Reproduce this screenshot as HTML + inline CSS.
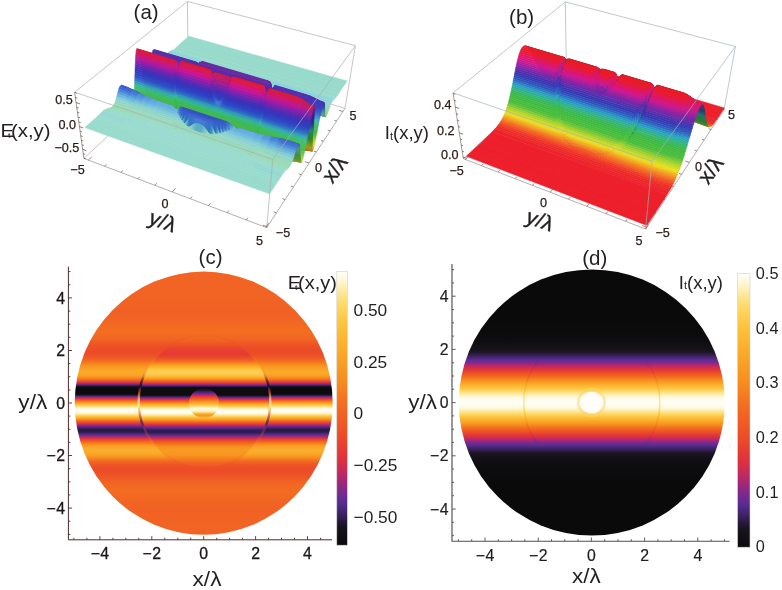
<!DOCTYPE html>
<html><head><meta charset="utf-8"><title>Figure</title>
<style>html,body{margin:0;padding:0;background:#fff}svg{display:block}text{font-family:"Liberation Sans",sans-serif}</style></head>
<body>
<svg width="782" height="590" viewBox="0 0 782 590">
<defs>
<linearGradient id="gc0" gradientUnits="userSpaceOnUse" x1="0" y1="271.60" x2="0" y2="534.80"><stop offset="0.0000" stop-color="#f16423"/><stop offset="0.0063" stop-color="#f16423"/><stop offset="0.0125" stop-color="#f16423"/><stop offset="0.0187" stop-color="#f16423"/><stop offset="0.0250" stop-color="#f16423"/><stop offset="0.0312" stop-color="#f16423"/><stop offset="0.0375" stop-color="#f16423"/><stop offset="0.0437" stop-color="#f16423"/><stop offset="0.0500" stop-color="#f16423"/><stop offset="0.0563" stop-color="#f16423"/><stop offset="0.0625" stop-color="#f16423"/><stop offset="0.0688" stop-color="#f16423"/><stop offset="0.0750" stop-color="#f16423"/><stop offset="0.0813" stop-color="#f16423"/><stop offset="0.0875" stop-color="#f16423"/><stop offset="0.0938" stop-color="#f16423"/><stop offset="0.1000" stop-color="#f16423"/><stop offset="0.1062" stop-color="#f16323"/><stop offset="0.1125" stop-color="#f16323"/><stop offset="0.1187" stop-color="#f16323"/><stop offset="0.1250" stop-color="#f16223"/><stop offset="0.1313" stop-color="#f16223"/><stop offset="0.1375" stop-color="#f16223"/><stop offset="0.1437" stop-color="#f06124"/><stop offset="0.1500" stop-color="#f06124"/><stop offset="0.1562" stop-color="#f06124"/><stop offset="0.1625" stop-color="#f16223"/><stop offset="0.1688" stop-color="#f16223"/><stop offset="0.1750" stop-color="#f16323"/><stop offset="0.1812" stop-color="#f16423"/><stop offset="0.1875" stop-color="#f16623"/><stop offset="0.1938" stop-color="#f26722"/><stop offset="0.2000" stop-color="#f26922"/><stop offset="0.2062" stop-color="#f26b22"/><stop offset="0.2125" stop-color="#f36c21"/><stop offset="0.2188" stop-color="#f36d21"/><stop offset="0.2250" stop-color="#f36d21"/><stop offset="0.2313" stop-color="#f36d21"/><stop offset="0.2375" stop-color="#f36c21"/><stop offset="0.2437" stop-color="#f26a22"/><stop offset="0.2500" stop-color="#f26722"/><stop offset="0.2562" stop-color="#f16423"/><stop offset="0.2625" stop-color="#f06024"/><stop offset="0.2687" stop-color="#ef5b25"/><stop offset="0.2750" stop-color="#ee5726"/><stop offset="0.2812" stop-color="#ed5227"/><stop offset="0.2875" stop-color="#ed4f27"/><stop offset="0.2938" stop-color="#ec4c28"/><stop offset="0.3000" stop-color="#ec4b28"/><stop offset="0.3063" stop-color="#ec4b28"/><stop offset="0.3125" stop-color="#ec4d28"/><stop offset="0.3187" stop-color="#ed5127"/><stop offset="0.3250" stop-color="#ee5726"/><stop offset="0.3312" stop-color="#f05f24"/><stop offset="0.3375" stop-color="#f26922"/><stop offset="0.3438" stop-color="#f47620"/><stop offset="0.3500" stop-color="#f6841f"/><stop offset="0.3563" stop-color="#f79120"/><stop offset="0.3625" stop-color="#f99a23"/><stop offset="0.3688" stop-color="#f9a126"/><stop offset="0.3750" stop-color="#faa627"/><stop offset="0.3812" stop-color="#faa928"/><stop offset="0.3875" stop-color="#faa828"/><stop offset="0.3937" stop-color="#f9a226"/><stop offset="0.4000" stop-color="#f89622"/><stop offset="0.4062" stop-color="#f5801f"/><stop offset="0.4125" stop-color="#f16223"/><stop offset="0.4188" stop-color="#e84130"/><stop offset="0.4250" stop-color="#b5286a"/><stop offset="0.4313" stop-color="#4b287b"/><stop offset="0.4375" stop-color="#120f15"/><stop offset="0.4437" stop-color="#0a0a0a"/><stop offset="0.4500" stop-color="#0a0a0a"/><stop offset="0.4562" stop-color="#0a0a0a"/><stop offset="0.4625" stop-color="#0a0a0a"/><stop offset="0.4688" stop-color="#1c1524"/><stop offset="0.4750" stop-color="#6b2b92"/><stop offset="0.4813" stop-color="#d42e4b"/><stop offset="0.4875" stop-color="#ee5426"/><stop offset="0.4938" stop-color="#f57f1f"/><stop offset="0.5000" stop-color="#faa627"/><stop offset="0.5062" stop-color="#fcc33e"/><stop offset="0.5125" stop-color="#fedf7f"/><stop offset="0.5188" stop-color="#fff6d2"/><stop offset="0.5250" stop-color="#fffdf2"/><stop offset="0.5312" stop-color="#fffdf3"/><stop offset="0.5375" stop-color="#fff6d3"/><stop offset="0.5437" stop-color="#fee081"/><stop offset="0.5500" stop-color="#fcc540"/><stop offset="0.5563" stop-color="#faa929"/><stop offset="0.5625" stop-color="#f6881e"/><stop offset="0.5687" stop-color="#f05f24"/><stop offset="0.5750" stop-color="#e63e33"/><stop offset="0.5813" stop-color="#bd2864"/><stop offset="0.5875" stop-color="#6f2a91"/><stop offset="0.5938" stop-color="#42256e"/><stop offset="0.6000" stop-color="#2c1c44"/><stop offset="0.6062" stop-color="#281b3d"/><stop offset="0.6125" stop-color="#39225d"/><stop offset="0.6188" stop-color="#572c90"/><stop offset="0.6250" stop-color="#922881"/><stop offset="0.6312" stop-color="#d02d4f"/><stop offset="0.6375" stop-color="#e8432f"/><stop offset="0.6438" stop-color="#ef5c25"/><stop offset="0.6500" stop-color="#f47420"/><stop offset="0.6562" stop-color="#f78d1e"/><stop offset="0.6625" stop-color="#f99d24"/><stop offset="0.6687" stop-color="#faa828"/><stop offset="0.6750" stop-color="#faad2c"/><stop offset="0.6813" stop-color="#faae2c"/><stop offset="0.6875" stop-color="#faab2a"/><stop offset="0.6937" stop-color="#faa427"/><stop offset="0.7000" stop-color="#f89a23"/><stop offset="0.7063" stop-color="#f78e1f"/><stop offset="0.7125" stop-color="#f57d1f"/><stop offset="0.7188" stop-color="#f36d21"/><stop offset="0.7250" stop-color="#f16223"/><stop offset="0.7312" stop-color="#ef5925"/><stop offset="0.7375" stop-color="#ed5227"/><stop offset="0.7438" stop-color="#ed4e27"/><stop offset="0.7500" stop-color="#ec4c28"/><stop offset="0.7562" stop-color="#ec4c28"/><stop offset="0.7625" stop-color="#ed4e27"/><stop offset="0.7688" stop-color="#ed5027"/><stop offset="0.7750" stop-color="#ee5326"/><stop offset="0.7812" stop-color="#ee5726"/><stop offset="0.7875" stop-color="#ef5b25"/><stop offset="0.7937" stop-color="#f05f24"/><stop offset="0.8000" stop-color="#f16323"/><stop offset="0.8063" stop-color="#f16623"/><stop offset="0.8125" stop-color="#f26822"/><stop offset="0.8187" stop-color="#f26a22"/><stop offset="0.8250" stop-color="#f26b22"/><stop offset="0.8313" stop-color="#f36c21"/><stop offset="0.8375" stop-color="#f26b22"/><stop offset="0.8438" stop-color="#f26b22"/><stop offset="0.8500" stop-color="#f26a22"/><stop offset="0.8562" stop-color="#f26922"/><stop offset="0.8625" stop-color="#f26722"/><stop offset="0.8688" stop-color="#f16623"/><stop offset="0.8750" stop-color="#f16523"/><stop offset="0.8812" stop-color="#f16323"/><stop offset="0.8875" stop-color="#f16323"/><stop offset="0.8938" stop-color="#f16223"/><stop offset="0.9000" stop-color="#f06124"/><stop offset="0.9062" stop-color="#f06124"/><stop offset="0.9125" stop-color="#f06124"/><stop offset="0.9187" stop-color="#f16223"/><stop offset="0.9250" stop-color="#f16223"/><stop offset="0.9313" stop-color="#f16223"/><stop offset="0.9375" stop-color="#f16323"/><stop offset="0.9437" stop-color="#f16323"/><stop offset="0.9500" stop-color="#f16323"/><stop offset="0.9563" stop-color="#f16423"/><stop offset="0.9625" stop-color="#f16423"/><stop offset="0.9688" stop-color="#f16423"/><stop offset="0.9750" stop-color="#f16423"/><stop offset="0.9812" stop-color="#f16423"/><stop offset="0.9875" stop-color="#f16423"/><stop offset="0.9938" stop-color="#f16423"/><stop offset="1.0000" stop-color="#f16423"/></linearGradient>
<linearGradient id="gc1" gradientUnits="userSpaceOnUse" x1="0" y1="337.45" x2="0" y2="468.95"><stop offset="0.0000" stop-color="#f26b22"/><stop offset="0.0100" stop-color="#f26822"/><stop offset="0.0200" stop-color="#f16423"/><stop offset="0.0300" stop-color="#f05f24"/><stop offset="0.0400" stop-color="#ef5a25"/><stop offset="0.0500" stop-color="#ee5526"/><stop offset="0.0600" stop-color="#ed5027"/><stop offset="0.0700" stop-color="#ec4b28"/><stop offset="0.0800" stop-color="#ea462c"/><stop offset="0.0900" stop-color="#e8422f"/><stop offset="0.1000" stop-color="#e73f31"/><stop offset="0.1100" stop-color="#e63e33"/><stop offset="0.1200" stop-color="#e63d33"/><stop offset="0.1300" stop-color="#e63e32"/><stop offset="0.1400" stop-color="#e8422f"/><stop offset="0.1500" stop-color="#eb492a"/><stop offset="0.1600" stop-color="#ed5127"/><stop offset="0.1700" stop-color="#ef5c25"/><stop offset="0.1800" stop-color="#f26922"/><stop offset="0.1900" stop-color="#f57b20"/><stop offset="0.2000" stop-color="#f78f1f"/><stop offset="0.2100" stop-color="#f99e25"/><stop offset="0.2200" stop-color="#faad2b"/><stop offset="0.2300" stop-color="#fbb834"/><stop offset="0.2400" stop-color="#fcc23c"/><stop offset="0.2500" stop-color="#fcca4b"/><stop offset="0.2600" stop-color="#fdce52"/><stop offset="0.2700" stop-color="#fdce52"/><stop offset="0.2800" stop-color="#fcc949"/><stop offset="0.2900" stop-color="#fcbf39"/><stop offset="0.3000" stop-color="#fbb330"/><stop offset="0.3100" stop-color="#f9a126"/><stop offset="0.3200" stop-color="#f78a1e"/><stop offset="0.3300" stop-color="#f26922"/><stop offset="0.3400" stop-color="#ec4d28"/><stop offset="0.3500" stop-color="#d82f46"/><stop offset="0.3600" stop-color="#892888"/><stop offset="0.3700" stop-color="#3e2467"/><stop offset="0.3800" stop-color="#131016"/><stop offset="0.3900" stop-color="#0a0a0a"/><stop offset="0.4000" stop-color="#0a0a0a"/><stop offset="0.4100" stop-color="#0a0a0a"/><stop offset="0.4200" stop-color="#0a0a0a"/><stop offset="0.4300" stop-color="#0a0a0a"/><stop offset="0.4400" stop-color="#120f15"/><stop offset="0.4500" stop-color="#38215c"/><stop offset="0.4600" stop-color="#7e288d"/><stop offset="0.4700" stop-color="#d22e4d"/><stop offset="0.4800" stop-color="#ec4b28"/><stop offset="0.4900" stop-color="#f26a22"/><stop offset="0.5000" stop-color="#f78f1f"/><stop offset="0.5100" stop-color="#faab2a"/><stop offset="0.5200" stop-color="#fcc13b"/><stop offset="0.5300" stop-color="#fdd869"/><stop offset="0.5400" stop-color="#feecac"/><stop offset="0.5500" stop-color="#fff9e1"/><stop offset="0.5600" stop-color="#fffdf2"/><stop offset="0.5700" stop-color="#fffdf1"/><stop offset="0.5800" stop-color="#fff8dd"/><stop offset="0.5900" stop-color="#fee9a2"/><stop offset="0.6000" stop-color="#fdd560"/><stop offset="0.6100" stop-color="#fcbf39"/><stop offset="0.6200" stop-color="#faaa2a"/><stop offset="0.6300" stop-color="#f79120"/><stop offset="0.6400" stop-color="#f36f21"/><stop offset="0.6500" stop-color="#ee5426"/><stop offset="0.6600" stop-color="#e43936"/><stop offset="0.6700" stop-color="#c22960"/><stop offset="0.6800" stop-color="#83288b"/><stop offset="0.6900" stop-color="#552b8c"/><stop offset="0.7000" stop-color="#3d2365"/><stop offset="0.7100" stop-color="#2f1d4a"/><stop offset="0.7200" stop-color="#2f1d49"/><stop offset="0.7300" stop-color="#3b2363"/><stop offset="0.7400" stop-color="#522a87"/><stop offset="0.7500" stop-color="#7a298e"/><stop offset="0.7600" stop-color="#b0286d"/><stop offset="0.7700" stop-color="#d93045"/><stop offset="0.7800" stop-color="#e84130"/><stop offset="0.7900" stop-color="#ee5326"/><stop offset="0.8000" stop-color="#f16423"/><stop offset="0.8100" stop-color="#f47320"/><stop offset="0.8200" stop-color="#f6831f"/><stop offset="0.8300" stop-color="#f78e1f"/><stop offset="0.8400" stop-color="#f89421"/><stop offset="0.8500" stop-color="#f89822"/><stop offset="0.8600" stop-color="#f89a23"/><stop offset="0.8700" stop-color="#f89a23"/><stop offset="0.8800" stop-color="#f89822"/><stop offset="0.8900" stop-color="#f89521"/><stop offset="0.9000" stop-color="#f7901f"/><stop offset="0.9100" stop-color="#f78a1e"/><stop offset="0.9200" stop-color="#f6811f"/><stop offset="0.9300" stop-color="#f47820"/><stop offset="0.9400" stop-color="#f36f21"/><stop offset="0.9500" stop-color="#f26822"/><stop offset="0.9600" stop-color="#f06124"/><stop offset="0.9700" stop-color="#ef5c25"/><stop offset="0.9800" stop-color="#ee5726"/><stop offset="0.9900" stop-color="#ee5326"/><stop offset="1.0000" stop-color="#ed5027"/></linearGradient>
<linearGradient id="gc2" gradientUnits="userSpaceOnUse" x1="0" y1="388.20" x2="0" y2="418.20"><stop offset="0.0000" stop-color="#141117"/><stop offset="0.0333" stop-color="#16121b"/><stop offset="0.0667" stop-color="#1b1522"/><stop offset="0.1000" stop-color="#311e4f"/><stop offset="0.1333" stop-color="#462675"/><stop offset="0.1667" stop-color="#5a2d95"/><stop offset="0.2000" stop-color="#892887"/><stop offset="0.2333" stop-color="#bf2863"/><stop offset="0.2667" stop-color="#df313e"/><stop offset="0.3000" stop-color="#e8422f"/><stop offset="0.3333" stop-color="#ee5326"/><stop offset="0.3667" stop-color="#f16323"/><stop offset="0.4000" stop-color="#f47620"/><stop offset="0.4333" stop-color="#f78d1e"/><stop offset="0.4667" stop-color="#f99e24"/><stop offset="0.5000" stop-color="#faae2c"/><stop offset="0.5333" stop-color="#fcbd37"/><stop offset="0.5667" stop-color="#fdcb4d"/><stop offset="0.6000" stop-color="#fdd96d"/><stop offset="0.6333" stop-color="#fee99f"/><stop offset="0.6667" stop-color="#fff9de"/><stop offset="0.7000" stop-color="#fff9e0"/><stop offset="0.7333" stop-color="#fff5d0"/><stop offset="0.7667" stop-color="#fef1be"/><stop offset="0.8000" stop-color="#fee289"/><stop offset="0.8333" stop-color="#fcc33d"/><stop offset="0.8667" stop-color="#faa929"/><stop offset="0.9000" stop-color="#f89421"/><stop offset="0.9333" stop-color="#f9a125"/><stop offset="0.9667" stop-color="#faad2c"/><stop offset="1.0000" stop-color="#fbb934"/></linearGradient>
<linearGradient id="gc3" gradientUnits="userSpaceOnUse" x1="0" y1="263.60" x2="0" y2="526.80"><stop offset="0.0000" stop-color="#f16423"/><stop offset="0.0063" stop-color="#f16423"/><stop offset="0.0125" stop-color="#f16423"/><stop offset="0.0187" stop-color="#f16423"/><stop offset="0.0250" stop-color="#f16423"/><stop offset="0.0312" stop-color="#f16423"/><stop offset="0.0375" stop-color="#f16423"/><stop offset="0.0437" stop-color="#f16423"/><stop offset="0.0500" stop-color="#f16423"/><stop offset="0.0563" stop-color="#f16423"/><stop offset="0.0625" stop-color="#f16423"/><stop offset="0.0688" stop-color="#f16423"/><stop offset="0.0750" stop-color="#f16423"/><stop offset="0.0813" stop-color="#f16423"/><stop offset="0.0875" stop-color="#f16423"/><stop offset="0.0938" stop-color="#f16423"/><stop offset="0.1000" stop-color="#f16423"/><stop offset="0.1062" stop-color="#f16323"/><stop offset="0.1125" stop-color="#f16323"/><stop offset="0.1187" stop-color="#f16323"/><stop offset="0.1250" stop-color="#f16223"/><stop offset="0.1313" stop-color="#f16223"/><stop offset="0.1375" stop-color="#f16223"/><stop offset="0.1437" stop-color="#f06124"/><stop offset="0.1500" stop-color="#f06124"/><stop offset="0.1562" stop-color="#f06124"/><stop offset="0.1625" stop-color="#f16223"/><stop offset="0.1688" stop-color="#f16223"/><stop offset="0.1750" stop-color="#f16323"/><stop offset="0.1812" stop-color="#f16423"/><stop offset="0.1875" stop-color="#f16623"/><stop offset="0.1938" stop-color="#f26722"/><stop offset="0.2000" stop-color="#f26922"/><stop offset="0.2062" stop-color="#f26b22"/><stop offset="0.2125" stop-color="#f36c21"/><stop offset="0.2188" stop-color="#f36d21"/><stop offset="0.2250" stop-color="#f36d21"/><stop offset="0.2313" stop-color="#f36d21"/><stop offset="0.2375" stop-color="#f36c21"/><stop offset="0.2437" stop-color="#f26a22"/><stop offset="0.2500" stop-color="#f26722"/><stop offset="0.2562" stop-color="#f16423"/><stop offset="0.2625" stop-color="#f06024"/><stop offset="0.2687" stop-color="#ef5b25"/><stop offset="0.2750" stop-color="#ee5726"/><stop offset="0.2812" stop-color="#ed5227"/><stop offset="0.2875" stop-color="#ed4f27"/><stop offset="0.2938" stop-color="#ec4c28"/><stop offset="0.3000" stop-color="#ec4b28"/><stop offset="0.3063" stop-color="#ec4b28"/><stop offset="0.3125" stop-color="#ec4d28"/><stop offset="0.3187" stop-color="#ed5127"/><stop offset="0.3250" stop-color="#ee5726"/><stop offset="0.3312" stop-color="#f05f24"/><stop offset="0.3375" stop-color="#f26922"/><stop offset="0.3438" stop-color="#f47620"/><stop offset="0.3500" stop-color="#f6841f"/><stop offset="0.3563" stop-color="#f79120"/><stop offset="0.3625" stop-color="#f99a23"/><stop offset="0.3688" stop-color="#f9a126"/><stop offset="0.3750" stop-color="#faa627"/><stop offset="0.3812" stop-color="#faa928"/><stop offset="0.3875" stop-color="#faa828"/><stop offset="0.3937" stop-color="#f9a226"/><stop offset="0.4000" stop-color="#f89622"/><stop offset="0.4062" stop-color="#f5801f"/><stop offset="0.4125" stop-color="#f16223"/><stop offset="0.4188" stop-color="#e84130"/><stop offset="0.4250" stop-color="#b5286a"/><stop offset="0.4313" stop-color="#4b287b"/><stop offset="0.4375" stop-color="#120f15"/><stop offset="0.4437" stop-color="#0a0a0a"/><stop offset="0.4500" stop-color="#0a0a0a"/><stop offset="0.4562" stop-color="#0a0a0a"/><stop offset="0.4625" stop-color="#0a0a0a"/><stop offset="0.4688" stop-color="#1c1524"/><stop offset="0.4750" stop-color="#6b2b92"/><stop offset="0.4813" stop-color="#d42e4b"/><stop offset="0.4875" stop-color="#ee5426"/><stop offset="0.4938" stop-color="#f57f1f"/><stop offset="0.5000" stop-color="#faa627"/><stop offset="0.5062" stop-color="#fcc33e"/><stop offset="0.5125" stop-color="#fedf7f"/><stop offset="0.5188" stop-color="#fff6d2"/><stop offset="0.5250" stop-color="#fffdf2"/><stop offset="0.5312" stop-color="#fffdf3"/><stop offset="0.5375" stop-color="#fff6d3"/><stop offset="0.5437" stop-color="#fee081"/><stop offset="0.5500" stop-color="#fcc540"/><stop offset="0.5563" stop-color="#faa929"/><stop offset="0.5625" stop-color="#f6881e"/><stop offset="0.5687" stop-color="#f05f24"/><stop offset="0.5750" stop-color="#e63e33"/><stop offset="0.5813" stop-color="#bd2864"/><stop offset="0.5875" stop-color="#6f2a91"/><stop offset="0.5938" stop-color="#42256e"/><stop offset="0.6000" stop-color="#2c1c44"/><stop offset="0.6062" stop-color="#281b3d"/><stop offset="0.6125" stop-color="#39225d"/><stop offset="0.6188" stop-color="#572c90"/><stop offset="0.6250" stop-color="#922881"/><stop offset="0.6312" stop-color="#d02d4f"/><stop offset="0.6375" stop-color="#e8432f"/><stop offset="0.6438" stop-color="#ef5c25"/><stop offset="0.6500" stop-color="#f47420"/><stop offset="0.6562" stop-color="#f78d1e"/><stop offset="0.6625" stop-color="#f99d24"/><stop offset="0.6687" stop-color="#faa828"/><stop offset="0.6750" stop-color="#faad2c"/><stop offset="0.6813" stop-color="#faae2c"/><stop offset="0.6875" stop-color="#faab2a"/><stop offset="0.6937" stop-color="#faa427"/><stop offset="0.7000" stop-color="#f89a23"/><stop offset="0.7063" stop-color="#f78e1f"/><stop offset="0.7125" stop-color="#f57d1f"/><stop offset="0.7188" stop-color="#f36d21"/><stop offset="0.7250" stop-color="#f16223"/><stop offset="0.7312" stop-color="#ef5925"/><stop offset="0.7375" stop-color="#ed5227"/><stop offset="0.7438" stop-color="#ed4e27"/><stop offset="0.7500" stop-color="#ec4c28"/><stop offset="0.7562" stop-color="#ec4c28"/><stop offset="0.7625" stop-color="#ed4e27"/><stop offset="0.7688" stop-color="#ed5027"/><stop offset="0.7750" stop-color="#ee5326"/><stop offset="0.7812" stop-color="#ee5726"/><stop offset="0.7875" stop-color="#ef5b25"/><stop offset="0.7937" stop-color="#f05f24"/><stop offset="0.8000" stop-color="#f16323"/><stop offset="0.8063" stop-color="#f16623"/><stop offset="0.8125" stop-color="#f26822"/><stop offset="0.8187" stop-color="#f26a22"/><stop offset="0.8250" stop-color="#f26b22"/><stop offset="0.8313" stop-color="#f36c21"/><stop offset="0.8375" stop-color="#f26b22"/><stop offset="0.8438" stop-color="#f26b22"/><stop offset="0.8500" stop-color="#f26a22"/><stop offset="0.8562" stop-color="#f26922"/><stop offset="0.8625" stop-color="#f26722"/><stop offset="0.8688" stop-color="#f16623"/><stop offset="0.8750" stop-color="#f16523"/><stop offset="0.8812" stop-color="#f16323"/><stop offset="0.8875" stop-color="#f16323"/><stop offset="0.8938" stop-color="#f16223"/><stop offset="0.9000" stop-color="#f06124"/><stop offset="0.9062" stop-color="#f06124"/><stop offset="0.9125" stop-color="#f06124"/><stop offset="0.9187" stop-color="#f16223"/><stop offset="0.9250" stop-color="#f16223"/><stop offset="0.9313" stop-color="#f16223"/><stop offset="0.9375" stop-color="#f16323"/><stop offset="0.9437" stop-color="#f16323"/><stop offset="0.9500" stop-color="#f16323"/><stop offset="0.9563" stop-color="#f16423"/><stop offset="0.9625" stop-color="#f16423"/><stop offset="0.9688" stop-color="#f16423"/><stop offset="0.9750" stop-color="#f16423"/><stop offset="0.9812" stop-color="#f16423"/><stop offset="0.9875" stop-color="#f16423"/><stop offset="0.9938" stop-color="#f16423"/><stop offset="1.0000" stop-color="#f16423"/></linearGradient>
<linearGradient id="mkg" gradientUnits="userSpaceOnUse" x1="0" y1="334.4" x2="0" y2="471.9"><stop offset="0" stop-color="#383838"/><stop offset="0.28" stop-color="#383838"/><stop offset="0.36" stop-color="#fff"/><stop offset="0.66" stop-color="#fff"/><stop offset="0.74" stop-color="#383838"/><stop offset="1" stop-color="#383838"/></linearGradient><mask id="mk" maskUnits="userSpaceOnUse" x="0" y="250" width="400" height="320"><rect x="0" y="250" width="400" height="320" fill="url(#mkg)"/></mask>
<filter id="b1" x="-10%" y="-10%" width="120%" height="120%"><feGaussianBlur stdDeviation="0.7"/></filter>
<clipPath id="clc"><ellipse cx="203.7" cy="403.2" rx="129.0" ry="131.6"/></clipPath>
<linearGradient id="gcb" gradientUnits="userSpaceOnUse" x1="0" y1="271.50" x2="0" y2="545.20"><stop offset="0.0000" stop-color="#fffef6"/><stop offset="0.0167" stop-color="#fffbe8"/><stop offset="0.0333" stop-color="#fff7d7"/><stop offset="0.0500" stop-color="#fef2c0"/><stop offset="0.0667" stop-color="#feeba9"/><stop offset="0.0833" stop-color="#fee593"/><stop offset="0.1000" stop-color="#fee081"/><stop offset="0.1167" stop-color="#fdda70"/><stop offset="0.1333" stop-color="#fdd55f"/><stop offset="0.1500" stop-color="#fdd056"/><stop offset="0.1667" stop-color="#fccb4c"/><stop offset="0.1833" stop-color="#fcc643"/><stop offset="0.2000" stop-color="#fcc13a"/><stop offset="0.2167" stop-color="#fcbd37"/><stop offset="0.2333" stop-color="#fbb934"/><stop offset="0.2500" stop-color="#fbb431"/><stop offset="0.2667" stop-color="#fbb02e"/><stop offset="0.2833" stop-color="#faac2b"/><stop offset="0.3000" stop-color="#faa828"/><stop offset="0.3167" stop-color="#faa326"/><stop offset="0.3333" stop-color="#f99f25"/><stop offset="0.3500" stop-color="#f89a23"/><stop offset="0.3667" stop-color="#f89521"/><stop offset="0.3833" stop-color="#f89120"/><stop offset="0.4000" stop-color="#f78c1e"/><stop offset="0.4167" stop-color="#f6861f"/><stop offset="0.4333" stop-color="#f5801f"/><stop offset="0.4500" stop-color="#f47920"/><stop offset="0.4667" stop-color="#f47320"/><stop offset="0.4833" stop-color="#f36d21"/><stop offset="0.5000" stop-color="#f26822"/><stop offset="0.5167" stop-color="#f16323"/><stop offset="0.5333" stop-color="#f05e24"/><stop offset="0.5500" stop-color="#ef5a25"/><stop offset="0.5667" stop-color="#ee5526"/><stop offset="0.5833" stop-color="#ed5027"/><stop offset="0.6000" stop-color="#ec4b28"/><stop offset="0.6167" stop-color="#ea462c"/><stop offset="0.6333" stop-color="#e74130"/><stop offset="0.6500" stop-color="#e53b35"/><stop offset="0.6667" stop-color="#e33639"/><stop offset="0.6833" stop-color="#df313e"/><stop offset="0.7000" stop-color="#d52f49"/><stop offset="0.7167" stop-color="#cc2c54"/><stop offset="0.7333" stop-color="#c22960"/><stop offset="0.7500" stop-color="#b4286b"/><stop offset="0.7667" stop-color="#a32876"/><stop offset="0.7833" stop-color="#932881"/><stop offset="0.8000" stop-color="#82288c"/><stop offset="0.8167" stop-color="#722a90"/><stop offset="0.8333" stop-color="#612c94"/><stop offset="0.8500" stop-color="#542b8b"/><stop offset="0.8667" stop-color="#492778"/><stop offset="0.8833" stop-color="#3d2366"/><stop offset="0.9000" stop-color="#301e4d"/><stop offset="0.9167" stop-color="#231833"/><stop offset="0.9333" stop-color="#18141d"/><stop offset="0.9500" stop-color="#151118"/><stop offset="0.9667" stop-color="#110f14"/><stop offset="0.9833" stop-color="#0e0c0f"/><stop offset="1.0000" stop-color="#0a0a0a"/></linearGradient>
<linearGradient id="gd0" gradientUnits="userSpaceOnUse" x1="0" y1="269.50" x2="0" y2="535.50"><stop offset="0.0000" stop-color="#0a0a0a"/><stop offset="0.0063" stop-color="#0a0a0a"/><stop offset="0.0125" stop-color="#0a0a0a"/><stop offset="0.0187" stop-color="#0a0a0a"/><stop offset="0.0250" stop-color="#0a0a0a"/><stop offset="0.0312" stop-color="#0a0a0a"/><stop offset="0.0375" stop-color="#0a0a0a"/><stop offset="0.0437" stop-color="#0a0a0a"/><stop offset="0.0500" stop-color="#0a0a0a"/><stop offset="0.0563" stop-color="#0a0a0a"/><stop offset="0.0625" stop-color="#0a0a0a"/><stop offset="0.0688" stop-color="#0a0a0a"/><stop offset="0.0750" stop-color="#0a0a0a"/><stop offset="0.0813" stop-color="#0a0a0a"/><stop offset="0.0875" stop-color="#0a0a0a"/><stop offset="0.0938" stop-color="#0a0a0a"/><stop offset="0.1000" stop-color="#0a0a0a"/><stop offset="0.1062" stop-color="#0a0a0a"/><stop offset="0.1125" stop-color="#0a0a0a"/><stop offset="0.1187" stop-color="#0a0a0a"/><stop offset="0.1250" stop-color="#0a0a0a"/><stop offset="0.1313" stop-color="#0a0a0a"/><stop offset="0.1375" stop-color="#0a0a0a"/><stop offset="0.1437" stop-color="#0a0a0a"/><stop offset="0.1500" stop-color="#0a0a0a"/><stop offset="0.1562" stop-color="#0a0a0a"/><stop offset="0.1625" stop-color="#0a0a0a"/><stop offset="0.1688" stop-color="#0a0a0a"/><stop offset="0.1750" stop-color="#0a0a0a"/><stop offset="0.1812" stop-color="#0a0a0a"/><stop offset="0.1875" stop-color="#0a0a0a"/><stop offset="0.1938" stop-color="#0a0a0a"/><stop offset="0.2000" stop-color="#0a0a0a"/><stop offset="0.2062" stop-color="#0a0a0b"/><stop offset="0.2125" stop-color="#0b0a0b"/><stop offset="0.2188" stop-color="#0b0b0b"/><stop offset="0.2250" stop-color="#0b0b0b"/><stop offset="0.2313" stop-color="#0b0b0c"/><stop offset="0.2375" stop-color="#0c0b0c"/><stop offset="0.2437" stop-color="#0c0b0d"/><stop offset="0.2500" stop-color="#0c0c0d"/><stop offset="0.2562" stop-color="#0d0c0e"/><stop offset="0.2625" stop-color="#0e0d0f"/><stop offset="0.2687" stop-color="#0f0d10"/><stop offset="0.2750" stop-color="#100e12"/><stop offset="0.2812" stop-color="#110f13"/><stop offset="0.2875" stop-color="#131015"/><stop offset="0.2938" stop-color="#141118"/><stop offset="0.3000" stop-color="#16121a"/><stop offset="0.3063" stop-color="#19141e"/><stop offset="0.3125" stop-color="#22182f"/><stop offset="0.3187" stop-color="#2d1d46"/><stop offset="0.3250" stop-color="#3a2260"/><stop offset="0.3312" stop-color="#472776"/><stop offset="0.3375" stop-color="#552b8d"/><stop offset="0.3438" stop-color="#692b92"/><stop offset="0.3500" stop-color="#82288c"/><stop offset="0.3563" stop-color="#9f2879"/><stop offset="0.3625" stop-color="#bd2865"/><stop offset="0.3688" stop-color="#d12d4f"/><stop offset="0.3750" stop-color="#e2343a"/><stop offset="0.3812" stop-color="#e74031"/><stop offset="0.3875" stop-color="#ec4c28"/><stop offset="0.3937" stop-color="#ef5925"/><stop offset="0.4000" stop-color="#f16523"/><stop offset="0.4062" stop-color="#f47320"/><stop offset="0.4125" stop-color="#f6841f"/><stop offset="0.4188" stop-color="#f89320"/><stop offset="0.4250" stop-color="#f99f25"/><stop offset="0.4313" stop-color="#faab2a"/><stop offset="0.4375" stop-color="#fbb632"/><stop offset="0.4437" stop-color="#fcc03a"/><stop offset="0.4500" stop-color="#fdcc4e"/><stop offset="0.4562" stop-color="#fdd764"/><stop offset="0.4625" stop-color="#fee186"/><stop offset="0.4688" stop-color="#feeba8"/><stop offset="0.4750" stop-color="#fef4c9"/><stop offset="0.4813" stop-color="#fff9e1"/><stop offset="0.4875" stop-color="#fffcec"/><stop offset="0.4938" stop-color="#fffdf4"/><stop offset="0.5000" stop-color="#fffef6"/><stop offset="0.5062" stop-color="#fffdf4"/><stop offset="0.5125" stop-color="#fffcec"/><stop offset="0.5188" stop-color="#fff9e1"/><stop offset="0.5250" stop-color="#fef4c9"/><stop offset="0.5312" stop-color="#feeba8"/><stop offset="0.5375" stop-color="#fee186"/><stop offset="0.5437" stop-color="#fdd764"/><stop offset="0.5500" stop-color="#fdcc4e"/><stop offset="0.5563" stop-color="#fcc03a"/><stop offset="0.5625" stop-color="#fbb632"/><stop offset="0.5687" stop-color="#faab2a"/><stop offset="0.5750" stop-color="#f99f25"/><stop offset="0.5813" stop-color="#f89320"/><stop offset="0.5875" stop-color="#f6841f"/><stop offset="0.5938" stop-color="#f47320"/><stop offset="0.6000" stop-color="#f16523"/><stop offset="0.6062" stop-color="#ef5925"/><stop offset="0.6125" stop-color="#ec4c28"/><stop offset="0.6188" stop-color="#e74031"/><stop offset="0.6250" stop-color="#e2343a"/><stop offset="0.6312" stop-color="#d12d4f"/><stop offset="0.6375" stop-color="#bd2865"/><stop offset="0.6438" stop-color="#9f2879"/><stop offset="0.6500" stop-color="#82288c"/><stop offset="0.6562" stop-color="#692b92"/><stop offset="0.6625" stop-color="#552b8d"/><stop offset="0.6687" stop-color="#472776"/><stop offset="0.6750" stop-color="#3a2260"/><stop offset="0.6813" stop-color="#2d1d46"/><stop offset="0.6875" stop-color="#22182f"/><stop offset="0.6937" stop-color="#19141e"/><stop offset="0.7000" stop-color="#16121a"/><stop offset="0.7063" stop-color="#141118"/><stop offset="0.7125" stop-color="#131015"/><stop offset="0.7188" stop-color="#110f13"/><stop offset="0.7250" stop-color="#100e12"/><stop offset="0.7312" stop-color="#0f0d10"/><stop offset="0.7375" stop-color="#0e0d0f"/><stop offset="0.7438" stop-color="#0d0c0e"/><stop offset="0.7500" stop-color="#0c0c0d"/><stop offset="0.7562" stop-color="#0c0b0d"/><stop offset="0.7625" stop-color="#0c0b0c"/><stop offset="0.7688" stop-color="#0b0b0c"/><stop offset="0.7750" stop-color="#0b0b0b"/><stop offset="0.7812" stop-color="#0b0b0b"/><stop offset="0.7875" stop-color="#0b0a0b"/><stop offset="0.7937" stop-color="#0a0a0b"/><stop offset="0.8000" stop-color="#0a0a0a"/><stop offset="0.8063" stop-color="#0a0a0a"/><stop offset="0.8125" stop-color="#0a0a0a"/><stop offset="0.8187" stop-color="#0a0a0a"/><stop offset="0.8250" stop-color="#0a0a0a"/><stop offset="0.8313" stop-color="#0a0a0a"/><stop offset="0.8375" stop-color="#0a0a0a"/><stop offset="0.8438" stop-color="#0a0a0a"/><stop offset="0.8500" stop-color="#0a0a0a"/><stop offset="0.8562" stop-color="#0a0a0a"/><stop offset="0.8625" stop-color="#0a0a0a"/><stop offset="0.8688" stop-color="#0a0a0a"/><stop offset="0.8750" stop-color="#0a0a0a"/><stop offset="0.8812" stop-color="#0a0a0a"/><stop offset="0.8875" stop-color="#0a0a0a"/><stop offset="0.8938" stop-color="#0a0a0a"/><stop offset="0.9000" stop-color="#0a0a0a"/><stop offset="0.9062" stop-color="#0a0a0a"/><stop offset="0.9125" stop-color="#0a0a0a"/><stop offset="0.9187" stop-color="#0a0a0a"/><stop offset="0.9250" stop-color="#0a0a0a"/><stop offset="0.9313" stop-color="#0a0a0a"/><stop offset="0.9375" stop-color="#0a0a0a"/><stop offset="0.9437" stop-color="#0a0a0a"/><stop offset="0.9500" stop-color="#0a0a0a"/><stop offset="0.9563" stop-color="#0a0a0a"/><stop offset="0.9625" stop-color="#0a0a0a"/><stop offset="0.9688" stop-color="#0a0a0a"/><stop offset="0.9750" stop-color="#0a0a0a"/><stop offset="0.9812" stop-color="#0a0a0a"/><stop offset="0.9875" stop-color="#0a0a0a"/><stop offset="0.9938" stop-color="#0a0a0a"/><stop offset="1.0000" stop-color="#0a0a0a"/></linearGradient>
<linearGradient id="gd1" gradientUnits="userSpaceOnUse" x1="0" y1="269.50" x2="0" y2="535.50"><stop offset="0.0000" stop-color="#0a0a0a"/><stop offset="0.0063" stop-color="#0a0a0a"/><stop offset="0.0125" stop-color="#0a0a0a"/><stop offset="0.0187" stop-color="#0a0a0a"/><stop offset="0.0250" stop-color="#0a0a0a"/><stop offset="0.0312" stop-color="#0a0a0a"/><stop offset="0.0375" stop-color="#0a0a0a"/><stop offset="0.0437" stop-color="#0a0a0a"/><stop offset="0.0500" stop-color="#0a0a0a"/><stop offset="0.0563" stop-color="#0a0a0a"/><stop offset="0.0625" stop-color="#0a0a0a"/><stop offset="0.0688" stop-color="#0a0a0a"/><stop offset="0.0750" stop-color="#0a0a0a"/><stop offset="0.0813" stop-color="#0a0a0a"/><stop offset="0.0875" stop-color="#0a0a0a"/><stop offset="0.0938" stop-color="#0a0a0a"/><stop offset="0.1000" stop-color="#0a0a0a"/><stop offset="0.1062" stop-color="#0a0a0a"/><stop offset="0.1125" stop-color="#0a0a0a"/><stop offset="0.1187" stop-color="#0a0a0a"/><stop offset="0.1250" stop-color="#0a0a0a"/><stop offset="0.1313" stop-color="#0a0a0a"/><stop offset="0.1375" stop-color="#0a0a0a"/><stop offset="0.1437" stop-color="#0a0a0a"/><stop offset="0.1500" stop-color="#0a0a0a"/><stop offset="0.1562" stop-color="#0a0a0a"/><stop offset="0.1625" stop-color="#0a0a0a"/><stop offset="0.1688" stop-color="#0a0a0a"/><stop offset="0.1750" stop-color="#0a0a0a"/><stop offset="0.1812" stop-color="#0a0a0a"/><stop offset="0.1875" stop-color="#0a0a0a"/><stop offset="0.1938" stop-color="#0a0a0a"/><stop offset="0.2000" stop-color="#0a0a0a"/><stop offset="0.2062" stop-color="#0a0a0b"/><stop offset="0.2125" stop-color="#0b0a0b"/><stop offset="0.2188" stop-color="#0b0a0b"/><stop offset="0.2250" stop-color="#0b0b0b"/><stop offset="0.2313" stop-color="#0b0b0b"/><stop offset="0.2375" stop-color="#0b0b0c"/><stop offset="0.2437" stop-color="#0c0b0c"/><stop offset="0.2500" stop-color="#0c0b0d"/><stop offset="0.2562" stop-color="#0d0c0e"/><stop offset="0.2625" stop-color="#0d0c0f"/><stop offset="0.2687" stop-color="#0e0d10"/><stop offset="0.2750" stop-color="#0f0d11"/><stop offset="0.2812" stop-color="#100e12"/><stop offset="0.2875" stop-color="#120f14"/><stop offset="0.2938" stop-color="#131016"/><stop offset="0.3000" stop-color="#151119"/><stop offset="0.3063" stop-color="#17131c"/><stop offset="0.3125" stop-color="#1b1523"/><stop offset="0.3187" stop-color="#261937"/><stop offset="0.3250" stop-color="#311e4e"/><stop offset="0.3312" stop-color="#3e2467"/><stop offset="0.3375" stop-color="#4b287c"/><stop offset="0.3438" stop-color="#592c93"/><stop offset="0.3500" stop-color="#6f2a91"/><stop offset="0.3563" stop-color="#882888"/><stop offset="0.3625" stop-color="#a32876"/><stop offset="0.3688" stop-color="#c02862"/><stop offset="0.3750" stop-color="#d22e4d"/><stop offset="0.3812" stop-color="#e2353a"/><stop offset="0.3875" stop-color="#e74031"/><stop offset="0.3937" stop-color="#ec4c28"/><stop offset="0.4000" stop-color="#ee5726"/><stop offset="0.4062" stop-color="#f16223"/><stop offset="0.4125" stop-color="#f36e21"/><stop offset="0.4188" stop-color="#f57e1f"/><stop offset="0.4250" stop-color="#f78d1e"/><stop offset="0.4313" stop-color="#f89822"/><stop offset="0.4375" stop-color="#f9a326"/><stop offset="0.4437" stop-color="#faac2b"/><stop offset="0.4500" stop-color="#fbb532"/><stop offset="0.4562" stop-color="#fcbd37"/><stop offset="0.4625" stop-color="#fcc542"/><stop offset="0.4688" stop-color="#fdcd50"/><stop offset="0.4750" stop-color="#fdd35c"/><stop offset="0.4813" stop-color="#fdd86a"/><stop offset="0.4875" stop-color="#fddc77"/><stop offset="0.4938" stop-color="#fedf7f"/><stop offset="0.5000" stop-color="#fee081"/><stop offset="0.5062" stop-color="#fedf7f"/><stop offset="0.5125" stop-color="#fddc77"/><stop offset="0.5188" stop-color="#fdd86a"/><stop offset="0.5250" stop-color="#fdd35c"/><stop offset="0.5312" stop-color="#fdcd50"/><stop offset="0.5375" stop-color="#fcc542"/><stop offset="0.5437" stop-color="#fcbd37"/><stop offset="0.5500" stop-color="#fbb532"/><stop offset="0.5563" stop-color="#faac2b"/><stop offset="0.5625" stop-color="#f9a326"/><stop offset="0.5687" stop-color="#f89822"/><stop offset="0.5750" stop-color="#f78d1e"/><stop offset="0.5813" stop-color="#f57e1f"/><stop offset="0.5875" stop-color="#f36e21"/><stop offset="0.5938" stop-color="#f16223"/><stop offset="0.6000" stop-color="#ee5726"/><stop offset="0.6062" stop-color="#ec4c28"/><stop offset="0.6125" stop-color="#e74031"/><stop offset="0.6188" stop-color="#e2353a"/><stop offset="0.6250" stop-color="#d22e4d"/><stop offset="0.6312" stop-color="#c02862"/><stop offset="0.6375" stop-color="#a32876"/><stop offset="0.6438" stop-color="#882888"/><stop offset="0.6500" stop-color="#6f2a91"/><stop offset="0.6562" stop-color="#592c93"/><stop offset="0.6625" stop-color="#4b287c"/><stop offset="0.6687" stop-color="#3e2467"/><stop offset="0.6750" stop-color="#311e4e"/><stop offset="0.6813" stop-color="#261937"/><stop offset="0.6875" stop-color="#1b1523"/><stop offset="0.6937" stop-color="#17131c"/><stop offset="0.7000" stop-color="#151119"/><stop offset="0.7063" stop-color="#131016"/><stop offset="0.7125" stop-color="#120f14"/><stop offset="0.7188" stop-color="#100e12"/><stop offset="0.7250" stop-color="#0f0d11"/><stop offset="0.7312" stop-color="#0e0d10"/><stop offset="0.7375" stop-color="#0d0c0f"/><stop offset="0.7438" stop-color="#0d0c0e"/><stop offset="0.7500" stop-color="#0c0b0d"/><stop offset="0.7562" stop-color="#0c0b0c"/><stop offset="0.7625" stop-color="#0b0b0c"/><stop offset="0.7688" stop-color="#0b0b0b"/><stop offset="0.7750" stop-color="#0b0b0b"/><stop offset="0.7812" stop-color="#0b0a0b"/><stop offset="0.7875" stop-color="#0b0a0b"/><stop offset="0.7937" stop-color="#0a0a0b"/><stop offset="0.8000" stop-color="#0a0a0a"/><stop offset="0.8063" stop-color="#0a0a0a"/><stop offset="0.8125" stop-color="#0a0a0a"/><stop offset="0.8187" stop-color="#0a0a0a"/><stop offset="0.8250" stop-color="#0a0a0a"/><stop offset="0.8313" stop-color="#0a0a0a"/><stop offset="0.8375" stop-color="#0a0a0a"/><stop offset="0.8438" stop-color="#0a0a0a"/><stop offset="0.8500" stop-color="#0a0a0a"/><stop offset="0.8562" stop-color="#0a0a0a"/><stop offset="0.8625" stop-color="#0a0a0a"/><stop offset="0.8688" stop-color="#0a0a0a"/><stop offset="0.8750" stop-color="#0a0a0a"/><stop offset="0.8812" stop-color="#0a0a0a"/><stop offset="0.8875" stop-color="#0a0a0a"/><stop offset="0.8938" stop-color="#0a0a0a"/><stop offset="0.9000" stop-color="#0a0a0a"/><stop offset="0.9062" stop-color="#0a0a0a"/><stop offset="0.9125" stop-color="#0a0a0a"/><stop offset="0.9187" stop-color="#0a0a0a"/><stop offset="0.9250" stop-color="#0a0a0a"/><stop offset="0.9313" stop-color="#0a0a0a"/><stop offset="0.9375" stop-color="#0a0a0a"/><stop offset="0.9437" stop-color="#0a0a0a"/><stop offset="0.9500" stop-color="#0a0a0a"/><stop offset="0.9563" stop-color="#0a0a0a"/><stop offset="0.9625" stop-color="#0a0a0a"/><stop offset="0.9688" stop-color="#0a0a0a"/><stop offset="0.9750" stop-color="#0a0a0a"/><stop offset="0.9812" stop-color="#0a0a0a"/><stop offset="0.9875" stop-color="#0a0a0a"/><stop offset="0.9938" stop-color="#0a0a0a"/><stop offset="1.0000" stop-color="#0a0a0a"/></linearGradient>
<clipPath id="cld"><rect x="500" y="360.5" width="190" height="84"/></clipPath>
<linearGradient id="gdb" gradientUnits="userSpaceOnUse" x1="0" y1="273.70" x2="0" y2="547.20"><stop offset="0.0000" stop-color="#fffef6"/><stop offset="0.0167" stop-color="#fffbe8"/><stop offset="0.0333" stop-color="#fff7d7"/><stop offset="0.0500" stop-color="#fef2c0"/><stop offset="0.0667" stop-color="#feeba9"/><stop offset="0.0833" stop-color="#fee593"/><stop offset="0.1000" stop-color="#fee081"/><stop offset="0.1167" stop-color="#fdda70"/><stop offset="0.1333" stop-color="#fdd55f"/><stop offset="0.1500" stop-color="#fdd056"/><stop offset="0.1667" stop-color="#fccb4c"/><stop offset="0.1833" stop-color="#fcc643"/><stop offset="0.2000" stop-color="#fcc13a"/><stop offset="0.2167" stop-color="#fcbd37"/><stop offset="0.2333" stop-color="#fbb934"/><stop offset="0.2500" stop-color="#fbb431"/><stop offset="0.2667" stop-color="#fbb02e"/><stop offset="0.2833" stop-color="#faac2b"/><stop offset="0.3000" stop-color="#faa828"/><stop offset="0.3167" stop-color="#faa326"/><stop offset="0.3333" stop-color="#f99f25"/><stop offset="0.3500" stop-color="#f89a23"/><stop offset="0.3667" stop-color="#f89521"/><stop offset="0.3833" stop-color="#f89120"/><stop offset="0.4000" stop-color="#f78c1e"/><stop offset="0.4167" stop-color="#f6861f"/><stop offset="0.4333" stop-color="#f5801f"/><stop offset="0.4500" stop-color="#f47920"/><stop offset="0.4667" stop-color="#f47320"/><stop offset="0.4833" stop-color="#f36d21"/><stop offset="0.5000" stop-color="#f26822"/><stop offset="0.5167" stop-color="#f16323"/><stop offset="0.5333" stop-color="#f05e24"/><stop offset="0.5500" stop-color="#ef5a25"/><stop offset="0.5667" stop-color="#ee5526"/><stop offset="0.5833" stop-color="#ed5027"/><stop offset="0.6000" stop-color="#ec4b28"/><stop offset="0.6167" stop-color="#ea462c"/><stop offset="0.6333" stop-color="#e74130"/><stop offset="0.6500" stop-color="#e53b35"/><stop offset="0.6667" stop-color="#e33639"/><stop offset="0.6833" stop-color="#df313e"/><stop offset="0.7000" stop-color="#d52f49"/><stop offset="0.7167" stop-color="#cc2c54"/><stop offset="0.7333" stop-color="#c22960"/><stop offset="0.7500" stop-color="#b4286b"/><stop offset="0.7667" stop-color="#a32876"/><stop offset="0.7833" stop-color="#932881"/><stop offset="0.8000" stop-color="#82288c"/><stop offset="0.8167" stop-color="#722a90"/><stop offset="0.8333" stop-color="#612c94"/><stop offset="0.8500" stop-color="#542b8b"/><stop offset="0.8667" stop-color="#492778"/><stop offset="0.8833" stop-color="#3d2366"/><stop offset="0.9000" stop-color="#301e4d"/><stop offset="0.9167" stop-color="#231833"/><stop offset="0.9333" stop-color="#18141d"/><stop offset="0.9500" stop-color="#151118"/><stop offset="0.9667" stop-color="#110f14"/><stop offset="0.9833" stop-color="#0e0c0f"/><stop offset="1.0000" stop-color="#0a0a0a"/></linearGradient>
</defs>
<rect width="782" height="590" fill="#fff"/>
<g id="pa">
<line x1="188.1" y1="61.5" x2="187.4" y2="1.5" stroke="#adadad" stroke-width="0.7"/>
<line x1="83.9" y1="158.4" x2="188.1" y2="61.5" stroke="#adadad" stroke-width="0.7"/>
<line x1="188.1" y1="61.5" x2="345.0" y2="108.3" stroke="#adadad" stroke-width="0.7"/>
<line x1="74.6" y1="92.2" x2="187.4" y2="1.5" stroke="#adadad" stroke-width="0.7"/>
<line x1="187.4" y1="1.5" x2="355.4" y2="45.7" stroke="#adadad" stroke-width="0.7"/>
<line x1="345.0" y1="108.3" x2="355.4" y2="45.7" stroke="#adadad" stroke-width="0.7"/>
<g transform="scale(0.1)" stroke-width="5" stroke-linejoin="round" fill="currentColor" stroke="currentColor">
<path color="#99dbcc" d="M1874,374l1587,451 11,-15 -1583,-448zM1860,387l1591,453 10,-15 -1587,-451zM1845,400l1595,456 11,-16 -1591,-453zM1831,412l1598,459 11,-15 -1595,-456zM1816,425l1602,462 11,-16 -1598,-459zM1801,439l1606,464 11,-16 -1602,-462zM1786,453l1610,467 11,-17 -1606,-464zM1771,467l1474,429 11,-17 -1470,-426zM3245,896l34,11 12,-18 -35,-10zM3279,907l36,10 11,-17 -35,-11zM3315,917l35,10 11,-17 -35,-10zM3350,927l35,10 11,-17 -35,-10z"/>
<path color="#99dbc9" d="M1756,481l1477,432 12,-17 -1474,-429zM3233,913l35,10 11,-16 -34,-11zM3268,923l35,11 12,-17 -36,-10zM3303,934l35,10 12,-17 -35,-10zM3338,944l36,10 11,-17 -35,-10zM1741,494l1480,434 12,-15 -1477,-432zM3221,928l36,10 11,-15 -35,-10zM3257,938l35,11 11,-15 -35,-11zM3292,949l35,10 11,-15 -35,-10zM3327,959l36,10 11,-15 -36,-10z"/>
<path color="#99dbcc" d="M1726,502l1485,437 10,-11 -1480,-434zM3211,939l35,11 11,-12 -36,-10zM3246,950l35,10 11,-11 -35,-11zM3281,960l36,11 10,-12 -35,-10zM3317,971l35,10 11,-12 -36,-10z"/>
<path color="#96d8d2" d="M1711,508l1490,439 10,-8 -1485,-437zM3201,947l35,11 10,-8 -35,-11zM3236,958l36,11 9,-9 -35,-10zM3272,969l35,11 10,-9 -36,-11zM3307,980l36,10 9,-9 -35,-10z"/>
<path color="#90d5d8" d="M1697,514l1459,431 10,-8 -1455,-429zM3156,945l35,10 10,-8 -35,-10zM3191,955l35,11 10,-8 -35,-11zM3226,966l36,11 10,-8 -36,-11z"/>
<path color="#90d5d5" d="M3262,977l35,11 10,-8 -35,-11zM3297,988l36,11 10,-9 -36,-10z"/>
<path color="#8dd2db" d="M1681,525l1463,433 12,-13 -1459,-431zM3144,958l36,11 11,-14 -35,-10zM3180,969l35,11 11,-14 -35,-11zM3215,980l36,11 11,-14 -36,-11zM3251,991l35,11 11,-14 -35,-11z"/>
<path color="#8dd5d8" d="M3286,1002l36,11 11,-14 -36,-11z"/>
<path color="#8dd2d8" d="M1668,545l639,190 13,-21 -639,-189zM2307,735l12,4 13,-22 -12,-3zM2319,739l12,3 13,-21 -12,-4zM2572,814l13,4 12,-22 -12,-4zM2585,818l12,3 13,-21 -13,-4zM2597,821l535,160 12,-23 -534,-158zM3132,981l36,10 12,-22 -36,-11z"/>
<path color="#8dd5d8" d="M2331,742l12,5 13,-23 -12,-3zM2560,811l12,3 13,-22 -12,-3zM3168,991l35,11 12,-22 -35,-11z"/>
<path color="#90d5d8" d="M2343,747l12,5 13,-24 -12,-4zM2355,752l11,5 14,-26 -12,-3zM2535,808l13,1 13,-24 -13,-3zM2548,809l12,2 13,-22 -12,-4zM3203,1002l36,11 12,-22 -36,-11zM3239,1013l36,11 11,-22 -35,-11zM3275,1024l36,11 11,-22 -36,-11z"/>
<path color="#90d5d5" d="M2366,757l12,6 13,-28 -11,-4zM2378,763l12,6 13,-30 -12,-4zM2390,769l12,6 13,-33 -12,-3zM2499,804l12,1 13,-31 -12,-3zM2511,805l12,1 13,-28 -12,-4zM2523,806l12,2 13,-26 -12,-4z"/>
<path color="#90d5d2" d="M2402,775l12,5 13,-34 -12,-4zM2414,780l12,5 13,-36 -12,-3zM2426,785l12,4 14,-36 -13,-4zM2438,789l12,4 14,-37 -12,-3zM2450,793l12,3 14,-36 -12,-4zM2462,796l12,3 14,-35 -12,-4zM2474,799l12,3 14,-35 -12,-3zM2486,802l13,2 13,-33 -12,-4z"/>
<path color="#93d8cf" d="M1658,567l592,178 10,-24 -592,-176zM2250,745l11,3 10,-24 -11,-3zM2261,748l12,4 10,-24 -12,-4zM2273,752l12,5 10,-26 -12,-3zM2599,851l13,2 10,-24 -13,-4zM2612,853l12,4 10,-25 -12,-3zM2624,857l12,3 10,-24 -12,-4zM2636,860l486,146 10,-25 -486,-145zM3122,1006l36,10 10,-25 -36,-10zM3158,1016l35,11 10,-25 -35,-11zM3193,1027l36,11 10,-25 -36,-11zM3229,1038l36,10 10,-24 -36,-11z"/>
<path color="#93d8cc" d="M2285,757l12,7 10,-29 -12,-4zM2587,851l12,0 10,-26 -12,-4z"/>
<path color="#90d8cc" d="M2297,764l12,8 10,-33 -12,-4zM2574,852l13,-1 10,-30 -12,-3z"/>
<path color="#8dd5c6" d="M2309,772l11,8 11,-38 -12,-3zM2562,853l12,-1 11,-34 -13,-4z"/>
<path color="#8ad5c3" d="M2320,780l12,7 11,-40 -12,-5zM2332,787l12,3 11,-38 -12,-5zM2537,848l12,4 11,-41 -12,-2zM2549,852l13,1 10,-39 -12,-3z"/>
<path color="#8dd5c3" d="M2344,790l12,2 10,-35 -11,-5zM2525,843l12,5 11,-39 -13,-1z"/>
<path color="#90d8c3" d="M2356,792l12,1 10,-30 -12,-6zM2513,837l12,6 10,-35 -12,-2z"/>
<path color="#93d8c6" d="M2368,793l12,1 10,-25 -12,-6zM2501,830l12,7 10,-31 -12,-1z"/>
<path color="#96dbc6" d="M2380,794l12,2 10,-21 -12,-6zM2489,825l12,5 10,-25 -12,-1z"/>
<path color="#99dbc6" d="M2392,796l12,2 10,-18 -12,-5zM2404,798l12,2 10,-15 -12,-5zM2416,800l12,4 10,-15 -12,-4zM2428,804l13,3 9,-14 -12,-4zM2441,807l12,4 9,-15 -12,-3zM2453,811l12,4 9,-16 -12,-3zM2465,815l12,5 9,-18 -12,-3zM2477,820l12,5 10,-21 -13,-2z"/>
<path color="#96d8cf" d="M3265,1048l36,11 10,-24 -36,-11z"/>
<path color="#93d8c0" d="M1650,590l568,171 8,-23 -568,-171zM2653,892l461,139 8,-25 -461,-138zM3114,1031l35,10 9,-25 -36,-10zM3149,1041l36,11 8,-25 -35,-11zM3185,1052l36,10 8,-24 -36,-11zM3221,1062l36,10 8,-24 -36,-10zM3257,1072l36,10 8,-23 -36,-11z"/>
<path color="#93d8bd" d="M2218,761l11,4 9,-24 -12,-3zM2229,765l12,5 9,-25 -12,-4zM2628,886l12,3 9,-25 -13,-4zM2640,889l13,3 8,-24 -12,-4z"/>
<path color="#90d8ba" d="M2241,770l12,8 8,-30 -11,-3zM2615,887l13,-1 8,-26 -12,-3z"/>
<path color="#8ad5b4" d="M2253,778l11,11 9,-37 -12,-4zM2602,891l13,-4 9,-30 -12,-4z"/>
<path color="#81d2ab" d="M2264,789l12,10 9,-42 -12,-5zM2589,894l13,-3 10,-38 -13,-2z"/>
<path color="#7ed2a5" d="M2276,799l12,6 9,-41 -12,-7zM2577,892l12,2 10,-43 -12,0z"/>
<path color="#84d5a8" d="M2288,805l12,0 9,-33 -12,-8zM2565,885l12,7 10,-41 -13,1z"/>
<path color="#90d8ae" d="M2300,805l12,-2 8,-23 -11,-8zM2553,876l12,9 9,-33 -12,1z"/>
<path color="#96d8b1" d="M2312,803l12,-1 8,-15 -12,-7zM2541,867l12,9 9,-23 -13,-1z"/>
<path color="#96dbb4" d="M2324,802l12,0 8,-12 -12,-3zM2529,861l12,6 8,-15 -12,-4z"/>
<path color="#99dbb7" d="M2336,802l12,3 8,-13 -12,-2zM2348,805l12,2 8,-14 -12,-1zM2505,851l12,4 8,-12 -12,-6zM2517,855l12,6 8,-13 -12,-5z"/>
<path color="#96dbba" d="M2360,807l12,4 8,-17 -12,-1zM2372,811l12,3 8,-18 -12,-2zM2481,843l12,4 8,-17 -12,-5zM2493,847l12,4 8,-14 -12,-7z"/>
<path color="#96d8ba" d="M2384,814l12,4 8,-20 -12,-2zM2396,818l12,3 8,-21 -12,-2zM2456,836l13,4 8,-20 -12,-5zM2469,840l12,3 8,-18 -12,-5z"/>
<path color="#93d8ba" d="M2408,821l12,4 8,-21 -12,-4zM2420,825l12,4 9,-22 -13,-3zM2432,829l12,3 9,-21 -12,-4zM2444,832l12,4 9,-21 -12,-4z"/>
<path color="#90d8ab" d="M1642,613l544,165 8,-24 -544,-164zM2186,778l12,4 8,-24 -12,-4zM2657,920l12,4 8,-24 -12,-4zM2669,924l436,132 9,-25 -437,-131zM3105,1056l36,10 8,-25 -35,-10zM3141,1066l36,10 8,-24 -36,-11z"/>
<path color="#8dd8ab" d="M2198,782l12,5 8,-26 -12,-3zM2644,919l13,1 8,-24 -12,-4z"/>
<path color="#8ad5a5" d="M2210,787l12,10 7,-32 -11,-4zM2632,921l12,-2 9,-27 -13,-3z"/>
<path color="#7ed299" d="M2222,797l11,14 8,-41 -12,-5zM2619,928l13,-7 8,-32 -12,-3z"/>
<path color="#75cc8a" d="M2233,811l12,11 8,-44 -12,-8zM2606,932l13,-4 9,-42 -13,1z"/>
<path color="#78cf87" d="M2245,822l11,2 8,-35 -11,-11zM2594,926l12,6 9,-45 -13,4z"/>
<path color="#87d293" d="M2256,824l13,-5 7,-20 -12,-10zM2582,914l12,12 8,-35 -13,3z"/>
<path color="#90d59c" d="M2269,819l12,-3 7,-11 -12,-6zM2570,904l12,10 7,-20 -12,-2z"/>
<path color="#93d59f" d="M2281,816l12,0 7,-11 -12,0zM2558,897l12,7 7,-12 -12,-7z"/>
<path color="#93d8a2" d="M2293,816l12,3 7,-16 -12,2zM2546,892l12,5 7,-12 -12,-9z"/>
<path color="#93d8a5" d="M2305,819l11,3 8,-20 -12,1zM2534,888l12,4 7,-16 -12,-9z"/>
<path color="#90d5a5" d="M2316,822l12,4 8,-24 -12,0zM2521,884l13,4 7,-21 -12,-6z"/>
<path color="#8dd5a5" d="M2328,826l12,3 8,-24 -12,-3zM2340,829l12,4 8,-26 -12,-2zM2352,833l12,3 8,-25 -12,-4zM2364,836l12,4 8,-26 -12,-3zM2376,840l12,4 8,-26 -12,-4zM2388,844l73,22 8,-26 -73,-22zM2461,866l12,3 8,-26 -12,-3zM2473,869l12,4 8,-26 -12,-4zM2485,873l12,4 8,-26 -12,-4zM2497,877l12,3 8,-25 -12,-4zM2509,880l12,4 8,-23 -12,-6z"/>
<path color="#90d8ae" d="M3177,1076l36,9 8,-23 -36,-10zM3213,1085l36,10 8,-23 -36,-10z"/>
<path color="#93d8b1" d="M3249,1095l36,10 8,-23 -36,-10z"/>
<path color="#8dd599" d="M1635,636l520,158 8,-23 -521,-158zM2155,794l12,4 8,-24 -12,-3zM2674,952l12,3 8,-24 -12,-4zM2686,955l411,125 8,-24 -411,-125zM3097,1080l36,11 8,-25 -36,-10zM3133,1091l35,9 9,-24 -36,-10z"/>
<path color="#8ad596" d="M2167,798l12,5 7,-25 -11,-4zM2661,950l13,2 8,-25 -13,-3z"/>
<path color="#87d290" d="M2179,803l11,11 8,-32 -12,-4zM2648,954l13,-4 8,-26 -12,-4z"/>
<path color="#78cc84" d="M2190,814l12,17 8,-44 -12,-5zM2635,963l13,-9 9,-34 -13,-1z"/>
<path color="#6cc978" d="M2202,831l11,12 9,-46 -12,-10zM2622,968l13,-5 9,-44 -12,2z"/>
<path color="#75cc7b" d="M2213,843l12,-1 8,-31 -11,-14zM2610,960l12,8 10,-47 -13,7z"/>
<path color="#81cf87" d="M2225,842l12,-7 8,-13 -12,-11zM2598,945l12,15 9,-32 -13,4z"/>
<path color="#87d28d" d="M2237,835l12,-2 7,-9 -11,-2zM2587,935l11,10 8,-13 -12,-6z"/>
<path color="#8ad290" d="M2249,833l12,1 8,-15 -13,5zM2273,837l12,4 8,-25 -12,0zM2285,841l12,3 8,-25 -12,-3zM2297,844l11,4 8,-26 -11,-3zM2308,848l12,4 8,-26 -12,-4zM2320,852l193,58 8,-26 -193,-58zM2513,910l12,4 9,-26 -13,-4zM2525,914l13,4 8,-26 -12,-4zM2538,918l12,3 8,-24 -12,-5zM2550,921l12,4 8,-21 -12,-7zM2574,929l13,6 7,-9 -12,-12z"/>
<path color="#8dd290" d="M2261,834l12,3 8,-21 -12,3zM2562,925l12,4 8,-15 -12,-10z"/>
<path color="#8dd59c" d="M3168,1100l36,9 9,-24 -36,-9z"/>
<path color="#8dd59f" d="M3204,1109l37,9 8,-23 -36,-10z"/>
<path color="#90d59f" d="M3241,1118l36,10 8,-23 -36,-10z"/>
<path color="#87d28d" d="M1626,659l497,152 9,-24 -497,-151zM2123,811l11,3 10,-23 -12,-4zM2134,814l12,6 9,-26 -11,-3zM2677,982l12,2 10,-25 -13,-4zM2689,984l13,4 9,-25 -12,-4zM2702,988l386,117 9,-25 -386,-117zM3088,1105l35,11 10,-25 -36,-11z"/>
<path color="#81cf87" d="M2146,820l11,12 10,-34 -12,-4zM2228,852l12,4 9,-23 -12,2zM2240,856l12,3 9,-25 -12,-1zM2252,859l11,4 10,-26 -12,-3zM2263,863l12,4 10,-26 -12,-4zM2275,867l265,81 10,-27 -265,-80zM2540,948l13,4 9,-27 -12,-4zM2553,952l12,3 9,-26 -12,-4zM2565,955l12,4 10,-24 -13,-6zM2577,959l13,4 8,-18 -11,-10zM2664,987l13,-5 9,-27 -12,-3z"/>
<path color="#75cc7b" d="M2157,832l12,20 10,-49 -12,-5zM2650,1000l14,-13 10,-35 -13,-2z"/>
<path color="#69c66f" d="M2169,852l11,12 10,-50 -11,-11zM2637,1005l13,-5 11,-50 -13,4z"/>
<path color="#72c975" d="M2180,864l12,-6 10,-27 -12,-17zM2625,991l12,14 11,-51 -13,9z"/>
<path color="#7bcc7e" d="M2192,858l12,-8 9,-7 -11,-12zM2614,976l11,15 10,-28 -13,5z"/>
<path color="#7ecf81" d="M2204,850l12,0 9,-8 -12,1zM2602,968l12,8 8,-8 -12,-8z"/>
<path color="#81cf84" d="M2216,850l12,2 9,-17 -12,7zM2590,963l12,5 8,-8 -12,-15z"/>
<path color="#8ad28d" d="M3123,1116l36,9 9,-25 -35,-9z"/>
<path color="#8ad290" d="M3159,1125l36,8 9,-24 -36,-9z"/>
<path color="#8dd293" d="M3195,1133l36,9 10,-24 -37,-9z"/>
<path color="#8dd593" d="M3231,1142l37,9 9,-23 -36,-10z"/>
<path color="#87d28a" d="M1611,674l475,145 13,-15 -473,-145zM2086,819l12,4 13,-16 -12,-3zM2098,823l11,7 14,-19 -12,-4zM2689,1008l13,0 12,-17 -12,-3zM2702,1008l13,4 12,-17 -13,-4zM2715,1012l361,111 12,-18 -361,-110zM3076,1123l36,10 11,-17 -35,-11zM3112,1133l36,9 11,-17 -36,-9z"/>
<path color="#81cf84" d="M2109,830l12,19 13,-35 -11,-3zM2203,865l12,3 13,-16 -12,-2zM2215,868l12,4 13,-16 -12,-4zM2227,872l338,104 12,-17 -337,-103zM2565,976l12,4 13,-17 -13,-4zM2577,980l13,3 12,-15 -12,-5zM2676,1019l13,-11 13,-20 -13,-4z"/>
<path color="#75cc78" d="M2121,849l11,20 14,-49 -12,-6zM2132,869l12,-2 13,-35 -11,-12zM2650,1023l12,9 15,-50 -13,5zM2662,1032l14,-13 13,-35 -12,-2z"/>
<path color="#78cc7b" d="M2144,867l12,-11 13,-4 -12,-20zM2639,1004l11,19 14,-36 -14,13z"/>
<path color="#78cc78" d="M2156,856l12,-2 12,10 -11,-12zM2614,991l13,4 10,10 -12,-14z"/>
<path color="#549357" d="M2168,854l12,3 12,1 -12,6zM2627,995l12,9 11,-4 -13,5z"/>
<path color="#7bcc7e" d="M2180,857l11,4 13,-11 -12,8zM2602,987l12,4 11,0 -11,-15z"/>
<path color="#81cf81" d="M2191,861l12,4 13,-15 -12,0zM2590,983l12,4 12,-11 -12,-8z"/>
<path color="#8ad28d" d="M3148,1142l36,8 11,-17 -36,-8z"/>
<path color="#8ad290" d="M3184,1150l36,9 11,-17 -36,-9z"/>
<path color="#8dd290" d="M3220,1159l37,10 11,-18 -37,-9z"/>
<path color="#609663" d="M1602,667l464,142 8,6 -463,-141zM2066,809l12,4 8,6 -12,-4zM2695,1009l13,-3 7,6 -13,-4zM2708,1006l13,4 6,6 -12,-4zM2721,1010l350,107 5,6 -349,-107zM3071,1117l36,11 5,5 -36,-10z"/>
<path color="#87d28a" d="M2078,813l11,10 9,0 -12,-4z"/>
<path color="#81cf87" d="M2089,823l12,20 8,-13 -11,-7zM2681,1022l14,-13 7,-1 -13,0z"/>
<path color="#7bcc7e" d="M2101,843l11,12 9,-6 -12,-19zM2668,1026l13,-4 8,-14 -13,11z"/>
<path color="#549357" d="M2112,855l12,-10 8,24 -11,-20zM2657,1008l11,18 8,-7 -14,13z"/>
<path color="#4b904e" d="M2124,845l12,-6 8,28 -12,2zM2645,996l12,12 5,24 -12,-9z"/>
<path color="#519054" d="M2136,839l12,3 8,14 -12,11zM2633,990l12,6 5,27 -11,-19z"/>
<path color="#5a935d" d="M2148,842l12,3 8,9 -12,2zM2620,986l13,4 6,14 -12,-9z"/>
<path color="#5d9660" d="M2160,845l12,4 8,8 -12,-3zM2172,849l436,134 6,8 -434,-134zM2608,983l12,3 7,9 -13,-4z"/>
<path color="#609666" d="M3107,1128l36,9 5,5 -36,-9z"/>
<path color="#639666" d="M3143,1137l36,9 5,4 -36,-8z"/>
<path color="#639966" d="M3179,1146l37,9 4,4 -36,-9z"/>
<path color="#639969" d="M3216,1155l36,10 5,4 -37,-10z"/>
<path color="#609669" d="M1595,655l454,139 5,11 -452,-138zM2049,794l12,3 5,12 -12,-4zM2061,797l11,8 6,8 -12,-4zM2705,998l13,0 3,12 -13,-4zM2718,998l12,4 4,11 -13,-3zM2730,1002l339,104 2,11 -337,-104zM3069,1106l36,10 2,12 -36,-11zM3105,1116l36,10 2,11 -36,-9z"/>
<path color="#87d290" d="M2072,805l12,17 5,1 -11,-10z"/>
<path color="#7ecf84" d="M2084,822l12,13 5,8 -12,-20z"/>
<path color="#519054" d="M2096,835l11,-8 5,28 -11,-12zM2666,998l12,16 3,8 -13,4z"/>
<path color="#488d51" d="M2107,827l12,-5 5,23 -12,10zM2654,985l12,13 2,28 -11,-18z"/>
<path color="#54935a" d="M2119,822l12,2 5,15 -12,6zM2642,980l12,5 3,23 -12,-12z"/>
<path color="#5a9660" d="M2131,824l12,3 5,15 -12,-3zM2629,976l13,4 3,16 -12,-6zM2678,1014l13,-6 4,1 -14,13z"/>
<path color="#5a9663" d="M2143,827l12,4 5,14 -12,-3zM2155,831l462,141 3,14 -460,-141zM2617,972l12,4 4,14 -13,-4z"/>
<path color="#639666" d="M2691,1008l14,-10 3,8 -13,3z"/>
<path color="#60966c" d="M3141,1126l36,10 2,10 -36,-9z"/>
<path color="#60996f" d="M3177,1136l36,9 3,10 -37,-9z"/>
<path color="#63996f" d="M3213,1145l37,11 2,9 -36,-10z"/>
<path color="#5a9675" d="M1590,641l455,139 4,14 -454,-139zM2728,989l340,103 1,14 -339,-104zM3068,1092l36,11 1,13 -36,-10z"/>
<path color="#5d9675" d="M2045,780l11,5 5,12 -12,-3zM2715,986l13,3 2,13 -12,-4zM3104,1103l36,11 1,12 -36,-10z"/>
<path color="#609975" d="M2056,785l12,12 4,8 -11,-8zM2702,990l13,-4 3,12 -13,0z"/>
<path color="#5d966c" d="M2068,797l12,15 4,10 -12,-17zM2688,998l14,-8 3,8 -14,10z"/>
<path color="#51935d" d="M2080,812l12,-2 4,25 -12,-13zM2676,989l12,9 3,10 -13,6z"/>
<path color="#458d57" d="M2092,810l11,-7 4,24 -11,8zM2664,975l12,14 2,25 -12,-16z"/>
<path color="#4e9366" d="M2103,803l12,1 4,18 -12,5zM2652,968l12,7 2,23 -12,-13z"/>
<path color="#54936c" d="M2115,804l12,4 4,16 -12,-2zM2639,964l13,4 2,17 -12,-5z"/>
<path color="#57966f" d="M2127,808l12,3 4,16 -12,-3zM2139,811l488,149 2,16 -486,-149zM2627,960l12,4 3,16 -13,-4z"/>
<path color="#5d9978" d="M3140,1114l36,10 1,12 -36,-10zM3176,1124l36,10 1,11 -36,-9z"/>
<path color="#60997b" d="M3212,1134l37,11 1,11 -37,-11z"/>
<path color="#579384" d="M1585,627l444,135 4,15 -443,-136zM2029,762l12,4 4,14 -12,-3zM2726,975l13,3 1,15 -12,-4zM2739,978l328,100 1,14 -328,-99zM3067,1078l36,11 1,14 -36,-11zM3103,1089l36,11 1,14 -36,-11z"/>
<path color="#579684" d="M2041,766l12,7 3,12 -11,-5zM2713,974l13,1 2,14 -13,-3zM3139,1100l36,11 1,13 -36,-10z"/>
<path color="#5a967e" d="M2053,773l11,14 4,10 -12,-12zM2699,980l14,-6 2,12 -13,4z"/>
<path color="#549372" d="M2064,787l12,5 4,20 -12,-15zM2687,978l12,2 3,10 -14,8z"/>
<path color="#42906c" d="M2076,792l12,-7 4,25 -12,2zM2675,964l12,14 1,20 -12,-9z"/>
<path color="#429075" d="M2088,785l12,-1 3,19 -11,7zM2662,956l13,8 1,25 -12,-14z"/>
<path color="#4e907e" d="M2100,784l12,3 3,17 -12,-1zM2650,951l12,5 2,19 -12,-7z"/>
<path color="#519381" d="M2112,787l12,4 3,17 -12,-4zM2124,791l513,156 2,17 -512,-156zM2637,947l13,4 2,17 -13,-4z"/>
<path color="#5a9687" d="M3175,1111l36,11 1,12 -36,-10zM3211,1122l37,11 1,12 -37,-11z"/>
<path color="#4e8a93" d="M1580,613l446,135 3,14 -444,-135zM2026,748l11,4 4,14 -12,-4zM2724,961l13,3 2,14 -13,-3zM2737,964l329,99 1,15 -328,-100zM3066,1063l36,12 1,14 -36,-11zM3102,1075l36,11 1,14 -36,-11z"/>
<path color="#579093" d="M2037,752l12,12 4,9 -12,-7zM2711,965l13,-4 2,14 -13,-1z"/>
<path color="#5d968d" d="M2049,764l12,14 3,9 -11,-14zM2697,972l14,-7 2,9 -14,6z"/>
<path color="#549387" d="M2061,778l12,-6 3,20 -12,-5zM2685,959l12,13 2,8 -12,-2z"/>
<path color="#42878a" d="M2073,772l12,-7 3,20 -12,7zM2673,944l12,15 2,19 -12,-14z"/>
<path color="#428490" d="M2085,765l12,2 3,17 -12,1zM2661,938l12,6 2,20 -13,-8z"/>
<path color="#458790" d="M2097,767l12,3 3,17 -12,-3zM2648,934l13,4 1,18 -12,-5z"/>
<path color="#488790" d="M2109,770l539,164 2,17 -538,-164z"/>
<path color="#518d93" d="M3138,1086l37,12 0,13 -36,-11zM3175,1098l36,12 0,12 -36,-11z"/>
<path color="#548d93" d="M3211,1110l36,11 1,12 -37,-11z"/>
<path color="#427899" d="M1576,598l435,131 3,15 -434,-131zM2011,729l11,4 4,15 -12,-4zM2736,949l13,3 1,16 -13,-4zM2749,952l317,96 0,15 -316,-95zM3066,1048l36,12 0,15 -36,-12z"/>
<path color="#457b99" d="M2022,733l12,7 3,12 -11,-4zM2723,948l13,1 1,15 -13,-3zM3138,1072l36,12 1,14 -37,-12z"/>
<path color="#518799" d="M2034,740l12,17 3,7 -12,-12zM2709,959l14,-11 1,13 -13,4z"/>
<path color="#548d96" d="M2046,757l12,6 3,15 -12,-14zM2696,957l13,2 2,6 -14,7z"/>
<path color="#3f7e90" d="M2058,763l12,-13 3,22 -12,6zM2684,936l12,21 1,15 -12,-13z"/>
<path color="#366f93" d="M2070,750l12,-4 3,19 -12,7zM2672,925l12,11 1,23 -12,-15z"/>
<path color="#396f96" d="M2082,746l12,3 3,18 -12,-2zM2660,920l12,5 1,19 -12,-6z"/>
<path color="#3c6f99" d="M2094,749l12,3 3,18 -12,-3zM2106,752l541,164 1,18 -539,-164zM2647,916l13,4 1,18 -13,-4z"/>
<path color="#457899" d="M3102,1060l36,12 0,14 -36,-11z"/>
<path color="#487e99" d="M3174,1084l37,13 0,13 -36,-12z"/>
<path color="#488199" d="M3211,1097l36,12 0,12 -36,-11z"/>
<path color="#36639c" d="M1572,582l435,132 4,15 -435,-131zM2007,714l12,4 3,15 -11,-4zM2734,934l13,3 2,15 -13,-3zM2747,937l318,96 1,15 -317,-96zM3065,1033l37,11 0,16 -36,-12z"/>
<path color="#3c6c9f" d="M2019,718l12,11 3,11 -12,-7zM2721,938l13,-4 2,15 -13,-1z"/>
<path color="#487b9c" d="M2031,729l12,21 3,7 -12,-17zM2707,951l14,-13 2,10 -14,11z"/>
<path color="#427899" d="M2043,750l12,-8 3,21 -12,-6zM2695,936l12,15 2,8 -13,-2z"/>
<path color="#2d5d96" d="M2055,742l12,-14 3,22 -12,13zM2683,914l12,22 1,21 -12,-21z"/>
<path color="#2d5496" d="M2067,728l12,-1 3,19 -12,4zM2671,906l12,8 1,22 -12,-11z"/>
<path color="#305799" d="M2079,727l12,4 3,18 -12,-3zM2091,731l567,171 2,18 -566,-171zM2658,902l13,4 1,19 -12,-5z"/>
<path color="#39669c" d="M3102,1044l36,13 0,15 -36,-12z"/>
<path color="#39699c" d="M3138,1057l36,13 0,14 -36,-12z"/>
<path color="#3c6c9c" d="M3174,1070l36,14 1,13 -37,-13z"/>
<path color="#3f6f9c" d="M3210,1084l37,12 0,13 -36,-12z"/>
<path color="#2d5196" d="M1567,567l425,128 4,15 -424,-128zM1992,695l12,3 3,16 -11,-4zM2746,922l13,4 1,15 -13,-4zM2759,926l306,92 0,15 -305,-92zM3065,1018l36,11 1,15 -37,-11z"/>
<path color="#2d5199" d="M2004,698l12,6 3,14 -12,-4zM2733,920l13,2 1,15 -13,-3zM3101,1029l37,13 0,15 -36,-13z"/>
<path color="#36609c" d="M2016,704l12,19 3,6 -12,-11zM2719,931l14,-11 1,14 -13,4z"/>
<path color="#3c6c9f" d="M2028,723l12,14 3,13 -12,-21zM2705,938l14,-7 2,7 -14,13z"/>
<path color="#305799" d="M2040,737l12,-19 3,24 -12,8zM2694,911l11,27 2,13 -12,-15zM3138,1042l36,15 0,13 -36,-13z"/>
<path color="#274593" d="M2052,718l12,-11 3,21 -12,14zM2682,893l12,18 1,25 -12,-22z"/>
<path color="#274293" d="M2064,707l12,2 3,18 -12,1zM2076,709l12,4 3,18 -12,-4zM2088,713l569,171 1,18 -567,-171zM2657,884l13,4 1,18 -13,-4zM2670,888l12,5 1,21 -12,-8z"/>
<path color="#335a99" d="M3174,1057l36,14 0,13 -36,-14z"/>
<path color="#335d9c" d="M3210,1071l37,12 0,13 -37,-12z"/>
<path color="#273f93" d="M1563,552l426,127 3,16 -425,-128zM1989,679l12,4 3,15 -12,-3zM2745,906l13,4 1,16 -13,-4zM2758,910l307,92 0,16 -306,-92zM3065,1002l36,12 0,15 -36,-11z"/>
<path color="#2a4593" d="M2001,683l12,9 3,12 -12,-6zM2731,908l14,-2 1,16 -13,-2z"/>
<path color="#2d5199" d="M2013,692l12,26 3,5 -12,-19zM2717,927l14,-19 2,12 -14,11z"/>
<path color="#335a99" d="M2025,718l11,-2 4,21 -12,-14zM2704,918l13,9 2,4 -14,7z"/>
<path color="#243c93" d="M2036,716l13,-23 3,25 -12,19zM2693,887l11,31 1,20 -11,-27z"/>
<path color="#243690" d="M2049,693l12,-5 3,19 -12,11zM2681,874l12,13 1,24 -12,-18z"/>
<path color="#273390" d="M2061,688l12,3 3,18 -12,-2zM2073,691l12,3 3,19 -12,-4zM2085,694l571,171 1,19 -569,-171zM2656,865l12,4 2,19 -13,-4zM2668,869l13,5 1,19 -12,-5z"/>
<path color="#274293" d="M3101,1014l36,13 1,15 -37,-13z"/>
<path color="#2a4596" d="M3137,1027l36,16 1,14 -36,-15z"/>
<path color="#2a4896" d="M3173,1043l37,14 0,14 -36,-14z"/>
<path color="#2a4b96" d="M3210,1057l37,13 0,13 -37,-12z"/>
<path color="#27338d" d="M1558,536l428,128 3,15 -426,-127zM1986,664l11,5 4,14 -12,-4zM2743,892l13,3 2,15 -13,-4zM2756,895l308,92 1,15 -307,-92zM3064,987l37,11 0,16 -36,-12zM3101,998l36,15 0,14 -36,-13z"/>
<path color="#273990" d="M1997,669l12,16 4,7 -12,-9zM2729,901l14,-9 2,14 -14,2z"/>
<path color="#2a4596" d="M2009,685l12,25 4,8 -12,-26zM2714,919l15,-18 2,7 -14,19z"/>
<path color="#274293" d="M2021,710l12,-20 3,26 -11,2zM2703,891l11,28 3,8 -13,-9z"/>
<path color="#242d8d" d="M2033,690l12,-20 4,23 -13,23zM2692,863l11,28 1,27 -11,-31z"/>
<path color="#272d8a" d="M2045,670l12,-1 4,19 -12,5zM2680,855l12,8 1,24 -12,-13z"/>
<path color="#2a2d8a" d="M2057,669l12,4 4,18 -12,-3zM2069,673l598,178 1,18 -595,-178zM2667,851l13,4 1,19 -13,-5z"/>
<path color="#273690" d="M3137,1013l36,16 0,14 -36,-16z"/>
<path color="#273c90" d="M3173,1029l36,15 1,13 -37,-14z"/>
<path color="#273f93" d="M3209,1044l37,13 1,13 -37,-13z"/>
<path color="#2d2d8a" d="M1553,521l417,125 4,15 -416,-125zM1970,646l12,3 4,15 -12,-3zM1982,649l12,7 3,13 -11,-5zM2741,879l14,1 1,15 -13,-3zM2755,880l13,4 1,15 -13,-4zM2768,884l295,88 1,15 -295,-88zM3063,972l37,11 1,15 -37,-11z"/>
<path color="#2a338d" d="M1994,656l12,27 3,2 -12,-16zM2726,899l15,-20 2,13 -14,9z"/>
<path color="#273c90" d="M2006,683l11,11 4,16 -12,-25zM2713,903l13,-4 3,2 -15,18z"/>
<path color="#242d8d" d="M2017,694l13,-32 3,28 -12,20zM2703,863l10,40 1,16 -11,-28z"/>
<path color="#2d2787" d="M2030,662l12,-12 3,20 -12,20zM2691,843l12,20 0,28 -11,-28z"/>
<path color="#302787" d="M2042,650l12,2 3,17 -12,1zM2054,652l12,3 3,18 -12,-4zM2066,655l599,178 2,18 -598,-178zM2665,833l13,4 2,18 -13,-4zM2678,837l13,6 1,20 -12,-8z"/>
<path color="#2a2d8a" d="M3100,983l36,15 1,15 -36,-15z"/>
<path color="#2a308d" d="M3136,998l36,17 1,14 -36,-16zM3172,1015l37,16 0,13 -36,-15z"/>
<path color="#27338d" d="M3209,1031l37,14 0,12 -37,-13z"/>
<path color="#332787" d="M1548,507l417,124 5,15 -417,-125zM1965,631l12,4 5,14 -12,-3zM2752,866l13,3 3,15 -13,-4zM2765,869l297,89 1,14 -295,-88zM3062,958l37,11 1,14 -37,-11z"/>
<path color="#302a87" d="M1977,635l12,13 5,8 -12,-7zM2738,872l14,-6 3,14 -14,-1z"/>
<path color="#3c3fc0" d="M1989,648l12,35 5,0 -12,-27z"/>
<path color="#2a338d" d="M2001,683l12,-18 4,29 -11,-11zM2712,874l11,25 3,0 -13,4z"/>
<path color="#2d2787" d="M2013,665l12,-30 5,27 -13,32zM2701,836l11,38 1,29 -10,-40z"/>
<path color="#392184" d="M2025,635l12,-4 5,19 -12,12zM2689,825l12,11 2,27 -12,-20z"/>
<path color="#3c2181" d="M2037,631l12,4 5,17 -12,-2zM2049,635l627,185 2,17 -624,-185zM2676,820l13,5 2,18 -13,-6z"/>
<path color="#2d2d8a" d="M2723,899l15,-27 3,7 -15,20zM3171,1003l37,17 1,11 -37,-16zM3208,1020l37,13 1,12 -37,-14z"/>
<path color="#302787" d="M3099,969l36,16 1,13 -36,-15z"/>
<path color="#302a8a" d="M3135,985l36,18 1,12 -36,-17z"/>
<path color="#3c2481" d="M1540,495l407,121 6,12 -405,-121zM1947,616l12,3 6,12 -12,-3zM2762,858l13,3 3,12 -13,-4zM2775,861l284,85 3,12 -284,-85zM3059,946l37,12 3,11 -37,-11z"/>
<path color="#392481" d="M1959,619l12,6 6,10 -12,-4zM2748,856l14,2 3,11 -13,-3z"/>
<path color="#4b33ba" d="M1971,625l12,30 6,-7 -12,-13z"/>
<path color="#423cc0" d="M1983,655l12,15 6,13 -12,-35z"/>
<path color="#302787" d="M1995,670l12,-40 6,35 -12,18zM2710,839l9,48 4,12 -11,-25z"/>
<path color="#422181" d="M2007,630l12,-15 6,20 -12,30zM2698,816l12,23 2,35 -11,-38z"/>
<path color="#4b2178" d="M2019,615l12,2 6,14 -12,4zM2685,810l13,6 3,20 -12,-11z"/>
<path color="#4b2175" d="M2031,617l13,3 5,15 -12,-4zM2044,620l628,186 4,14 -627,-185zM2672,806l13,4 4,15 -13,-5z"/>
<path color="#302d8a" d="M2719,887l14,-8 5,-7 -15,27z"/>
<path color="#362487" d="M2733,879l15,-23 4,10 -14,6zM3133,974l36,18 2,11 -36,-18z"/>
<path color="#392484" d="M3096,958l37,16 2,11 -36,-16z"/>
<path color="#332787" d="M3169,992l36,18 3,10 -37,-17z"/>
<path color="#332a87" d="M3205,1010l37,14 3,9 -37,-13z"/>
<path color="#5a30ab" d="M1528,504l407,121 12,-9 -407,-121zM1935,625l12,5 12,-11 -12,-3zM2751,870l14,2 10,-11 -13,-3zM2765,872l285,85 9,-11 -284,-85zM3050,957l37,12 9,-11 -37,-12z"/>
<path color="#5430b1" d="M1947,630l13,27 11,-32 -12,-6zM2736,890l15,-20 11,-12 -14,-2z"/>
<path color="#4836ba" d="M1960,657l12,21 11,-23 -12,-30zM2722,904l14,-14 12,-34 -15,23zM3196,1021l37,14 9,-11 -37,-14z"/>
<path color="#332787" d="M1972,678l11,-40 12,32 -12,-15z"/>
<path color="#42217e" d="M1983,638l13,-16 11,8 -12,40z"/>
<path color="#4e2172" d="M1996,622l12,2 11,-9 -12,15z"/>
<path color="#6f2d99" d="M2008,624l12,3 11,-10 -12,-2zM2020,627l655,195 10,-12 -654,-193zM2675,822l13,3 10,-9 -13,-6z"/>
<path color="#6c2d9f" d="M2688,825l13,6 9,8 -12,-23z"/>
<path color="#5a2db1" d="M2701,831l11,24 7,32 -9,-48z"/>
<path color="#4539bd" d="M2712,855l10,49 11,-25 -14,8z"/>
<path color="#5730ae" d="M3087,969l36,16 10,-11 -37,-16z"/>
<path color="#5130b4" d="M3123,985l37,18 9,-11 -36,-18z"/>
<path color="#4b33ba" d="M3160,1003l36,18 9,-11 -36,-18z"/>
<path color="#5430b4" d="M1522,527l396,118 5,-24 -395,-117zM1918,645l11,4 6,-24 -12,-4zM2758,897l13,3 7,-24 -13,-4zM2771,900l272,82 7,-25 -272,-81zM3043,982l37,12 7,-25 -37,-12z"/>
<path color="#5130b4" d="M1929,649l13,10 5,-29 -12,-5zM2744,899l14,-2 7,-25 -14,-2zM3080,994l36,15 7,-24 -36,-16z"/>
<path color="#4533ba" d="M1942,659l12,36 6,-38 -13,-27zM2728,929l16,-30 7,-29 -15,20z"/>
<path color="#423fc0" d="M1954,695l12,-12 6,-5 -12,-21zM2717,909l11,20 8,-39 -14,14z"/>
<path color="#362484" d="M1966,683l11,-32 6,-13 -11,40z"/>
<path color="#602da8" d="M1977,651l13,-4 6,-25 -13,16zM2694,857l12,11 6,-13 -11,-24z"/>
<path color="#692da5" d="M1990,647l12,4 6,-27 -12,-2zM2002,651l679,202 7,-28 -680,-201zM2681,853l13,4 7,-26 -13,-6z"/>
<path color="#4833ba" d="M2706,868l11,41 5,-5 -10,-49z"/>
<path color="#4b33ba" d="M3116,1009l37,18 7,-24 -37,-18z"/>
<path color="#4836ba" d="M3153,1027l36,17 7,-23 -36,-18z"/>
<path color="#4539bd" d="M3189,1044l37,14 7,-23 -37,-14z"/>
<path color="#4536ba" d="M1519,549l395,118 4,-22 -396,-118zM1914,667l12,4 3,-22 -11,-4zM1962,693l12,-21 3,-21 -11,32zM2702,890l11,30 4,-11 -11,-41zM2753,920l13,4 5,-24 -13,-3zM2766,924l271,81 6,-23 -272,-82zM3037,1005l37,12 6,-23 -37,-12z"/>
<path color="#4236bd" d="M1926,671l12,15 4,-27 -13,-10zM2739,928l14,-8 5,-23 -14,2z"/>
<path color="#393cc0" d="M1938,686l12,32 4,-23 -12,-36zM2723,953l16,-25 5,-29 -16,30z"/>
<path color="#3942c3" d="M1950,718l12,-25 4,-10 -12,12zM2713,920l10,33 5,-24 -11,-20z"/>
<path color="#5130b4" d="M1974,672l12,1 4,-26 -13,4zM2689,883l13,7 4,-22 -12,-11z"/>
<path color="#542db4" d="M1986,673l12,3 4,-25 -12,-4zM1998,676l678,203 5,-26 -679,-202zM2676,879l13,4 5,-26 -13,-4z"/>
<path color="#4536bd" d="M3074,1017l37,15 5,-23 -36,-15z"/>
<path color="#4239bd" d="M3111,1032l36,17 6,-22 -37,-18z"/>
<path color="#3f3cc0" d="M3147,1049l37,17 5,-22 -36,-17z"/>
<path color="#3f3fc0" d="M3184,1066l37,13 5,-21 -37,-14z"/>
<path color="#3c3cc0" d="M1517,570l394,119 3,-22 -395,-118zM1911,689l12,5 3,-23 -12,-4zM2748,943l14,3 4,-22 -13,-4zM2762,946l270,82 5,-23 -271,-81zM3032,1028l37,12 5,-23 -37,-12zM3069,1040l37,14 5,-22 -37,-15z"/>
<path color="#393cc0" d="M1923,694l12,18 3,-26 -12,-15zM2734,954l14,-11 5,-23 -14,8z"/>
<path color="#3345c6" d="M1935,712l12,24 3,-18 -12,-32zM1947,736l12,-28 3,-15 -12,25zM2709,935l10,36 4,-18 -10,-33zM2719,971l15,-17 5,-26 -16,25z"/>
<path color="#3f3cc0" d="M1959,708l12,-13 3,-23 -12,21zM2697,914l12,21 4,-15 -11,-30z"/>
<path color="#4236ba" d="M1971,695l12,2 3,-24 -12,-1zM2684,909l13,5 5,-24 -13,-7z"/>
<path color="#4233ba" d="M1983,697l12,4 3,-25 -12,-3zM1995,701l676,204 5,-26 -678,-203zM2671,905l13,4 5,-26 -13,-4z"/>
<path color="#393fc0" d="M3106,1054l36,17 5,-22 -36,-17z"/>
<path color="#3942c3" d="M3142,1071l37,15 5,-20 -37,-17z"/>
<path color="#3642c3" d="M3179,1086l37,14 5,-21 -37,-13z"/>
<path color="#3342c3" d="M1515,592l393,119 3,-22 -394,-119zM1908,711l12,5 3,-22 -12,-5zM2744,966l14,3 4,-23 -14,-3zM2758,969l270,82 4,-23 -270,-82zM3028,1051l37,11 4,-22 -37,-12zM3065,1062l36,14 5,-22 -37,-14z"/>
<path color="#3345c6" d="M1920,716l12,21 3,-25 -12,-18zM2730,980l14,-14 4,-23 -14,11zM3101,1076l37,16 4,-21 -36,-17z"/>
<path color="#3657cc" d="M1932,737l12,15 3,-16 -12,-24zM2716,988l14,-8 4,-26 -15,17z"/>
<path color="#3351c9" d="M1944,752l12,-26 3,-18 -12,28zM2705,953l11,35 3,-17 -10,-36z"/>
<path color="#363fc3" d="M1956,726l12,-8 3,-23 -12,13zM2693,938l12,15 4,-18 -12,-21z"/>
<path color="#3939c0" d="M1968,718l12,3 3,-24 -12,-2zM1980,721l700,212 4,-24 -701,-212zM2680,933l13,5 4,-24 -13,-5z"/>
<path color="#334bc6" d="M3138,1092l36,15 5,-21 -37,-15z"/>
<path color="#364ec9" d="M3174,1107l37,13 5,-20 -37,-14z"/>
<path color="#334ec9" d="M1513,612l393,120 2,-21 -393,-119zM1906,732l12,6 2,-22 -12,-5zM2741,989l13,1 4,-21 -14,-3zM2754,990l270,83 4,-22 -270,-82zM3024,1073l36,11 5,-22 -37,-11zM3060,1084l37,14 4,-22 -36,-14z"/>
<path color="#3051c9" d="M1918,738l12,22 2,-23 -12,-21zM2726,1004l15,-15 3,-23 -14,14z"/>
<path color="#3c69cf" d="M1930,760l12,8 2,-16 -12,-15zM2713,1004l13,0 4,-24 -14,8z"/>
<path color="#365acc" d="M1942,768l12,-23 2,-19 -12,26zM2702,973l11,31 3,-16 -11,-35zM3170,1127l37,12 4,-19 -37,-13z"/>
<path color="#3348c6" d="M1954,745l12,-3 2,-24 -12,8zM2689,962l13,11 3,-20 -12,-15z"/>
<path color="#3342c3" d="M1966,742l12,3 2,-24 -12,-3zM1978,745l698,213 4,-25 -700,-212zM2676,958l13,4 4,-24 -13,-5z"/>
<path color="#3351c9" d="M3097,1098l36,14 5,-20 -37,-16z"/>
<path color="#3357cc" d="M3133,1112l37,15 4,-20 -36,-15z"/>
<path color="#335acc" d="M1512,633l380,116 2,-21 -381,-116zM1892,749l12,4 2,-21 -12,-4zM1904,753l12,6 2,-21 -12,-6zM2737,1011l13,1 4,-22 -13,-1zM2750,1012l13,4 4,-22 -13,-4zM2763,1016l256,78 5,-21 -257,-79zM3019,1094l37,12 4,-22 -36,-11z"/>
<path color="#3360cc" d="M1916,759l12,23 2,-22 -12,-22zM2722,1026l15,-15 4,-22 -15,15z"/>
<path color="#3f7bd2" d="M1928,782l12,2 2,-16 -12,-8zM2710,1020l12,6 4,-22 -13,0z"/>
<path color="#3969cf" d="M1940,784l11,-18 3,-21 -12,23zM2698,994l12,26 3,-16 -11,-31z"/>
<path color="#3054c9" d="M1951,766l12,-1 3,-23 -12,3zM2686,986l12,8 4,-21 -13,-11z"/>
<path color="#304ec9" d="M1963,765l12,4 3,-24 -12,-3zM1975,769l698,213 3,-24 -698,-213zM2673,982l13,4 3,-24 -13,-4z"/>
<path color="#335dcc" d="M3056,1106l37,13 4,-21 -37,-14z"/>
<path color="#3660cc" d="M3093,1119l36,14 4,-21 -36,-14z"/>
<path color="#3966cf" d="M3129,1133l37,13 4,-19 -37,-15z"/>
<path color="#3c69cf" d="M3166,1146l37,13 4,-20 -37,-12z"/>
<path color="#3669cc" d="M1511,654l379,116 2,-21 -380,-116zM1890,770l12,4 2,-21 -12,-4zM1902,774l12,7 2,-22 -12,-6zM2734,1033l13,1 3,-22 -13,-1zM2747,1034l13,4 3,-22 -13,-4zM2760,1038l255,78 4,-22 -256,-78zM3015,1116l37,11 4,-21 -37,-12z"/>
<path color="#3678c9" d="M1914,781l12,21 2,-20 -12,-23zM2719,1046l15,-13 3,-22 -15,15z"/>
<path color="#4290cc" d="M1926,802l12,-2 2,-16 -12,-2zM2707,1037l12,9 3,-20 -12,-6z"/>
<path color="#3978cc" d="M1938,800l11,-13 2,-21 -11,18zM2695,1016l12,21 3,-17 -12,-26z"/>
<path color="#3360c9" d="M1949,787l12,1 2,-23 -12,1zM2682,1009l13,7 3,-22 -12,-8z"/>
<path color="#305dc9" d="M1961,788l12,4 2,-23 -12,-4zM1973,792l696,213 4,-23 -698,-213zM2669,1005l13,4 4,-23 -13,-4z"/>
<path color="#366ccc" d="M3052,1127l37,13 4,-21 -37,-13z"/>
<path color="#396fcf" d="M3089,1140l36,13 4,-20 -36,-14z"/>
<path color="#3c75cf" d="M3125,1153l37,13 4,-20 -37,-13z"/>
<path color="#3f78cf" d="M3162,1166l37,12 4,-19 -37,-13z"/>
<path color="#3684c6" d="M1510,674l378,117 2,-21 -379,-116zM1888,791l12,4 2,-21 -12,-4zM2743,1055l14,4 3,-21 -13,-4zM2757,1059l255,78 3,-21 -255,-78zM3012,1137l36,12 4,-22 -37,-11zM3048,1149l37,12 4,-21 -37,-13z"/>
<path color="#3687c6" d="M1900,795l12,7 2,-21 -12,-7zM2730,1054l13,1 4,-21 -13,-1z"/>
<path color="#3999c3" d="M1912,802l12,18 2,-18 -12,-21zM2716,1066l14,-12 4,-21 -15,13z"/>
<path color="#42a8c3" d="M1924,820l12,-2 2,-18 -12,2zM2704,1055l12,11 3,-20 -12,-9z"/>
<path color="#3990c6" d="M1936,818l12,-9 1,-22 -11,13zM2692,1038l12,17 3,-18 -12,-21z"/>
<path color="#307bc6" d="M1948,809l12,2 1,-23 -12,-1zM2679,1033l13,5 3,-22 -13,-7z"/>
<path color="#3078c6" d="M1960,811l11,3 2,-22 -12,-4zM1971,814l695,215 3,-24 -696,-213zM2666,1029l13,4 3,-24 -13,-4z"/>
<path color="#398ac9" d="M3085,1161l36,12 4,-20 -36,-13z"/>
<path color="#3c8dc9" d="M3121,1173l37,12 4,-19 -37,-13z"/>
<path color="#3f90c9" d="M3158,1185l37,12 4,-19 -37,-12z"/>
<path color="#36a2bd" d="M1509,694l378,118 1,-21 -378,-117zM1887,812l12,3 1,-20 -12,-4zM2740,1076l13,4 4,-21 -14,-4zM2753,1080l255,79 4,-22 -255,-78zM3008,1159l36,11 4,-21 -36,-12zM3044,1170l37,11 4,-20 -37,-12z"/>
<path color="#36a5bd" d="M1899,815l11,8 2,-21 -12,-7zM2727,1076l13,0 3,-21 -13,-1z"/>
<path color="#39b1ae" d="M1910,823l12,15 2,-18 -12,-18zM2713,1084l14,-8 3,-22 -14,12z"/>
<path color="#42b7ab" d="M1922,838l12,-2 2,-18 -12,2zM2700,1074l13,10 3,-18 -12,-11z"/>
<path color="#36abb7" d="M1934,836l12,-5 2,-22 -12,9zM2688,1061l12,13 4,-19 -12,-17z"/>
<path color="#309fbd" d="M1946,831l12,2 2,-22 -12,-2zM2675,1056l13,5 4,-23 -13,-5z"/>
<path color="#309cbd" d="M1958,833l717,223 4,-23 -719,-222z"/>
<path color="#39a5bd" d="M3081,1181l36,12 4,-20 -36,-12z"/>
<path color="#3ca8c0" d="M3117,1193l37,11 4,-19 -37,-12z"/>
<path color="#3fabc0" d="M3154,1204l37,12 4,-19 -37,-12z"/>
<path color="#36b49c" d="M1508,715l377,117 2,-20 -378,-118zM1885,832l12,4 2,-21 -12,-3zM2737,1097l13,4 3,-21 -13,-4zM2750,1101l254,79 4,-21 -255,-79zM3004,1180l36,11 4,-21 -36,-11z"/>
<path color="#33b796" d="M1897,836l12,9 1,-22 -11,-8zM2724,1099l13,-2 3,-21 -13,0z"/>
<path color="#33ba84" d="M1909,845l12,19 1,-26 -12,-15zM2709,1110l15,-11 3,-23 -14,8z"/>
<path color="#33ba7e" d="M1921,864l11,-5 2,-23 -12,2zM2697,1097l12,13 4,-26 -13,-10z"/>
<path color="#33b78d" d="M1932,859l12,-6 2,-22 -12,5zM2685,1083l12,14 3,-23 -12,-13z"/>
<path color="#33b499" d="M1944,853l12,3 2,-23 -12,-2zM1956,856l716,223 3,-23 -717,-223zM2672,1079l13,4 3,-22 -13,-5z"/>
<path color="#39b49f" d="M3040,1191l37,11 4,-21 -37,-11z"/>
<path color="#3cb79f" d="M3077,1202l37,11 3,-20 -36,-12z"/>
<path color="#3fb7a2" d="M3114,1213l37,10 3,-19 -37,-11z"/>
<path color="#42b7a2" d="M3151,1223l37,12 3,-19 -37,-12z"/>
<path color="#39ba78" d="M1507,735l377,117 1,-20 -377,-117zM1884,852l11,4 2,-20 -12,-4zM2734,1118l13,4 3,-21 -13,-4zM2747,1122l253,79 4,-21 -254,-79zM3000,1201l37,11 3,-21 -36,-11z"/>
<path color="#36ba6f" d="M1895,856l12,12 2,-23 -12,-9zM1942,875l12,3 2,-22 -12,-3zM1954,878l715,223 3,-22 -716,-223zM2669,1101l13,5 3,-23 -13,-4zM2720,1122l14,-4 3,-21 -13,2z"/>
<path color="#36ba57" d="M1907,868l12,21 2,-25 -12,-19zM2706,1136l14,-14 4,-23 -15,11z"/>
<path color="#36ba54" d="M1919,889l12,-8 1,-22 -11,5zM2694,1120l12,16 3,-26 -12,-13z"/>
<path color="#36ba66" d="M1931,881l11,-6 2,-22 -12,6zM2682,1106l12,14 3,-23 -12,-14z"/>
<path color="#39ba7b" d="M3037,1212l36,10 4,-20 -37,-11z"/>
<path color="#3cbd7e" d="M3073,1222l37,10 4,-19 -37,-11z"/>
<path color="#3fbd81" d="M3110,1232l37,10 4,-19 -37,-10z"/>
<path color="#42bd84" d="M3147,1242l37,11 4,-18 -37,-12z"/>
<path color="#39ba57" d="M1506,755l376,118 2,-21 -377,-117zM1882,873l12,4 1,-21 -11,-4zM2731,1139l13,4 3,-21 -13,-4zM2744,1143l253,79 3,-21 -253,-79z"/>
<path color="#39b751" d="M1894,877l12,14 1,-23 -12,-12zM2717,1146l14,-7 3,-21 -14,4z"/>
<path color="#39b74b" d="M1906,891l11,24 2,-26 -12,-21zM1917,915l12,-12 2,-22 -12,8zM2691,1142l11,20 4,-26 -12,-16zM2702,1162l15,-16 3,-24 -14,14z"/>
<path color="#39b74e" d="M1929,903l12,-6 1,-22 -11,6zM2679,1128l12,14 3,-22 -12,-14z"/>
<path color="#39ba51" d="M1941,897l12,3 1,-22 -12,-3zM1953,900l713,224 3,-23 -715,-223zM2666,1124l13,4 3,-22 -13,-5z"/>
<path color="#3cba57" d="M2997,1222l36,11 4,-21 -37,-11zM3033,1233l36,10 4,-21 -36,-10z"/>
<path color="#3cba5a" d="M3069,1243l37,9 4,-20 -37,-10z"/>
<path color="#3fbd60" d="M3106,1252l37,9 4,-19 -37,-10z"/>
<path color="#42bd66" d="M3143,1261l37,11 4,-19 -37,-11z"/>
<path color="#3cb74e" d="M1505,775l375,118 2,-20 -376,-118zM1880,893l12,4 2,-20 -12,-4zM2727,1160l13,3 4,-20 -13,-4zM2740,1163l253,80 4,-21 -253,-79zM2993,1243l36,11 4,-21 -36,-11z"/>
<path color="#39b748" d="M1892,897l12,18 2,-24 -12,-14zM1939,919l12,3 2,-22 -12,-3zM1951,922l712,224 3,-22 -713,-224zM2663,1146l13,5 3,-23 -13,-4zM2713,1171l14,-11 4,-21 -14,7z"/>
<path color="#3cb43f" d="M1904,915l12,25 1,-25 -11,-24zM1916,940l12,-16 1,-21 -12,12zM2688,1164l11,24 3,-26 -11,-20zM2699,1188l14,-17 4,-25 -15,16z"/>
<path color="#39b745" d="M1928,924l11,-5 2,-22 -12,6zM2676,1151l12,13 3,-22 -12,-14z"/>
<path color="#3cba4e" d="M3029,1254l37,9 3,-20 -36,-10z"/>
<path color="#3fba51" d="M3066,1263l37,8 3,-19 -37,-9z"/>
<path color="#3fba54" d="M3103,1271l36,9 4,-19 -37,-9z"/>
<path color="#42ba57" d="M3139,1280l37,10 4,-18 -37,-11z"/>
<path color="#3cb745" d="M1504,794l375,119 1,-20 -375,-118zM2737,1184l252,80 4,-21 -253,-80zM2989,1264l36,11 4,-21 -36,-11zM3025,1275l37,8 4,-20 -37,-9z"/>
<path color="#3cb742" d="M1879,913l12,5 1,-21 -12,-4zM2724,1181l13,3 3,-21 -13,-3z"/>
<path color="#3cb43f" d="M1891,918l12,22 1,-25 -12,-18zM1938,940l11,4 2,-22 -12,-3zM1949,944l711,224 3,-22 -712,-224zM2660,1168l12,5 4,-22 -13,-5zM2710,1196l14,-15 3,-21 -14,11z"/>
<path color="#45b736" d="M1903,940l11,25 2,-25 -12,-25zM1914,965l12,-20 2,-21 -12,16zM2685,1185l10,28 4,-25 -11,-24zM2695,1213l15,-17 3,-25 -14,17z"/>
<path color="#3cb43c" d="M1926,945l12,-5 1,-21 -11,5zM2672,1173l13,12 3,-21 -12,-13z"/>
<path color="#3fb748" d="M3062,1283l37,8 4,-20 -37,-8z"/>
<path color="#3fba4b" d="M3099,1291l37,8 3,-19 -36,-9z"/>
<path color="#42ba4e" d="M3136,1299l37,10 3,-19 -37,-10z"/>
<path color="#3fb43c" d="M1503,814l374,119 2,-20 -375,-119zM2734,1205l252,79 3,-20 -252,-80zM2986,1284l36,11 3,-20 -36,-11z"/>
<path color="#3cb439" d="M1877,933l12,6 2,-21 -12,-5zM2721,1203l13,2 3,-21 -13,-3z"/>
<path color="#48b736" d="M1889,939l12,26 2,-25 -12,-22zM2706,1221l15,-18 3,-22 -14,15z"/>
<path color="#69c033" d="M1901,965l12,24 1,-24 -11,-25zM2692,1238l14,-17 4,-25 -15,17z"/>
<path color="#66c033" d="M1913,989l11,-24 2,-20 -12,20zM2681,1206l11,32 3,-25 -10,-28z"/>
<path color="#4bb736" d="M1924,965l12,-3 2,-22 -12,5zM2669,1195l12,11 4,-21 -13,-12z"/>
<path color="#45b736" d="M1936,962l12,3 1,-21 -11,-4zM1948,965l709,226 3,-23 -711,-224zM2657,1191l12,4 3,-22 -12,-5z"/>
<path color="#3fb73c" d="M3022,1295l36,8 4,-20 -37,-8z"/>
<path color="#3fb73f" d="M3058,1303l37,7 4,-19 -37,-8z"/>
<path color="#42b745" d="M3095,1310l37,8 4,-19 -37,-8z"/>
<path color="#42b748" d="M3132,1318l37,9 4,-18 -37,-10z"/>
<path color="#54ba39" d="M1502,834l374,119 1,-20 -374,-119zM2731,1225l251,80 4,-21 -252,-79zM2982,1305l36,11 4,-21 -36,-11z"/>
<path color="#57ba36" d="M1876,953l12,7 1,-21 -12,-6zM2718,1224l13,1 3,-20 -13,-2z"/>
<path color="#6cc033" d="M1888,960l11,30 2,-25 -12,-26zM2703,1247l15,-23 3,-21 -15,18z"/>
<path color="#90c933" d="M1899,990l12,22 2,-23 -12,-24zM2689,1262l14,-15 3,-26 -14,17z"/>
<path color="#87c633" d="M1911,1012l12,-26 1,-21 -11,24zM2678,1227l11,35 3,-24 -11,-32z"/>
<path color="#6cc036" d="M1923,986l11,-3 2,-21 -12,3zM2666,1217l12,10 3,-21 -12,-11z"/>
<path color="#66bd36" d="M1934,983l12,4 2,-22 -12,-3zM1946,987l707,225 4,-21 -709,-226zM2653,1212l13,5 3,-22 -12,-4z"/>
<path color="#51ba39" d="M3018,1316l37,7 3,-20 -36,-8z"/>
<path color="#4bb739" d="M3055,1323l36,7 4,-20 -37,-7z"/>
<path color="#45b73c" d="M3091,1330l38,6 3,-18 -37,-8z"/>
<path color="#42b73f" d="M3129,1336l36,10 4,-19 -37,-9z"/>
<path color="#72c336" d="M1501,854l362,115 1,-20 -362,-115zM1863,969l11,4 2,-20 -12,-4zM2728,1246l13,4 3,-21 -13,-4zM2741,1250l237,76 4,-21 -238,-76zM2978,1326l36,10 4,-20 -36,-11z"/>
<path color="#75c336" d="M1874,973l12,8 2,-21 -12,-7zM2715,1246l13,0 3,-21 -13,-1z"/>
<path color="#8dc933" d="M1886,981l12,35 1,-26 -11,-30zM2699,1274l16,-28 3,-22 -15,23z"/>
<path color="#b7cf2d" d="M1898,1016l12,18 1,-22 -12,-22zM2685,1285l14,-11 4,-27 -14,15z"/>
<path color="#abcc2d" d="M1910,1034l11,-28 2,-20 -12,26zM2675,1248l10,37 4,-23 -11,-35z"/>
<path color="#8ac933" d="M1921,1006l12,-2 1,-21 -11,3zM2663,1238l12,10 3,-21 -12,-10z"/>
<path color="#84c633" d="M1933,1004l11,4 2,-21 -12,-4zM1944,1008l706,226 3,-22 -707,-225zM2650,1234l13,4 3,-21 -13,-5z"/>
<path color="#6fc036" d="M3014,1336l37,8 4,-21 -37,-7z"/>
<path color="#69c039" d="M3051,1344l37,5 3,-19 -36,-7z"/>
<path color="#60bd3c" d="M3088,1349l37,6 4,-19 -38,-6z"/>
<path color="#5dbd3c" d="M3125,1355l37,9 3,-18 -36,-10z"/>
<path color="#90c933" d="M1500,873l361,116 2,-20 -362,-115zM1861,989l12,4 1,-20 -11,-4zM2725,1266l12,4 4,-20 -13,-4zM2737,1270l238,76 3,-20 -237,-76zM2975,1346l36,11 3,-21 -36,-10z"/>
<path color="#93c933" d="M1873,993l11,9 2,-21 -12,-8zM2711,1268l14,-2 3,-20 -13,0z"/>
<path color="#b4cf2d" d="M1884,1002l12,41 2,-27 -12,-35zM2696,1301l15,-33 4,-22 -16,28z"/>
<path color="#ded527" d="M1896,1043l12,13 2,-22 -12,-18zM2682,1306l14,-5 3,-27 -14,11z"/>
<path color="#ccd22a" d="M1908,1056l11,-30 2,-20 -11,28zM2672,1269l10,37 3,-21 -10,-37z"/>
<path color="#abcf30" d="M1919,1026l12,0 2,-22 -12,2zM2660,1260l12,9 3,-21 -12,-10z"/>
<path color="#a8cc30" d="M1931,1026l12,3 1,-21 -11,-4zM2263,1133l13,4 2,-22 -12,-4zM2276,1137l12,4 2,-22 -12,-4zM2288,1141l12,3 2,-21 -12,-4zM2300,1144l12,4 2,-21 -12,-4zM2647,1256l13,4 3,-22 -13,-4z"/>
<path color="#a5cc30" d="M1943,1029l308,100 3,-22 -310,-99zM2251,1129l12,4 3,-22 -12,-4zM2312,1148l12,4 3,-21 -13,-4zM2324,1152l323,104 3,-22 -323,-103z"/>
<path color="#8dc936" d="M3011,1357l36,7 4,-20 -37,-8z"/>
<path color="#84c636" d="M3047,1364l37,4 4,-19 -37,-5z"/>
<path color="#7bc339" d="M3084,1368l37,6 4,-19 -37,-6z"/>
<path color="#75c33c" d="M3121,1374l37,8 4,-18 -37,-9z"/>
<path color="#aecf30" d="M1499,893l360,116 2,-20 -361,-116zM1859,1009l12,4 2,-20 -12,-4zM2721,1287l13,4 3,-21 -12,-4zM2734,1291l237,76 4,-21 -238,-76zM2971,1367l36,11 4,-21 -36,-11z"/>
<path color="#b4cf30" d="M1871,1013l12,11 1,-22 -11,-9zM2708,1290l13,-3 4,-21 -14,2z"/>
<path color="#ded52a" d="M1883,1024l12,46 1,-27 -12,-41zM2692,1329l16,-39 3,-22 -15,33z"/>
<path color="#e7b424" d="M1895,1070l11,6 2,-20 -12,-13zM2679,1327l13,2 4,-28 -14,5z"/>
<path color="#e4cc27" d="M1906,1076l11,-29 2,-21 -11,30zM2669,1289l10,38 3,-21 -10,-37z"/>
<path color="#ccd22a" d="M1917,1047l12,0 2,-21 -12,0zM2657,1282l12,7 3,-20 -12,-9z"/>
<path color="#c9d22d" d="M1929,1047l12,3 2,-21 -12,-3zM1941,1050l296,96 2,-21 -296,-96zM2237,1146l12,4 2,-21 -12,-4zM2249,1150l12,4 2,-21 -12,-4zM2261,1154l12,4 3,-21 -13,-4zM2297,1166l12,4 3,-22 -12,-4zM2309,1170l13,4 2,-22 -12,-4zM2322,1174l12,3 2,-21 -12,-4zM2334,1177l310,100 3,-21 -311,-100zM2644,1277l13,5 3,-22 -13,-4z"/>
<path color="#c9d22a" d="M2273,1158l12,4 3,-21 -12,-4zM2285,1162l12,4 3,-22 -12,-3z"/>
<path color="#abcf30" d="M3007,1378l36,6 4,-20 -36,-7z"/>
<path color="#9fcc33" d="M3043,1384l37,4 4,-20 -37,-4z"/>
<path color="#96c936" d="M3080,1388l37,4 4,-18 -37,-6z"/>
<path color="#90c939" d="M3117,1392l37,9 4,-19 -37,-8z"/>
<path color="#ccd52d" d="M1498,913l360,116 1,-20 -360,-116zM2731,1311l236,77 4,-21 -237,-76zM2967,1388l36,10 4,-20 -36,-11z"/>
<path color="#cfd52d" d="M1858,1029l11,4 2,-20 -12,-4zM2718,1307l13,4 3,-20 -13,-4z"/>
<path color="#d5d52a" d="M1869,1033l12,14 2,-23 -12,-11zM2704,1314l14,-7 3,-20 -13,3z"/>
<path color="#e7b424" d="M1881,1047l12,51 2,-28 -12,-46zM2688,1357l16,-43 4,-24 -16,39z"/>
<path color="#ea8d21" d="M1893,1098l11,-3 2,-19 -11,-6zM2676,1347l12,10 4,-28 -13,-2z"/>
<path color="#e7ae24" d="M1904,1095l12,-28 1,-20 -11,29zM2666,1310l10,37 3,-20 -10,-38z"/>
<path color="#e1cc27" d="M1916,1067l11,1 2,-21 -12,0zM2270,1181l12,4 3,-23 -12,-4zM2282,1185l13,4 2,-23 -12,-4zM2653,1303l13,7 3,-21 -12,-7z"/>
<path color="#e1cf27" d="M1927,1068l12,3 2,-21 -12,-3zM1939,1071l283,92 3,-21 -284,-92zM2222,1163l12,4 3,-21 -12,-4zM2234,1167l12,5 3,-22 -12,-4zM2246,1172l12,4 3,-22 -12,-4zM2258,1176l12,5 3,-23 -12,-4zM2295,1189l12,3 2,-22 -12,-4zM2307,1192l12,3 3,-21 -13,-4zM2319,1195l12,4 3,-22 -12,-3zM2331,1199l12,4 3,-22 -12,-4zM2343,1203l298,96 3,-22 -298,-96zM2641,1299l12,4 4,-21 -13,-5z"/>
<path color="#c9d22d" d="M3003,1398l36,6 4,-20 -36,-6z"/>
<path color="#bdd230" d="M3039,1404l37,3 4,-19 -37,-4z"/>
<path color="#b1cf33" d="M3076,1407l37,4 4,-19 -37,-4z"/>
<path color="#a8cf36" d="M3113,1411l37,8 4,-18 -37,-9z"/>
<path color="#e1cf27" d="M1497,933l359,116 2,-20 -360,-116zM2727,1332l236,76 4,-20 -236,-77zM2963,1408l36,11 4,-21 -36,-10z"/>
<path color="#e1cc27" d="M1856,1049l11,4 2,-20 -11,-4zM2714,1328l13,4 4,-21 -13,-4z"/>
<path color="#e4c027" d="M1867,1053l12,18 2,-24 -12,-14zM2701,1338l13,-10 4,-21 -14,7z"/>
<path color="#ed8a21" d="M1879,1071l12,54 2,-27 -12,-51zM2684,1385l17,-47 3,-24 -16,43z"/>
<path color="#ea6621" d="M1891,1125l11,-12 2,-18 -11,3zM2672,1366l12,19 4,-28 -12,-10z"/>
<path color="#ea8d21" d="M1902,1113l11,-26 3,-20 -12,28zM2662,1331l10,35 4,-19 -10,-37z"/>
<path color="#e7ae24" d="M1913,1087l12,2 2,-21 -11,-1zM1925,1089l283,92 2,-22 -283,-91zM2208,1181l12,4 2,-22 -12,-4zM2220,1185l12,4 2,-22 -12,-4zM2232,1189l12,5 2,-22 -12,-5zM2316,1218l12,2 3,-21 -12,-4zM2328,1220l12,4 3,-21 -12,-4zM2340,1224l13,4 2,-21 -12,-4zM2353,1228l297,97 3,-22 -298,-96zM2650,1325l12,6 4,-21 -13,-7z"/>
<path color="#e7ab24" d="M2244,1194l12,6 2,-24 -12,-4zM2304,1215l12,3 3,-23 -12,-3z"/>
<path color="#e7a824" d="M2256,1200l12,5 2,-24 -12,-5zM2268,1205l12,5 2,-25 -12,-4zM2280,1210l12,3 3,-24 -13,-4zM2292,1213l12,2 3,-23 -12,-3z"/>
<path color="#e1d227" d="M2999,1419l36,5 4,-20 -36,-6z"/>
<path color="#d8d52a" d="M3035,1424l37,3 4,-20 -37,-3z"/>
<path color="#ccd22d" d="M3072,1427l37,3 4,-19 -37,-4z"/>
<path color="#c3d230" d="M3109,1430l37,8 4,-19 -37,-8z"/>
<path color="#e4ae24" d="M1495,953l358,116 3,-20 -359,-116zM1853,1069l12,5 2,-21 -11,-4zM2711,1349l12,4 4,-21 -13,-4zM2723,1353l236,76 4,-21 -236,-76zM2959,1429l36,11 4,-21 -36,-11z"/>
<path color="#e79f24" d="M1865,1074l11,21 3,-24 -12,-18zM2696,1363l15,-14 3,-21 -13,10z"/>
<path color="#ea5d21" d="M1876,1095l13,58 2,-28 -12,-54zM2679,1414l17,-51 5,-25 -17,47z"/>
<path color="#e73f24" d="M1889,1153l11,-22 2,-18 -11,12zM2669,1383l10,31 5,-29 -12,-19z"/>
<path color="#ea6f21" d="M1900,1131l11,-23 2,-21 -11,26zM2659,1352l10,31 3,-17 -10,-35z"/>
<path color="#e78d24" d="M1911,1108l12,2 2,-21 -12,-2zM1923,1110l282,92 3,-21 -283,-92zM2205,1202l12,4 3,-21 -12,-4zM2337,1245l12,4 4,-21 -13,-4zM2349,1249l297,97 4,-21 -297,-97zM2646,1346l13,6 3,-21 -12,-6z"/>
<path color="#ea8d21" d="M2217,1206l12,5 3,-22 -12,-4zM2325,1243l12,2 3,-21 -12,-4z"/>
<path color="#ea8a21" d="M2229,1211l12,7 3,-24 -12,-5zM2313,1242l12,1 3,-23 -12,-2z"/>
<path color="#ea8421" d="M2241,1218l11,8 4,-26 -12,-6zM2301,1242l12,0 3,-24 -12,-3z"/>
<path color="#ed8121" d="M2252,1226l12,6 4,-27 -12,-5zM2288,1240l13,2 3,-27 -12,-2z"/>
<path color="#ed7e1e" d="M2264,1232l12,5 4,-27 -12,-5zM2276,1237l12,3 4,-27 -12,-3z"/>
<path color="#e4b727" d="M2995,1440l36,5 4,-21 -36,-5z"/>
<path color="#e4c627" d="M3031,1445l37,1 4,-19 -37,-3z"/>
<path color="#e1d227" d="M3068,1446l37,3 4,-19 -37,-3z"/>
<path color="#dbd52a" d="M3105,1449l37,8 4,-19 -37,-8z"/>
<path color="#e79024" d="M1493,973l357,117 3,-21 -358,-116zM2719,1374l235,77 5,-22 -236,-76zM2954,1451l36,10 5,-21 -36,-11z"/>
<path color="#e78d24" d="M1850,1090l12,5 3,-21 -12,-5zM2706,1371l13,3 4,-21 -12,-4z"/>
<path color="#ea7821" d="M1862,1095l12,27 2,-27 -11,-21zM2692,1391l14,-20 5,-22 -15,14z"/>
<path color="#e73027" d="M1874,1122l12,58 3,-27 -13,-58zM2675,1442l17,-51 4,-28 -17,51z"/>
<path color="#e41b27" d="M1886,1180l11,-32 3,-17 -11,22zM2665,1401l10,41 4,-28 -10,-31z"/>
<path color="#e75124" d="M1897,1148l11,-20 3,-20 -11,23zM2654,1373l11,28 4,-18 -10,-31z"/>
<path color="#e76c24" d="M1908,1128l12,3 3,-21 -12,-2zM1920,1131l270,88 3,-21 -270,-88zM2190,1219l11,4 4,-21 -12,-4zM2201,1223l12,5 4,-22 -12,-4zM2334,1268l12,3 3,-22 -12,-4zM2346,1271l12,4 4,-22 -13,-4zM2358,1275l284,93 4,-22 -284,-93zM2642,1368l12,5 5,-21 -13,-6z"/>
<path color="#ea6924" d="M2213,1228l12,8 4,-25 -12,-5zM2321,1268l13,0 3,-23 -12,-2z"/>
<path color="#ea6021" d="M2225,1236l12,10 4,-28 -12,-7zM2309,1270l12,-2 4,-25 -12,-1z"/>
<path color="#ea5a24" d="M2237,1246l12,7 3,-27 -11,-8zM2297,1269l12,1 4,-28 -12,0z"/>
<path color="#e75424" d="M2249,1253l12,4 3,-25 -12,-6zM2261,1257l12,4 3,-24 -12,-5zM2273,1261l12,4 3,-25 -12,-3zM2285,1265l12,4 4,-27 -13,-2z"/>
<path color="#e79624" d="M2990,1461l36,5 5,-21 -36,-5z"/>
<path color="#e4a824" d="M3026,1466l38,1 4,-21 -37,-1z"/>
<path color="#e4ba27" d="M3064,1467l37,2 4,-20 -37,-3z"/>
<path color="#e1c627" d="M3101,1469l36,7 5,-19 -37,-8z"/>
<path color="#e76f24" d="M1489,994l358,117 3,-21 -357,-117zM2714,1396l235,77 5,-22 -235,-77zM2949,1473l35,11 6,-23 -36,-10z"/>
<path color="#e76c24" d="M1847,1111l11,6 4,-22 -12,-5zM2701,1394l13,2 5,-22 -13,-3z"/>
<path color="#e74e24" d="M1858,1117l12,36 4,-31 -12,-27zM2686,1422l15,-28 5,-23 -14,20z"/>
<path color="#e41b27" d="M1870,1153l12,53 4,-26 -12,-58zM1882,1206l11,-43 4,-15 -11,32zM2661,1417l8,51 6,-26 -10,-41zM2669,1468l17,-46 6,-31 -17,51z"/>
<path color="#e43327" d="M1893,1163l11,-14 4,-21 -11,20zM2650,1395l11,22 4,-16 -11,-28z"/>
<path color="#e44827" d="M1904,1149l12,3 4,-21 -12,-3zM2185,1241l12,5 4,-23 -11,-4zM2341,1293l12,4 5,-22 -12,-4zM2637,1390l13,5 4,-22 -12,-5z"/>
<path color="#e44b27" d="M1916,1152l269,89 5,-22 -270,-88zM2353,1297l284,93 5,-22 -284,-93z"/>
<path color="#e44527" d="M2197,1246l12,8 4,-26 -12,-5zM2329,1294l12,-1 5,-22 -12,-3z"/>
<path color="#e73f27" d="M2209,1254l12,12 4,-30 -12,-8zM2317,1297l12,-3 5,-26 -13,0z"/>
<path color="#e43927" d="M2221,1266l12,-3 4,-17 -12,-10zM2305,1287l12,10 4,-29 -12,2z"/>
<path color="#e43f27" d="M2233,1263l12,-8 4,-2 -12,-7zM2293,1270l12,17 4,-17 -12,-1z"/>
<path color="#a5331e" d="M2245,1255l12,-5 4,7 -12,-4zM2281,1258l12,12 4,-1 -12,-4z"/>
<path color="#a5361b" d="M2257,1250l12,2 4,9 -12,-4zM2269,1252l12,6 4,7 -12,-4z"/>
<path color="#e77824" d="M2984,1484l37,3 5,-21 -36,-5z"/>
<path color="#e48a27" d="M3021,1487l37,1 6,-21 -38,-1z"/>
<path color="#e49c27" d="M3058,1488l37,1 6,-20 -37,-2z"/>
<path color="#e4ab27" d="M3095,1489l37,8 5,-21 -36,-7z"/>
<path color="#e45727" d="M1480,1010l346,114 9,-17 -346,-113zM1826,1124l11,4 10,-17 -12,-4zM2705,1414l13,4 9,-18 -13,-4zM2718,1418l222,73 9,-18 -222,-73zM2940,1491l36,11 8,-18 -35,-11z"/>
<path color="#e45427" d="M1837,1128l12,8 9,-19 -11,-6zM2692,1415l13,-1 9,-18 -13,-2z"/>
<path color="#e42a27" d="M1849,1136l12,51 9,-34 -12,-36zM2676,1458l16,-43 9,-21 -15,28z"/>
<path color="#e41b27" d="M1861,1187l12,28 9,-9 -12,-53zM2653,1422l8,57 8,-11 -8,-51zM2661,1479l15,-21 10,-36 -17,46z"/>
<path color="#a5151e" d="M1873,1215l11,-47 9,-5 -11,43z"/>
<path color="#e42727" d="M1884,1168l11,-5 9,-14 -11,14zM2641,1410l12,12 8,-5 -11,-22z"/>
<path color="#e43327" d="M1895,1163l11,4 10,-15 -12,-3zM1906,1167l246,81 9,-15 -245,-81zM2152,1248l12,4 9,-15 -12,-4zM2164,1252l12,6 9,-17 -12,-4zM2344,1314l13,2 9,-16 -13,-3zM2357,1316l12,4 9,-16 -12,-4zM2369,1320l259,85 9,-15 -259,-86zM2628,1405l13,5 9,-15 -13,-5z"/>
<path color="#e42d27" d="M2176,1258l12,14 9,-26 -12,-5zM2332,1320l12,-6 9,-17 -12,-4z"/>
<path color="#a5271e" d="M2188,1272l13,-33 8,15 -12,-8z"/>
<path color="#a8421b" d="M2201,1239l13,-44 7,71 -12,-12zM2311,1227l10,51 8,16 -12,3z"/>
<path color="#ab5418" d="M2214,1195l12,-5 7,73 -12,3zM2299,1214l12,13 6,70 -12,-10z"/>
<path color="#a85d18" d="M2226,1190l12,1 7,64 -12,8zM2287,1207l12,7 6,73 -12,-17z"/>
<path color="#a86618" d="M2238,1191l12,3 7,56 -12,5zM2275,1202l12,5 6,63 -12,-12z"/>
<path color="#a86c1b" d="M2250,1194l13,4 6,54 -12,-2zM2263,1198l12,4 6,56 -12,-6z"/>
<path color="#e43927" d="M2321,1278l11,42 9,-27 -12,1z"/>
<path color="#e46027" d="M2976,1502l36,3 9,-18 -37,-3z"/>
<path color="#e47527" d="M3012,1505l38,0 8,-17 -37,-1z"/>
<path color="#e18a27" d="M3050,1505l37,2 8,-18 -37,-1z"/>
<path color="#e19627" d="M3087,1507l37,7 8,-17 -37,-8z"/>
<path color="#a5451b" d="M1473,998l347,114 6,12 -346,-114zM1820,1112l12,4 5,12 -11,-4zM2702,1403l13,4 3,11 -13,-4zM2715,1407l223,73 2,11 -222,-73zM2938,1480l36,11 2,11 -36,-11z"/>
<path color="#a5421b" d="M1832,1116l11,11 6,9 -12,-8zM2689,1406l13,-3 3,11 -13,1z"/>
<path color="#e42427" d="M1843,1127l13,55 5,5 -12,-51z"/>
<path color="#a5151e" d="M1856,1182l11,11 6,22 -12,-28zM1867,1193l11,-42 6,17 -11,47zM2650,1406l9,51 2,22 -8,-57zM2659,1457l13,-4 4,5 -15,21z"/>
<path color="#a52a1b" d="M1878,1151l12,-1 5,13 -11,5zM2638,1396l12,10 3,16 -12,-12z"/>
<path color="#a5301b" d="M1890,1150l11,3 5,14 -11,-4zM1901,1153l247,82 4,13 -246,-81zM2148,1235l12,4 4,13 -12,-4zM2353,1303l12,3 4,14 -12,-4zM2365,1306l260,86 3,13 -259,-85zM2625,1392l13,4 3,14 -13,-5z"/>
<path color="#a52d1b" d="M2160,1239l11,11 5,8 -12,-6zM2171,1250l13,-22 4,44 -12,-14zM2329,1276l11,29 4,9 -12,6zM2340,1305l13,-2 4,13 -13,-2z"/>
<path color="#ab5a15" d="M2184,1228l14,-73 3,84 -13,33zM2320,1195l9,81 3,44 -11,-42z"/>
<path color="#a2901b" d="M2198,1155l12,-7 4,47 -13,44zM2308,1179l12,16 1,83 -10,-51z"/>
<path color="#96991e" d="M2210,1148l12,1 4,41 -12,5zM2296,1172l12,7 3,48 -12,-13z"/>
<path color="#909921" d="M2222,1149l13,3 3,39 -12,-1zM2235,1152l12,4 3,38 -12,-3zM2247,1156l12,4 4,38 -13,-4zM2259,1160l12,4 4,38 -12,-4zM2271,1164l13,4 3,39 -12,-5zM2284,1168l12,4 3,42 -12,-7z"/>
<path color="#a51b1b" d="M2672,1453l17,-47 3,9 -16,43z"/>
<path color="#a54e1b" d="M2974,1491l36,4 2,10 -36,-3z"/>
<path color="#a55a1b" d="M3010,1495l37,1 3,9 -38,0z"/>
<path color="#a5691b" d="M3047,1496l38,2 2,9 -37,-2z"/>
<path color="#a2721b" d="M3085,1498l37,7 2,9 -37,-7z"/>
<path color="#a85d1b" d="M1469,984l348,114 3,14 -347,-114zM1817,1098l11,4 4,14 -12,-4zM2701,1389l13,4 1,14 -13,-4zM2714,1393l223,73 1,14 -223,-73z"/>
<path color="#a8571b" d="M1828,1102l12,12 3,13 -11,-11zM2688,1393l13,-4 1,14 -13,3z"/>
<path color="#e74224" d="M1840,1114l12,55 4,13 -13,-55z"/>
<path color="#a5151e" d="M1852,1169l12,2 3,22 -11,-11zM2658,1435l13,5 1,13 -13,4z"/>
<path color="#a5241b" d="M1864,1171l11,-37 3,17 -11,42zM2649,1389l9,46 1,22 -9,-51z"/>
<path color="#a8481b" d="M1875,1134l11,0 4,16 -12,1zM2637,1381l12,8 1,17 -12,-10z"/>
<path color="#a84b1b" d="M1886,1134l12,4 3,15 -11,-3zM1898,1138l247,81 3,16 -247,-82zM2145,1219l12,5 3,15 -12,-4zM2350,1288l13,3 2,15 -12,-3zM2363,1291l261,85 1,16 -260,-86zM2624,1376l13,5 1,15 -13,-4z"/>
<path color="#a5421b" d="M2157,1224l12,13 2,13 -11,-11zM2338,1293l12,-5 3,15 -13,2z"/>
<path color="#ab6015" d="M2169,1237l13,-69 2,60 -13,22zM2329,1216l9,77 2,12 -11,-29z"/>
<path color="#96991e" d="M2182,1168l14,-49 2,36 -14,73zM2318,1159l11,57 0,60 -9,-81z"/>
<path color="#699024" d="M2196,1119l12,-2 2,31 -12,7zM2306,1149l12,10 2,36 -12,-16z"/>
<path color="#639024" d="M2208,1117l12,3 2,29 -12,-1zM2294,1144l12,5 2,30 -12,-7z"/>
<path color="#609027" d="M2220,1120l12,4 3,28 -13,-3zM2232,1124l13,4 2,28 -12,-4zM2245,1128l24,8 2,28 -24,-8zM2269,1136l13,4 2,28 -13,-4zM2282,1140l12,4 2,28 -12,-4z"/>
<path color="#a8301b" d="M2671,1440l17,-47 1,13 -17,47z"/>
<path color="#a55d1b" d="M2937,1466l36,11 1,14 -36,-11z"/>
<path color="#a5631b" d="M2973,1477l37,4 0,14 -36,-4z"/>
<path color="#a56f1b" d="M3010,1481l37,2 0,13 -37,-1z"/>
<path color="#a57e1b" d="M3047,1483l37,2 1,13 -38,-2z"/>
<path color="#a2871b" d="M3084,1485l37,8 1,12 -37,-7z"/>
<path color="#a5751b" d="M1465,969l349,114 3,15 -348,-114zM1814,1083l11,4 3,15 -11,-4zM2700,1374l13,4 1,15 -13,-4zM2713,1378l224,73 0,15 -223,-73zM2937,1451l36,11 0,15 -36,-11z"/>
<path color="#a56f1b" d="M1825,1087l12,13 3,14 -12,-12zM2687,1378l13,-4 1,15 -13,4z"/>
<path color="#a84518" d="M1837,1100l12,53 3,16 -12,-55zM1861,1150l11,-33 3,17 -11,37zM2648,1372l10,41 0,22 -9,-46zM2670,1424l17,-46 1,15 -17,47z"/>
<path color="#a5271b" d="M1849,1153l12,-3 3,21 -12,-2zM2658,1413l12,11 1,16 -13,-5z"/>
<path color="#a86018" d="M1872,1117l11,0 3,17 -11,0zM2636,1364l12,8 1,17 -12,-8z"/>
<path color="#a86318" d="M1883,1117l248,82 2,16 -247,-81zM2131,1199l12,4 2,16 -12,-4zM2143,1203l12,6 2,15 -12,-5zM2349,1272l12,2 2,17 -13,-3zM2361,1274l13,4 1,17 -12,-4zM2374,1278l262,86 1,17 -262,-86z"/>
<path color="#a85d18" d="M2155,1209l12,6 2,22 -12,-13zM2337,1271l12,1 1,16 -12,5z"/>
<path color="#a2901b" d="M2167,1215l14,-100 1,53 -13,69zM2328,1163l9,108 1,22 -9,-77zM3047,1469l37,3 0,13 -37,-2z"/>
<path color="#5a8d24" d="M2181,1115l13,-24 2,28 -14,49zM2317,1130l11,33 1,53 -11,-57z"/>
<path color="#3f8727" d="M2194,1091l12,0 2,26 -12,2zM2206,1091l12,4 2,25 -12,-3zM2292,1118l13,5 1,26 -12,-5zM2305,1123l12,7 1,29 -12,-10z"/>
<path color="#3c8727" d="M2218,1095l13,4 1,25 -12,-4zM2231,1099l49,16 2,25 -50,-16zM2280,1115l12,3 2,26 -12,-4z"/>
<path color="#a57b1b" d="M2973,1462l37,5 0,14 -37,-4z"/>
<path color="#a5841b" d="M3010,1467l37,2 0,14 -37,-2z"/>
<path color="#a2991e" d="M3084,1472l37,8 0,13 -37,-8z"/>
<path color="#a58a1b" d="M1462,954l349,114 3,15 -349,-114zM1811,1068l12,4 2,15 -11,-4zM2700,1358l13,4 0,16 -13,-4zM2713,1362l225,73 -1,16 -224,-73zM2938,1435l35,11 0,16 -36,-11z"/>
<path color="#a5841b" d="M1823,1072l11,13 3,15 -12,-13zM2686,1363l14,-5 0,16 -13,4z"/>
<path color="#ab6018" d="M1834,1085l13,51 2,17 -12,-53zM1858,1129l11,-29 3,17 -11,33zM2648,1354l10,38 0,21 -10,-41zM2670,1407l16,-44 1,15 -17,46z"/>
<path color="#a84518" d="M1847,1136l11,-7 3,21 -12,3zM2658,1392l12,15 0,17 -12,-11z"/>
<path color="#a57b1b" d="M1869,1100l12,1 2,16 -11,0zM1881,1101l248,81 2,17 -248,-82zM2129,1182l12,4 2,17 -12,-4zM2141,1186l12,7 2,16 -12,-6zM2153,1193l12,-11 2,33 -12,-6zM2336,1238l12,18 1,16 -12,-1zM2348,1256l12,1 1,17 -12,-2zM2360,1257l12,4 2,17 -13,-4zM2372,1261l263,86 1,17 -262,-86zM2635,1347l13,7 0,18 -12,-8z"/>
<path color="#7b9321" d="M2165,1182l15,-107 1,40 -14,100zM2328,1122l8,116 1,33 -9,-108z"/>
<path color="#2d8127" d="M2180,1075l12,-9 2,25 -13,24zM2316,1105l12,17 0,41 -11,-33z"/>
<path color="#2a812a" d="M2192,1066l13,2 1,23 -12,0zM2304,1099l12,6 1,25 -12,-7z"/>
<path color="#2a812d" d="M2205,1068l12,4 1,23 -12,-4zM2217,1072l74,23 1,23 -74,-23zM2291,1095l13,4 1,24 -13,-5z"/>
<path color="#a2901b" d="M2973,1446l37,6 0,15 -37,-5z"/>
<path color="#a2991e" d="M3010,1452l37,3 0,14 -37,-2z"/>
<path color="#99991e" d="M3047,1455l38,4 -1,13 -37,-3z"/>
<path color="#939921" d="M3085,1459l37,8 -1,13 -37,-8z"/>
<path color="#9c991e" d="M1459,938l350,114 2,16 -349,-114zM1809,1052l11,4 3,16 -12,-4zM2700,1342l13,4 0,16 -13,-4zM2713,1346l225,73 0,16 -225,-73zM2938,1419l36,11 -1,16 -35,-11z"/>
<path color="#a2991e" d="M1820,1056l12,13 2,16 -11,-13zM2686,1348l14,-6 0,16 -14,5z"/>
<path color="#a87518" d="M1832,1069l12,49 3,18 -13,-51zM2670,1389l16,-41 0,15 -16,44z"/>
<path color="#ab6018" d="M1844,1118l12,-10 2,21 -11,7zM2658,1371l12,18 0,18 -12,-15z"/>
<path color="#a57e1b" d="M1856,1108l11,-26 2,18 -11,29zM2648,1337l10,34 0,21 -10,-38z"/>
<path color="#a2931b" d="M1867,1082l12,2 2,17 -12,-1zM1879,1084l248,81 2,17 -248,-81zM2127,1165l13,4 1,17 -12,-4zM2140,1169l11,8 2,16 -12,-7zM2346,1240l13,1 1,16 -12,-1zM2359,1241l12,3 1,17 -12,-4zM2371,1244l264,86 0,17 -263,-86zM2635,1330l13,7 0,17 -13,-7z"/>
<path color="#9f991e" d="M2151,1177l13,-32 1,37 -12,11zM2336,1201l10,39 2,16 -12,-18z"/>
<path color="#4e8a24" d="M2164,1145l15,-99 1,29 -15,107zM2327,1094l9,107 0,37 -8,-116z"/>
<path color="#2a8433" d="M2179,1046l12,-3 1,23 -12,9zM2191,1043l12,3 2,22 -13,-2zM2203,1046l13,4 1,22 -12,-4zM2216,1050l74,24 1,21 -74,-23zM2290,1074l13,4 1,21 -13,-4zM2303,1078l12,5 1,22 -12,-6zM2315,1083l12,11 1,28 -12,-17z"/>
<path color="#99991e" d="M2974,1430l37,6 -1,16 -37,-6z"/>
<path color="#909921" d="M3011,1436l37,4 -1,15 -37,-3z"/>
<path color="#879621" d="M3048,1440l37,5 0,14 -38,-4z"/>
<path color="#819624" d="M3085,1445l37,8 0,14 -37,-8z"/>
<path color="#879621" d="M1455,922l351,114 3,16 -350,-114zM1806,1036l12,4 2,16 -11,-4zM2700,1326l13,4 0,16 -13,-4zM2713,1330l225,73 0,16 -225,-73zM2938,1403l37,11 -1,16 -36,-11z"/>
<path color="#8d9621" d="M1818,1040l12,13 2,16 -12,-13zM2686,1331l14,-5 0,16 -14,6z"/>
<path color="#a5901b" d="M1830,1053l12,46 2,19 -12,-49zM2670,1370l16,-39 0,17 -16,41z"/>
<path color="#a57b1b" d="M1842,1099l12,-12 2,21 -12,10zM2658,1350l12,20 0,19 -12,-18z"/>
<path color="#a2961b" d="M1854,1087l11,-22 2,17 -11,26zM2647,1319l11,31 0,21 -10,-34z"/>
<path color="#93991e" d="M1865,1065l12,2 2,17 -12,-2zM2138,1152l12,8 1,17 -11,-8zM2346,1224l12,-1 1,18 -13,-1zM2635,1313l12,6 1,18 -13,-7z"/>
<path color="#90991e" d="M1877,1067l249,81 1,17 -248,-81zM2126,1148l12,4 2,17 -13,-4zM2358,1223l12,4 1,17 -12,-3zM2370,1227l265,86 0,17 -264,-86z"/>
<path color="#7b9321" d="M2150,1160l13,-53 1,38 -13,32zM2335,1163l11,61 0,16 -10,-39z"/>
<path color="#2a812a" d="M2163,1107l14,-84 2,23 -15,99zM2326,1071l9,92 1,38 -9,-107z"/>
<path color="#27843c" d="M2177,1023l13,-1 1,21 -12,3zM2190,1022l12,3 1,21 -12,-3zM2202,1025l100,32 1,21 -100,-32zM2302,1057l12,4 1,22 -12,-5zM2314,1061l12,10 1,23 -12,-11z"/>
<path color="#819621" d="M2975,1414l36,7 0,15 -37,-6z"/>
<path color="#7b9324" d="M3011,1421l38,4 -1,15 -37,-4z"/>
<path color="#729324" d="M3049,1425l37,5 -1,15 -37,-5z"/>
<path color="#6c9327" d="M3086,1430l37,9 -1,14 -37,-8z"/>
<path color="#6f9324" d="M1453,906l351,113 2,17 -351,-114zM1804,1019l12,4 2,17 -12,-4zM2700,1309l13,4 0,17 -13,-4zM2713,1313l226,74 -1,16 -225,-73zM2939,1387l36,11 0,16 -37,-11z"/>
<path color="#759321" d="M1816,1023l12,14 2,16 -12,-13zM2686,1315l14,-6 0,17 -14,5z"/>
<path color="#96991e" d="M1828,1037l12,43 2,19 -12,-46zM2670,1351l16,-36 0,16 -16,39z"/>
<path color="#a2991b" d="M1840,1080l12,-13 2,20 -12,12zM2658,1330l12,21 0,19 -12,-20z"/>
<path color="#8a9621" d="M1852,1067l11,-20 2,18 -11,22zM2647,1301l11,29 0,20 -11,-31z"/>
<path color="#7b9321" d="M1863,1047l12,2 2,18 -12,-2zM2137,1134l12,9 1,17 -12,-8zM2345,1207l12,-1 1,17 -12,1zM2635,1296l12,5 0,18 -12,-6z"/>
<path color="#789321" d="M1875,1049l250,81 1,18 -249,-81zM2125,1130l12,4 1,18 -12,-4zM2357,1206l13,4 0,17 -12,-4zM2370,1210l265,86 0,17 -265,-86z"/>
<path color="#578d24" d="M2149,1143l13,-73 1,37 -13,53zM2335,1126l10,81 1,17 -11,-61z"/>
<path color="#2a8433" d="M2162,1070l14,-68 1,21 -14,84zM2326,1049l9,77 0,37 -9,-92z"/>
<path color="#278454" d="M2176,1002l13,0 1,20 -13,1zM2313,1041l13,8 0,22 -12,-10z"/>
<path color="#248457" d="M2189,1002l12,4 1,19 -12,-3zM2201,1006l100,31 1,20 -100,-32zM2301,1037l12,4 1,20 -12,-4z"/>
<path color="#6c9024" d="M2975,1398l37,7 -1,16 -36,-7z"/>
<path color="#669024" d="M3012,1405l37,5 0,15 -38,-4z"/>
<path color="#609027" d="M3049,1410l38,6 -1,14 -37,-5z"/>
<path color="#5a8d27" d="M3087,1416l37,9 -1,14 -37,-9z"/>
<path color="#5a8d24" d="M1450,889l352,114 2,16 -351,-113zM1802,1003l12,4 2,16 -12,-4zM2700,1293l13,4 0,16 -13,-4zM2713,1297l227,73 -1,17 -226,-74zM2940,1370l36,11 -1,17 -36,-11z"/>
<path color="#609024" d="M1814,1007l12,13 2,17 -12,-14zM1873,1032l250,81 2,17 -250,-81zM2123,1113l12,4 2,17 -12,-4zM2357,1188l12,4 1,18 -13,-4zM2369,1192l266,86 0,18 -265,-86zM2686,1298l14,-5 0,16 -14,6z"/>
<path color="#7b9321" d="M1826,1020l12,40 2,20 -12,-43zM2670,1331l16,-33 0,17 -16,36z"/>
<path color="#8a9621" d="M1838,1060l12,-13 2,20 -12,13zM2659,1309l11,22 0,20 -12,-21z"/>
<path color="#729324" d="M1850,1047l11,-18 2,18 -11,20zM2648,1283l11,26 -1,21 -11,-29z"/>
<path color="#639024" d="M1861,1029l12,3 2,17 -12,-2zM2135,1117l12,9 2,17 -12,-9zM2344,1189l13,-1 0,18 -12,1zM2635,1278l13,5 -1,18 -12,-5z"/>
<path color="#368427" d="M2147,1126l14,-91 1,35 -13,73zM2335,1090l9,99 1,18 -10,-81z"/>
<path color="#278442" d="M2161,1035l14,-53 1,20 -14,68zM2325,1029l10,61 0,36 -9,-77z"/>
<path color="#217e72" d="M2175,982l12,1 2,19 -13,0zM2312,1022l13,7 1,20 -13,-8z"/>
<path color="#217e75" d="M2187,983l13,4 1,19 -12,-4zM2200,987l100,31 1,19 -100,-31zM2300,1018l12,4 1,19 -12,-4z"/>
<path color="#578d24" d="M2976,1381l37,8 -1,16 -37,-7z"/>
<path color="#518a27" d="M3013,1389l37,6 -1,15 -37,-5z"/>
<path color="#4b8a27" d="M3050,1395l38,6 -1,15 -38,-6z"/>
<path color="#488a27" d="M3088,1401l37,10 -1,14 -37,-9z"/>
<path color="#458727" d="M1447,872l353,114 2,17 -352,-114zM1800,986l12,4 2,17 -12,-4zM2700,1276l13,4 0,17 -13,-4zM2713,1280l228,73 -1,17 -227,-73zM2941,1353l36,11 -1,17 -36,-11z"/>
<path color="#488a27" d="M1812,990l12,13 2,17 -12,-13zM2686,1281l14,-5 0,17 -14,5z"/>
<path color="#639024" d="M1824,1003l12,37 2,20 -12,-40zM2671,1310l15,-29 0,17 -16,33z"/>
<path color="#6f9324" d="M1836,1040l12,-14 2,21 -12,13zM2659,1289l12,21 -1,21 -11,-22z"/>
<path color="#578d24" d="M1848,1026l11,-15 2,18 -11,18zM2648,1265l11,24 0,20 -11,-26z"/>
<path color="#4b8a27" d="M1859,1011l12,3 2,18 -12,-3zM1871,1014l251,81 1,18 -250,-81zM2122,1095l12,4 1,18 -12,-4zM2356,1171l12,3 1,18 -12,-4zM2368,1174l267,86 0,18 -266,-86zM2635,1260l13,5 0,18 -13,-5z"/>
<path color="#4e8a24" d="M2134,1099l12,9 1,18 -12,-9zM2343,1171l13,0 1,17 -13,1z"/>
<path color="#2a842d" d="M2146,1108l15,-106 0,33 -14,91zM2335,1058l8,113 1,18 -9,-99z"/>
<path color="#24816c" d="M2161,1002l13,-40 1,20 -14,53zM2324,1009l11,49 0,32 -10,-61z"/>
<path color="#216c87" d="M2174,962l12,2 1,19 -12,-1zM2312,1004l12,5 1,20 -13,-7z"/>
<path color="#21698a" d="M2186,964l13,4 1,19 -13,-4zM2199,968l100,32 1,18 -100,-31zM2299,1000l13,4 0,18 -12,-4z"/>
<path color="#428727" d="M2977,1364l37,9 -1,16 -37,-8z"/>
<path color="#3c8727" d="M3014,1373l37,6 -1,16 -37,-6z"/>
<path color="#368427" d="M3051,1379l37,8 0,14 -38,-6z"/>
<path color="#33842a" d="M3088,1387l38,9 -1,15 -37,-10z"/>
<path color="#2d8127" d="M1444,856l354,113 2,17 -353,-114zM1798,969l12,4 2,17 -12,-4zM2700,1259l13,4 0,17 -13,-4zM2713,1263l228,73 0,17 -228,-73zM2941,1336l37,11 -1,17 -36,-11zM2978,1347l37,9 -1,17 -37,-9z"/>
<path color="#338427" d="M1810,973l12,13 2,17 -12,-13zM1869,996l252,81 1,18 -251,-81zM2121,1077l12,5 1,17 -12,-4zM2355,1153l13,4 0,17 -12,-3zM2368,1157l267,85 0,18 -267,-86zM2686,1263l14,-4 0,17 -14,5z"/>
<path color="#4b8a27" d="M1822,986l12,33 2,21 -12,-37zM2671,1289l15,-26 0,18 -15,29z"/>
<path color="#548d24" d="M1834,1019l12,-13 2,20 -12,14zM2659,1268l12,21 0,21 -12,-21z"/>
<path color="#3f8727" d="M1846,1006l11,-12 2,17 -11,15zM2648,1247l11,21 0,21 -11,-24z"/>
<path color="#368427" d="M1857,994l12,2 2,18 -12,-3zM2133,1082l12,7 1,19 -12,-9zM2343,1153l12,0 1,18 -13,0zM2635,1242l13,5 0,18 -13,-5z"/>
<path color="#2a8436" d="M2145,1089l15,-117 1,30 -15,106zM2335,1027l8,126 0,18 -8,-113z"/>
<path color="#216c8a" d="M2160,972l13,-28 1,18 -13,40zM2323,991l12,36 0,31 -11,-49z"/>
<path color="#21518d" d="M2173,944l12,3 1,17 -12,-2zM2185,947l13,3 1,18 -13,-4zM2198,950l100,32 1,18 -100,-32zM2298,982l13,4 1,18 -13,-4zM2311,986l12,5 1,18 -12,-5z"/>
<path color="#2a812a" d="M3015,1356l37,8 -1,15 -37,-6zM3052,1364l37,8 -1,15 -37,-8z"/>
<path color="#2d842d" d="M3089,1372l38,10 -1,14 -38,-9z"/>
<path color="#2a842d" d="M1441,839l355,113 2,17 -354,-113zM1796,952l12,4 2,17 -12,-4zM2700,1242l13,4 0,17 -13,-4zM2713,1246l229,73 -1,17 -228,-73zM2942,1319l37,11 -1,17 -37,-11zM2979,1330l37,10 -1,16 -37,-9z"/>
<path color="#2a812d" d="M1808,956l12,12 2,18 -12,-13zM1855,976l12,3 2,17 -12,-2zM1867,979l253,80 1,18 -252,-81zM2120,1059l12,5 1,18 -12,-5zM2355,1135l12,4 1,18 -13,-4zM2367,1139l268,85 0,18 -267,-85zM2635,1224l13,5 0,18 -13,-5zM2687,1246l13,-4 0,17 -14,4z"/>
<path color="#338427" d="M1820,968l12,30 2,21 -12,-33zM2672,1268l15,-22 -1,17 -15,26z"/>
<path color="#398427" d="M1832,998l12,-12 2,20 -12,13zM2660,1248l12,20 -1,21 -12,-21z"/>
<path color="#2a812a" d="M1844,986l11,-10 2,18 -11,12zM2132,1064l12,5 1,20 -12,-7zM2342,1132l13,3 0,18 -12,0zM2648,1229l12,19 -1,20 -11,-21z"/>
<path color="#278448" d="M2144,1069l15,-124 1,27 -15,117zM2335,1000l7,132 1,21 -8,-126z"/>
<path color="#214b90" d="M2159,945l13,-19 1,18 -13,28zM2323,973l12,27 0,27 -12,-36z"/>
<path color="#213f90" d="M2172,926l12,3 1,18 -12,-3zM2184,929l126,39 1,18 -126,-39zM2310,968l13,5 0,18 -12,-5z"/>
<path color="#2a8430" d="M3016,1340l37,8 -1,16 -37,-8zM3053,1348l37,9 -1,15 -37,-8z"/>
<path color="#2a8433" d="M3090,1357l38,10 -1,15 -38,-10z"/>
<path color="#2a8433" d="M1439,822l355,113 2,17 -355,-113zM1794,935l12,4 2,17 -12,-4zM1806,939l12,11 2,18 -12,-12zM1854,958l11,3 2,18 -12,-3zM1865,961l254,80 1,18 -253,-80zM2119,1041l12,5 1,18 -12,-5zM2131,1046l12,1 1,22 -12,-5zM2342,1110l12,7 1,18 -13,-3zM2354,1117l13,4 0,18 -12,-4zM2367,1121l268,85 0,18 -268,-85zM2635,1206l13,5 0,18 -13,-5zM2687,1228l14,-3 -1,17 -13,4zM2701,1225l13,3 -1,18 -13,-4zM2714,1228l229,74 -1,17 -229,-73zM2943,1302l37,11 -1,17 -37,-11zM2980,1313l37,10 -1,17 -37,-10z"/>
<path color="#2a812d" d="M1818,950l12,27 2,21 -12,-30zM2672,1247l15,-19 0,18 -15,22z"/>
<path color="#2a812a" d="M1830,977l12,-11 2,20 -12,12zM2660,1228l12,19 0,21 -12,-20z"/>
<path color="#2a8430" d="M1842,966l12,-8 1,18 -11,10zM2648,1211l12,17 0,20 -12,-19z"/>
<path color="#24816c" d="M2143,1047l15,-127 1,25 -15,124zM2334,975l8,135 0,22 -7,-132z"/>
<path color="#213990" d="M2158,920l13,-11 1,17 -13,19zM2322,956l12,19 1,25 -12,-27z"/>
<path color="#213390" d="M2171,909l12,4 1,16 -12,-3zM2183,913l126,39 1,16 -126,-39zM2309,952l13,4 1,17 -13,-5z"/>
<path color="#2a8436" d="M3017,1323l37,9 -1,16 -37,-8zM3054,1332l37,9 -1,16 -37,-9zM3091,1341l38,11 -1,15 -38,-10z"/>
<path color="#278439" d="M1436,805l357,113 1,17 -355,-113zM1793,918l11,4 2,17 -12,-4zM1804,922l12,10 2,18 -12,-11zM1852,939l12,4 1,18 -11,-3zM1864,943l253,80 2,18 -254,-80zM2117,1023l13,5 1,18 -12,-5zM2130,1028l12,-3 1,22 -12,-1zM2341,1088l13,11 0,18 -12,-7zM2354,1099l12,3 1,19 -13,-4zM2366,1102l269,86 0,18 -268,-85zM2635,1188l13,5 0,18 -13,-5zM2687,1209l14,-2 0,18 -14,3zM2701,1207l13,4 0,17 -13,-3zM2714,1211l230,73 -1,18 -229,-74zM2944,1284l37,12 -1,17 -37,-11zM2981,1296l37,10 -1,17 -37,-10z"/>
<path color="#2a8433" d="M1816,932l13,24 1,21 -12,-27zM1829,956l11,-10 2,20 -12,11zM2661,1208l12,18 -1,21 -12,-19zM2673,1226l14,-17 0,19 -15,19z"/>
<path color="#2a8436" d="M1840,946l12,-7 2,19 -12,8zM2648,1193l13,15 -1,20 -12,-17z"/>
<path color="#216f87" d="M2142,1025l15,-127 1,22 -15,127zM2334,953l7,135 1,22 -8,-135z"/>
<path color="#21308d" d="M2157,898l13,-5 1,16 -13,11zM2321,940l13,13 0,22 -12,-19z"/>
<path color="#212d8d" d="M2170,893l12,3 1,17 -12,-4zM2182,896l127,40 0,16 -126,-39zM2309,936l12,4 1,16 -13,-4z"/>
<path color="#27843c" d="M3018,1306l37,10 -1,16 -37,-9zM3055,1316l37,10 -1,15 -37,-9zM3092,1326l38,11 -1,15 -38,-11z"/>
<path color="#27844b" d="M1433,788l358,113 2,17 -357,-113zM1791,901l11,4 2,17 -11,-4zM2701,1190l13,4 0,17 -13,-4zM2714,1194l231,73 -1,17 -230,-73zM2945,1267l37,11 -1,18 -37,-12zM2982,1278l37,11 -1,17 -37,-10z"/>
<path color="#278445" d="M1802,905l12,9 2,18 -12,-10zM2688,1191l13,-1 0,17 -14,2z"/>
<path color="#27843c" d="M1814,914l13,21 2,21 -13,-24zM2673,1204l15,-13 -1,18 -14,17z"/>
<path color="#278439" d="M1827,935l11,-9 2,20 -11,10zM2661,1188l12,16 0,22 -12,-18z"/>
<path color="#278442" d="M1838,926l12,-5 2,18 -12,7zM2649,1174l12,14 0,20 -13,-15z"/>
<path color="#278448" d="M1850,921l12,4 2,18 -12,-4zM1862,925l254,80 1,18 -253,-80zM2116,1005l13,4 1,19 -13,-5zM2353,1080l13,4 0,18 -12,-3zM2366,1084l270,86 -1,18 -269,-86zM2636,1170l13,4 -1,19 -13,-5z"/>
<path color="#27844e" d="M2129,1009l12,-7 1,23 -12,3zM2341,1065l12,15 1,19 -13,-11zM3019,1289l37,11 -1,16 -37,-10zM3056,1300l37,11 -1,15 -37,-10z"/>
<path color="#214e8d" d="M2141,1002l15,-124 1,20 -15,127zM2333,933l8,132 0,23 -7,-135z"/>
<path color="#242a8a" d="M2156,878l12,-1 2,16 -13,5zM2321,924l12,9 1,20 -13,-13z"/>
<path color="#24278a" d="M2168,877l13,4 1,15 -12,-3zM2181,881l127,39 1,16 -127,-40zM2308,920l13,4 0,16 -12,-4z"/>
<path color="#278451" d="M3093,1311l38,11 -1,15 -38,-11z"/>
<path color="#248466" d="M1431,770l358,114 2,17 -358,-113zM1789,884l12,3 1,18 -11,-4zM2702,1172l13,4 -1,18 -13,-4zM2715,1176l231,73 -1,18 -231,-73zM2946,1249l37,12 -1,17 -37,-11zM2983,1261l37,11 -1,17 -37,-11zM3020,1272l37,12 -1,16 -37,-11zM3057,1284l38,11 -2,16 -37,-11z"/>
<path color="#248460" d="M1801,887l12,9 1,18 -12,-9zM2688,1173l14,-1 -1,18 -13,1z"/>
<path color="#278454" d="M1813,896l12,17 2,22 -13,-21zM2674,1182l14,-9 0,18 -15,13z"/>
<path color="#278451" d="M1825,913l11,-7 2,20 -11,9zM2662,1167l12,15 -1,22 -12,-16z"/>
<path color="#24845d" d="M1836,906l12,-3 2,18 -12,5zM2649,1156l13,11 -1,21 -12,-14z"/>
<path color="#248463" d="M1848,903l12,3 2,19 -12,-4zM1860,906l255,81 1,18 -254,-80zM2115,987l13,4 1,18 -13,-4zM2353,1062l12,4 1,18 -13,-4zM2365,1066l271,85 0,19 -270,-86zM2636,1151l13,5 0,18 -13,-4z"/>
<path color="#24816f" d="M2128,991l12,-12 1,23 -12,7zM2341,1042l12,20 0,18 -12,-15z"/>
<path color="#213c90" d="M2140,979l15,-119 1,18 -15,124zM2333,915l8,127 0,23 -8,-132z"/>
<path color="#2a2487" d="M2155,860l12,2 1,15 -12,1zM2167,862l13,4 1,15 -13,-4zM2180,866l127,39 1,15 -127,-39zM2307,905l13,4 1,15 -13,-4zM2320,909l13,6 0,18 -12,-9z"/>
<path color="#248469" d="M3095,1295l37,12 -1,15 -38,-11z"/>
<path color="#217881" d="M1428,753l359,113 2,18 -358,-114zM1787,866l12,4 2,17 -12,-3zM1846,885l12,3 2,18 -12,-3zM1858,888l256,81 1,18 -255,-81zM2114,969l12,4 2,18 -13,-4zM2352,1044l13,4 0,18 -12,-4zM2365,1048l271,85 0,18 -271,-85zM2636,1133l13,4 0,19 -13,-5zM2702,1154l13,4 0,18 -13,-4zM2715,1158l232,73 -1,18 -231,-73zM2947,1231l37,12 -1,18 -37,-12zM2984,1243l37,12 -1,17 -37,-11zM3021,1255l37,12 -1,17 -37,-12zM3058,1267l38,13 -1,15 -38,-11zM3096,1280l37,12 -1,15 -37,-12z"/>
<path color="#217b7e" d="M1799,870l12,9 2,17 -12,-9zM2688,1155l14,-1 0,18 -14,1z"/>
<path color="#24816f" d="M1811,879l12,18 2,16 -12,-17zM2674,1166l14,-11 0,18 -14,9z"/>
<path color="#24816c" d="M1823,897l12,-8 1,17 -11,7zM2662,1149l12,17 0,16 -12,-15z"/>
<path color="#217b7b" d="M1835,889l11,-4 2,18 -12,3zM2649,1137l13,12 0,18 -13,-11z"/>
<path color="#216f87" d="M2126,973l13,-15 1,21 -12,12zM2340,1021l12,23 1,18 -12,-20z"/>
<path color="#21308d" d="M2139,958l15,-114 1,16 -15,119zM2332,899l8,122 1,21 -8,-127z"/>
<path color="#302484" d="M2154,844l12,3 1,15 -12,-2zM2166,847l13,4 1,15 -13,-4zM2179,851l127,39 1,15 -127,-39zM2306,890l13,4 1,15 -13,-4zM2319,894l13,5 1,16 -13,-6z"/>
<path color="#21638a" d="M1425,736l360,113 2,17 -359,-113zM1785,849l12,3 2,18 -12,-4zM2702,1137l14,4 -1,17 -13,-4zM2716,1141l232,73 -1,17 -232,-73zM2948,1214l37,11 -1,18 -37,-12zM2985,1225l37,13 -1,17 -37,-12zM3022,1238l37,13 -1,16 -37,-12z"/>
<path color="#21668a" d="M1797,852l12,11 2,16 -12,-9zM1833,872l12,-6 1,19 -11,4zM2650,1119l12,13 0,17 -13,-12zM2689,1139l13,-2 0,17 -14,1zM3059,1251l38,13 -1,16 -38,-13zM3097,1264l37,12 -1,16 -37,-12z"/>
<path color="#217587" d="M1809,863l12,20 2,14 -12,-18zM1821,883l12,-11 2,17 -12,8zM2662,1132l12,20 0,14 -12,-17zM2674,1152l15,-13 -1,16 -14,11z"/>
<path color="#21608a" d="M1845,866l12,4 1,18 -12,-3zM1857,870l256,80 1,19 -256,-81zM2113,950l12,4 1,19 -12,-4zM2352,1025l12,4 1,19 -13,-4zM2364,1029l272,85 0,19 -271,-85zM2636,1114l14,5 -1,18 -13,-4z"/>
<path color="#21548d" d="M2125,954l13,-16 1,20 -13,15zM2340,1001l12,24 0,19 -12,-23z"/>
<path color="#242a8d" d="M2138,938l15,-107 1,13 -15,114zM2331,885l9,116 0,20 -8,-122z"/>
<path color="#3c2184" d="M2153,831l12,2 1,14 -12,-3zM2165,833l13,4 1,14 -13,-4zM2178,837l127,39 1,14 -127,-39zM2305,876l13,4 1,14 -13,-4zM2318,880l13,5 1,14 -13,-5z"/>
<path color="#214890" d="M1422,718l361,113 2,18 -360,-113zM1783,831l12,4 2,17 -12,-3zM1843,848l12,3 2,19 -12,-4zM1855,851l257,81 1,18 -256,-80zM2112,932l12,4 1,18 -12,-4zM2351,1007l13,4 0,18 -12,-4zM2364,1011l273,85 -1,18 -272,-85zM2637,1096l13,4 0,19 -14,-5zM2703,1119l13,4 0,18 -14,-4zM2716,1123l233,73 -1,18 -232,-73zM2949,1196l37,12 -1,17 -37,-11z"/>
<path color="#214e90" d="M1795,835l12,11 2,17 -12,-11zM1831,855l12,-7 2,18 -12,6zM2650,1100l12,15 0,17 -12,-13zM2689,1122l14,-3 -1,18 -13,2zM3060,1235l38,13 -1,16 -38,-13z"/>
<path color="#215d8d" d="M1807,846l12,23 2,14 -12,-20zM2674,1138l15,-16 0,17 -15,13z"/>
<path color="#21608d" d="M1819,869l12,-14 2,17 -12,11zM2662,1115l12,23 0,14 -12,-20z"/>
<path color="#213f90" d="M2124,936l13,-16 1,18 -13,16zM2339,982l12,25 1,18 -12,-24z"/>
<path color="#27278a" d="M2137,920l14,-102 2,13 -15,107zM2330,872l9,110 1,19 -9,-116z"/>
<path color="#481e81" d="M2151,818l13,1 1,14 -12,-2zM2164,819l13,4 1,14 -13,-4zM2305,862l13,4 0,14 -13,-4zM2318,866l12,6 1,13 -13,-5z"/>
<path color="#4b1e81" d="M2177,823l128,39 0,14 -127,-39z"/>
<path color="#214b90" d="M2986,1208l37,13 -1,17 -37,-13zM3023,1221l37,14 -1,16 -37,-13z"/>
<path color="#21518d" d="M3098,1248l37,13 -1,15 -37,-12z"/>
<path color="#213c90" d="M1420,701l361,112 2,18 -361,-113zM1781,813l12,4 2,18 -12,-4zM2703,1101l13,4 0,18 -13,-4zM2716,1105l234,73 -1,18 -233,-73zM2950,1178l37,12 -1,18 -37,-12zM2987,1190l37,13 -1,18 -37,-13zM3024,1203l37,15 -1,17 -37,-14z"/>
<path color="#213f90" d="M1793,817l12,13 2,16 -12,-11zM1829,838l12,-8 2,18 -12,7zM2650,1082l12,16 0,17 -12,-15zM2689,1106l14,-5 0,18 -14,3zM3061,1218l38,15 -1,15 -38,-13zM3099,1233l38,13 -2,15 -37,-13z"/>
<path color="#214890" d="M1805,830l13,26 1,13 -12,-23zM1818,856l11,-18 2,17 -12,14zM2662,1098l12,26 0,14 -12,-23zM2674,1124l15,-18 0,16 -15,16z"/>
<path color="#213990" d="M1841,830l12,3 2,18 -12,-3zM1853,833l258,80 1,19 -257,-81zM2111,913l12,5 1,18 -12,-4zM2350,989l13,3 1,19 -13,-4zM2363,992l274,85 0,19 -273,-85zM2637,1077l13,5 0,18 -13,-4z"/>
<path color="#213690" d="M2123,918l13,-17 1,19 -13,16zM2339,964l11,25 1,18 -12,-25z"/>
<path color="#2d2487" d="M2136,901l14,-96 1,13 -14,102zM2329,860l10,104 0,18 -9,-110z"/>
<path color="#541b7e" d="M2150,805l13,1 1,13 -13,-1zM2317,853l12,7 1,12 -12,-6z"/>
<path color="#571b7e" d="M2163,806l13,4 1,13 -13,-4zM2176,810l128,39 1,13 -128,-39zM2304,849l13,4 1,13 -13,-4z"/>
<path color="#21308d" d="M1417,683l362,112 2,18 -361,-112zM1779,795l12,5 2,17 -12,-4zM1839,811l12,3 2,19 -12,-3zM1851,814l258,81 2,18 -258,-80zM2109,895l13,4 1,19 -12,-5zM2350,970l13,3 0,19 -13,-3zM2363,973l274,85 0,19 -274,-85zM2637,1058l13,5 0,19 -13,-5zM2703,1083l14,4 -1,18 -13,-4zM2717,1087l234,73 -1,18 -234,-73z"/>
<path color="#213390" d="M1791,800l12,13 2,17 -12,-13zM1827,821l12,-10 2,19 -12,8zM2650,1063l12,18 0,17 -12,-16zM2689,1089l14,-6 0,18 -14,5zM3025,1186l38,16 -2,16 -37,-15z"/>
<path color="#213c90" d="M1803,813l13,29 2,14 -13,-26zM1816,842l11,-21 2,17 -11,18zM2662,1081l12,29 0,14 -12,-26zM2674,1110l15,-21 0,17 -15,18z"/>
<path color="#212d8d" d="M2122,899l13,-15 1,17 -13,17zM2338,947l12,23 0,19 -11,-25z"/>
<path color="#362184" d="M2135,884l14,-90 1,11 -14,96zM2329,848l9,99 1,17 -10,-104z"/>
<path color="#63187b" d="M2149,794l13,0 1,12 -13,-1zM2162,794l12,4 2,12 -13,-4zM2174,798l129,39 1,12 -128,-39zM2303,837l13,4 1,12 -13,-4zM2316,841l13,7 0,12 -12,-7z"/>
<path color="#21338d" d="M2951,1160l37,12 -1,18 -37,-12zM2988,1172l37,14 -1,17 -37,-13z"/>
<path color="#213690" d="M3063,1202l37,15 -1,16 -38,-15zM3100,1217l38,13 -1,16 -38,-13z"/>
<path color="#242a8d" d="M1414,665l363,113 2,17 -362,-112zM1777,778l12,4 2,18 -12,-5zM2703,1065l14,4 0,18 -14,-4zM2717,1069l235,73 -1,18 -234,-73zM2952,1142l37,12 -1,18 -37,-12z"/>
<path color="#212d8d" d="M1789,782l12,15 2,16 -12,-13zM1826,804l11,-11 2,18 -12,10zM2650,1044l13,20 -1,17 -12,-18zM2689,1072l14,-7 0,18 -14,6zM3026,1169l38,16 -1,17 -38,-16zM3064,1185l37,16 -1,16 -37,-15z"/>
<path color="#213390" d="M1801,797l13,31 2,14 -13,-29zM1814,828l12,-24 1,17 -11,21zM2663,1064l11,32 0,14 -12,-29zM2674,1096l15,-24 0,17 -15,21z"/>
<path color="#242a8a" d="M1837,793l13,3 1,18 -12,-3zM1850,796l258,80 1,19 -258,-81zM2108,876l13,5 1,18 -13,-4zM2349,952l13,2 1,19 -13,-3zM2362,954l275,85 0,19 -274,-85zM2637,1039l13,5 0,19 -13,-5z"/>
<path color="#24278a" d="M2121,881l13,-14 1,17 -13,15zM2337,930l12,22 1,18 -12,-23z"/>
<path color="#451e81" d="M2134,867l14,-84 1,11 -14,90zM2328,837l9,93 1,17 -9,-99z"/>
<path color="#6c1878" d="M2148,783l13,-1 1,12 -13,0zM2315,829l13,8 1,11 -13,-7z"/>
<path color="#6f1578" d="M2161,782l12,4 1,12 -12,-4zM2173,786l129,39 1,12 -129,-39zM2302,825l13,4 1,12 -13,-4z"/>
<path color="#242d8d" d="M2989,1154l37,15 -1,17 -37,-14z"/>
<path color="#21308d" d="M3101,1201l38,14 -1,15 -38,-13z"/>
<path color="#27278a" d="M1411,647l364,113 2,18 -363,-113zM1775,760l12,4 2,18 -12,-4zM1824,787l11,-13 2,19 -11,11zM2651,1025l12,22 0,17 -13,-20zM2704,1047l13,4 0,18 -14,-4zM2717,1051l236,72 -1,19 -235,-73zM2953,1123l37,13 -1,18 -37,-12zM2990,1136l37,15 -1,18 -37,-15z"/>
<path color="#24278a" d="M1787,764l12,16 2,17 -12,-15zM2689,1056l15,-9 -1,18 -14,7zM3027,1151l38,17 -1,17 -38,-16zM3065,1168l37,17 -1,16 -37,-16z"/>
<path color="#212d8d" d="M1799,780l13,34 2,14 -13,-31zM1812,814l12,-27 2,17 -12,24zM2663,1047l11,35 0,14 -11,-32zM2674,1082l15,-26 0,16 -15,24z"/>
<path color="#2a2487" d="M1835,774l13,3 2,19 -13,-3zM1848,777l259,80 1,19 -258,-80zM2120,863l12,-12 2,16 -13,14zM2336,914l13,19 0,19 -12,-22zM2362,936l275,85 0,18 -275,-85zM2637,1021l14,4 -1,19 -13,-5z"/>
<path color="#272787" d="M2107,857l13,6 1,18 -13,-5zM2349,933l13,3 0,18 -13,-2z"/>
<path color="#511b81" d="M2132,851l14,-79 2,11 -14,84zM2327,827l9,87 1,16 -9,-93z"/>
<path color="#78156f" d="M2146,772l13,-1 2,11 -13,1zM2314,818l13,9 1,10 -13,-8z"/>
<path color="#7b156f" d="M2159,771l13,4 1,11 -12,-4zM2172,775l129,39 1,11 -129,-39zM2301,814l13,4 1,11 -13,-4z"/>
<path color="#242a8a" d="M3102,1185l38,14 -1,16 -38,-14z"/>
<path color="#2d2487" d="M1408,630l365,112 2,18 -364,-113zM1773,742l12,4 2,18 -12,-4zM1822,770l11,-15 2,19 -11,13zM2651,1007l12,23 0,17 -12,-22zM2704,1029l13,4 0,18 -13,-4zM2717,1033l237,72 -1,18 -236,-72zM2954,1105l37,12 -1,19 -37,-13zM2991,1117l37,17 -1,17 -37,-15z"/>
<path color="#2a2487" d="M1785,746l12,17 2,17 -12,-16zM2689,1039l15,-10 0,18 -15,9zM3028,1134l38,18 -1,16 -38,-17zM3066,1152l37,17 -1,16 -37,-17z"/>
<path color="#24278a" d="M1797,763l13,37 2,14 -13,-34zM1810,800l12,-30 2,17 -12,27zM2663,1030l10,38 1,14 -11,-35zM2673,1068l16,-29 0,17 -15,26z"/>
<path color="#302184" d="M1833,755l13,3 2,19 -13,-3zM1846,758l260,80 1,19 -259,-80zM2106,838l12,6 2,19 -13,-6zM2348,915l13,2 1,19 -13,-3zM2361,917l276,85 0,19 -275,-85zM2637,1002l14,5 0,18 -14,-4z"/>
<path color="#362184" d="M2118,844l13,-8 1,15 -12,12zM2336,899l12,16 1,18 -13,-19z"/>
<path color="#60187e" d="M2131,836l14,-73 1,9 -14,79zM2325,817l11,82 0,15 -9,-87z"/>
<path color="#811569" d="M2145,763l13,-2 1,10 -13,1zM2313,808l12,9 2,10 -13,-9z"/>
<path color="#841569" d="M2158,761l13,3 1,11 -13,-4zM2171,764l129,39 1,11 -129,-39zM2300,803l13,5 1,10 -13,-4z"/>
<path color="#27278a" d="M3103,1169l38,15 -1,15 -38,-14z"/>
<path color="#3c2184" d="M1405,612l366,112 2,18 -365,-112zM1771,724l12,4 2,18 -12,-4zM2704,1011l14,3 -1,19 -13,-4zM2718,1014l236,73 0,18 -237,-72zM2954,1087l38,12 -1,18 -37,-12z"/>
<path color="#362184" d="M1783,728l12,19 2,16 -12,-17zM2689,1022l15,-11 0,18 -15,10zM3029,1116l38,19 -1,17 -38,-18z"/>
<path color="#2a2487" d="M1795,747l13,40 2,13 -13,-37zM1808,787l12,-34 2,17 -12,30zM2663,1013l10,42 0,13 -10,-38zM2673,1055l16,-33 0,17 -16,29z"/>
<path color="#392184" d="M1820,753l11,-16 2,18 -11,15zM2651,988l12,25 0,17 -12,-23zM2992,1099l37,17 -1,18 -37,-17z"/>
<path color="#421e81" d="M1831,737l13,3 2,18 -13,-3zM1844,740l260,79 2,19 -260,-80zM2104,819l13,6 1,19 -12,-6zM2347,896l13,2 1,19 -13,-2zM2360,898l277,85 0,19 -276,-85zM2637,983l14,5 0,19 -14,-5z"/>
<path color="#451e81" d="M2117,825l13,-4 1,15 -13,8zM2335,884l12,12 1,19 -12,-16z"/>
<path color="#6c157e" d="M2130,821l14,-67 1,9 -14,73zM2324,809l11,75 1,15 -11,-82z"/>
<path color="#871560" d="M2144,754l12,-3 2,10 -13,2zM2311,798l13,11 1,8 -12,-9z"/>
<path color="#8a155d" d="M2156,751l13,4 2,9 -13,-3zM2169,755l129,39 2,9 -129,-39zM2298,794l13,4 2,10 -13,-5z"/>
<path color="#302484" d="M3067,1135l37,18 -1,16 -37,-17z"/>
<path color="#2d2487" d="M3104,1153l38,15 -1,16 -38,-15z"/>
<path color="#4e1b81" d="M1402,594l366,112 3,18 -366,-112zM1768,706l13,4 2,18 -12,-4zM2704,993l14,3 0,18 -14,-3zM2718,996l237,73 -1,18 -236,-73zM2955,1069l38,12 -1,18 -38,-12z"/>
<path color="#451e81" d="M1781,710l12,20 2,17 -12,-19zM2689,1005l15,-12 0,18 -15,11zM3030,1099l37,19 0,17 -38,-19z"/>
<path color="#302484" d="M1793,730l13,43 2,14 -13,-40zM1806,773l11,-36 3,16 -12,34zM2663,996l10,45 0,14 -10,-42zM2673,1041l16,-36 0,17 -16,33z"/>
<path color="#4b1e81" d="M1817,737l12,-19 2,19 -11,16zM2651,969l12,27 0,17 -12,-25zM2993,1081l37,18 -1,17 -37,-17z"/>
<path color="#541b81" d="M1829,718l13,3 2,19 -13,-3zM1842,721l261,80 1,18 -260,-79zM2103,801l13,6 1,18 -13,-6zM2346,877l14,2 0,19 -13,-2zM2360,879l277,85 0,19 -277,-85zM2637,964l14,5 0,19 -14,-5z"/>
<path color="#541b7e" d="M2116,807l12,0 2,14 -13,4zM2334,870l12,7 1,19 -12,-12z"/>
<path color="#7b127b" d="M2128,807l14,-60 2,7 -14,67zM2323,801l11,69 1,14 -11,-75z"/>
<path color="#8a1554" d="M2142,747l13,-4 1,8 -12,3zM2310,790l13,11 1,8 -13,-11z"/>
<path color="#8d1554" d="M2155,743l13,3 1,9 -13,-4zM2168,746l129,39 1,9 -129,-39zM2297,785l13,5 1,8 -13,-4z"/>
<path color="#3f2181" d="M3067,1118l38,20 -1,15 -37,-18z"/>
<path color="#392184" d="M3105,1138l38,15 -1,15 -38,-15z"/>
<path color="#60187e" d="M1399,576l367,112 2,18 -366,-112zM1766,688l12,4 3,18 -13,-4zM2704,974l14,4 0,18 -14,-3zM2718,978l238,73 -1,18 -237,-73zM2956,1051l38,12 -1,18 -38,-12z"/>
<path color="#571b7e" d="M1778,692l13,21 2,17 -12,-20zM2689,988l15,-14 0,19 -15,12zM3031,1081l37,21 -1,16 -37,-19z"/>
<path color="#3f2184" d="M1791,713l13,46 2,14 -13,-43zM2672,1027l17,-39 0,17 -16,36z"/>
<path color="#3f2181" d="M1804,759l11,-39 2,17 -11,36zM2662,979l10,48 1,14 -10,-45z"/>
<path color="#5d187e" d="M1815,720l12,-21 2,19 -12,19zM2651,950l11,29 1,17 -12,-27zM2994,1063l37,18 -1,18 -37,-18z"/>
<path color="#69157e" d="M1827,699l12,3 3,19 -13,-3zM1839,702l262,80 2,19 -261,-80zM2359,860l278,85 0,19 -277,-85zM2637,945l14,5 0,19 -14,-5z"/>
<path color="#69187e" d="M2101,782l13,6 2,19 -13,-6zM2346,858l13,2 1,19 -14,-2z"/>
<path color="#66187b" d="M2114,788l13,5 1,14 -12,0zM2332,855l14,3 0,19 -12,-7z"/>
<path color="#871275" d="M2127,793l13,-52 2,6 -14,60zM2321,795l11,60 2,15 -11,-69z"/>
<path color="#8a154b" d="M2140,741l13,-5 2,7 -13,4zM2309,782l12,13 2,6 -13,-11z"/>
<path color="#901548" d="M2153,736l13,3 2,7 -13,-3zM2166,739l130,39 1,7 -129,-39zM2296,778l13,4 1,8 -13,-5z"/>
<path color="#4e1e7e" d="M3068,1102l38,20 -1,16 -38,-20z"/>
<path color="#481e81" d="M3106,1122l38,15 -1,16 -38,-15z"/>
<path color="#751578" d="M1395,558l369,112 2,18 -367,-112zM1764,670l12,4 2,18 -12,-4zM2704,956l14,4 0,18 -14,-4zM2718,960l239,72 -1,19 -238,-73z"/>
<path color="#69157b" d="M1776,674l12,22 3,17 -13,-21zM2689,970l15,-14 0,18 -15,14z"/>
<path color="#4e1e81" d="M1788,696l14,49 2,14 -13,-46zM1802,745l11,-41 2,16 -11,39zM2662,962l10,51 0,14 -10,-48zM2672,1013l17,-43 0,18 -17,39z"/>
<path color="#6f157b" d="M1813,704l12,-23 2,18 -12,21zM2650,931l12,31 0,17 -11,-29zM2994,1045l38,19 -1,17 -37,-18z"/>
<path color="#7e1278" d="M1825,681l12,2 2,19 -12,-3zM1837,683l263,80 1,19 -262,-80zM2100,763l12,6 2,19 -13,-6zM2344,839l14,2 1,19 -13,-2zM2358,841l279,85 0,19 -278,-85zM2637,926l13,5 1,19 -14,-5z"/>
<path color="#781575" d="M2112,769l13,10 2,14 -13,-5zM2331,841l13,-2 2,19 -14,-3z"/>
<path color="#8d1269" d="M2125,779l13,-42 2,4 -13,52zM2320,791l11,50 1,14 -11,-60z"/>
<path color="#8d1545" d="M2138,737l13,-7 2,6 -13,5zM2307,777l13,14 1,4 -12,-13z"/>
<path color="#901542" d="M2151,730l13,3 2,6 -13,-3zM2294,772l13,5 2,5 -13,-4z"/>
<path color="#90153f" d="M2164,733l130,39 2,6 -130,-39z"/>
<path color="#721578" d="M2957,1032l37,13 0,18 -38,-12z"/>
<path color="#66187b" d="M3032,1064l37,21 -1,17 -37,-21z"/>
<path color="#5d187b" d="M3069,1085l37,21 0,16 -38,-20z"/>
<path color="#571b7b" d="M3106,1106l38,16 0,15 -38,-15z"/>
<path color="#87126f" d="M1392,541l369,111 3,18 -369,-112zM1761,652l12,5 3,17 -12,-4zM2704,938l14,4 0,18 -14,-4zM2718,942l239,72 0,18 -239,-72zM2957,1014l38,13 -1,18 -37,-13z"/>
<path color="#7e1575" d="M1773,657l13,22 2,17 -12,-22zM2689,953l15,-15 0,18 -15,14z"/>
<path color="#5d187e" d="M1786,679l13,53 3,13 -14,-49zM1799,732l11,-44 3,16 -11,41zM2661,946l10,53 1,14 -10,-51zM2671,999l18,-46 0,17 -17,43z"/>
<path color="#811272" d="M1810,688l12,-26 3,19 -12,23zM2650,912l11,34 1,16 -12,-31zM2995,1027l37,19 0,18 -38,-19z"/>
<path color="#90126c" d="M1822,662l12,3 3,18 -12,-2zM1834,665l264,79 2,19 -263,-80zM2098,744l13,6 1,19 -12,-6zM2343,821l13,1 2,19 -14,-2zM2356,822l281,85 0,19 -279,-85zM2637,907l13,5 0,19 -13,-5z"/>
<path color="#8a126c" d="M2111,750l12,14 2,15 -13,-10zM2330,827l13,-6 1,18 -13,2z"/>
<path color="#8d125d" d="M2123,764l13,-29 2,2 -13,42zM2318,789l12,38 1,14 -11,-50z"/>
<path color="#8d153f" d="M2136,735l13,-9 2,4 -13,7zM2305,773l13,16 2,2 -13,-14z"/>
<path color="#901539" d="M2149,726l13,3 2,4 -13,-3zM2292,768l13,5 2,4 -13,-5z"/>
<path color="#931539" d="M2162,729l130,39 2,4 -130,-39z"/>
<path color="#781572" d="M3032,1046l38,23 -1,16 -37,-21z"/>
<path color="#6c1875" d="M3070,1069l37,21 -1,16 -37,-21z"/>
<path color="#661878" d="M3107,1090l38,16 -1,16 -38,-16z"/>
<path color="#901260" d="M1388,523l370,112 3,17 -369,-111zM1758,635l12,4 3,18 -12,-5zM2703,921l14,3 1,18 -14,-4zM2717,924l240,73 0,17 -239,-72zM2957,997l38,12 0,18 -38,-13z"/>
<path color="#8d1269" d="M1770,639l13,23 3,17 -13,-22zM2688,936l15,-15 1,17 -15,15z"/>
<path color="#6f157b" d="M1783,662l13,57 3,13 -13,-53zM2670,986l18,-50 1,17 -18,46z"/>
<path color="#6c157b" d="M1796,719l11,-47 3,16 -11,44zM2661,931l9,55 1,13 -10,-53z"/>
<path color="#901266" d="M1807,672l12,-28 3,18 -12,26zM2649,894l12,37 0,15 -11,-34z"/>
<path color="#991257" d="M1819,644l12,2 3,19 -12,-3zM1831,646l265,80 2,18 -264,-79zM2355,804l281,84 1,19 -281,-85zM2636,888l13,6 1,18 -13,-5z"/>
<path color="#99125a" d="M2096,726l12,6 3,18 -13,-6zM2342,802l13,2 1,18 -13,-1z"/>
<path color="#93125d" d="M2108,732l13,16 2,16 -12,-14zM2328,811l14,-9 1,19 -13,6z"/>
<path color="#8d154e" d="M2121,748l13,-12 2,-1 -13,29zM2316,791l12,20 2,16 -12,-38z"/>
<path color="#8d153c" d="M2134,736l13,-11 2,1 -13,9z"/>
<path color="#931536" d="M2147,725l13,2 2,2 -13,-3zM2160,727l130,39 2,2 -130,-39zM2290,766l13,6 2,1 -13,-5z"/>
<path color="#c61e51" d="M2303,772l13,19 2,-2 -13,-16z"/>
<path color="#8d1263" d="M2995,1009l38,20 -1,17 -37,-19z"/>
<path color="#871269" d="M3033,1029l37,24 0,16 -38,-23z"/>
<path color="#7b156c" d="M3070,1053l37,22 0,15 -37,-21z"/>
<path color="#75156f" d="M3107,1075l38,16 0,15 -38,-16z"/>
<path color="#96124b" d="M1383,506l371,112 4,17 -370,-112zM1754,618l13,4 3,17 -12,-4zM2702,903l14,4 1,17 -14,-3zM2716,907l241,72 0,18 -240,-73zM2957,979l38,13 0,17 -38,-12z"/>
<path color="#931254" d="M1767,622l12,23 4,17 -13,-23zM2687,919l15,-16 1,18 -15,15z"/>
<path color="#811275" d="M1779,645l14,60 3,14 -13,-57zM2669,973l18,-54 1,17 -18,50z"/>
<path color="#7b1572" d="M1793,705l11,-47 3,14 -11,47zM2659,917l10,56 1,13 -9,-55z"/>
<path color="#991254" d="M1804,658l12,-32 3,18 -12,28zM2648,876l11,41 2,14 -12,-37z"/>
<path color="#9c1242" d="M1816,626l12,2 3,18 -12,-2zM1828,628l265,80 3,18 -265,-80zM2093,708l13,5 2,19 -12,-6zM2340,783l13,3 2,18 -13,-2zM2353,786l282,84 1,18 -281,-84zM2635,870l13,6 1,18 -13,-6z"/>
<path color="#991248" d="M2106,713l12,17 3,18 -13,-16zM2326,793l14,-10 2,19 -14,9z"/>
<path color="#8d1542" d="M2118,730l13,10 3,-4 -13,12zM2313,795l13,-2 2,18 -12,-20z"/>
<path color="#c61e51" d="M2131,740l13,-11 3,-4 -13,11zM2300,776l13,19 3,-4 -13,-19z"/>
<path color="#cc1e48" d="M2144,729l13,0 3,-2 -13,-2zM2157,729l13,4 3,-2 -13,-4zM2170,733l104,31 3,-2 -104,-31zM2274,764l13,4 3,-2 -13,-4zM2287,768l13,8 3,-4 -13,-6z"/>
<path color="#961251" d="M2995,992l38,21 0,16 -38,-20z"/>
<path color="#8d1557" d="M3033,1013l37,24 0,16 -37,-24z"/>
<path color="#84155d" d="M3070,1037l37,23 0,15 -37,-22z"/>
<path color="#811563" d="M3107,1060l38,17 0,14 -38,-16z"/>
<path color="#9c1236" d="M1378,490l372,112 4,16 -371,-112zM1750,602l12,4 5,16 -13,-4zM2700,887l14,4 2,16 -14,-4zM2714,891l242,72 1,16 -241,-72z"/>
<path color="#99123f" d="M1762,606l13,22 4,17 -12,-23zM2685,902l15,-15 2,16 -15,16z"/>
<path color="#c91893" d="M1775,628l13,65 5,12 -14,-60z"/>
<path color="#8a1269" d="M1788,693l12,-46 4,11 -11,47z"/>
<path color="#9c1242" d="M1800,647l11,-37 5,16 -12,32zM2646,860l11,45 2,12 -11,-41z"/>
<path color="#9f1230" d="M1811,610l13,2 4,16 -12,-2zM2089,691l13,5 4,17 -13,-5zM2337,766l13,3 3,17 -13,-3zM2633,853l13,7 2,16 -13,-6z"/>
<path color="#9f122d" d="M1824,612l265,79 4,17 -265,-80zM2350,769l283,84 2,17 -282,-84z"/>
<path color="#9f1233" d="M2102,696l13,15 3,19 -12,-17zM2323,774l14,-8 3,17 -14,10z"/>
<path color="#93153c" d="M2115,711l12,35 4,-6 -13,-10zM2309,800l14,-26 3,19 -13,2z"/>
<path color="#c31e54" d="M2127,746l13,-4 4,-13 -13,11zM2296,789l13,11 4,-5 -13,-19z"/>
<path color="#c91e4e" d="M2140,742l13,-2 4,-11 -13,0zM2283,779l13,10 4,-13 -13,-8z"/>
<path color="#cc1e4b" d="M2153,740l13,4 4,-11 -13,-4zM2166,744l104,31 4,-11 -104,-31zM2270,775l13,4 4,-11 -13,-4z"/>
<path color="#bd1b93" d="M2657,905l10,55 2,13 -10,-56z"/>
<path color="#901269" d="M2667,960l18,-58 2,17 -18,54z"/>
<path color="#991236" d="M2956,963l38,13 1,16 -38,-13z"/>
<path color="#99153c" d="M2994,976l38,22 1,15 -38,-21z"/>
<path color="#931542" d="M3032,998l37,25 1,14 -37,-24z"/>
<path color="#8a154b" d="M3069,1023l37,24 1,13 -37,-23z"/>
<path color="#841551" d="M3106,1047l39,17 0,13 -38,-17z"/>
<path color="#db1b3c" d="M1367,488l372,112 11,2 -372,-112zM1739,600l13,4 10,2 -12,-4zM2693,886l14,4 7,1 -14,-4zM2707,890l242,72 7,1 -242,-72zM2949,962l39,13 6,1 -38,-13z"/>
<path color="#d51b42" d="M1752,604l13,16 10,8 -13,-22z"/>
<path color="#d21881" d="M1765,620l13,71 10,2 -13,-65z"/>
<path color="#84155a" d="M1778,691l12,-23 10,-21 -12,46z"/>
<path color="#9c123c" d="M1790,668l12,-47 9,-11 -11,37z"/>
<path color="#e11b36" d="M1802,621l12,-1 10,-8 -13,-2zM1814,620l266,80 9,-9 -265,-79zM2080,700l13,4 9,-8 -13,-5zM2328,775l13,3 9,-9 -13,-3zM2341,778l283,85 9,-10 -283,-84zM2624,863l14,9 8,-12 -13,-7z"/>
<path color="#de1b39" d="M2093,704l13,8 9,-1 -13,-15zM2315,775l13,0 9,-9 -14,8z"/>
<path color="#d51b48" d="M2106,712l12,28 9,6 -12,-35z"/>
<path color="#c01e63" d="M2118,740l12,63 10,-61 -13,4zM2285,850l15,-55 9,5 -13,-11z"/>
<path color="#c01e72" d="M2130,803l13,-5 10,-58 -13,2zM2273,837l12,13 11,-61 -13,-10z"/>
<path color="#c01e6c" d="M2143,798l13,0 10,-54 -13,-4zM2260,829l13,8 10,-58 -13,-4z"/>
<path color="#c01e69" d="M2156,798l13,3 10,-54 -13,-3zM2169,801l78,24 10,-54 -78,-24zM2247,825l13,4 10,-54 -13,-4z"/>
<path color="#991536" d="M2300,795l15,-20 8,-1 -14,26z"/>
<path color="#d81b51" d="M2638,872l10,55 9,-22 -11,-45z"/>
<path color="#b71e7b" d="M2648,927l11,32 8,1 -10,-55z"/>
<path color="#990f5d" d="M2659,959l19,-64 7,7 -18,58z"/>
<path color="#991530" d="M2678,895l15,-9 7,1 -15,15z"/>
<path color="#d51b3f" d="M2988,975l37,22 7,1 -38,-22z"/>
<path color="#cc1e48" d="M3025,997l37,26 7,0 -37,-25z"/>
<path color="#c01e54" d="M3062,1023l38,24 6,0 -37,-24z"/>
<path color="#ba215a" d="M3100,1047l38,18 7,-1 -39,-17z"/>
<path color="#db1b3f" d="M1361,512l373,112 5,-24 -372,-112zM1734,624l12,4 6,-24 -13,-4zM2686,911l14,4 7,-25 -14,-4zM2700,915l242,73 7,-26 -242,-72zM2942,988l38,13 8,-26 -39,-13z"/>
<path color="#d51b45" d="M1746,628l13,13 6,-21 -13,-16zM2672,916l14,-5 7,-25 -15,9zM2980,1001l38,21 7,-25 -37,-22z"/>
<path color="#d5187e" d="M1759,641l14,65 5,-15 -13,-71z"/>
<path color="#a52184" d="M1773,706l12,7 5,-45 -12,23zM2639,974l14,1 6,-16 -11,-32z"/>
<path color="#db157b" d="M1785,713l11,-50 6,-42 -12,47zM2630,915l9,59 9,-47 -10,-55z"/>
<path color="#db1b4b" d="M1796,663l12,-2 6,-41 -12,1zM2616,905l14,10 8,-43 -14,-9z"/>
<path color="#db1b48" d="M1808,661l13,3 5,-40 -12,-4zM1821,664l253,77 6,-41 -254,-76zM2074,741l13,4 6,-41 -13,-4zM2087,745l12,5 7,-38 -13,-8zM2308,813l13,2 7,-40 -13,0zM2321,815l13,4 7,-41 -13,-3zM2334,819l269,82 8,-42 -270,-81zM2603,901l13,4 8,-42 -13,-4z"/>
<path color="#d21b51" d="M2099,750l13,13 6,-23 -12,-28zM2294,818l14,-5 7,-38 -15,20z"/>
<path color="#c61b81" d="M2112,763l12,50 6,-10 -12,-63z"/>
<path color="#96248d" d="M2124,813l13,35 6,-50 -13,5zM2266,888l14,-28 5,-10 -12,-13z"/>
<path color="#9f2199" d="M2137,848l13,-6 6,-44 -13,0zM2253,874l13,14 7,-51 -13,-8z"/>
<path color="#a22193" d="M2150,842l13,1 6,-42 -13,-3zM2163,843l12,4 7,-42 -13,-4zM2175,847l52,16 7,-42 -52,-16zM2227,863l13,4 7,-42 -13,-4zM2240,867l13,7 7,-45 -13,-4z"/>
<path color="#8d125d" d="M2280,860l14,-42 6,-23 -15,55z"/>
<path color="#990f5a" d="M2653,975l19,-59 6,-21 -19,64z"/>
<path color="#cc1e4e" d="M3018,1022l37,25 7,-24 -37,-26z"/>
<path color="#c31e5a" d="M3055,1047l38,24 7,-24 -38,-24z"/>
<path color="#ba2160" d="M3093,1071l38,17 7,-23 -38,-18z"/>
<path color="#d51b57" d="M1359,535l372,112 3,-23 -373,-112zM1731,647l12,4 3,-23 -12,-4zM2681,935l14,4 5,-24 -14,-4zM2695,939l242,73 5,-24 -242,-73z"/>
<path color="#d21b5a" d="M1743,651l12,11 4,-21 -13,-13zM2667,938l14,-3 5,-24 -14,5z"/>
<path color="#c9188d" d="M1755,662l14,59 4,-15 -14,-65zM2649,990l18,-52 5,-22 -19,59z"/>
<path color="#932199" d="M1769,721l13,26 3,-34 -12,-7zM2634,1009l15,-19 4,-15 -14,-1z"/>
<path color="#c018a2" d="M1782,747l11,-50 3,-34 -11,50zM2624,950l10,59 5,-35 -9,-59z"/>
<path color="#d5187b" d="M1793,697l12,-3 3,-33 -12,2zM2611,939l13,11 6,-35 -14,-10z"/>
<path color="#d51878" d="M1805,694l13,3 3,-33 -13,-3zM1818,697l265,81 4,-33 -266,-81zM2083,778l13,4 3,-32 -12,-5zM2303,845l14,4 4,-34 -13,-2zM2317,849l281,86 5,-34 -282,-86zM2598,935l13,4 5,-34 -13,-4z"/>
<path color="#cf1878" d="M2096,782l12,9 4,-28 -13,-13zM2290,846l13,-1 5,-32 -14,5z"/>
<path color="#b41e84" d="M2108,791l13,26 3,-4 -12,-50zM2276,865l14,-19 4,-28 -14,42z"/>
<path color="#8a249f" d="M2121,817l12,54 4,-23 -13,-35zM2262,911l14,-46 4,-5 -14,28z"/>
<path color="#7827a8" d="M2133,871l13,3 4,-32 -13,6zM2249,906l13,5 4,-23 -13,-14z"/>
<path color="#7e24a8" d="M2146,874l13,-1 4,-30 -13,-1zM2236,897l13,9 4,-32 -13,-7z"/>
<path color="#8124a8" d="M2159,873l12,2 4,-28 -12,-4zM2223,891l13,6 4,-30 -13,-4z"/>
<path color="#8124a5" d="M2171,875l13,4 4,-28 -13,-4zM2184,879l26,8 4,-28 -26,-8zM2210,887l13,4 4,-28 -13,-4z"/>
<path color="#d21b57" d="M2937,1012l38,13 5,-24 -38,-13z"/>
<path color="#cf1b5d" d="M2975,1025l38,21 5,-24 -38,-21z"/>
<path color="#c91b69" d="M3013,1046l37,24 5,-23 -37,-25z"/>
<path color="#bd1e72" d="M3050,1070l38,23 5,-22 -38,-24z"/>
<path color="#b41e78" d="M3088,1093l38,17 5,-22 -38,-17z"/>
<path color="#cf1872" d="M1357,557l371,113 3,-23 -372,-112zM1728,670l13,4 2,-23 -12,-4zM2677,959l14,4 4,-24 -14,-4zM2691,963l241,73 5,-24 -242,-73zM2932,1036l38,13 5,-24 -38,-13z"/>
<path color="#cc1b75" d="M1741,674l12,9 2,-21 -12,-11zM2663,960l14,-1 4,-24 -14,3z"/>
<path color="#ba1b9c" d="M1753,683l14,52 2,-14 -14,-59zM2646,1005l17,-45 4,-22 -18,52z"/>
<path color="#8124a8" d="M1767,735l13,40 2,-28 -13,-26zM2629,1038l17,-33 3,-15 -15,19z"/>
<path color="#961eae" d="M1780,775l11,-47 2,-31 -11,50zM2620,982l9,56 5,-29 -10,-59z"/>
<path color="#bd189f" d="M1791,728l12,-5 2,-29 -12,3zM2607,969l13,13 4,-32 -13,-11z"/>
<path color="#c3189c" d="M1803,723l12,4 3,-30 -13,-3zM1815,727l265,81 3,-30 -265,-81zM2080,808l12,4 4,-30 -13,-4zM2300,875l13,4 4,-30 -14,-4zM2313,879l280,86 5,-30 -281,-86zM2593,965l14,4 4,-30 -13,-4z"/>
<path color="#bd1899" d="M2092,812l13,6 3,-27 -12,-9zM2287,874l13,1 3,-30 -13,1z"/>
<path color="#a81e96" d="M2105,818l13,14 3,-15 -13,-26zM2273,880l14,-6 3,-28 -14,19z"/>
<path color="#8124a5" d="M2118,832l12,47 3,-8 -12,-54zM2259,918l14,-38 3,-15 -14,46z"/>
<path color="#5d2dae" d="M2130,879l13,24 3,-29 -13,-3zM2245,935l14,-17 3,-7 -13,-5z"/>
<path color="#602ab1" d="M2143,903l12,-4 4,-26 -13,1zM2233,923l12,12 4,-29 -13,-9z"/>
<path color="#662ab1" d="M2155,899l13,1 3,-25 -12,-2zM2220,916l13,7 3,-26 -13,-6z"/>
<path color="#662aae" d="M2168,900l13,3 3,-24 -13,-4zM2181,903l13,4 3,-24 -13,-4zM2194,907l13,4 3,-24 -13,-4zM2207,911l13,5 3,-25 -13,-4z"/>
<path color="#c91b78" d="M2970,1049l38,20 5,-23 -38,-21z"/>
<path color="#c01b81" d="M3008,1069l37,23 5,-22 -37,-24z"/>
<path color="#b41e8a" d="M3045,1092l38,22 5,-21 -38,-23z"/>
<path color="#ab1e8d" d="M3083,1114l38,17 5,-21 -38,-17z"/>
<path color="#c3188d" d="M1356,579l370,113 2,-22 -371,-113zM1726,692l13,4 2,-22 -13,-4zM2674,982l13,4 4,-23 -14,-4zM2687,986l241,73 4,-23 -241,-73zM2928,1059l38,13 4,-23 -38,-13z"/>
<path color="#c01b8d" d="M1739,696l12,8 2,-21 -12,-9zM2660,981l14,1 3,-23 -14,1z"/>
<path color="#a51ea2" d="M1751,704l13,46 3,-15 -14,-52zM2643,1021l17,-40 3,-21 -17,45z"/>
<path color="#6c27b1" d="M1764,750l14,50 2,-25 -13,-40zM2626,1063l17,-42 3,-16 -17,33z"/>
<path color="#7227b1" d="M1778,800l11,-44 2,-28 -11,47zM2616,1011l10,52 3,-25 -9,-56z"/>
<path color="#991eab" d="M1789,756l12,-5 2,-28 -12,5zM2603,997l13,14 4,-29 -13,-13z"/>
<path color="#9f1ea8" d="M1801,751l12,3 2,-27 -12,-4zM1813,754l264,81 3,-27 -265,-81zM2077,835l13,4 2,-27 -12,-4zM2090,839l13,5 2,-26 -13,-6zM2283,900l14,3 3,-28 -13,-1zM2297,903l13,4 3,-28 -13,-4zM2310,907l279,86 4,-28 -280,-86zM2589,993l14,4 4,-28 -14,-4z"/>
<path color="#9321a8" d="M2103,844l12,11 3,-23 -13,-14zM2270,903l13,-3 4,-26 -14,6z"/>
<path color="#7527a8" d="M2115,855l13,30 2,-6 -12,-47zM2256,924l14,-21 3,-23 -14,38z"/>
<path color="#5130b7" d="M2128,885l12,36 3,-18 -13,-24zM2243,953l13,-29 3,-6 -14,17z"/>
<path color="#4830ba" d="M2140,921l13,3 2,-25 -12,4zM2230,948l13,5 2,-18 -12,-12z"/>
<path color="#4b30b7" d="M2153,924l13,-1 2,-23 -13,-1zM2217,939l13,9 3,-25 -13,-7z"/>
<path color="#4e2db7" d="M2166,923l12,3 3,-23 -13,-3zM2178,926l13,3 3,-22 -13,-4zM2191,929l13,5 3,-23 -13,-4zM2204,934l13,5 3,-23 -13,-5z"/>
<path color="#bd1b90" d="M2966,1072l38,19 4,-22 -38,-20z"/>
<path color="#b11b96" d="M3004,1091l37,23 4,-22 -37,-23z"/>
<path color="#a21e99" d="M3041,1114l38,21 4,-21 -38,-22z"/>
<path color="#99219c" d="M3079,1135l38,16 4,-20 -38,-17z"/>
<path color="#ae1b9f" d="M1355,600l382,118 2,-22 -383,-117zM2670,1004l254,78 4,-23 -254,-77zM2924,1082l38,13 4,-23 -38,-13z"/>
<path color="#ab1b9f" d="M1737,718l12,7 2,-21 -12,-8zM2656,1003l14,1 4,-22 -14,-1z"/>
<path color="#9021ab" d="M1749,725l13,40 2,-15 -13,-46zM2640,1037l16,-34 4,-22 -17,40z"/>
<path color="#572db4" d="M1762,765l14,56 2,-21 -14,-50zM2622,1086l18,-49 3,-16 -17,42z"/>
<path color="#542db4" d="M1776,821l11,-38 2,-27 -11,44zM2612,1039l10,47 4,-23 -10,-52z"/>
<path color="#7824b1" d="M1787,783l12,-7 2,-25 -12,5zM2599,1024l13,15 4,-28 -13,-14z"/>
<path color="#7e24b1" d="M1799,776l13,4 1,-26 -12,-3zM1812,780l275,85 3,-26 -277,-85zM2087,865l13,5 3,-26 -13,-5zM2281,926l13,3 3,-26 -14,-3zM2294,929l292,90 3,-26 -292,-90zM2586,1019l13,5 4,-27 -14,-4z"/>
<path color="#7824ae" d="M2100,870l13,8 2,-23 -12,-11zM2267,925l14,1 2,-26 -13,3z"/>
<path color="#662aae" d="M2113,878l12,17 3,-10 -13,-30zM2254,934l13,-9 3,-22 -14,21z"/>
<path color="#4b33ba" d="M2125,895l13,35 2,-9 -12,-36zM2240,962l14,-28 2,-10 -13,29z"/>
<path color="#3f39bd" d="M2138,930l12,17 3,-23 -13,-3zM2227,971l13,-9 3,-9 -13,-5z"/>
<path color="#3c33bd" d="M2150,947l13,-1 3,-23 -13,1zM2214,962l13,9 3,-23 -13,-9z"/>
<path color="#3f33ba" d="M2163,946l13,2 2,-22 -12,-3zM2176,948l13,3 2,-22 -13,-3zM2189,951l13,5 2,-22 -13,-5zM2202,956l12,6 3,-23 -13,-5z"/>
<path color="#a81ea2" d="M2962,1095l38,18 4,-22 -38,-19z"/>
<path color="#9c1ea5" d="M3000,1113l37,22 4,-21 -37,-23z"/>
<path color="#8d21a8" d="M3037,1135l38,21 4,-21 -38,-21z"/>
<path color="#8724a8" d="M3075,1156l38,15 4,-20 -38,-16z"/>
<path color="#961eab" d="M1354,622l381,118 2,-22 -382,-118zM2667,1027l253,78 4,-23 -254,-78z"/>
<path color="#931eab" d="M1735,740l13,6 1,-21 -12,-7zM2653,1025l14,2 3,-23 -14,-1zM2920,1105l38,12 4,-22 -38,-13z"/>
<path color="#7b24ae" d="M1748,746l13,35 1,-16 -13,-40zM2637,1053l16,-28 3,-22 -16,34z"/>
<path color="#4530b7" d="M1761,781l13,60 2,-20 -14,-56zM2619,1106l18,-53 3,-16 -18,49z"/>
<path color="#3f30ba" d="M1774,841l12,-32 1,-26 -11,38zM2608,1065l11,41 3,-20 -10,-47z"/>
<path color="#5a2ab4" d="M1786,809l12,-8 1,-25 -12,7zM2596,1049l12,16 4,-26 -13,-15z"/>
<path color="#602ab4" d="M1798,801l12,3 2,-24 -13,-4zM1810,804l275,86 2,-25 -275,-85zM2085,890l13,4 2,-24 -13,-5zM2278,950l13,4 3,-25 -13,-3zM2291,954l291,90 4,-25 -292,-90zM2582,1044l14,5 3,-25 -13,-5z"/>
<path color="#5d2ab4" d="M2098,894l13,6 2,-22 -13,-8zM2265,948l13,2 3,-24 -14,-1z"/>
<path color="#572db4" d="M2111,900l12,11 2,-16 -12,-17zM2252,951l13,-3 2,-23 -13,9z"/>
<path color="#4236ba" d="M2123,911l13,27 2,-8 -13,-35zM2238,970l14,-19 2,-17 -14,28z"/>
<path color="#3c3fc0" d="M2136,938l12,23 2,-14 -12,-17zM2225,985l13,-15 2,-8 -13,9z"/>
<path color="#363cc0" d="M2148,961l13,7 2,-22 -13,1zM2212,984l13,1 2,-14 -13,-9z"/>
<path color="#3639c0" d="M2161,968l13,1 2,-21 -13,-2zM2174,969l12,3 3,-21 -13,-3zM2186,972l13,5 3,-21 -13,-5zM2199,977l13,7 2,-22 -12,-6z"/>
<path color="#9021ab" d="M2958,1117l38,18 4,-22 -38,-18z"/>
<path color="#8424ab" d="M2996,1135l37,21 4,-21 -37,-22z"/>
<path color="#7824ae" d="M3033,1156l38,20 4,-20 -38,-21z"/>
<path color="#7227ae" d="M3071,1176l38,15 4,-20 -38,-15z"/>
<path color="#7b24ae" d="M1353,643l381,118 1,-21 -381,-118zM2663,1049l253,78 4,-22 -253,-78zM2916,1127l38,13 4,-23 -38,-12z"/>
<path color="#7824ae" d="M1734,761l12,6 2,-21 -13,-6zM2649,1047l14,2 4,-22 -14,-2z"/>
<path color="#632ab1" d="M1746,767l13,31 2,-17 -13,-35zM2634,1070l15,-23 4,-22 -16,28zM3029,1177l38,19 4,-20 -38,-20z"/>
<path color="#3c33bd" d="M1759,798l14,62 1,-19 -13,-60zM2616,1126l18,-56 3,-17 -18,53z"/>
<path color="#3636bd" d="M1773,860l11,-25 2,-26 -12,32zM2605,1092l11,34 3,-20 -11,-41z"/>
<path color="#3f30ba" d="M1784,835l12,-8 2,-26 -12,8zM2592,1075l13,17 3,-27 -12,-16z"/>
<path color="#4530b7" d="M1796,827l12,3 2,-26 -12,-3zM1808,830l275,86 2,-26 -275,-86zM2083,916l12,4 3,-26 -13,-4zM2275,976l13,4 3,-26 -13,-4zM2288,980l291,91 3,-27 -291,-90zM2579,1071l13,4 4,-26 -14,-5z"/>
<path color="#4530ba" d="M2095,920l13,5 3,-25 -13,-6zM2262,973l13,3 3,-26 -13,-2z"/>
<path color="#4230ba" d="M2108,925l13,8 2,-22 -12,-11zM2249,973l13,0 3,-25 -13,3z"/>
<path color="#3c36bd" d="M2121,933l12,16 3,-11 -13,-27zM2236,981l13,-8 3,-22 -14,19z"/>
<path color="#3942c3" d="M2133,949l13,23 2,-11 -12,-23zM2222,996l14,-15 2,-11 -13,15z"/>
<path color="#3648c6" d="M2146,972l12,14 3,-18 -13,-7zM2209,1002l13,-6 3,-11 -13,-1z"/>
<path color="#3342c3" d="M2158,986l13,5 3,-22 -13,-1zM2197,999l12,3 3,-18 -13,-7z"/>
<path color="#303fc3" d="M2171,991l13,4 2,-23 -12,-3zM2184,995l13,4 2,-22 -13,-5z"/>
<path color="#7527ae" d="M2954,1140l38,17 4,-22 -38,-18z"/>
<path color="#6c27b1" d="M2992,1157l37,20 4,-21 -37,-21z"/>
<path color="#5d2db4" d="M3067,1196l38,15 4,-20 -38,-15z"/>
<path color="#632ab1" d="M1352,665l380,118 2,-22 -381,-118zM2660,1071l252,79 4,-23 -253,-78z"/>
<path color="#602ab4" d="M1732,783l12,5 2,-21 -12,-6zM2646,1068l14,3 3,-22 -14,-2zM2912,1150l38,12 4,-22 -38,-13z"/>
<path color="#512db7" d="M1744,788l13,26 2,-16 -13,-31zM2631,1087l15,-19 3,-21 -15,23z"/>
<path color="#3336c0" d="M1757,814l14,64 2,-18 -14,-62zM2613,1144l18,-57 3,-17 -18,56z"/>
<path color="#303fc3" d="M1771,878l12,-17 1,-26 -11,25zM2601,1119l12,25 3,-18 -11,-34z"/>
<path color="#3636c0" d="M1783,861l11,-9 2,-25 -12,8zM2589,1101l12,18 4,-27 -13,-17z"/>
<path color="#3933bd" d="M1794,852l13,3 1,-25 -12,-3zM1807,855l274,86 2,-25 -275,-86zM2081,941l12,4 2,-25 -12,-4zM2272,1001l13,4 3,-25 -13,-4zM2285,1005l290,91 4,-25 -291,-91zM2575,1096l14,5 3,-26 -13,-4z"/>
<path color="#3936bd" d="M2093,945l13,4 2,-24 -13,-5zM2260,998l12,3 3,-25 -13,-3z"/>
<path color="#3636bd" d="M2106,949l13,7 2,-23 -13,-8zM2247,996l13,2 2,-25 -13,0z"/>
<path color="#3639c0" d="M2119,956l12,9 2,-16 -12,-16zM2234,997l13,-1 2,-23 -13,8z"/>
<path color="#3345c6" d="M2131,965l13,17 2,-10 -13,-23zM2220,1007l14,-10 2,-16 -14,15z"/>
<path color="#395acc" d="M2144,982l12,16 2,-12 -12,-14zM2207,1014l13,-7 2,-11 -13,6z"/>
<path color="#365acc" d="M2156,998l13,9 2,-16 -13,-5zM2194,1015l13,-1 2,-12 -12,-3z"/>
<path color="#3354cc" d="M2169,1007l13,6 2,-18 -13,-4zM2182,1013l12,2 3,-16 -13,-4z"/>
<path color="#5d2ab4" d="M2950,1162l38,17 4,-22 -38,-17z"/>
<path color="#572db4" d="M2988,1179l37,19 4,-21 -37,-20z"/>
<path color="#4e2db7" d="M3025,1198l38,18 4,-20 -38,-19z"/>
<path color="#4830b7" d="M3063,1216l38,15 4,-20 -38,-15z"/>
<path color="#4b30b7" d="M1351,686l380,118 1,-21 -380,-118zM1731,804l12,5 1,-21 -12,-5zM2643,1090l14,3 3,-22 -14,-3zM2657,1093l251,79 4,-22 -252,-79zM2908,1172l38,13 4,-23 -38,-12z"/>
<path color="#3f33ba" d="M1743,809l13,22 1,-17 -13,-26zM2628,1105l15,-15 3,-22 -15,19zM3021,1219l38,17 4,-20 -38,-18z"/>
<path color="#303cc3" d="M1756,831l13,63 2,-16 -14,-64zM1793,876l12,3 2,-24 -13,-3zM1805,879l286,90 2,-24 -286,-90zM2091,969l13,5 2,-25 -13,-4zM2104,974l12,5 3,-23 -13,-7zM2244,1019l13,3 3,-24 -13,-2zM2257,1022l13,4 2,-25 -12,-3zM2270,1026l302,95 3,-25 -303,-95zM2572,1121l13,5 4,-25 -14,-5zM2610,1160l18,-55 3,-18 -18,57z"/>
<path color="#304bc6" d="M1769,894l12,-8 2,-25 -12,17zM2598,1144l12,16 3,-16 -12,-25z"/>
<path color="#303fc3" d="M1781,886l12,-10 1,-24 -11,9zM2116,979l13,7 2,-21 -12,-9zM2231,1018l13,1 3,-23 -13,1zM2585,1126l13,18 3,-25 -12,-18z"/>
<path color="#334bc6" d="M2129,986l13,10 2,-14 -13,-17zM2218,1020l13,-2 3,-21 -14,10z"/>
<path color="#3960cf" d="M2142,996l12,14 2,-12 -12,-16zM2205,1026l13,-6 2,-13 -13,7z"/>
<path color="#3f6fd2" d="M2154,1010l13,10 2,-13 -13,-9zM2192,1028l13,-2 2,-12 -13,1z"/>
<path color="#3f72d2" d="M2167,1020l12,5 3,-12 -13,-6zM2179,1025l13,3 2,-13 -12,-2z"/>
<path color="#4830b7" d="M2946,1185l38,16 4,-22 -38,-17z"/>
<path color="#4230ba" d="M2984,1201l37,18 4,-21 -37,-19z"/>
<path color="#3c36bd" d="M3059,1236l38,15 4,-20 -38,-15z"/>
<path color="#3c33bd" d="M1350,707l379,119 2,-22 -380,-118zM1729,826l12,4 2,-21 -12,-5zM2640,1112l13,3 4,-22 -14,-3zM2653,1115l252,79 3,-22 -251,-79zM2905,1194l37,13 4,-22 -38,-13zM2942,1207l38,15 4,-21 -38,-16z"/>
<path color="#3936bd" d="M1741,830l13,19 2,-18 -13,-22zM2625,1123l15,-11 3,-22 -15,15zM2980,1222l38,18 3,-21 -37,-18z"/>
<path color="#2d42c6" d="M1754,849l14,59 1,-14 -13,-63zM2608,1175l17,-52 3,-18 -18,55z"/>
<path color="#335dc9" d="M1768,908l12,2 1,-24 -12,8zM2594,1169l14,6 2,-15 -12,-16z"/>
<path color="#2d4bc6" d="M1780,910l11,-11 2,-23 -12,10zM2582,1150l12,19 4,-25 -13,-18z"/>
<path color="#2d45c6" d="M1791,899l13,4 1,-24 -12,-3zM1804,903l285,90 2,-24 -286,-90zM2089,993l13,4 2,-23 -13,-5zM2254,1046l13,4 3,-24 -13,-4zM2267,1050l302,95 3,-24 -302,-95zM2569,1145l13,5 3,-24 -13,-5z"/>
<path color="#2d48c6" d="M2102,997l12,5 2,-23 -12,-5zM2114,1002l13,5 2,-21 -13,-7zM2229,1040l13,2 2,-23 -13,-1zM2242,1042l12,4 3,-24 -13,-3z"/>
<path color="#3051c9" d="M2127,1007l12,7 3,-18 -13,-10zM2216,1039l13,1 2,-22 -13,2z"/>
<path color="#3963cf" d="M2139,1014l13,9 2,-13 -12,-14zM2203,1040l13,-1 2,-19 -13,6z"/>
<path color="#4275d2" d="M2152,1023l13,9 2,-12 -13,-10zM2190,1040l13,0 2,-14 -13,2z"/>
<path color="#487ed5" d="M2165,1032l12,6 2,-13 -12,-5zM2177,1038l13,2 2,-12 -13,-3z"/>
<path color="#3639c0" d="M3018,1240l37,16 4,-20 -38,-17zM3055,1256l39,14 3,-19 -38,-15z"/>
<path color="#3339c0" d="M1350,728l378,119 1,-21 -379,-119zM1728,847l12,4 1,-21 -12,-4zM2637,1134l13,3 3,-22 -13,-3zM2650,1137l251,79 4,-22 -252,-79zM2901,1216l38,13 3,-22 -37,-13zM2939,1229l37,15 4,-22 -38,-15z"/>
<path color="#333cc3" d="M1740,851l12,16 2,-18 -13,-19zM2622,1141l15,-7 3,-22 -15,11z"/>
<path color="#2d4ec6" d="M1752,867l14,55 2,-14 -14,-59zM2605,1190l17,-49 3,-18 -17,52z"/>
<path color="#366fcc" d="M1766,922l12,11 2,-23 -12,-2zM2591,1193l14,-3 3,-15 -14,-6z"/>
<path color="#2d5dc9" d="M1778,933l12,-11 1,-23 -11,11zM2579,1173l12,20 3,-24 -12,-19z"/>
<path color="#2d57c9" d="M1790,922l12,3 2,-22 -13,-4zM1802,925l285,91 2,-23 -285,-90zM2087,1016l12,4 3,-23 -13,-4zM2099,1020l13,4 2,-22 -12,-5zM2239,1065l13,4 2,-23 -12,-4zM2252,1069l13,4 2,-23 -13,-4zM2265,1073l301,95 3,-23 -302,-95zM2566,1168l13,5 3,-23 -13,-5z"/>
<path color="#2d5ac9" d="M2112,1024l13,5 2,-22 -13,-5zM2226,1061l13,4 3,-23 -13,-2z"/>
<path color="#305dc9" d="M2125,1029l12,6 2,-21 -12,-7zM2214,1059l12,2 3,-21 -13,-1z"/>
<path color="#3366cc" d="M2137,1035l13,6 2,-18 -13,-9zM2201,1057l13,2 2,-20 -13,1z"/>
<path color="#3c75cf" d="M2150,1041l13,6 2,-15 -13,-9zM2188,1055l13,2 2,-17 -13,0z"/>
<path color="#457ed2" d="M2163,1047l12,5 2,-14 -12,-6zM2175,1052l13,3 2,-15 -13,-2z"/>
<path color="#333cc0" d="M2976,1244l38,16 4,-20 -38,-18z"/>
<path color="#333fc3" d="M3014,1260l38,16 3,-20 -37,-16z"/>
<path color="#303fc3" d="M3052,1276l38,14 4,-20 -39,-14z"/>
<path color="#3042c3" d="M1349,749l377,119 2,-21 -378,-119zM1726,868l13,4 1,-21 -12,-4zM2633,1155l14,4 3,-22 -13,-3zM2647,1159l250,79 4,-22 -251,-79zM2897,1238l38,13 4,-22 -38,-13zM2935,1251l37,14 4,-21 -37,-15z"/>
<path color="#3045c6" d="M1739,872l12,13 1,-18 -12,-16zM2619,1160l14,-5 4,-21 -15,7zM2972,1265l38,16 4,-21 -38,-16z"/>
<path color="#305ac9" d="M1751,885l13,50 2,-13 -14,-55zM2603,1203l16,-43 3,-19 -17,49z"/>
<path color="#3c8dc9" d="M1764,935l13,21 1,-23 -12,-11zM2588,1216l15,-13 2,-13 -14,3z"/>
<path color="#2d7ec3" d="M1777,956l12,-11 1,-23 -12,11zM2576,1196l12,20 3,-23 -12,-20z"/>
<path color="#2d72c6" d="M1789,945l12,3 1,-23 -12,-3zM2563,1191l13,5 3,-23 -13,-5z"/>
<path color="#2d6fc6" d="M1801,948l296,94 2,-22 -297,-95zM2097,1042l13,4 2,-22 -13,-4zM2237,1087l13,4 2,-22 -13,-4zM2250,1091l313,100 3,-23 -314,-99z"/>
<path color="#3072c6" d="M2110,1046l13,5 2,-22 -13,-5zM2224,1083l13,4 2,-22 -13,-4z"/>
<path color="#3075c6" d="M2123,1051l12,5 2,-21 -12,-6zM2211,1080l13,3 2,-22 -12,-2z"/>
<path color="#3378c6" d="M2135,1056l13,5 2,-20 -13,-6zM2199,1077l12,3 3,-21 -13,-2z"/>
<path color="#367ec9" d="M2148,1061l12,5 3,-19 -13,-6zM2186,1074l13,3 2,-20 -13,-2z"/>
<path color="#3984c9" d="M2160,1066l13,4 2,-18 -12,-5zM2173,1070l13,4 2,-19 -13,-3z"/>
<path color="#3048c6" d="M3010,1281l38,15 4,-20 -38,-16z"/>
<path color="#304bc6" d="M3048,1296l38,13 4,-19 -38,-14z"/>
<path color="#2d4bc6" d="M1348,770l377,119 1,-21 -377,-119zM1725,889l12,4 2,-21 -13,-4zM2630,1177l14,4 3,-22 -14,-4zM2644,1181l249,79 4,-22 -250,-79zM2893,1260l38,12 4,-21 -38,-13z"/>
<path color="#3051c9" d="M1737,893l12,11 2,-19 -12,-13zM2616,1180l14,-3 3,-22 -14,5zM2969,1286l37,15 4,-20 -38,-16z"/>
<path color="#3369c9" d="M1749,904l14,44 1,-13 -13,-50zM2600,1216l16,-36 3,-20 -16,43z"/>
<path color="#3ca5c0" d="M1763,948l12,29 2,-21 -13,-21zM2585,1238l15,-22 3,-13 -15,13z"/>
<path color="#2da2ba" d="M1775,977l12,-11 2,-21 -12,11zM2573,1218l12,20 3,-22 -12,-20z"/>
<path color="#3096bd" d="M1787,966l12,3 2,-21 -12,-3zM2560,1213l13,5 3,-22 -13,-5z"/>
<path color="#3096c0" d="M1799,969l296,95 2,-22 -296,-94zM2095,1064l13,4 2,-22 -13,-4zM2108,1068l12,4 3,-21 -13,-5zM2120,1072l13,5 2,-21 -12,-5zM2209,1101l13,4 2,-22 -13,-3zM2222,1105l13,4 2,-22 -13,-4zM2235,1109l12,4 3,-22 -13,-4zM2247,1113l313,100 3,-22 -313,-100z"/>
<path color="#3399c0" d="M2133,1077l13,4 2,-20 -13,-5zM2196,1098l13,3 2,-21 -12,-3z"/>
<path color="#339cc0" d="M2146,1081l12,5 2,-20 -12,-5zM2184,1094l12,4 3,-21 -13,-3z"/>
<path color="#369cc0" d="M2158,1086l13,4 2,-20 -13,-4zM2171,1090l13,4 2,-20 -13,-4z"/>
<path color="#2d4ec6" d="M2931,1272l38,14 3,-21 -37,-14z"/>
<path color="#3054c9" d="M3006,1301l38,15 4,-20 -38,-15z"/>
<path color="#335ac9" d="M3044,1316l38,13 4,-20 -38,-13z"/>
<path color="#305ac9" d="M1348,790l376,120 1,-21 -377,-119zM1724,910l12,4 1,-21 -12,-4zM2627,1198l14,4 3,-21 -14,-4zM2641,1202l249,80 3,-22 -249,-79zM2890,1282l37,12 4,-22 -38,-12z"/>
<path color="#3060c9" d="M1736,914l12,9 1,-19 -12,-11zM2613,1199l14,-1 3,-21 -14,3zM2965,1307l38,14 3,-20 -37,-15z"/>
<path color="#3984c9" d="M1748,923l13,37 2,-12 -14,-44zM2598,1229l15,-30 3,-19 -16,36z"/>
<path color="#3fb4a8" d="M1761,960l13,38 1,-21 -12,-29zM2582,1259l16,-30 2,-13 -15,22z"/>
<path color="#33b796" d="M1774,998l12,-10 1,-22 -12,11zM2570,1240l12,19 3,-21 -12,-20z"/>
<path color="#33b1a5" d="M1786,988l12,2 1,-21 -12,-3zM2118,1094l13,4 2,-21 -13,-5zM2131,1098l13,4 2,-21 -13,-4zM2194,1118l13,4 2,-21 -13,-3zM2207,1122l13,4 2,-21 -13,-4zM2557,1235l13,5 3,-22 -13,-5z"/>
<path color="#33aea5" d="M1798,990l308,99 2,-21 -309,-99zM2106,1089l12,5 2,-22 -12,-4zM2220,1126l12,4 3,-21 -13,-4zM2232,1130l325,105 3,-22 -325,-104z"/>
<path color="#36b1a5" d="M2144,1102l12,4 2,-20 -12,-5zM2156,1106l13,4 2,-20 -13,-4zM2169,1110l12,4 3,-20 -13,-4zM2181,1114l13,4 2,-20 -12,-4z"/>
<path color="#305dc9" d="M2927,1294l38,13 4,-21 -38,-14z"/>
<path color="#3366cc" d="M3003,1321l37,14 4,-19 -38,-15z"/>
<path color="#3369cc" d="M3040,1335l39,13 3,-19 -38,-13z"/>
<path color="#3075c6" d="M1347,811l375,120 2,-21 -376,-120zM1722,931l12,4 2,-21 -12,-4zM2624,1220l14,4 3,-22 -14,-4zM2638,1224l248,80 4,-22 -249,-80zM2886,1304l38,12 3,-22 -37,-12z"/>
<path color="#337bc6" d="M1734,935l13,8 1,-20 -12,-9zM2611,1219l13,1 3,-22 -14,1zM2961,1328l38,14 4,-21 -38,-14z"/>
<path color="#3c9fc3" d="M1747,943l12,30 2,-13 -13,-37zM2595,1242l16,-23 2,-20 -15,30z"/>
<path color="#3fbd8d" d="M1759,973l14,44 1,-19 -13,-38zM2579,1278l16,-36 3,-13 -16,30z"/>
<path color="#39ba72" d="M1773,1017l11,-9 2,-20 -12,10zM2567,1261l12,17 3,-19 -12,-19z"/>
<path color="#39ba81" d="M1784,1008l12,3 2,-21 -12,-2zM1796,1011l320,103 2,-20 -320,-104zM2116,1114l13,4 2,-20 -13,-4zM2129,1118l12,5 3,-21 -13,-4zM2141,1123l13,4 2,-21 -12,-4zM2154,1127l13,4 2,-21 -13,-4zM2167,1131l12,4 2,-21 -12,-4zM2179,1135l13,4 2,-21 -13,-4zM2192,1139l13,4 2,-21 -13,-4zM2205,1143l12,4 3,-21 -13,-4zM2217,1147l337,109 3,-21 -337,-109zM2554,1256l13,5 3,-21 -13,-5z"/>
<path color="#3078c6" d="M2924,1316l37,12 4,-21 -38,-13z"/>
<path color="#3681c6" d="M2999,1342l38,13 3,-20 -37,-14z"/>
<path color="#3984c9" d="M3037,1355l38,12 4,-19 -39,-13z"/>
<path color="#3399c0" d="M1346,832l375,120 1,-21 -375,-120zM1721,952l12,4 1,-21 -12,-4zM2621,1241l13,4 4,-21 -14,-4zM2634,1245l249,80 3,-21 -248,-80zM2883,1325l37,12 4,-21 -38,-12zM2920,1337l38,12 3,-21 -37,-12z"/>
<path color="#339cc0" d="M1733,956l12,6 2,-19 -13,-8zM2608,1239l13,2 3,-21 -13,-1z"/>
<path color="#42b4b4" d="M1745,962l13,24 1,-13 -12,-30zM2593,1255l15,-16 3,-20 -16,23z"/>
<path color="#3fbd72" d="M1758,986l13,49 2,-18 -14,-44zM2576,1297l17,-42 2,-13 -16,36z"/>
<path color="#3fbd5a" d="M1771,1035l12,-7 1,-20 -11,9zM2564,1282l12,15 3,-19 -12,-17z"/>
<path color="#3cba60" d="M1783,1028l12,3 1,-20 -12,-3zM1795,1031l332,108 2,-21 -333,-107zM2127,1139l12,4 2,-20 -12,-5zM2139,1143l13,4 2,-20 -13,-4zM2152,1147l25,8 2,-20 -25,-8zM2177,1155l13,4 2,-20 -13,-4zM2190,1159l12,4 3,-20 -13,-4zM2202,1163l349,113 3,-20 -349,-113zM2551,1276l13,6 3,-21 -13,-5z"/>
<path color="#369cc0" d="M2958,1349l37,13 4,-20 -38,-14z"/>
<path color="#399fc0" d="M2995,1362l38,12 4,-19 -38,-13z"/>
<path color="#3ca2c0" d="M3033,1374l38,13 4,-20 -38,-12z"/>
<path color="#36b1a5" d="M1346,852l374,121 1,-21 -375,-120zM1720,973l12,4 1,-21 -12,-4zM1732,977l12,6 1,-21 -12,-6zM2605,1260l13,3 3,-22 -13,-2zM2618,1263l13,4 3,-22 -13,-4zM2631,1267l248,80 4,-22 -249,-80z"/>
<path color="#39ba90" d="M1744,983l12,21 2,-18 -13,-24zM2590,1274l15,-14 3,-21 -15,16z"/>
<path color="#36ba54" d="M1756,1004l14,51 1,-20 -13,-49zM2573,1318l17,-44 3,-19 -17,42z"/>
<path color="#3cba4e" d="M1770,1055l11,-6 2,-21 -12,7zM2561,1303l12,15 3,-21 -12,-15z"/>
<path color="#3fba54" d="M1781,1049l12,2 2,-20 -12,-3zM1793,1051l755,246 3,-21 -756,-245zM2548,1297l13,6 3,-21 -13,-6z"/>
<path color="#36b1a8" d="M2879,1347l37,12 4,-22 -37,-12zM2916,1359l38,11 4,-21 -38,-12z"/>
<path color="#39b1a8" d="M2954,1370l38,12 3,-20 -37,-13z"/>
<path color="#3cb4ab" d="M2992,1382l37,12 4,-20 -38,-12z"/>
<path color="#3fb4ab" d="M3029,1394l38,12 4,-19 -38,-13z"/>
<path color="#39ba84" d="M1345,873l385,125 2,-21 -386,-125zM2615,1284l260,84 4,-21 -261,-84zM2875,1368l38,12 3,-21 -37,-12z"/>
<path color="#3cba81" d="M1730,998l12,5 2,-20 -12,-6zM2601,1282l14,2 3,-21 -13,-3z"/>
<path color="#3cba6f" d="M1742,1003l13,21 1,-20 -12,-21zM2587,1295l14,-13 4,-22 -15,14z"/>
<path color="#39b74b" d="M1755,1024l13,53 2,-22 -14,-51zM2570,1340l17,-45 3,-21 -17,44z"/>
<path color="#3cb745" d="M1768,1077l12,-8 1,-20 -11,6zM2558,1324l12,16 3,-22 -12,-15z"/>
<path color="#3fba4b" d="M1780,1069l12,1 1,-19 -12,-2zM2545,1316l13,8 3,-21 -13,-6z"/>
<path color="#42ba4e" d="M1792,1070l12,4 1,-19 -12,-4zM1804,1074l728,238 3,-20 -730,-237zM2532,1312l13,4 3,-19 -13,-5z"/>
<path color="#3cbd84" d="M2913,1380l37,11 4,-21 -38,-11z"/>
<path color="#3fbd87" d="M2950,1391l38,11 4,-20 -38,-12z"/>
<path color="#42bd8a" d="M2988,1402l38,11 3,-19 -37,-12z"/>
<path color="#45c08d" d="M3026,1413l38,12 3,-19 -38,-12z"/>
<path color="#3fbd60" d="M1344,893l385,125 1,-20 -385,-125zM1729,1018l12,6 1,-21 -12,-5zM2598,1303l14,2 3,-21 -14,-2zM2612,1305l260,85 3,-22 -260,-84zM2872,1390l37,12 4,-22 -38,-12z"/>
<path color="#3fba57" d="M1741,1024l12,21 2,-21 -13,-21zM2584,1315l14,-12 3,-21 -14,13z"/>
<path color="#39b742" d="M1753,1045l14,52 1,-20 -13,-53zM2567,1361l17,-46 3,-20 -17,45z"/>
<path color="#3fb73c" d="M1767,1097l11,-7 2,-21 -12,8zM2555,1345l12,16 3,-21 -12,-16z"/>
<path color="#42b745" d="M1778,1090l12,-1 2,-19 -12,-1zM2542,1336l13,9 3,-21 -13,-8z"/>
<path color="#45ba48" d="M1790,1089l12,4 2,-19 -12,-4zM1802,1093l727,239 3,-20 -728,-238zM2529,1332l13,4 3,-20 -13,-4z"/>
<path color="#3fbd63" d="M2909,1402l37,10 4,-21 -37,-11z"/>
<path color="#42bd69" d="M2946,1412l38,10 4,-20 -38,-11z"/>
<path color="#45bd6c" d="M2984,1422l38,11 4,-20 -38,-11z"/>
<path color="#48c072" d="M3022,1433l38,11 4,-19 -38,-12z"/>
<path color="#42ba54" d="M1343,914l384,125 2,-21 -385,-125zM1727,1039l12,5 2,-20 -12,-6zM2595,1324l13,3 4,-22 -14,-2zM2608,1327l260,84 4,-21 -260,-85zM2868,1411l37,12 4,-21 -37,-12z"/>
<path color="#42ba4e" d="M1739,1044l13,21 1,-20 -12,-21zM2581,1337l14,-13 3,-21 -14,12z"/>
<path color="#3cb439" d="M1752,1065l13,53 2,-21 -14,-52zM2564,1382l17,-45 3,-22 -17,46z"/>
<path color="#57bd39" d="M1765,1118l12,-8 1,-20 -11,7zM2552,1366l12,16 3,-21 -12,-16z"/>
<path color="#4eba3f" d="M1777,1110l11,-2 2,-19 -12,1zM2539,1355l13,11 3,-21 -13,-9z"/>
<path color="#4bba42" d="M1788,1108l12,4 2,-19 -12,-4zM1800,1112l726,239 3,-19 -727,-239zM2526,1351l13,4 3,-19 -13,-4z"/>
<path color="#42ba57" d="M2905,1423l37,10 4,-21 -37,-10z"/>
<path color="#45bd5a" d="M2942,1433l38,9 4,-20 -38,-10z"/>
<path color="#48bd5d" d="M2980,1442l38,10 4,-19 -38,-11z"/>
<path color="#4bc060" d="M3018,1452l38,11 4,-19 -38,-11z"/>
<path color="#45ba4e" d="M1342,934l384,126 1,-21 -384,-125zM1726,1060l12,5 1,-21 -12,-5zM2592,1345l13,3 3,-21 -13,-3zM2605,1348l259,85 4,-22 -260,-84zM2864,1433l37,12 4,-22 -37,-12z"/>
<path color="#45ba48" d="M1738,1065l12,20 2,-20 -13,-21zM2578,1357l14,-12 3,-21 -14,13z"/>
<path color="#54ba36" d="M1750,1085l13,52 2,-19 -13,-53zM2561,1402l17,-45 3,-20 -17,45z"/>
<path color="#75c339" d="M1763,1137l12,-5 2,-22 -12,8zM2549,1388l12,14 3,-20 -12,-16z"/>
<path color="#69c03c" d="M1775,1132l12,-5 1,-19 -11,2zM2536,1374l13,14 3,-22 -13,-11z"/>
<path color="#66c03f" d="M1787,1127l12,3 1,-18 -12,-4zM2523,1369l13,5 3,-19 -13,-4z"/>
<path color="#66c042" d="M1799,1130l724,239 3,-18 -726,-239z"/>
<path color="#45ba51" d="M2901,1445l38,9 3,-21 -37,-10z"/>
<path color="#48bd54" d="M2939,1454l37,9 4,-21 -38,-9z"/>
<path color="#4bbd57" d="M2976,1463l38,8 4,-19 -38,-10z"/>
<path color="#4ebd5a" d="M3014,1471l38,11 4,-19 -38,-11z"/>
<path color="#48ba48" d="M1341,955l383,126 2,-21 -384,-126zM1724,1081l12,4 2,-20 -12,-5zM2589,1366l13,3 3,-21 -13,-3zM2602,1369l258,85 4,-21 -259,-85zM2860,1454l37,12 4,-21 -37,-12zM2897,1466l38,9 4,-21 -38,-9z"/>
<path color="#45b742" d="M1736,1085l12,20 2,-20 -12,-20zM2574,1377l15,-11 3,-21 -14,12z"/>
<path color="#6fc036" d="M1748,1105l13,51 2,-19 -13,-52zM2558,1421l16,-44 4,-20 -17,45z"/>
<path color="#93c936" d="M1761,1156l12,-2 2,-22 -12,5zM2545,1410l13,11 3,-19 -12,-14z"/>
<path color="#84c639" d="M1773,1154l12,-9 2,-18 -12,5zM2533,1393l12,17 4,-22 -13,-14z"/>
<path color="#81c63f" d="M1785,1145l12,3 2,-18 -12,-3zM1797,1148l723,240 3,-19 -724,-239zM2520,1388l13,5 3,-19 -13,-5z"/>
<path color="#4bba4e" d="M2935,1475l37,8 4,-20 -37,-9z"/>
<path color="#4ebd51" d="M2972,1483l38,8 4,-20 -38,-8z"/>
<path color="#4ebd54" d="M3010,1491l38,11 4,-20 -38,-11z"/>
<path color="#57bd42" d="M1340,975l382,127 2,-21 -383,-126zM2598,1391l258,85 4,-22 -258,-85z"/>
<path color="#57bd45" d="M1722,1102l12,4 2,-21 -12,-4zM2585,1387l13,4 4,-22 -13,-3zM2856,1476l37,12 4,-22 -37,-12z"/>
<path color="#63c042" d="M1734,1106l12,18 2,-19 -12,-20zM2571,1397l14,-10 4,-21 -15,11z"/>
<path color="#8ac936" d="M1746,1124l13,50 2,-18 -13,-51zM2555,1439l16,-42 3,-20 -16,44z"/>
<path color="#b1cf33" d="M1759,1174l12,3 2,-23 -12,2zM2542,1434l13,5 3,-18 -13,-11z"/>
<path color="#a2cc36" d="M1771,1177l12,-14 2,-18 -12,9zM2530,1412l12,22 3,-24 -12,-17z"/>
<path color="#99cc3c" d="M1783,1163l11,3 3,-18 -12,-3zM1794,1166l723,240 3,-18 -723,-240zM2517,1406l13,6 3,-19 -13,-5z"/>
<path color="#54bd45" d="M2893,1488l38,8 4,-21 -38,-9z"/>
<path color="#51ba48" d="M2931,1496l37,7 4,-20 -37,-8z"/>
<path color="#4eba4b" d="M2968,1503l38,8 4,-20 -38,-8z"/>
<path color="#51bd4e" d="M3006,1511l38,10 4,-19 -38,-11z"/>
<path color="#75c342" d="M1338,996l382,127 2,-21 -382,-127zM1720,1123l12,4 2,-21 -12,-4zM2581,1409l14,4 3,-22 -13,-4zM2595,1413l257,85 4,-22 -258,-85zM2852,1498l37,11 4,-21 -37,-12z"/>
<path color="#7ec642" d="M1732,1127l12,15 2,-18 -12,-18zM2567,1415l14,-6 4,-22 -14,10z"/>
<path color="#a5cc33" d="M1744,1142l13,49 2,-17 -13,-50zM2551,1457l16,-42 4,-18 -16,42z"/>
<path color="#cfd52d" d="M1757,1191l12,11 2,-25 -12,-3zM2538,1459l13,-2 4,-18 -13,-5z"/>
<path color="#c0d230" d="M1769,1202l11,-20 3,-19 -12,14zM2526,1431l12,28 4,-25 -12,-22z"/>
<path color="#b1cf36" d="M1780,1182l12,2 2,-18 -11,-3zM2514,1425l12,6 4,-19 -13,-6z"/>
<path color="#b1cf39" d="M1792,1184l722,241 3,-19 -723,-240z"/>
<path color="#72c342" d="M2889,1509l37,8 5,-21 -38,-8z"/>
<path color="#6cc345" d="M2926,1517l38,7 4,-21 -37,-7z"/>
<path color="#66c04b" d="M2964,1524l38,7 4,-20 -38,-8z"/>
<path color="#63c04b" d="M3002,1531l38,10 4,-20 -38,-10z"/>
<path color="#90c93f" d="M1336,1017l381,127 3,-21 -382,-127zM2591,1434l256,86 5,-22 -257,-85zM2847,1520l37,11 5,-22 -37,-11z"/>
<path color="#93c93f" d="M1717,1144l12,4 3,-21 -12,-4zM2577,1430l14,4 4,-21 -14,-4z"/>
<path color="#99cc3f" d="M1729,1148l12,12 3,-18 -12,-15zM2564,1434l13,-4 4,-21 -14,6z"/>
<path color="#bdd230" d="M1741,1160l13,46 3,-15 -13,-49zM2548,1472l16,-38 3,-19 -16,42z"/>
<path color="#e1cf27" d="M1754,1206l13,22 2,-26 -12,-11zM2534,1486l14,-14 3,-15 -13,2z"/>
<path color="#ded82a" d="M1767,1228l11,-26 2,-20 -11,20zM2523,1451l11,35 4,-27 -12,-28z"/>
<path color="#c9d233" d="M1778,1202l11,0 3,-18 -12,-2zM2510,1443l13,8 3,-20 -12,-6z"/>
<path color="#c6d233" d="M1789,1202l12,4 3,-18 -12,-4zM1801,1206l696,232 4,-18 -697,-232zM2497,1438l13,5 4,-18 -13,-5z"/>
<path color="#8dc942" d="M2884,1531l38,8 4,-22 -37,-8z"/>
<path color="#87c945" d="M2922,1539l38,5 4,-20 -38,-7z"/>
<path color="#81c648" d="M2960,1544l38,7 4,-20 -38,-7z"/>
<path color="#7bc64b" d="M2998,1551l37,9 5,-19 -38,-10z"/>
<path color="#aecf3c" d="M1334,1038l380,127 3,-21 -381,-127zM1714,1165l12,4 3,-21 -12,-4zM2573,1452l13,5 5,-23 -14,-4zM2586,1457l257,85 4,-22 -256,-86zM2843,1542l36,12 5,-23 -37,-11z"/>
<path color="#b4cf39" d="M1726,1169l12,10 3,-19 -12,-12zM2560,1453l13,-1 4,-22 -13,4z"/>
<path color="#d2d52d" d="M1738,1179l13,40 3,-13 -13,-46zM2544,1486l16,-33 4,-19 -16,38z"/>
<path color="#e4b127" d="M1751,1219l13,35 3,-26 -13,-22zM2529,1513l15,-27 4,-14 -14,14z"/>
<path color="#e4b724" d="M1764,1254l10,-31 4,-21 -11,26zM2518,1473l11,40 5,-27 -11,-35z"/>
<path color="#ded52a" d="M1774,1223l12,-4 3,-17 -11,0zM2506,1461l12,12 5,-22 -13,-8z"/>
<path color="#d8d52d" d="M1786,1219l12,4 3,-17 -12,-4zM1798,1223l695,234 4,-19 -696,-232zM2493,1457l13,4 4,-18 -13,-5z"/>
<path color="#a8cf3c" d="M2879,1554l38,7 5,-22 -38,-8z"/>
<path color="#a2cc3f" d="M2917,1561l38,5 5,-22 -38,-5z"/>
<path color="#99cc45" d="M2955,1566l38,5 5,-20 -38,-7z"/>
<path color="#93cc48" d="M2993,1571l38,10 4,-21 -37,-9z"/>
<path color="#c6d236" d="M1330,1060l380,128 4,-23 -380,-127zM1710,1188l12,4 4,-23 -12,-4zM2568,1476l13,4 5,-23 -13,-5zM2581,1480l256,86 6,-24 -257,-85zM2837,1566l36,11 6,-23 -36,-12z"/>
<path color="#c9d533" d="M1722,1192l12,6 4,-19 -12,-10zM2554,1474l14,2 5,-24 -13,1z"/>
<path color="#ded52a" d="M1734,1198l12,32 5,-11 -13,-40zM2539,1497l15,-23 6,-21 -16,33z"/>
<path color="#e79924" d="M1746,1230l13,47 5,-23 -13,-35zM2524,1537l15,-40 5,-11 -15,27z"/>
<path color="#e79324" d="M1759,1277l11,-27 4,-27 -10,31zM2513,1501l11,36 5,-24 -11,-40z"/>
<path color="#e1c027" d="M1770,1250l12,-12 4,-19 -12,4zM2501,1481l12,20 5,-28 -12,-12z"/>
<path color="#e1cc27" d="M1782,1238l12,3 4,-18 -12,-4zM1794,1241l694,234 5,-18 -695,-234zM2488,1475l13,6 5,-20 -13,-4z"/>
<path color="#c3d236" d="M2873,1577l38,7 6,-23 -38,-7z"/>
<path color="#bad23c" d="M2911,1584l38,4 6,-22 -38,-5z"/>
<path color="#b1cf3f" d="M2949,1588l38,5 6,-22 -38,-5z"/>
<path color="#abcf42" d="M2987,1593l38,9 6,-21 -38,-10z"/>
<path color="#d8d52d" d="M1321,1083l391,132 10,-23 -392,-132zM1712,1215l12,4 10,-21 -12,-6zM2545,1496l13,4 10,-24 -14,-2zM2558,1500l269,91 10,-25 -269,-90zM2827,1591l37,11 9,-25 -36,-11z"/>
<path color="#e1d227" d="M1724,1219l12,13 10,-2 -12,-32zM2531,1500l14,-4 9,-22 -15,23z"/>
<path color="#e79324" d="M1736,1232l13,47 10,-2 -13,-47z"/>
<path color="#e47527" d="M1749,1279l12,19 9,-48 -11,27zM2501,1551l14,-11 9,-3 -11,-36z"/>
<path color="#e49624" d="M1761,1298l11,-34 10,-26 -12,12zM2491,1507l10,44 12,-50 -12,-20z"/>
<path color="#e1b427" d="M1772,1264l12,-4 10,-19 -12,-3zM2479,1495l12,12 10,-26 -13,-6z"/>
<path color="#e1ba27" d="M1784,1260l12,4 10,-19 -12,-4zM1796,1264l670,227 9,-20 -669,-226zM2466,1491l13,4 9,-20 -13,-4z"/>
<path color="#a56c1b" d="M2515,1540l16,-40 8,-3 -15,40z"/>
<path color="#d5d530" d="M2864,1602l37,7 10,-25 -38,-7z"/>
<path color="#ccd533" d="M2901,1609l38,3 10,-24 -38,-4z"/>
<path color="#c3d239" d="M2939,1612l38,5 10,-24 -38,-5z"/>
<path color="#bdd23c" d="M2977,1617l38,9 10,-24 -38,-9z"/>
<path color="#9c9921" d="M1309,1078l393,132 10,5 -391,-132zM1702,1210l12,4 10,5 -12,-4zM2537,1492l14,4 7,4 -13,-4zM2551,1496l270,91 6,4 -269,-91zM2821,1587l37,12 6,3 -37,-11z"/>
<path color="#9f991e" d="M1714,1214l12,5 10,13 -12,-13zM2524,1489l13,3 8,4 -14,4z"/>
<path color="#e4bd27" d="M1726,1219l12,23 11,37 -13,-47z"/>
<path color="#e78424" d="M1738,1242l14,50 9,6 -12,-19z"/>
<path color="#a55d1b" d="M1752,1292l11,-8 9,-20 -11,34z"/>
<path color="#a27b1b" d="M1763,1284l11,-24 10,0 -12,4z"/>
<path color="#e1bd27" d="M1774,1260l12,1 10,3 -12,-4zM1786,1261l12,4 10,3 -12,-4zM1798,1265l647,219 8,2 -645,-218zM2445,1484l13,4 8,3 -13,-5zM2458,1488l13,8 8,-1 -13,-4z"/>
<path color="#e4a827" d="M2471,1496l11,32 9,-21 -12,-12z"/>
<path color="#e47e27" d="M2482,1528l12,17 7,6 -10,-44z"/>
<path color="#a8601b" d="M2494,1545l16,-42 5,37 -14,11z"/>
<path color="#a5871b" d="M2510,1503l14,-14 7,11 -16,40z"/>
<path color="#999924" d="M2858,1599l37,7 6,3 -37,-7z"/>
<path color="#939927" d="M2895,1606l38,4 6,2 -38,-3z"/>
<path color="#8d992a" d="M2933,1610l38,5 6,2 -38,-5z"/>
<path color="#87962d" d="M2971,1615l38,9 6,2 -38,-9z"/>
<path color="#8d9927" d="M1303,1066l56,19 7,12 -57,-19zM1359,1085l57,19 7,12 -57,-19zM1416,1104l58,19 6,13 -57,-20zM1474,1123l58,19 6,13 -58,-19zM1532,1142l58,19 6,14 -58,-20zM1590,1161l59,20 6,13 -59,-19zM1649,1181l59,20 6,13 -59,-20zM1708,1201l12,4 6,14 -12,-5zM2521,1474l13,5 3,13 -13,-3zM2534,1479l66,22 3,13 -66,-22zM2600,1501l72,24 3,13 -72,-24zM2672,1525l73,25 3,13 -73,-25zM2745,1550l73,25 3,12 -73,-24zM2818,1575l37,12 3,12 -37,-12z"/>
<path color="#939921" d="M1720,1205l12,11 6,26 -12,-23zM2507,1477l14,-3 3,15 -14,14z"/>
<path color="#a5871b" d="M1732,1216l13,42 7,34 -14,-50zM2492,1511l15,-34 3,26 -16,42z"/>
<path color="#a56c1b" d="M1745,1258l13,29 5,-3 -11,8zM2478,1532l14,-21 2,34 -12,-17z"/>
<path color="#a57b1b" d="M1758,1287l11,-30 5,3 -11,24z"/>
<path color="#a2961e" d="M1769,1257l12,-4 5,8 -12,-1zM2454,1480l13,14 4,2 -13,-8z"/>
<path color="#a2991e" d="M1781,1253l12,3 5,9 -12,-4zM1793,1256l648,220 4,8 -647,-219zM2441,1476l13,4 4,8 -13,-4z"/>
<path color="#e4ab27" d="M2467,1494l11,38 4,-4 -11,-32z"/>
<path color="#8a9627" d="M2855,1587l38,7 2,12 -37,-7z"/>
<path color="#84962a" d="M2893,1594l38,5 2,11 -38,-4z"/>
<path color="#7e962d" d="M2931,1599l38,6 2,10 -38,-5z"/>
<path color="#7b9630" d="M2969,1605l38,10 2,9 -38,-9z"/>
<path color="#7b962d" d="M1297,1052l56,19 6,14 -56,-19zM1353,1071l58,18 5,15 -57,-19zM1411,1089l57,18 6,16 -58,-19zM1468,1107l58,19 6,16 -58,-19zM2743,1534l74,26 1,15 -73,-25zM2817,1560l37,13 1,14 -37,-12z"/>
<path color="#78932d" d="M1526,1126l59,18 5,17 -58,-19zM2670,1508l73,26 2,16 -73,-25z"/>
<path color="#78932a" d="M1585,1144l58,19 6,18 -59,-20zM1643,1163l12,4 5,18 -11,-4zM1655,1167l48,16 5,18 -48,-16zM1703,1183l12,4 5,18 -12,-4zM1715,1187l12,7 5,22 -12,-11zM2505,1455l14,2 2,17 -14,3zM2519,1457l13,4 2,18 -13,-5zM2532,1461l53,18 2,17 -53,-17zM2585,1479l13,4 2,18 -13,-5zM2598,1483l72,25 2,17 -72,-24z"/>
<path color="#8a9621" d="M1727,1194l13,28 5,36 -13,-42zM2491,1475l14,-20 2,22 -15,34z"/>
<path color="#a58a1b" d="M1740,1222l13,48 5,17 -13,-29zM2475,1515l16,-40 1,36 -14,21z"/>
<path color="#a2871b" d="M1753,1270l12,-14 4,1 -11,30zM2463,1492l12,23 3,17 -11,-38z"/>
<path color="#9c9921" d="M1765,1256l11,-12 5,9 -12,4zM2451,1472l12,20 4,2 -13,-14z"/>
<path color="#969921" d="M1776,1244l12,3 5,9 -12,-3zM1788,1247l650,219 3,10 -648,-220zM2438,1466l13,6 3,8 -13,-4z"/>
<path color="#78962d" d="M2854,1573l37,8 2,13 -38,-7z"/>
<path color="#759330" d="M2891,1581l38,6 2,12 -38,-5z"/>
<path color="#6f9333" d="M2929,1587l39,7 1,11 -38,-6z"/>
<path color="#6c9336" d="M2968,1594l38,10 1,11 -38,-10z"/>
<path color="#699330" d="M1291,1038l57,18 5,15 -56,-19zM1348,1056l58,18 5,15 -58,-18z"/>
<path color="#669030" d="M1406,1074l57,17 5,16 -57,-18zM2742,1517l74,27 1,16 -74,-26zM2816,1544l37,13 1,16 -37,-13z"/>
<path color="#639030" d="M1463,1091l58,17 5,18 -58,-19zM1521,1108l59,18 5,18 -59,-18zM2669,1491l73,26 1,17 -73,-26z"/>
<path color="#609030" d="M1580,1126l59,19 4,18 -58,-19zM1639,1145l12,3 4,19 -12,-4zM1651,1148l12,4 4,19 -12,-4zM1663,1152l36,12 4,19 -36,-12zM1699,1164l12,4 4,19 -12,-4zM2517,1438l13,4 2,19 -13,-4zM2530,1442l40,14 1,18 -39,-13zM2570,1456l13,4 2,19 -14,-5zM2583,1460l13,5 2,18 -13,-4zM2596,1465l73,26 1,17 -72,-25z"/>
<path color="#60902d" d="M1711,1168l12,5 4,21 -12,-7zM2504,1435l13,3 2,19 -14,-2z"/>
<path color="#669027" d="M1723,1173l12,19 5,30 -13,-28zM2490,1445l14,-10 1,20 -14,20z"/>
<path color="#8a9621" d="M1735,1192l13,48 5,30 -13,-48zM2474,1485l16,-40 1,30 -16,40z"/>
<path color="#9f991e" d="M1748,1240l13,14 4,2 -12,14zM2460,1491l14,-6 1,30 -12,-23z"/>
<path color="#969924" d="M1761,1254l11,-19 4,9 -11,12z"/>
<path color="#8a9627" d="M1772,1235l12,1 4,11 -12,-3zM1784,1236l12,4 4,11 -12,-4zM1796,1240l627,211 2,11 -625,-211zM2423,1451l13,5 2,10 -13,-4zM2436,1456l12,7 3,9 -13,-6z"/>
<path color="#cfd530" d="M2448,1463l12,28 3,1 -12,-20z"/>
<path color="#669033" d="M2853,1557l37,10 1,14 -37,-8z"/>
<path color="#639033" d="M2890,1567l38,7 1,13 -38,-6z"/>
<path color="#5d9036" d="M2928,1574l39,8 1,12 -39,-7z"/>
<path color="#5a9039" d="M2967,1582l38,10 1,12 -38,-10z"/>
<path color="#578d36" d="M1286,1023l57,18 5,15 -57,-18z"/>
<path color="#548d36" d="M1343,1041l58,17 5,16 -58,-18zM1401,1058l57,17 5,16 -57,-17zM2815,1528l37,14 1,15 -37,-13z"/>
<path color="#4e8d33" d="M1458,1075l59,16 4,17 -58,-17z"/>
<path color="#4b8a33" d="M1517,1091l58,17 5,18 -59,-18zM2668,1473l73,27 1,17 -73,-26z"/>
<path color="#488a33" d="M1575,1108l59,18 5,19 -59,-19zM1634,1126l12,4 5,18 -12,-3zM1646,1130l12,4 5,18 -12,-4zM1658,1134l48,16 5,18 -48,-16zM1706,1150l13,4 4,19 -12,-5zM2502,1415l13,5 2,18 -13,-3zM2515,1420l53,17 2,19 -53,-18zM2568,1437l14,5 1,18 -13,-4zM2582,1442l13,4 1,19 -13,-5zM2595,1446l73,27 1,18 -73,-26z"/>
<path color="#488a2d" d="M1719,1154l12,11 4,27 -12,-19zM2488,1418l14,-3 2,20 -14,10z"/>
<path color="#609024" d="M1731,1165l13,38 4,37 -13,-48zM2473,1447l15,-29 2,27 -16,40z"/>
<path color="#879621" d="M1744,1203l13,42 4,9 -13,-14zM2458,1482l15,-35 1,38 -14,6z"/>
<path color="#8a9627" d="M1757,1245l11,-18 4,8 -11,19zM2446,1455l12,27 2,9 -12,-28z"/>
<path color="#7e962d" d="M1768,1227l12,-2 4,11 -12,-1zM2433,1445l13,10 2,8 -12,-7z"/>
<path color="#7b962d" d="M1780,1225l12,4 4,11 -12,-4zM1792,1229l628,211 3,11 -627,-211zM2420,1440l13,5 3,11 -13,-5z"/>
<path color="#518d33" d="M2741,1500l74,28 1,16 -74,-27z"/>
<path color="#518d36" d="M2852,1542l37,10 1,15 -37,-10z"/>
<path color="#518d39" d="M2889,1552l38,9 1,13 -38,-7z"/>
<path color="#4e8d3c" d="M2927,1561l39,8 1,13 -39,-8z"/>
<path color="#4b8d3c" d="M2966,1569l38,11 1,12 -38,-10z"/>
<path color="#458a39" d="M1281,1008l57,18 5,15 -57,-18z"/>
<path color="#428a39" d="M1338,1026l58,17 5,15 -58,-17z"/>
<path color="#3f8a39" d="M1396,1043l58,16 4,16 -57,-17zM2814,1512l37,14 1,16 -37,-14zM2851,1526l38,11 0,15 -37,-10z"/>
<path color="#3c8739" d="M1454,1059l58,15 5,17 -59,-16zM2740,1484l74,28 1,16 -74,-28z"/>
<path color="#398739" d="M1512,1074l59,17 4,17 -58,-17zM1571,1091l59,18 4,17 -59,-18zM1630,1109l12,3 4,18 -12,-4zM1642,1112l12,4 4,18 -12,-4zM1654,1116l48,16 4,18 -48,-16zM1702,1132l13,4 4,18 -13,-4zM2500,1398l14,4 1,18 -13,-5zM2514,1402l53,18 1,17 -53,-17zM2567,1420l13,4 2,18 -14,-5zM2580,1424l14,5 1,17 -13,-4zM2594,1429l73,26 1,18 -73,-27zM2667,1455l73,29 1,16 -73,-27z"/>
<path color="#368736" d="M1715,1136l12,8 4,21 -12,-11zM2487,1396l13,2 2,17 -14,3z"/>
<path color="#398427" d="M1727,1144l12,24 5,35 -13,-38zM2472,1413l15,-17 1,22 -15,29z"/>
<path color="#639024" d="M1739,1168l14,56 4,21 -13,-42zM2456,1461l16,-48 1,34 -15,35z"/>
<path color="#7b962a" d="M1753,1224l12,-4 3,7 -11,18zM2444,1449l12,12 2,21 -12,-27z"/>
<path color="#729330" d="M1765,1220l12,-6 3,11 -12,2zM2431,1434l13,15 2,6 -13,-10z"/>
<path color="#6f9330" d="M1777,1214l12,3 3,12 -12,-4zM2418,1429l13,5 2,11 -13,-5z"/>
<path color="#6c9330" d="M1789,1217l629,212 2,11 -628,-211z"/>
<path color="#3f8a3c" d="M2889,1537l38,10 0,14 -38,-9z"/>
<path color="#3f8a3f" d="M2927,1547l38,9 1,13 -39,-8z"/>
<path color="#428a42" d="M2965,1556l38,11 1,13 -38,-11z"/>
<path color="#3f8a3f" d="M1276,993l58,18 4,15 -57,-18zM1334,1011l57,16 5,16 -58,-17zM1391,1027l58,16 5,16 -58,-16zM2813,1497l37,14 1,15 -37,-14z"/>
<path color="#3f8a42" d="M1449,1043l59,15 4,16 -58,-15zM1508,1058l59,17 4,16 -59,-17zM1567,1075l59,17 4,17 -59,-18zM1626,1092l12,4 4,16 -12,-3zM1638,1096l12,4 4,16 -12,-4zM1650,1100l49,16 3,16 -48,-16zM1699,1116l12,4 4,16 -13,-4zM2499,1381l13,5 2,16 -14,-4zM2512,1386l54,17 1,17 -53,-18zM2566,1403l13,5 1,16 -13,-4zM2579,1408l13,4 2,17 -14,-5zM2592,1412l74,27 1,16 -73,-26zM2666,1439l73,29 1,16 -73,-29zM2739,1468l74,29 1,15 -74,-28zM2850,1511l38,12 1,14 -38,-11z"/>
<path color="#3c8a42" d="M1711,1120l12,5 4,19 -12,-8zM2485,1378l14,3 1,17 -13,-2z"/>
<path color="#308433" d="M1723,1125l12,17 4,26 -12,-24zM2471,1387l14,-9 2,18 -15,17z"/>
<path color="#3f8727" d="M1735,1142l14,51 4,31 -14,-56zM2455,1430l16,-43 1,26 -16,48z"/>
<path color="#63902a" d="M1749,1193l12,21 4,6 -12,4zM2441,1442l14,-12 1,31 -12,-12z"/>
<path color="#669336" d="M1761,1214l12,-10 4,10 -12,6zM2429,1423l12,19 3,7 -13,-15z"/>
<path color="#609036" d="M1773,1204l12,2 4,11 -12,-3zM1785,1206l13,4 3,12 -12,-5zM1798,1210l605,203 2,11 -604,-202zM2403,1413l13,4 2,12 -13,-5zM2416,1417l13,6 2,11 -13,-5z"/>
<path color="#428a42" d="M2888,1523l38,10 1,14 -38,-10z"/>
<path color="#428d45" d="M2926,1533l38,10 1,13 -38,-9z"/>
<path color="#458d48" d="M2964,1543l39,12 0,12 -38,-11z"/>
<path color="#428a45" d="M1272,977l57,18 5,16 -58,-18z"/>
<path color="#428a48" d="M1329,995l58,17 4,15 -57,-16z"/>
<path color="#428d48" d="M1387,1012l58,16 4,15 -58,-16zM2812,1482l38,14 0,15 -37,-14zM2850,1496l38,12 0,15 -38,-12z"/>
<path color="#428d4b" d="M1445,1028l58,15 5,15 -59,-15zM2664,1424l74,29 1,15 -73,-29zM2738,1453l74,29 1,15 -74,-29z"/>
<path color="#458d4b" d="M1503,1043l60,17 4,15 -59,-17zM2888,1508l38,11 0,14 -38,-10zM2926,1519l38,11 0,13 -38,-10z"/>
<path color="#458d4e" d="M1563,1060l59,17 4,15 -59,-17zM1622,1077l12,4 4,15 -12,-4zM1634,1081l12,4 4,15 -12,-4zM1646,1085l61,20 4,15 -61,-20zM2497,1366l67,22 2,15 -67,-22zM2564,1388l14,5 1,15 -13,-5zM2578,1393l13,5 1,14 -13,-4zM2591,1398l73,26 2,15 -74,-27z"/>
<path color="#428d4e" d="M1707,1105l12,4 4,16 -12,-5zM2484,1362l13,4 2,15 -14,-3z"/>
<path color="#398a42" d="M1719,1109l13,12 3,21 -12,-17zM2470,1365l14,-3 1,16 -14,9z"/>
<path color="#2a812d" d="M1732,1121l13,36 4,36 -14,-51zM2455,1394l15,-29 1,22 -16,43z"/>
<path color="#45872a" d="M1745,1157l13,47 3,10 -12,-21zM2439,1433l16,-39 0,36 -14,12z"/>
<path color="#5a9036" d="M1758,1204l12,-11 3,11 -12,10zM2427,1413l12,20 2,9 -12,-19z"/>
<path color="#548d39" d="M1770,1193l12,1 3,12 -12,-2zM2414,1405l13,8 2,10 -13,-6z"/>
<path color="#518d39" d="M1782,1194l12,4 4,12 -13,-4zM1794,1198l607,203 2,12 -605,-203zM2401,1401l13,4 2,12 -13,-4z"/>
<path color="#488d4e" d="M2964,1530l38,12 1,13 -39,-12z"/>
<path color="#458d4e" d="M1267,962l57,18 5,15 -57,-18zM1324,980l58,17 5,15 -58,-17z"/>
<path color="#458d51" d="M1382,997l58,16 5,15 -58,-16zM2812,1467l37,14 1,15 -38,-14z"/>
<path color="#489054" d="M1440,1013l59,16 4,14 -58,-15zM2737,1439l75,28 0,15 -74,-29z"/>
<path color="#4b9057" d="M1499,1029l59,17 5,14 -60,-17zM2663,1411l74,28 1,14 -74,-29z"/>
<path color="#4b905a" d="M1558,1046l60,18 4,13 -59,-17zM1618,1064l12,4 4,13 -12,-4zM1630,1068l12,4 4,13 -12,-4zM1642,1072l61,20 4,13 -61,-20zM1703,1092l12,4 4,13 -12,-4zM2482,1349l13,4 2,13 -13,-4zM2495,1353l67,22 2,13 -67,-22zM2562,1375l14,5 2,13 -14,-5zM2576,1380l13,4 2,14 -13,-5zM2589,1384l74,27 1,13 -73,-26z"/>
<path color="#458d54" d="M1715,1096l13,7 4,18 -13,-12zM2468,1348l14,1 2,13 -14,3z"/>
<path color="#2d8439" d="M1728,1103l12,22 5,32 -13,-36zM2454,1361l14,-13 2,17 -15,29z"/>
<path color="#2a812a" d="M1740,1125l14,58 4,21 -13,-47zM2438,1411l16,-50 1,33 -16,39z"/>
<path color="#458a36" d="M1754,1183l12,1 4,9 -12,11zM2425,1404l13,7 1,22 -12,-20z"/>
<path color="#458a3f" d="M1766,1184l12,-2 4,12 -12,-1zM2412,1393l13,11 2,9 -13,-8z"/>
<path color="#428a3f" d="M1778,1182l13,3 3,13 -12,-4zM1791,1185l608,203 2,13 -607,-203zM2399,1388l13,5 2,12 -13,-4z"/>
<path color="#488d51" d="M2849,1481l38,13 1,14 -38,-12z"/>
<path color="#489051" d="M2887,1494l38,11 1,14 -38,-11z"/>
<path color="#4b9054" d="M2925,1505l38,12 1,13 -38,-11zM2963,1517l39,12 0,13 -38,-12z"/>
<path color="#48905a" d="M1262,946l57,19 5,15 -57,-18z"/>
<path color="#48905d" d="M1319,965l59,17 4,15 -58,-17z"/>
<path color="#4b9060" d="M1378,982l58,17 4,14 -58,-16zM2811,1453l37,14 1,14 -37,-14zM2848,1467l38,13 1,14 -38,-13zM2886,1480l38,12 1,13 -38,-11z"/>
<path color="#4e9366" d="M1436,999l59,17 4,13 -59,-16z"/>
<path color="#519369" d="M1495,1016l59,18 4,12 -59,-17z"/>
<path color="#51936c" d="M1554,1034l60,18 4,12 -60,-18zM2588,1373l73,26 2,12 -74,-27z"/>
<path color="#51936f" d="M1614,1052l12,4 4,12 -12,-4zM1699,1080l13,4 3,12 -12,-4zM2480,1337l13,4 2,12 -13,-4zM2574,1368l14,5 1,11 -13,-4z"/>
<path color="#54936f" d="M1626,1056l13,4 3,12 -12,-4zM1639,1060l60,20 4,12 -61,-20zM2493,1341l68,23 1,11 -67,-22zM2561,1364l13,4 2,12 -14,-5z"/>
<path color="#4e936c" d="M1712,1084l12,5 4,14 -13,-7zM2466,1334l14,3 2,12 -14,-1z"/>
<path color="#3f8d57" d="M1724,1089l13,15 3,21 -12,-22zM2453,1340l13,-6 2,14 -14,13z"/>
<path color="#2a8436" d="M1737,1104l13,48 4,31 -14,-58zM2437,1381l16,-41 1,21 -16,50z"/>
<path color="#368736" d="M1750,1152l13,22 3,10 -12,-1zM2423,1394l14,-13 1,30 -13,-7z"/>
<path color="#458d45" d="M1763,1174l12,-5 3,13 -12,2zM1775,1169l12,3 4,13 -13,-3zM2397,1375l13,6 2,12 -13,-5zM2410,1381l13,13 2,10 -13,-11z"/>
<path color="#428d45" d="M1787,1172l610,203 2,13 -608,-203z"/>
<path color="#4e9369" d="M2661,1399l75,27 1,13 -74,-28z"/>
<path color="#4b9363" d="M2736,1426l75,27 1,14 -75,-28z"/>
<path color="#4b9063" d="M2924,1492l39,12 0,13 -38,-12z"/>
<path color="#4e9363" d="M2963,1504l38,12 1,13 -39,-12z"/>
<path color="#48906f" d="M1257,931l57,19 5,15 -57,-19z"/>
<path color="#4b9372" d="M1314,950l59,18 5,14 -59,-17z"/>
<path color="#4e9375" d="M1373,968l59,18 4,13 -58,-17zM1720,1079l13,9 4,16 -13,-15zM2451,1325l13,-1 2,10 -13,6zM2809,1440l38,13 1,14 -37,-14zM2924,1478l38,12 1,14 -39,-12zM2962,1490l39,13 0,13 -38,-12z"/>
<path color="#519378" d="M1432,986l59,19 4,11 -59,-17zM2734,1414l75,26 2,13 -75,-27z"/>
<path color="#54967b" d="M1491,1005l59,18 4,11 -59,-18zM2660,1388l74,26 2,12 -75,-27z"/>
<path color="#57967e" d="M1550,1023l60,19 4,10 -60,-18zM1708,1074l12,5 4,10 -12,-5zM2464,1324l14,3 2,10 -14,-3zM2586,1363l74,25 1,11 -73,-26z"/>
<path color="#5a967e" d="M1610,1042l12,4 4,10 -12,-4zM1622,1046l13,4 4,10 -13,-4zM1635,1050l73,24 4,10 -73,-24zM2478,1327l81,27 2,10 -81,-27zM2559,1354l13,5 2,9 -13,-4zM2572,1359l14,4 2,10 -14,-5z"/>
<path color="#2a8745" d="M1733,1088l13,32 4,32 -13,-48zM2436,1348l15,-23 2,15 -16,41z"/>
<path color="#308739" d="M1746,1120l13,43 4,11 -13,-22zM2420,1383l16,-35 1,33 -14,13z"/>
<path color="#488d4b" d="M1759,1163l12,-5 4,11 -12,5zM1783,1159l13,4 3,13 -12,-4zM1796,1163l585,195 3,13 -585,-195zM2381,1358l14,4 2,13 -13,-4zM2408,1369l12,14 3,11 -13,-13z"/>
<path color="#488d4e" d="M1771,1158l12,1 4,13 -12,-3zM2395,1362l13,7 2,12 -13,-6z"/>
<path color="#4e9372" d="M2847,1453l38,13 1,14 -38,-13zM2885,1466l39,12 0,14 -38,-12z"/>
<path color="#4b9084" d="M1251,916l58,19 5,15 -57,-19z"/>
<path color="#4e9084" d="M1309,935l59,19 5,14 -59,-18z"/>
<path color="#519087" d="M1368,954l59,20 5,12 -59,-18zM2808,1428l38,12 1,13 -38,-13zM2846,1440l38,12 1,14 -38,-13zM2884,1452l39,13 1,13 -39,-12zM2923,1465l38,13 1,12 -38,-12zM2961,1478l39,12 1,13 -39,-13z"/>
<path color="#57938a" d="M1427,974l59,20 5,11 -59,-19z"/>
<path color="#5a968a" d="M1486,994l60,20 4,9 -59,-18zM1716,1071l13,6 4,11 -13,-9zM2448,1314l14,1 2,9 -13,1zM2658,1379l75,24 1,11 -74,-26z"/>
<path color="#5d968d" d="M1546,1014l60,20 4,8 -60,-19zM2583,1355l75,24 2,9 -74,-25z"/>
<path color="#60968d" d="M1606,1034l12,4 4,8 -12,-4zM1618,1038l86,28 4,8 -86,-28zM1704,1066l12,5 4,8 -12,-5zM2462,1315l13,5 3,7 -14,-3zM2475,1320l95,31 2,8 -94,-32zM2570,1351l13,4 3,8 -14,-4z"/>
<path color="#3c8d6f" d="M1729,1077l12,17 5,26 -13,-32zM2434,1322l14,-8 3,11 -15,23z"/>
<path color="#2a873f" d="M1741,1094l14,47 4,22 -13,-43zM2419,1361l15,-39 2,26 -16,35z"/>
<path color="#458d4b" d="M1755,1141l12,6 4,11 -12,5zM2405,1359l14,2 1,22 -12,-14z"/>
<path color="#4e9054" d="M1767,1147l12,-1 4,13 -12,-1zM2392,1349l13,10 3,10 -13,-7z"/>
<path color="#4b9054" d="M1779,1146l13,3 4,14 -13,-4zM1792,1149l587,195 2,14 -585,-195zM2379,1344l13,5 3,13 -14,-4z"/>
<path color="#549387" d="M2733,1403l75,25 1,12 -75,-26z"/>
<path color="#4b8793" d="M1246,900l58,20 5,15 -58,-19z"/>
<path color="#4e8a93" d="M1304,920l59,21 5,13 -59,-19zM2845,1427l38,12 1,13 -38,-12zM2883,1439l38,13 2,13 -39,-13zM2921,1452l39,13 1,13 -38,-13z"/>
<path color="#518d93" d="M1363,941l59,22 5,11 -59,-20zM2807,1416l38,11 1,13 -38,-12z"/>
<path color="#579096" d="M1422,963l60,22 4,9 -59,-20z"/>
<path color="#5a9396" d="M1482,985l60,22 4,7 -60,-20zM2655,1372l76,22 2,9 -75,-24z"/>
<path color="#609696" d="M1542,1007l60,21 4,6 -60,-20zM1602,1028l12,4 4,6 -12,-4zM1614,1032l12,4 5,6 -13,-4zM1626,1036l74,24 4,6 -73,-24zM1700,1060l12,4 4,7 -12,-5zM1712,1064l13,5 4,8 -13,-6zM2445,1306l14,3 3,6 -14,-1zM2459,1309l13,5 3,6 -13,-5zM2472,1314l82,26 2,6 -81,-26zM2554,1340l13,5 3,6 -14,-5zM2567,1345l14,4 2,6 -13,-4z"/>
<path color="#5a938d" d="M1725,1069l12,13 4,12 -12,-17zM2432,1310l13,-4 3,8 -14,8z"/>
<path color="#368a63" d="M1737,1082l13,34 5,25 -14,-47zM2417,1337l15,-27 2,12 -15,39z"/>
<path color="#489057" d="M1750,1116l13,22 4,9 -12,-6zM2402,1350l15,-13 2,24 -14,-2z"/>
<path color="#579360" d="M1763,1138l12,-5 4,13 -12,1zM2390,1336l12,14 3,9 -13,-10z"/>
<path color="#519360" d="M1775,1133l13,2 4,14 -13,-3zM2376,1330l14,6 2,13 -13,-5z"/>
<path color="#4e9360" d="M1788,1135l12,4 4,14 -12,-4zM1800,1139l563,186 3,15 -562,-187zM2363,1325l13,5 3,14 -13,-4z"/>
<path color="#5d9396" d="M2581,1349l74,23 3,7 -75,-24z"/>
<path color="#549096" d="M2731,1394l76,22 1,12 -75,-25z"/>
<path color="#518a93" d="M2960,1465l39,13 1,12 -39,-12z"/>
<path color="#45789c" d="M1240,886l58,20 6,14 -58,-20z"/>
<path color="#487b9c" d="M1298,906l59,23 6,12 -59,-21z"/>
<path color="#4e819c" d="M1357,929l60,24 5,10 -59,-22z"/>
<path color="#54879c" d="M1417,953l60,24 5,8 -60,-22z"/>
<path color="#5a8d9c" d="M1477,977l60,23 5,7 -60,-22z"/>
<path color="#5d939c" d="M1537,1000l60,23 5,5 -60,-21zM2578,1344l75,22 2,6 -74,-23z"/>
<path color="#60939c" d="M1597,1023l12,4 5,5 -12,-4zM1609,1027l13,4 4,5 -12,-4zM1622,1031l86,28 4,5 -86,-28zM1708,1059l12,5 5,5 -13,-5zM2442,1301l14,4 3,4 -14,-3zM2456,1305l95,31 3,4 -95,-31zM2551,1336l13,4 3,5 -13,-5zM2564,1340l14,4 3,5 -14,-4z"/>
<path color="#5d9399" d="M1720,1064l13,8 4,10 -12,-13zM2429,1301l13,0 3,5 -13,4z"/>
<path color="#458d84" d="M1733,1072l12,21 5,23 -13,-34zM2414,1314l15,-13 3,9 -15,27z"/>
<path color="#429069" d="M1745,1093l14,32 4,13 -13,-22zM2400,1337l14,-23 3,23 -15,13z"/>
<path color="#57966f" d="M1759,1125l12,-3 4,11 -12,5zM2387,1325l13,12 2,13 -12,-14z"/>
<path color="#579672" d="M1771,1122l12,-1 5,14 -13,-2zM2374,1315l13,10 3,11 -14,-6z"/>
<path color="#549372" d="M1783,1121l12,3 5,15 -12,-4zM2360,1310l14,5 2,15 -13,-5z"/>
<path color="#519372" d="M1795,1124l565,186 3,15 -563,-186z"/>
<path color="#578d9c" d="M2653,1366l75,20 3,8 -76,-22z"/>
<path color="#51879c" d="M2728,1386l77,19 2,11 -76,-22z"/>
<path color="#4b819c" d="M2805,1405l38,10 2,12 -38,-11zM2959,1453l38,13 2,12 -39,-13z"/>
<path color="#4b7e9c" d="M2843,1415l38,12 2,12 -38,-12zM2920,1440l39,13 1,12 -39,-13z"/>
<path color="#487e9c" d="M2881,1427l39,13 1,12 -38,-13z"/>
<path color="#3c699f" d="M1233,872l59,21 6,13 -58,-20z"/>
<path color="#3f6f9f" d="M1292,893l59,24 6,12 -59,-23z"/>
<path color="#4578a2" d="M1351,917l60,26 6,10 -60,-24z"/>
<path color="#4b7e9f" d="M1411,943l60,26 6,8 -60,-24z"/>
<path color="#51879f" d="M1471,969l60,26 6,5 -60,-23z"/>
<path color="#578a9f" d="M1531,995l61,24 5,4 -60,-23zM2574,1341l75,20 4,5 -75,-22z"/>
<path color="#5a8d9f" d="M1592,1019l12,4 5,4 -12,-4zM1604,1023l12,4 6,4 -13,-4zM1616,1027l87,28 5,4 -86,-28zM1703,1055l12,5 5,4 -12,-5zM1715,1060l12,5 6,7 -13,-8zM2425,1294l13,3 4,4 -13,0zM2438,1297l14,4 4,4 -14,-4zM2452,1301l95,31 4,4 -95,-31zM2547,1332l14,4 3,4 -13,-4zM2561,1336l13,5 4,3 -14,-4z"/>
<path color="#548d99" d="M1727,1065l13,14 5,14 -12,-21zM2411,1299l14,-5 4,7 -15,13z"/>
<path color="#488d84" d="M1740,1079l13,26 6,20 -14,-32zM2396,1317l15,-18 3,15 -14,23z"/>
<path color="#5a967e" d="M1753,1105l13,10 5,7 -12,3zM2383,1319l13,-2 4,20 -13,-12z"/>
<path color="#5d9684" d="M1766,1115l12,-8 5,14 -12,1zM2370,1302l13,17 4,6 -13,-10z"/>
<path color="#579387" d="M1778,1107l12,1 5,16 -12,-3zM2357,1295l13,7 4,13 -14,-5z"/>
<path color="#549387" d="M1790,1108l13,4 5,16 -13,-4zM1803,1112l541,178 3,16 -539,-178zM2344,1290l13,5 3,15 -13,-4z"/>
<path color="#51849f" d="M2649,1361l76,17 3,8 -75,-20z"/>
<path color="#487ea2" d="M2725,1378l77,17 3,10 -77,-19z"/>
<path color="#4575a2" d="M2802,1395l39,9 2,11 -38,-10z"/>
<path color="#4272a2" d="M2841,1404l38,11 2,12 -38,-12z"/>
<path color="#42729f" d="M2879,1415l39,13 2,12 -39,-13zM2918,1428l39,14 2,11 -39,-13z"/>
<path color="#4275a2" d="M2957,1442l39,13 1,11 -38,-13z"/>
<path color="#335a9c" d="M1225,859l59,22 8,12 -59,-21z"/>
<path color="#36609c" d="M1284,881l59,25 8,11 -59,-24z"/>
<path color="#3c699f" d="M1343,906l60,28 8,9 -60,-26zM2798,1387l39,8 4,9 -39,-9z"/>
<path color="#4275a2" d="M1403,934l61,29 7,6 -60,-26z"/>
<path color="#4b7ea5" d="M1464,963l60,27 7,5 -60,-26z"/>
<path color="#5184a2" d="M1524,990l61,25 7,4 -61,-24z"/>
<path color="#5187a2" d="M1585,1015l13,5 6,3 -12,-4zM1598,1020l12,4 6,3 -12,-4zM2542,1329l14,5 5,2 -14,-4zM2556,1334l14,4 4,3 -13,-5z"/>
<path color="#5487a2" d="M1610,1024l12,4 7,3 -13,-4zM1622,1028l74,24 7,3 -74,-24zM1696,1052l13,4 6,4 -12,-5zM1709,1056l12,5 6,4 -12,-5zM2420,1290l13,4 5,3 -13,-3zM2433,1294l14,4 5,3 -14,-4zM2447,1298l82,27 4,3 -81,-27zM2529,1325l13,4 5,3 -14,-4z"/>
<path color="#51879f" d="M1721,1061l13,7 6,11 -13,-14zM2406,1288l14,2 5,4 -14,5z"/>
<path color="#4e8799" d="M1734,1068l12,17 7,20 -13,-26zM2392,1298l14,-10 5,11 -15,18z"/>
<path color="#579390" d="M1746,1085l13,19 7,11 -13,-10zM2378,1308l14,-10 4,19 -13,2z"/>
<path color="#609693" d="M1759,1104l12,-5 7,8 -12,8zM2365,1294l13,14 5,11 -13,-17z"/>
<path color="#5a9099" d="M1771,1099l13,-7 6,16 -12,-1zM2352,1279l13,15 5,8 -13,-7z"/>
<path color="#548a99" d="M1784,1092l12,2 7,18 -13,-4zM2339,1272l13,7 5,16 -13,-5z"/>
<path color="#518a99" d="M1796,1094l13,4 6,18 -12,-4zM1809,1098l517,170 4,18 -515,-170zM2326,1268l13,4 5,18 -14,-4z"/>
<path color="#4e84a2" d="M2570,1338l75,19 4,4 -75,-20z"/>
<path color="#487ea5" d="M2645,1357l76,15 4,6 -76,-17z"/>
<path color="#4272a2" d="M2721,1372l77,15 4,8 -77,-17z"/>
<path color="#39639f" d="M2837,1395l39,11 3,9 -38,-11z"/>
<path color="#39639c" d="M2876,1406l39,12 3,10 -39,-13zM2915,1418l39,14 3,10 -39,-14z"/>
<path color="#39669f" d="M2954,1432l39,13 3,10 -39,-13z"/>
<path color="#2d4b96" d="M1214,851l59,22 11,8 -59,-22z"/>
<path color="#2d5199" d="M1273,873l60,27 10,6 -59,-25z"/>
<path color="#305a9c" d="M1333,900l60,30 10,4 -60,-28zM2792,1384l39,7 6,4 -39,-8z"/>
<path color="#5190db" d="M1393,930l61,31 10,2 -61,-29z"/>
<path color="#5da2e1" d="M1454,961l61,29 9,0 -60,-27z"/>
<path color="#66aee4" d="M1515,990l61,26 9,-1 -61,-25z"/>
<path color="#69b4e4" d="M1576,1016l12,4 10,0 -13,-5zM1588,1020l12,5 10,-1 -12,-4zM1600,1025l13,4 9,-1 -12,-4zM1613,1029l86,28 10,-1 -87,-28zM1699,1057l13,4 9,0 -12,-5zM1712,1061l12,4 10,3 -13,-7zM2399,1287l13,4 8,-1 -14,-2zM2412,1291l14,4 7,-1 -13,-4zM2426,1295l95,32 8,-2 -96,-31zM2521,1327l14,4 7,-2 -13,-4zM2535,1331l14,4 7,-1 -14,-5zM2549,1335l13,4 8,-1 -14,-4z"/>
<path color="#6cb4e1" d="M1724,1065l13,7 9,13 -12,-17z"/>
<path color="#51879c" d="M1737,1072l12,16 10,16 -13,-19zM2371,1293l14,-8 7,13 -14,10z"/>
<path color="#5d939f" d="M1749,1088l13,12 9,-1 -12,5zM2357,1296l14,-3 7,15 -13,-14z"/>
<path color="#578a9f" d="M1762,1100l12,-12 10,4 -13,7z"/>
<path color="#4b81a2" d="M1774,1088l12,-10 10,16 -12,-2zM2332,1257l13,18 7,4 -13,-7z"/>
<path color="#4578a2" d="M1786,1078l13,0 10,20 -13,-4zM2319,1248l13,9 7,15 -13,-4z"/>
<path color="#4275a2" d="M1799,1078l13,3 9,21 -12,-4zM1812,1081l493,162 7,21 -491,-162zM2305,1243l14,5 7,20 -14,-4z"/>
<path color="#78c0de" d="M2345,1275l12,21 8,-2 -13,-15z"/>
<path color="#4e81a2" d="M2385,1285l14,2 7,1 -14,10z"/>
<path color="#63aee4" d="M2562,1339l76,18 7,0 -75,-19z"/>
<path color="#5a9fe1" d="M2638,1357l76,14 7,1 -76,-15z"/>
<path color="#39639f" d="M2714,1371l78,13 6,3 -77,-15z"/>
<path color="#2d5499" d="M2831,1391l39,10 6,5 -39,-11zM2870,1401l39,13 6,4 -39,-12zM2909,1414l39,14 6,4 -39,-14z"/>
<path color="#305499" d="M2948,1428l39,13 6,4 -39,-13z"/>
<path color="#395dcc" d="M1197,866l59,22 17,-15 -59,-22z"/>
<path color="#3c66cf" d="M1256,888l60,27 17,-15 -60,-27z"/>
<path color="#3f75d5" d="M1316,915l61,30 16,-15 -60,-30z"/>
<path color="#4b87db" d="M1377,945l61,31 16,-15 -61,-31z"/>
<path color="#5799de" d="M1438,976l61,29 16,-15 -61,-29z"/>
<path color="#60a8e4" d="M1499,1005l61,26 16,-15 -61,-26zM2549,1356l75,18 14,-17 -76,-18z"/>
<path color="#66aee4" d="M1560,1031l12,5 16,-16 -12,-4zM1572,1036l12,4 16,-15 -12,-5zM1584,1040l13,4 16,-15 -13,-4zM1597,1044l99,33 16,-16 -99,-32zM1696,1077l13,4 15,-16 -12,-4zM2385,1303l13,5 14,-17 -13,-4zM2398,1308l109,36 14,-17 -109,-36zM2507,1344l14,4 14,-17 -14,-4zM2521,1348l14,4 14,-17 -14,-4zM2535,1352l14,4 13,-17 -13,-4z"/>
<path color="#66b1e4" d="M1709,1081l12,4 16,-13 -13,-7zM2371,1299l14,4 14,-16 -14,-2z"/>
<path color="#69b4e4" d="M1721,1085l13,4 15,-1 -12,-16zM2358,1295l13,4 14,-14 -14,8z"/>
<path color="#6fbae1" d="M1734,1089l12,6 16,5 -13,-12z"/>
<path color="#72bde4" d="M1746,1095l13,13 15,-20 -12,12zM2330,1296l14,-4 13,4 -12,-21z"/>
<path color="#6cb7e4" d="M1759,1108l13,11 14,-41 -12,10zM2317,1299l13,-3 15,-21 -13,-18z"/>
<path color="#5d9fe1" d="M1772,1119l12,-24 15,-17 -13,0zM2304,1266l13,33 15,-42 -13,-9z"/>
<path color="#39639f" d="M1784,1095l12,-19 16,5 -13,-3z"/>
<path color="#305a9c" d="M1796,1076l12,-5 16,14 -12,-4zM2279,1224l13,14 13,5 -13,-5z"/>
<path color="#2d5499" d="M1808,1071l13,1 16,17 -13,-4zM1821,1072l13,4 15,18 -12,-5zM1834,1076l418,136 13,18 -416,-136zM2252,1212l13,5 14,17 -14,-4zM2265,1217l14,7 13,14 -13,-4z"/>
<path color="#4e8adb" d="M2292,1238l12,28 15,-18 -14,-5z"/>
<path color="#5184a2" d="M2344,1292l14,3 13,-2 -14,3z"/>
<path color="#5796de" d="M2624,1374l77,15 13,-18 -76,-14z"/>
<path color="#4881db" d="M2701,1389l78,12 13,-17 -78,-13z"/>
<path color="#3f72d5" d="M2779,1401l39,8 13,-18 -39,-7z"/>
<path color="#3f6cd2" d="M2818,1409l39,10 13,-18 -39,-10zM2857,1419l39,13 13,-18 -39,-13zM2896,1432l39,14 13,-18 -39,-14z"/>
<path color="#3f6fd2" d="M2935,1446l40,13 12,-18 -39,-13z"/>
<path color="#3c69d2" d="M1187,891l59,22 10,-25 -59,-22zM1798,1105l13,-20 10,-13 -13,-1zM2256,1231l12,28 11,-35 -14,-7z"/>
<path color="#3f6fd5" d="M1246,913l60,26 10,-24 -60,-27z"/>
<path color="#457ed8" d="M1306,939l61,28 10,-22 -61,-30zM2769,1426l39,8 10,-25 -39,-8z"/>
<path color="#5190de" d="M1367,967l60,29 11,-20 -61,-31z"/>
<path color="#5da2e1" d="M1427,996l61,28 11,-19 -61,-29z"/>
<path color="#66aee4" d="M1488,1024l62,25 10,-18 -61,-26zM2539,1376l76,19 9,-21 -75,-18z"/>
<path color="#69b4e4" d="M1550,1049l12,5 10,-18 -12,-5zM1562,1054l12,4 10,-18 -12,-4zM1574,1058l13,4 10,-18 -13,-4zM1587,1062l124,41 10,-18 -124,-41zM1711,1103l12,4 11,-18 -13,-4zM2348,1314l14,4 9,-19 -13,-4zM2362,1318l136,45 9,-19 -136,-45zM2498,1363l14,5 9,-20 -14,-4zM2512,1368l13,4 10,-20 -14,-4zM2525,1372l14,4 10,-20 -14,-4z"/>
<path color="#6cb4e4" d="M1723,1107l13,4 10,-16 -12,-6zM2335,1309l13,5 10,-19 -14,-3z"/>
<path color="#6fb7e4" d="M1736,1111l13,5 10,-8 -13,-13zM2321,1305l14,4 9,-17 -14,4z"/>
<path color="#75bde1" d="M1749,1116l12,7 11,-4 -13,-11zM2307,1303l14,2 9,-9 -13,3z"/>
<path color="#6fb7e1" d="M1761,1123l13,14 10,-42 -12,24zM2294,1309l13,-6 10,-4 -13,-33z"/>
<path color="#5190db" d="M1774,1137l13,1 9,-62 -12,19zM2280,1301l14,8 10,-43 -12,-28z"/>
<path color="#4272d5" d="M1787,1138l11,-33 10,-34 -12,5zM2268,1259l12,42 12,-63 -13,-14z"/>
<path color="#3c5dcc" d="M1811,1085l12,-4 11,-5 -13,-4zM2242,1218l14,13 9,-14 -13,-5z"/>
<path color="#395acc" d="M1823,1081l13,1 10,-2 -12,-4zM2229,1210l13,8 10,-6 -13,-4z"/>
<path color="#3957cc" d="M1836,1082l13,3 10,-1 -13,-4zM1849,1085l13,4 10,-1 -13,-4zM1862,1089l340,112 10,-2 -340,-111zM2202,1201l14,4 9,-1 -13,-5zM2216,1205l13,5 10,-2 -14,-4z"/>
<path color="#5a9fe1" d="M2615,1395l76,16 10,-22 -77,-15z"/>
<path color="#4e8adb" d="M2691,1411l78,15 10,-25 -78,-12z"/>
<path color="#3f75d5" d="M2808,1434l39,11 10,-26 -39,-10zM2847,1445l39,13 10,-26 -39,-13zM2886,1458l39,14 10,-26 -39,-14z"/>
<path color="#4278d8" d="M2925,1472l40,14 10,-27 -40,-13z"/>
<path color="#4881d8" d="M1180,916l59,21 7,-24 -59,-22z"/>
<path color="#4b87db" d="M1239,937l60,25 7,-23 -60,-26z"/>
<path color="#5493de" d="M1299,962l60,27 8,-22 -61,-28zM2761,1450l39,9 8,-25 -39,-8z"/>
<path color="#5da2e1" d="M1359,989l61,27 7,-20 -60,-29z"/>
<path color="#69b1e4" d="M1420,1016l61,26 7,-18 -61,-28z"/>
<path color="#6fbae4" d="M1481,1042l61,24 8,-17 -62,-25zM2531,1394l76,21 8,-20 -76,-19z"/>
<path color="#72bde1" d="M1542,1066l12,4 8,-16 -12,-5zM2518,1390l13,4 8,-18 -14,-4z"/>
<path color="#75bde1" d="M1554,1070l12,5 8,-17 -12,-4zM1566,1075l13,4 8,-17 -13,-4zM1579,1079l149,49 8,-17 -149,-49zM1728,1128l13,4 8,-16 -13,-5zM1741,1132l12,5 8,-14 -12,-7zM2300,1318l13,4 8,-17 -14,-2zM2313,1322l14,5 8,-18 -14,-4zM2327,1327l163,54 8,-18 -163,-54zM2490,1381l14,4 8,-17 -14,-5zM2504,1385l14,5 7,-18 -13,-4z"/>
<path color="#7bc3e1" d="M1753,1137l13,5 8,-5 -13,-14zM2286,1315l14,3 7,-15 -13,6z"/>
<path color="#81c6e1" d="M1766,1142l13,9 8,-13 -13,-1zM2273,1315l13,0 8,-6 -14,-8z"/>
<path color="#60a8db" d="M1779,1151l13,14 6,-60 -11,33zM2259,1320l14,-5 7,-14 -12,-42z"/>
<path color="#3c6fcf" d="M1792,1165l12,-18 7,-62 -13,20zM2247,1294l12,26 9,-61 -12,-28z"/>
<path color="#3960cf" d="M1804,1147l12,-35 7,-31 -12,4zM2234,1249l13,45 9,-63 -14,-13z"/>
<path color="#395dcc" d="M1816,1112l12,-13 8,-17 -13,-1zM2221,1228l13,21 8,-31 -13,-8z"/>
<path color="#3954c9" d="M1828,1099l13,-3 8,-11 -13,-3zM2208,1216l13,12 8,-18 -13,-5z"/>
<path color="#3651c9" d="M1841,1096l13,2 8,-9 -13,-4zM1854,1098l12,3 8,-7 -12,-5zM1866,1101l13,4 8,-7 -13,-4zM1879,1105l289,95 8,-8 -289,-94zM2168,1200l13,4 8,-8 -13,-4zM2181,1204l14,5 7,-8 -13,-5zM2195,1209l13,7 8,-11 -14,-4z"/>
<path color="#66b1e4" d="M2607,1415l77,18 7,-22 -76,-16z"/>
<path color="#5d9fe1" d="M2684,1433l77,17 8,-24 -78,-15z"/>
<path color="#518ddb" d="M2800,1459l39,11 8,-25 -39,-11zM2878,1483l39,14 8,-25 -39,-14z"/>
<path color="#4e8ddb" d="M2839,1470l39,13 8,-25 -39,-13z"/>
<path color="#5190db" d="M2917,1497l39,13 9,-24 -40,-14z"/>
<path color="#5a9cde" d="M1174,941l59,20 6,-24 -59,-21z"/>
<path color="#5da2e1" d="M1233,961l59,24 7,-23 -60,-25z"/>
<path color="#63aee4" d="M1292,985l60,24 7,-20 -60,-27z"/>
<path color="#6cb4e1" d="M1352,1009l61,26 7,-19 -61,-27z"/>
<path color="#75bde1" d="M1413,1035l61,24 7,-17 -61,-26zM2600,1433l76,20 8,-20 -77,-18z"/>
<path color="#7bc3de" d="M1474,1059l61,23 7,-16 -61,-24zM2524,1411l76,22 7,-18 -76,-21z"/>
<path color="#7ec6de" d="M1535,1082l12,4 7,-16 -12,-4zM1547,1086l12,5 7,-16 -12,-5zM1559,1091l175,58 7,-17 -175,-57zM1734,1149l12,4 7,-16 -12,-5zM2293,1335l13,4 7,-17 -13,-4zM2306,1339l191,64 7,-18 -191,-63zM2497,1403l14,4 7,-17 -14,-5zM2511,1407l13,4 7,-17 -13,-4z"/>
<path color="#81c6de" d="M1746,1153l13,4 7,-15 -13,-5zM2279,1330l14,5 7,-17 -14,-3z"/>
<path color="#84c9de" d="M1759,1157l12,5 8,-11 -13,-9zM2266,1326l13,4 7,-15 -13,0z"/>
<path color="#8acfdb" d="M1771,1162l13,6 8,-3 -13,-14zM2253,1324l13,2 7,-11 -14,5z"/>
<path color="#84ccdb" d="M1784,1168l13,11 7,-32 -12,18zM2239,1326l14,-2 6,-4 -12,-26z"/>
<path color="#488dcf" d="M1797,1179l13,6 6,-73 -12,35zM2226,1324l13,2 8,-32 -13,-45z"/>
<path color="#3360cc" d="M1810,1185l12,-26 6,-60 -12,13zM2213,1289l13,35 8,-75 -13,-21z"/>
<path color="#365dcf" d="M1822,1159l12,-32 7,-31 -13,3zM2201,1248l12,41 8,-61 -13,-12z"/>
<path color="#395dcc" d="M1834,1127l12,-10 8,-19 -13,-2zM2188,1230l13,18 7,-32 -13,-7z"/>
<path color="#3957cc" d="M1846,1117l13,-1 7,-15 -12,-3zM2174,1219l14,11 7,-21 -14,-5z"/>
<path color="#3954c9" d="M1859,1116l13,1 7,-12 -13,-4zM1872,1117l13,4 7,-12 -13,-4zM2148,1207l13,5 7,-12 -13,-5zM2161,1212l13,7 7,-15 -13,-4z"/>
<path color="#3951c9" d="M1885,1121l13,4 7,-11 -13,-5zM2134,1202l14,5 7,-12 -14,-4z"/>
<path color="#3651c9" d="M1898,1125l13,4 7,-11 -13,-4zM1911,1129l210,69 7,-11 -210,-69zM2121,1198l13,4 7,-11 -13,-4z"/>
<path color="#69b4e1" d="M2676,1453l77,20 8,-23 -77,-17z"/>
<path color="#63abe4" d="M2753,1473l39,10 8,-24 -39,-9z"/>
<path color="#60a8e1" d="M2792,1483l39,12 8,-25 -39,-11zM2870,1508l39,14 8,-25 -39,-14zM2909,1522l39,13 8,-25 -39,-13z"/>
<path color="#60a5e1" d="M2831,1495l39,13 8,-25 -39,-13z"/>
<path color="#6cb4de" d="M1167,965l59,20 7,-24 -59,-20z"/>
<path color="#6fbade" d="M1226,985l60,22 6,-22 -59,-24z"/>
<path color="#75bdde" d="M1286,1007l60,23 6,-21 -60,-24zM2746,1496l39,11 7,-24 -39,-10zM2901,1546l40,13 7,-24 -39,-13z"/>
<path color="#7ec6de" d="M1346,1030l60,23 7,-18 -61,-26z"/>
<path color="#84ccdb" d="M1406,1053l61,23 7,-17 -61,-24z"/>
<path color="#87cfdb" d="M1467,1076l61,22 7,-16 -61,-23zM2517,1429l76,23 7,-19 -76,-22z"/>
<path color="#8acfdb" d="M1528,1098l12,5 7,-17 -12,-4zM1540,1103l12,4 7,-16 -12,-5zM1552,1107l200,66 7,-16 -200,-66zM1752,1173l12,5 7,-16 -12,-5zM2259,1343l13,4 7,-17 -13,-4zM2272,1347l218,73 7,-17 -218,-73zM2490,1420l14,4 7,-17 -14,-4zM2504,1424l13,5 7,-18 -13,-4z"/>
<path color="#8ad2db" d="M1764,1178l13,4 7,-14 -13,-6zM2246,1338l13,5 7,-17 -13,-2z"/>
<path color="#8dd2d8" d="M1777,1182l13,5 7,-8 -13,-11zM2232,1335l14,3 7,-14 -14,2z"/>
<path color="#90d5d5" d="M1790,1187l12,7 8,-9 -13,-6zM2219,1333l13,2 7,-9 -13,-2z"/>
<path color="#7bc6d5" d="M1802,1194l13,10 7,-45 -12,26zM2205,1335l14,-2 7,-9 -13,-35z"/>
<path color="#3c87c9" d="M1815,1204l13,3 6,-80 -12,32zM2192,1329l13,6 8,-46 -12,-41z"/>
<path color="#3060c9" d="M1828,1207l12,-23 6,-67 -12,10zM2179,1297l13,32 9,-81 -13,-18z"/>
<path color="#3660cc" d="M1840,1184l12,-29 7,-39 -13,1zM2167,1259l12,38 9,-67 -14,-11z"/>
<path color="#3960cf" d="M1852,1155l13,-13 7,-25 -13,-1zM2154,1237l13,22 7,-40 -13,-7z"/>
<path color="#395dcc" d="M1865,1142l13,-1 7,-20 -13,-4zM1878,1141l13,1 7,-17 -13,-4zM2127,1219l13,8 8,-20 -14,-5zM2140,1227l14,10 7,-25 -13,-5z"/>
<path color="#395acc" d="M1891,1142l13,2 7,-15 -13,-4zM1904,1144l13,4 7,-15 -13,-4zM1917,1148l13,4 7,-15 -13,-4zM1930,1152l13,4 7,-15 -13,-4zM1943,1156l13,4 7,-14 -13,-5zM1956,1160l105,35 7,-15 -105,-34zM2061,1195l13,4 7,-14 -13,-5zM2074,1199l13,4 7,-14 -13,-4zM2087,1203l14,5 7,-15 -14,-4zM2101,1208l13,5 7,-15 -13,-5zM2114,1213l13,6 7,-17 -13,-4z"/>
<path color="#81c9db" d="M2593,1452l76,22 7,-21 -76,-20z"/>
<path color="#7bc3de" d="M2669,1474l77,22 7,-23 -77,-20z"/>
<path color="#72bdde" d="M2785,1507l38,13 8,-25 -39,-12z"/>
<path color="#72bade" d="M2823,1520l39,13 8,-25 -39,-13zM2862,1533l39,13 8,-24 -39,-14z"/>
<path color="#81ccd8" d="M1161,990l58,20 7,-25 -59,-20z"/>
<path color="#84ccd8" d="M1219,1010l60,20 7,-23 -60,-22zM2815,1545l39,13 8,-25 -39,-13z"/>
<path color="#87cfd8" d="M1279,1030l59,21 8,-21 -60,-23zM2738,1520l39,12 8,-25 -39,-11zM2777,1532l38,13 8,-25 -38,-13zM2854,1558l39,13 8,-25 -39,-13zM2893,1571l39,13 9,-25 -40,-13z"/>
<path color="#8ad2d5" d="M1338,1051l61,22 7,-20 -60,-23z"/>
<path color="#8dd2d5" d="M1399,1073l60,21 8,-18 -61,-23zM2585,1471l76,24 8,-21 -76,-22z"/>
<path color="#90d5d5" d="M1459,1094l61,21 8,-17 -61,-22zM1520,1115l12,4 8,-16 -12,-5zM1532,1119l13,4 7,-16 -12,-4zM1545,1123l212,71 7,-16 -212,-71zM1757,1194l13,5 7,-17 -13,-4zM1770,1199l12,4 8,-16 -13,-5zM2225,1351l13,5 8,-18 -14,-3zM2238,1356l13,4 8,-17 -13,-5zM2251,1360l231,77 8,-17 -231,-77zM2482,1437l14,5 8,-18 -14,-4zM2496,1442l14,5 7,-18 -13,-5zM2510,1447l75,24 8,-19 -76,-23z"/>
<path color="#93d5d2" d="M1782,1203l13,4 7,-13 -12,-7zM2211,1347l14,4 7,-16 -13,-2z"/>
<path color="#96d8d2" d="M1795,1207l13,5 7,-8 -13,-10zM2198,1343l13,4 8,-14 -14,2z"/>
<path color="#96d8cf" d="M1808,1212l12,6 8,-11 -13,-3zM2185,1340l13,3 7,-8 -13,-6z"/>
<path color="#81cccf" d="M1820,1218l13,9 7,-43 -12,23zM2171,1340l14,0 7,-11 -13,-32z"/>
<path color="#489cc9" d="M1833,1227l13,9 6,-81 -12,29zM2158,1340l13,0 8,-43 -12,-38z"/>
<path color="#3072c6" d="M1846,1236l13,-10 6,-84 -13,13zM2145,1322l13,18 9,-81 -13,-22z"/>
<path color="#3363cc" d="M1859,1226l12,-21 7,-64 -13,1zM2132,1292l13,30 9,-85 -14,-10z"/>
<path color="#3c69cf" d="M1871,1205l13,-20 7,-43 -13,-1zM2119,1263l13,29 8,-65 -13,-8z"/>
<path color="#3c69d2" d="M1884,1185l12,-11 8,-30 -13,-2zM1896,1174l13,0 8,-26 -13,-4zM1909,1174l13,1 8,-23 -13,-4zM2080,1227l13,7 8,-26 -14,-5zM2093,1234l13,9 8,-30 -13,-5zM2106,1243l13,20 8,-44 -13,-6z"/>
<path color="#3c66d2" d="M1922,1175l13,2 8,-21 -13,-4zM2067,1221l13,6 7,-24 -13,-4z"/>
<path color="#3c66cf" d="M1935,1177l13,3 8,-20 -13,-4zM1948,1180l13,4 8,-20 -13,-4zM1961,1184l13,4 8,-19 -13,-5zM1974,1188l14,4 7,-19 -13,-4zM1988,1192l13,4 7,-19 -13,-4zM2001,1196l13,5 7,-20 -13,-4zM2014,1201l13,4 8,-19 -14,-5zM2027,1205l13,5 8,-20 -13,-4zM2040,1210l13,5 8,-20 -13,-5zM2053,1215l14,6 7,-22 -13,-4z"/>
<path color="#8acfd5" d="M2661,1495l77,25 8,-24 -77,-22z"/>
<path color="#90d5cc" d="M1153,1015l58,19 8,-24 -58,-20z"/>
<path color="#90d8cc" d="M1211,1034l59,20 9,-24 -60,-20z"/>
<path color="#93d8cc" d="M1270,1054l60,19 8,-22 -59,-21zM1330,1073l60,19 9,-19 -61,-22zM2653,1517l76,27 9,-24 -77,-25zM2729,1544l39,13 9,-25 -39,-12zM2768,1557l38,13 9,-25 -38,-13zM2806,1570l39,13 9,-25 -39,-13zM2845,1583l39,13 9,-25 -39,-13zM2884,1596l40,14 8,-26 -39,-13z"/>
<path color="#96d8cc" d="M1390,1092l60,20 9,-18 -60,-21zM1450,1112l61,20 9,-17 -61,-21zM1511,1132l13,4 8,-17 -12,-4zM2488,1460l14,5 8,-18 -14,-5zM2502,1465l75,26 8,-20 -75,-24zM2577,1491l76,26 8,-22 -76,-24z"/>
<path color="#96dbcc" d="M1524,1136l250,84 8,-17 -250,-84zM1774,1220l12,5 9,-18 -13,-4zM1786,1225l13,4 9,-17 -13,-5zM2190,1360l13,5 8,-18 -13,-4zM2203,1365l13,4 9,-18 -14,-4zM2216,1369l272,91 8,-18 -271,-91z"/>
<path color="#99dbcc" d="M1799,1229l13,4 8,-15 -12,-6zM1812,1233l12,5 9,-11 -13,-9zM2163,1351l13,5 9,-16 -14,0zM2176,1356l14,4 8,-17 -13,-3z"/>
<path color="#99dbc9" d="M1824,1238l13,5 9,-7 -13,-9zM2150,1348l13,3 8,-11 -13,0z"/>
<path color="#96dbc9" d="M1837,1243l13,6 9,-23 -13,10zM2136,1345l14,3 8,-8 -13,-18z"/>
<path color="#7ecccc" d="M1850,1249l13,7 8,-51 -12,21zM2123,1344l13,1 9,-23 -13,-30z"/>
<path color="#51abc9" d="M1863,1256l13,8 8,-79 -13,20zM2110,1343l13,1 9,-52 -13,-29z"/>
<path color="#368ac6" d="M1876,1264l13,5 7,-95 -12,11zM2097,1339l13,4 9,-80 -13,-20z"/>
<path color="#307bc6" d="M1889,1269l12,-4 8,-91 -13,0zM2084,1326l13,13 9,-96 -13,-9z"/>
<path color="#3672c9" d="M1901,1265l13,-9 8,-81 -13,-1zM2071,1309l13,17 9,-92 -13,-7z"/>
<path color="#3c72cf" d="M1914,1256l13,-9 8,-70 -13,-2zM2058,1291l13,18 9,-82 -13,-6z"/>
<path color="#4275d2" d="M1927,1247l13,-7 8,-60 -13,-3zM2044,1275l14,16 9,-70 -14,-6z"/>
<path color="#457bd5" d="M1940,1240l13,-4 8,-52 -13,-4zM1953,1236l13,-1 8,-47 -13,-4zM1966,1235l13,1 9,-44 -14,-4zM1979,1236l13,3 9,-43 -13,-4zM1992,1239l13,6 9,-44 -13,-5zM2005,1245l13,7 9,-47 -13,-4zM2018,1252l13,10 9,-52 -13,-5zM2031,1262l13,13 9,-60 -13,-5z"/>
<path color="#96d8bd" d="M1142,1040l59,19 10,-25 -58,-19zM1201,1059l59,19 10,-24 -59,-20z"/>
<path color="#96d8c0" d="M1260,1078l59,17 11,-22 -60,-19zM2719,1569l38,14 11,-26 -39,-13zM2757,1583l39,14 10,-27 -38,-13zM2796,1597l39,13 10,-27 -39,-13zM2835,1610l39,13 10,-27 -39,-13zM2874,1623l39,13 11,-26 -40,-14z"/>
<path color="#96dbc3" d="M1319,1095l60,18 11,-21 -60,-19z"/>
<path color="#99dbc3" d="M1379,1113l60,19 11,-20 -60,-20zM1839,1265l13,5 11,-14 -13,-7zM1852,1270l13,4 11,-10 -13,-8zM1878,1279l13,4 10,-18 -12,4zM2073,1345l13,4 11,-10 -13,-13zM2099,1353l14,5 10,-14 -13,-1zM2113,1358l13,4 10,-17 -13,-1zM2566,1512l76,29 11,-24 -76,-26z"/>
<path color="#99dbc6" d="M1439,1132l61,19 11,-19 -61,-20zM1500,1151l13,4 11,-19 -13,-4zM1513,1155l12,4 11,-19 -12,-4zM1525,1159l276,93 11,-19 -276,-93zM1801,1252l13,5 10,-19 -12,-5zM1814,1257l12,4 11,-18 -13,-5zM1826,1261l13,4 11,-16 -13,-6zM2126,1362l13,4 11,-18 -14,-3zM2139,1366l13,5 11,-20 -13,-3zM2152,1371l14,4 10,-19 -13,-5zM2166,1375l298,101 10,-20 -298,-100zM2464,1476l13,5 11,-21 -14,-4zM2477,1481l14,5 11,-21 -14,-5zM2491,1486l75,26 11,-21 -75,-26z"/>
<path color="#99dbc0" d="M1865,1274l13,5 11,-10 -13,-5zM2086,1349l13,4 11,-10 -13,-4z"/>
<path color="#96d8c6" d="M1891,1283l12,5 11,-32 -13,9zM2060,1341l13,4 11,-19 -13,-17z"/>
<path color="#8ad5c9" d="M1903,1288l13,6 11,-47 -13,9zM2047,1338l13,3 11,-32 -13,-18z"/>
<path color="#7bc9cc" d="M1916,1294l13,5 11,-59 -13,7zM2033,1334l14,4 11,-47 -14,-16z"/>
<path color="#6cc0cc" d="M1929,1299l13,6 11,-69 -13,4zM2020,1331l13,3 11,-59 -13,-13z"/>
<path color="#60b7cc" d="M1942,1305l13,5 11,-75 -13,1zM2007,1328l13,3 11,-69 -13,-10z"/>
<path color="#5ab1c9" d="M1955,1310l13,5 11,-79 -13,-1zM1994,1324l13,4 11,-76 -13,-7z"/>
<path color="#57aec9" d="M1968,1315l13,5 11,-81 -13,-3zM1981,1320l13,4 11,-79 -13,-6z"/>
<path color="#96dbc0" d="M2642,1541l77,28 10,-25 -76,-27z"/>
<path color="#96dbb1" d="M1126,1063l59,20 16,-24 -59,-19z"/>
<path color="#96dbb4" d="M1185,1083l59,17 16,-22 -59,-19z"/>
<path color="#99dbb7" d="M1244,1100l59,17 16,-22 -59,-17zM2705,1594l38,15 14,-26 -38,-14z"/>
<path color="#99dbba" d="M1303,1117l60,17 16,-21 -60,-18zM2628,1565l77,29 14,-25 -77,-28z"/>
<path color="#99dbbd" d="M1363,1134l60,18 16,-20 -60,-19zM1423,1152l61,19 16,-20 -61,-19zM1901,1312l13,4 15,-17 -13,-5zM1914,1316l13,5 15,-16 -13,-6zM1927,1321l13,4 15,-15 -13,-5zM1940,1325l13,5 15,-15 -13,-5zM1953,1330l13,4 15,-14 -13,-5zM1966,1334l13,5 15,-15 -13,-4zM1979,1339l13,4 15,-15 -13,-4zM1992,1343l13,4 15,-16 -13,-3zM2005,1347l14,5 14,-18 -13,-3zM2019,1352l13,4 15,-18 -14,-4zM2477,1508l75,27 14,-23 -75,-26zM2552,1535l76,30 14,-24 -76,-29z"/>
<path color="#99dbc0" d="M1484,1171l13,4 16,-20 -13,-4zM1497,1175l12,4 16,-20 -12,-4zM1509,1179l328,111 15,-20 -327,-111zM1837,1290l13,5 15,-21 -13,-4zM1850,1295l12,4 16,-20 -13,-5zM1862,1299l13,4 16,-20 -13,-4zM1875,1303l13,5 15,-20 -12,-5zM1888,1308l13,4 15,-18 -13,-6zM2032,1356l13,5 15,-20 -13,-3zM2045,1361l13,4 15,-20 -13,-4zM2058,1365l13,5 15,-21 -13,-4zM2071,1370l13,4 15,-21 -13,-4zM2084,1374l14,5 15,-21 -14,-5zM2098,1379l351,119 15,-22 -351,-118zM2449,1498l14,5 14,-22 -13,-5zM2463,1503l14,5 14,-22 -14,-5z"/>
<path color="#99dbb4" d="M2743,1609l39,14 14,-26 -39,-14zM2782,1623l39,13 14,-26 -39,-13zM2821,1636l39,13 14,-26 -39,-13zM2860,1649l39,13 14,-26 -39,-13z"/>
<path color="#96dbb1" d="M1107,1077l59,19 19,-13 -59,-20z"/>
<path color="#99dbb1" d="M1166,1096l59,18 19,-14 -59,-17z"/>
<path color="#99dbb4" d="M1225,1114l60,18 18,-15 -59,-17zM2690,1612l39,14 14,-17 -38,-15zM2729,1626l39,14 14,-17 -39,-14zM2768,1640l39,13 14,-17 -39,-13zM2807,1653l39,14 14,-18 -39,-13zM2846,1667l39,13 14,-18 -39,-13z"/>
<path color="#99dbb7" d="M1285,1132l60,17 18,-15 -60,-17zM2613,1582l77,30 15,-18 -77,-29z"/>
<path color="#99dbba" d="M1345,1149l60,18 18,-15 -60,-18zM2537,1553l76,29 15,-17 -76,-30z"/>
<path color="#99dbbd" d="M1405,1167l61,19 18,-15 -61,-19zM1466,1186l13,5 18,-16 -13,-4zM1479,1191l12,4 18,-16 -12,-4zM1491,1195l943,321 15,-18 -940,-319zM2434,1516l14,4 15,-17 -14,-5zM2448,1520l14,5 15,-17 -14,-5zM2462,1525l75,28 15,-18 -75,-27z"/>
<path color="#96dbb7" d="M1089,1082l59,20 18,-6 -59,-19z"/>
<path color="#99dbb7" d="M1148,1102l59,19 18,-7 -59,-18zM2755,1650l40,13 12,-10 -39,-13z"/>
<path color="#99dbba" d="M1207,1121l60,18 18,-7 -60,-18zM2678,1622l38,14 13,-10 -39,-14zM2716,1636l39,14 13,-10 -39,-14zM2795,1663l39,14 12,-10 -39,-14zM2834,1677l40,13 11,-10 -39,-13z"/>
<path color="#99dbbd" d="M1267,1139l61,19 17,-9 -60,-17zM2524,1565l76,28 13,-11 -76,-29zM2600,1593l78,29 12,-10 -77,-30z"/>
<path color="#99dbc0" d="M1328,1158l60,19 17,-10 -60,-18zM1388,1177l62,20 16,-11 -61,-19zM1450,1197l12,4 17,-10 -13,-5zM2434,1533l14,5 14,-13 -14,-5zM2448,1538l76,27 13,-12 -75,-28z"/>
<path color="#99dbc3" d="M1462,1201l13,5 16,-11 -12,-4zM1475,1206l945,323 14,-13 -943,-321zM2420,1529l14,4 14,-13 -14,-4z"/>
<path color="#99dbc0" d="M1071,1087l59,20 18,-5 -59,-20zM1130,1107l60,20 17,-6 -59,-19z"/>
<path color="#99dbc3" d="M1190,1127l60,20 17,-8 -60,-18zM1250,1147l61,20 17,-9 -61,-19zM2588,1604l77,28 13,-10 -78,-29zM2665,1632l39,13 12,-9 -38,-14zM2704,1645l39,14 12,-9 -39,-14zM2743,1659l40,13 12,-9 -40,-13zM2783,1672l39,14 12,-9 -39,-14zM2822,1686l40,13 12,-9 -40,-13z"/>
<path color="#99dbc6" d="M1311,1167l61,20 16,-10 -60,-19zM1372,1187l61,21 17,-11 -62,-20zM1433,1208l13,4 16,-11 -12,-4zM1446,1212l12,4 17,-10 -13,-5zM1458,1216l949,325 13,-12 -945,-323zM2407,1541l14,5 13,-13 -14,-4zM2421,1546l14,4 13,-12 -14,-5zM2435,1550l76,27 13,-12 -76,-27zM2511,1577l77,27 12,-11 -76,-28z"/>
<path color="#99dbc9" d="M1052,1095l60,20 18,-8 -59,-20zM1112,1115l60,21 18,-9 -60,-20zM1172,1136l60,21 18,-10 -60,-20zM2651,1644l40,13 13,-12 -39,-13zM2691,1657l39,14 13,-12 -39,-14zM2730,1671l40,14 13,-13 -40,-13zM2770,1685l39,13 13,-12 -39,-14zM2809,1698l40,14 13,-13 -40,-13z"/>
<path color="#99dbcc" d="M1232,1157l61,21 18,-11 -61,-20zM1293,1178l61,21 18,-12 -61,-20zM1354,1199l62,21 17,-12 -61,-21zM1416,1220l1004,345 15,-15 -1002,-342zM2420,1565l77,26 14,-14 -76,-27zM2497,1591l77,26 14,-13 -77,-27zM2574,1617l77,27 14,-12 -77,-28z"/>
<path color="#99d8cf" d="M1033,1107l59,21 20,-13 -60,-20z"/>
<path color="#99dbcf" d="M1092,1128l60,21 20,-13 -60,-21zM1152,1149l61,22 19,-14 -60,-21zM1213,1171l61,21 19,-14 -61,-21zM1274,1192l61,22 19,-15 -61,-21zM1335,1214l62,22 19,-16 -62,-21zM1397,1236l1007,347 16,-18 -1004,-345zM2404,1583l77,26 16,-18 -77,-26zM2481,1609l77,26 16,-18 -77,-26zM2558,1635l79,26 14,-17 -77,-27zM2637,1661l39,14 15,-18 -40,-13zM2676,1675l39,13 15,-17 -39,-14zM2715,1688l40,14 15,-17 -40,-14zM2755,1702l40,13 14,-17 -39,-13zM2795,1715l40,14 14,-17 -40,-14z"/>
<path color="#96d8d2" d="M1013,1124l59,21 20,-17 -59,-21zM1072,1145l61,22 19,-18 -60,-21zM1133,1167l60,21 20,-17 -61,-22zM2621,1682l39,14 16,-21 -39,-14zM2660,1696l40,13 15,-21 -39,-13zM2700,1709l40,14 15,-21 -40,-14zM2740,1723l40,14 15,-22 -40,-13zM2780,1737l40,14 15,-22 -40,-14z"/>
<path color="#96d8cf" d="M1193,1188l61,22 20,-18 -61,-21zM2465,1630l77,26 16,-21 -77,-26zM2542,1656l79,26 16,-21 -79,-26z"/>
<path color="#99d8cf" d="M1254,1210l62,22 19,-18 -61,-22z"/>
<path color="#99dbcf" d="M1316,1232l62,22 19,-18 -62,-22zM1378,1254l1010,350 16,-21 -1007,-347zM2388,1604l77,26 16,-21 -77,-26z"/>
<path color="#96d8d2" d="M993,1144l60,21 19,-20 -59,-21z"/>
<path color="#96d8cf" d="M1053,1165l60,21 20,-19 -61,-22zM1113,1186l61,22 19,-20 -60,-21zM1174,1208l61,22 19,-20 -61,-22zM2526,1679l79,27 16,-24 -79,-26zM2605,1706l39,13 16,-23 -39,-14zM2644,1719l40,14 16,-24 -40,-13zM2684,1733l40,14 16,-24 -40,-14zM2724,1747l40,14 16,-24 -40,-14zM2764,1761l40,14 16,-24 -40,-14z"/>
<path color="#99dbcf" d="M1235,1230l62,21 19,-19 -62,-22zM1297,1251l62,22 19,-19 -62,-22zM1359,1273l1012,353 17,-22 -1010,-350zM2371,1626l77,26 17,-22 -77,-26zM2448,1652l78,27 16,-23 -77,-26z"/>
<path color="#99dbcf" d="M973,1164l60,21 20,-20 -60,-21zM1033,1185l60,21 20,-20 -60,-21zM1093,1206l61,22 20,-20 -61,-22zM1154,1228l62,21 19,-19 -61,-22zM1216,1249l61,22 20,-20 -62,-21zM1277,1271l63,22 19,-20 -62,-22zM1340,1293l1015,355 16,-22 -1012,-353zM2355,1648l77,27 16,-23 -77,-26zM2432,1675l78,27 16,-23 -78,-27zM2510,1702l79,27 16,-23 -79,-27zM2589,1729l39,14 16,-24 -39,-13zM2628,1743l40,14 16,-24 -40,-14zM2668,1757l40,14 16,-24 -40,-14zM2708,1771l40,14 16,-24 -40,-14zM2748,1785l41,14 15,-24 -40,-14z"/>
<path color="#99dbcf" d="M953,1183l60,22 20,-20 -60,-21zM1013,1205l60,21 20,-20 -60,-21zM1073,1226l61,21 20,-19 -61,-22zM2573,1752l39,14 16,-23 -39,-14zM2612,1766l161,57 16,-24 -161,-56z"/>
<path color="#99dbcc" d="M1134,1247l62,22 20,-20 -62,-21zM1196,1269l62,22 19,-20 -61,-22zM1258,1291l62,22 20,-20 -63,-22zM1320,1313l1018,357 17,-22 -1015,-355zM2338,1670l77,27 17,-22 -77,-27zM2415,1697l79,28 16,-23 -78,-27zM2494,1725l79,27 16,-23 -79,-27z"/>
<path color="#99dbcc" d="M932,1202l60,21 21,-18 -60,-22zM992,1223l61,22 20,-19 -60,-21zM1053,1245l61,21 20,-19 -61,-21zM1114,1266l62,22 20,-19 -62,-22zM1176,1288l62,22 20,-19 -62,-22zM1238,1310l1083,382 17,-22 -1080,-379zM2321,1692l78,27 16,-22 -77,-27zM2399,1719l78,28 17,-22 -79,-28zM2477,1747l79,28 17,-23 -79,-27zM2556,1775l201,71 16,-23 -200,-71zM911,1221l61,21 20,-19 -60,-21zM972,1242l61,21 20,-18 -61,-22zM1033,1263l61,22 20,-19 -61,-21zM1094,1285l62,22 20,-19 -62,-22zM1156,1307l62,22 20,-19 -62,-22zM1218,1329l1086,385 17,-22 -1083,-382zM2304,1714l78,27 17,-22 -78,-27zM2382,1741l78,28 17,-22 -78,-28zM2460,1769l80,29 16,-23 -79,-28zM2540,1798l202,71 15,-23 -201,-71zM890,1239l61,21 21,-18 -61,-21zM951,1260l61,22 21,-19 -61,-21zM1012,1282l61,22 21,-19 -61,-22zM1073,1304l62,22 21,-19 -62,-22zM1135,1326l63,22 20,-19 -62,-22zM1198,1348l1088,387 18,-21 -1086,-385zM2286,1735l79,28 17,-22 -78,-27zM2365,1763l79,29 16,-23 -78,-28zM2444,1792l79,28 17,-22 -80,-29zM2523,1820l203,72 16,-23 -202,-71zM869,1257l122,43 21,-18 -122,-43zM991,1300l62,22 20,-18 -61,-22zM1053,1322l62,23 20,-19 -62,-22zM1115,1345l62,22 21,-19 -63,-22zM1177,1367l1171,418 17,-22 -1167,-415zM2348,1785l79,29 17,-22 -79,-29zM2427,1814l80,28 16,-22 -79,-28zM2507,1842l203,73 16,-23 -203,-72zM848,1275l1846,663 16,-23 -1841,-658z"/>
</g>
<line x1="74.6" y1="92.2" x2="272.8" y2="159.4" stroke="#adadad" stroke-width="0.7"/>
<line x1="272.8" y1="159.4" x2="355.4" y2="45.7" stroke="#adadad" stroke-width="0.7"/>
<line x1="266.7" y1="227.7" x2="272.8" y2="159.4" stroke="#adadad" stroke-width="0.7"/>
<line x1="83.9" y1="158.4" x2="74.6" y2="92.2" stroke="#8a8484" stroke-width="0.8"/>
<line x1="83.9" y1="158.4" x2="266.7" y2="227.7" stroke="#a09a9a" stroke-width="0.8"/>
<line x1="266.7" y1="227.7" x2="345.0" y2="108.3" stroke="#a09a9a" stroke-width="0.8"/>
<line x1="88.3" y1="160.1" x2="91.8" y2="156.8" stroke="#8a4a40" stroke-width="0.7"/>
<line x1="104.5" y1="166.2" x2="106.4" y2="164.3" stroke="#8a4a40" stroke-width="0.7"/>
<line x1="120.9" y1="172.4" x2="122.9" y2="170.5" stroke="#8a4a40" stroke-width="0.7"/>
<line x1="137.7" y1="178.8" x2="139.6" y2="176.8" stroke="#8a4a40" stroke-width="0.7"/>
<line x1="154.9" y1="185.3" x2="156.7" y2="183.2" stroke="#8a4a40" stroke-width="0.7"/>
<line x1="172.4" y1="191.9" x2="175.6" y2="188.3" stroke="#8a4a40" stroke-width="0.7"/>
<line x1="190.3" y1="198.7" x2="192.1" y2="196.6" stroke="#8a4a40" stroke-width="0.7"/>
<line x1="208.6" y1="205.6" x2="210.3" y2="203.4" stroke="#8a4a40" stroke-width="0.7"/>
<line x1="227.2" y1="212.7" x2="228.9" y2="210.5" stroke="#8a4a40" stroke-width="0.7"/>
<line x1="246.3" y1="220.0" x2="247.9" y2="217.7" stroke="#8a4a40" stroke-width="0.7"/>
<line x1="265.9" y1="227.4" x2="268.6" y2="223.2" stroke="#8a4a40" stroke-width="0.7"/>
<line x1="267.3" y1="226.8" x2="262.8" y2="225.1" stroke="#8a4a40" stroke-width="0.7"/>
<line x1="276.4" y1="212.9" x2="273.8" y2="211.9" stroke="#8a4a40" stroke-width="0.7"/>
<line x1="285.1" y1="199.6" x2="282.5" y2="198.7" stroke="#8a4a40" stroke-width="0.7"/>
<line x1="293.4" y1="186.9" x2="290.9" y2="186.0" stroke="#8a4a40" stroke-width="0.7"/>
<line x1="301.4" y1="174.8" x2="298.9" y2="173.9" stroke="#8a4a40" stroke-width="0.7"/>
<line x1="309.0" y1="163.1" x2="304.9" y2="161.7" stroke="#8a4a40" stroke-width="0.7"/>
<line x1="316.3" y1="151.9" x2="313.9" y2="151.2" stroke="#8a4a40" stroke-width="0.7"/>
<line x1="323.4" y1="141.2" x2="321.0" y2="140.5" stroke="#8a4a40" stroke-width="0.7"/>
<line x1="330.1" y1="130.9" x2="327.8" y2="130.2" stroke="#8a4a40" stroke-width="0.7"/>
<line x1="336.6" y1="121.0" x2="334.3" y2="120.3" stroke="#8a4a40" stroke-width="0.7"/>
<line x1="342.9" y1="111.5" x2="339.1" y2="110.3" stroke="#8a4a40" stroke-width="0.7"/>
<line x1="83.9" y1="158.1" x2="85.7" y2="158.8" stroke="#5a4040" stroke-width="0.7"/>
<line x1="83.2" y1="153.7" x2="85.1" y2="154.4" stroke="#5a4040" stroke-width="0.7"/>
<line x1="82.6" y1="149.3" x2="86.3" y2="150.7" stroke="#5a4040" stroke-width="0.7"/>
<line x1="82.0" y1="144.9" x2="83.8" y2="145.5" stroke="#5a4040" stroke-width="0.7"/>
<line x1="81.4" y1="140.4" x2="83.2" y2="141.0" stroke="#5a4040" stroke-width="0.7"/>
<line x1="80.7" y1="135.8" x2="82.6" y2="136.5" stroke="#5a4040" stroke-width="0.7"/>
<line x1="80.1" y1="131.2" x2="81.9" y2="131.9" stroke="#5a4040" stroke-width="0.7"/>
<line x1="79.4" y1="126.6" x2="83.2" y2="127.9" stroke="#5a4040" stroke-width="0.7"/>
<line x1="78.8" y1="121.9" x2="80.6" y2="122.5" stroke="#5a4040" stroke-width="0.7"/>
<line x1="78.1" y1="117.1" x2="80.0" y2="117.8" stroke="#5a4040" stroke-width="0.7"/>
<line x1="77.4" y1="112.3" x2="79.3" y2="113.0" stroke="#5a4040" stroke-width="0.7"/>
<line x1="76.7" y1="107.4" x2="78.6" y2="108.1" stroke="#5a4040" stroke-width="0.7"/>
<line x1="76.0" y1="102.5" x2="79.9" y2="103.8" stroke="#5a4040" stroke-width="0.7"/>
<line x1="75.3" y1="97.5" x2="77.3" y2="98.2" stroke="#5a4040" stroke-width="0.7"/>
<line x1="74.6" y1="92.5" x2="76.6" y2="93.2" stroke="#5a4040" stroke-width="0.7"/>
</g>
<g id="pb">
<line x1="566.3" y1="62.3" x2="565.3" y2="1.9" stroke="#a4b2b8" stroke-width="0.7"/>
<line x1="463.3" y1="158.7" x2="566.3" y2="62.3" stroke="#a4b2b8" stroke-width="0.7"/>
<line x1="566.3" y1="62.3" x2="724.1" y2="109.7" stroke="#a4b2b8" stroke-width="0.7"/>
<line x1="453.1" y1="92.9" x2="565.3" y2="1.9" stroke="#a4b2b8" stroke-width="0.7"/>
<line x1="565.3" y1="1.9" x2="735.4" y2="46.5" stroke="#a4b2b8" stroke-width="0.7"/>
<line x1="724.1" y1="109.7" x2="735.4" y2="46.5" stroke="#a4b2b8" stroke-width="0.7"/>
<g transform="scale(0.1)" stroke-width="5" stroke-linejoin="round" fill="currentColor" stroke="currentColor">
<path color="#ed212d" d="M5670,621l1567,469 7,-10 -1564,-468zM5661,630l1569,471 7,-11 -1567,-469zM5651,638l1572,474 7,-11 -1569,-471zM5642,647l1574,475 7,-10 -1572,-474zM5633,656l1576,477 7,-11 -1574,-475zM5623,665l1579,479 7,-11 -1576,-477zM5613,674l1582,480 7,-10 -1579,-479zM5604,682l1584,483 7,-11 -1582,-480zM5594,691l1586,485 8,-11 -1584,-483zM5585,700l1588,486 7,-10 -1586,-485zM5575,708l1591,488 7,-10 -1588,-486z"/>
<path color="#ed242d" d="M5565,716l1594,491 7,-11 -1591,-488z"/>
<path color="#ed242a" d="M5555,724l1457,449 8,-9 -1455,-448zM7012,1173l35,11 7,-10 -34,-10zM7047,1184l35,11 7,-10 -35,-11zM7082,1195l35,11 7,-10 -35,-11zM7117,1206l35,10 7,-9 -35,-11z"/>
<path color="#ed272a" d="M5546,731l1459,451 7,-9 -1457,-449z"/>
<path color="#ed242a" d="M7005,1182l35,11 7,-9 -35,-11zM7040,1193l35,11 7,-9 -35,-11zM7075,1204l35,11 7,-9 -35,-11zM7110,1215l35,11 7,-10 -35,-10z"/>
<path color="#ed272a" d="M5536,738l1462,453 7,-9 -1459,-451zM6998,1191l35,11 7,-9 -35,-11zM7033,1202l35,11 7,-9 -35,-11zM7068,1213l35,11 7,-9 -35,-11zM7103,1224l35,11 7,-9 -35,-11z"/>
<path color="#ed2a27" d="M5526,744l1430,443 7,-7 -1427,-442zM6956,1187l35,11 7,-7 -35,-11zM6991,1198l35,11 7,-7 -35,-11zM7026,1209l35,12 7,-8 -35,-11zM7061,1221l35,11 7,-8 -35,-11zM7096,1232l35,11 7,-8 -35,-11z"/>
<path color="#f03927" d="M5516,749l1433,445 7,-7 -1430,-443z"/>
<path color="#f03627" d="M6949,1194l35,11 7,-7 -35,-11zM6984,1205l35,11 7,-7 -35,-11zM7019,1216l35,12 7,-7 -35,-12z"/>
<path color="#f03327" d="M7054,1228l35,11 7,-7 -35,-11zM7089,1239l36,11 6,-7 -35,-11z"/>
<path color="#f04824" d="M5507,753l672,209 8,-4 -671,-209zM6179,962l12,4 8,-5 -12,-3zM6357,1018l12,3 8,-5 -12,-3zM6369,1021l574,179 6,-6 -572,-178zM6943,1200l35,11 6,-6 -35,-11z"/>
<path color="#f04524" d="M6191,966l12,4 8,-5 -12,-4zM6203,970l11,4 9,-6 -12,-3zM6333,1011l12,3 8,-5 -12,-4zM6345,1014l12,4 8,-5 -12,-4z"/>
<path color="#f04527" d="M6214,974l12,4 8,-6 -11,-4zM6226,978l12,4 8,-6 -12,-4zM6238,982l12,4 8,-7 -12,-3zM6297,1001l12,3 8,-6 -12,-4zM6309,1004l12,4 8,-7 -12,-3zM6321,1008l12,3 8,-6 -12,-4zM6978,1211l34,11 7,-6 -35,-11zM7012,1222l36,12 6,-6 -35,-12z"/>
<path color="#f04227" d="M6250,986l11,4 9,-7 -12,-4zM6261,990l24,7 8,-7 -23,-7zM6285,997l12,4 8,-7 -12,-4zM7048,1234l35,11 6,-6 -35,-11zM7083,1245l35,12 7,-7 -36,-11z"/>
<path color="#f05a24" d="M5497,756l616,192 8,-4 -614,-191zM6113,948l11,4 8,-4 -11,-4zM6409,1040l12,4 8,-4 -12,-4zM6421,1044l515,160 7,-4 -514,-160zM6936,1204l35,11 7,-4 -35,-11z"/>
<path color="#f05724" d="M6124,952l12,4 8,-5 -12,-3zM6136,956l12,5 8,-6 -12,-4zM6385,1035l12,2 8,-5 -12,-3zM6397,1037l12,3 8,-4 -12,-4zM6971,1215l35,12 6,-5 -34,-11z"/>
<path color="#f05424" d="M6148,961l11,5 8,-7 -11,-4zM6373,1032l12,3 8,-6 -12,-4zM7006,1227l35,12 7,-5 -36,-12zM7041,1239l36,11 6,-5 -35,-11z"/>
<path color="#f05124" d="M6159,966l12,5 8,-9 -12,-3zM6361,1030l12,2 8,-7 -12,-4zM7077,1250l35,12 6,-5 -35,-12z"/>
<path color="#f04e24" d="M6171,971l12,4 8,-9 -12,-4zM6183,975l11,4 9,-9 -12,-4zM6194,979l12,4 8,-9 -11,-4zM6206,983l12,3 8,-8 -12,-4zM6218,986l12,3 8,-7 -12,-4zM6230,989l12,4 8,-7 -12,-4zM6242,993l11,3 8,-6 -11,-4zM6253,996l24,8 8,-7 -24,-7zM6277,1004l12,4 8,-7 -12,-4zM6289,1008l12,4 8,-8 -12,-3zM6301,1012l12,4 8,-8 -12,-4zM6313,1016l12,4 8,-9 -12,-3zM6325,1020l12,4 8,-10 -12,-3zM6337,1024l12,3 8,-9 -12,-4zM6349,1027l12,3 8,-9 -12,-3z"/>
<path color="#f36f21" d="M5488,757l582,182 8,-2 -581,-181zM6070,939l12,4 7,-3 -11,-3zM6439,1054l12,4 7,-3 -12,-4zM6451,1058l479,149 6,-3 -478,-149zM6930,1207l35,11 6,-3 -35,-11z"/>
<path color="#f36c21" d="M6082,943l11,5 8,-4 -12,-4zM6426,1052l13,2 7,-3 -12,-4zM6965,1218l36,12 5,-3 -35,-12z"/>
<path color="#f36921" d="M6093,948l12,6 8,-6 -12,-4zM6414,1051l12,1 8,-5 -13,-3zM7001,1230l35,12 5,-3 -35,-12z"/>
<path color="#f36624" d="M6105,954l11,6 8,-8 -11,-4zM6402,1049l12,2 7,-7 -12,-4zM7071,1254l36,11 5,-3 -35,-12z"/>
<path color="#f36024" d="M6116,960l12,5 8,-9 -12,-4zM6128,965l12,3 8,-7 -12,-5zM6140,968l12,2 7,-4 -11,-5zM6152,970l11,1 8,0 -12,-5zM6163,971l12,3 8,1 -12,-4zM6330,1021l12,5 7,1 -12,-3zM6342,1026l12,5 7,-1 -12,-3zM6354,1031l12,5 7,-4 -12,-2zM6366,1036l12,6 7,-7 -12,-3zM6378,1042l12,5 7,-10 -12,-2zM6390,1047l12,2 7,-9 -12,-3z"/>
<path color="#78542d" d="M6175,974l12,3 7,2 -11,-4zM6187,977l12,3 7,3 -12,-4zM6199,980l12,3 7,3 -12,-3zM6211,983l12,4 7,2 -12,-3zM6294,1009l12,4 7,3 -12,-4zM6306,1013l12,4 7,3 -12,-4zM6318,1017l12,4 7,3 -12,-4z"/>
<path color="#78572d" d="M6223,987l11,3 8,3 -12,-4zM6234,990l12,4 7,2 -11,-3zM6246,994l24,7 7,3 -24,-8zM6270,1001l12,4 7,3 -12,-4zM6282,1005l12,4 7,3 -12,-4z"/>
<path color="#f36621" d="M7036,1242l35,12 6,-4 -36,-11z"/>
<path color="#f38721" d="M5480,758l548,171 7,-1 -547,-171zM6028,929l11,3 8,-1 -12,-3zM6039,932l12,5 7,-2 -11,-4zM6180,976l12,4 7,0 -12,-3zM6192,980l12,3 7,0 -12,-3zM6204,983l11,4 8,0 -12,-4zM6215,987l72,22 7,0 -71,-22zM6287,1009l12,4 7,0 -12,-4zM6299,1013l12,4 7,0 -12,-4zM6311,1017l12,4 7,0 -12,-4zM6456,1064l13,2 6,-1 -12,-4zM6469,1066l12,4 6,-1 -12,-4zM6481,1070l444,138 5,-1 -443,-138zM6925,1208l35,12 5,-2 -35,-11z"/>
<path color="#f38421" d="M6051,937l11,7 8,-5 -12,-4zM6168,972l12,4 7,1 -12,-3zM6323,1021l12,3 7,2 -12,-5zM6335,1024l12,4 7,3 -12,-5zM6444,1063l12,1 7,-3 -12,-3zM6960,1220l35,12 6,-2 -36,-12z"/>
<path color="#f37e21" d="M6062,944l12,8 8,-9 -12,-4zM6431,1063l13,0 7,-5 -12,-4zM7030,1244l36,12 5,-2 -35,-12z"/>
<path color="#f37521" d="M6074,952l11,5 8,-9 -11,-5zM6097,958l12,1 7,1 -11,-6zM6395,1048l12,7 7,-4 -12,-2zM6419,1061l12,2 8,-9 -13,-2z"/>
<path color="#f37221" d="M6085,957l12,1 8,-4 -12,-6zM6407,1055l12,6 7,-9 -12,-1z"/>
<path color="#785d2d" d="M6109,959l12,1 7,5 -12,-5zM6121,960l12,2 7,6 -12,-3zM6371,1037l12,5 7,5 -12,-5zM6383,1042l12,6 7,1 -12,-2z"/>
<path color="#78602d" d="M6133,962l11,3 8,5 -12,-2zM6359,1032l12,5 7,5 -12,-6z"/>
<path color="#78632d" d="M6144,965l12,4 7,2 -11,-1zM6156,969l12,3 7,2 -12,-3zM6347,1028l12,4 7,4 -12,-5z"/>
<path color="#f38121" d="M6995,1232l35,12 6,-2 -35,-12z"/>
<path color="#f37b21" d="M7066,1256l35,12 6,-3 -36,-11z"/>
<path color="#f3a21e" d="M5471,757l526,164 7,0 -524,-163zM5997,921l12,4 7,0 -12,-4zM6126,961l12,3 6,1 -11,-3zM6138,964l11,4 7,1 -12,-4zM6149,968l192,60 6,0 -191,-59zM6341,1028l12,4 6,0 -12,-4zM6353,1032l12,3 6,2 -12,-5zM6487,1074l12,3 6,1 -12,-4zM6499,1077l421,132 5,-1 -420,-130zM6920,1209l35,11 5,0 -35,-12z"/>
<path color="#f39f1e" d="M6009,925l11,5 8,-1 -12,-4zM6365,1035l12,4 6,3 -12,-5zM6475,1072l12,2 6,0 -12,-4zM6955,1220l35,12 5,0 -35,-12z"/>
<path color="#f39c1e" d="M6020,930l12,8 7,-6 -11,-3zM6462,1072l13,0 6,-2 -12,-4z"/>
<path color="#f39321" d="M6032,938l11,8 8,-9 -12,-5zM6449,1073l13,-1 7,-6 -13,-2zM7061,1257l36,12 4,-1 -35,-12z"/>
<path color="#f38a21" d="M6043,946l12,4 7,-6 -11,-7zM6055,950l12,0 7,2 -12,-8zM6425,1061l12,9 7,-7 -13,0zM6437,1070l12,3 7,-9 -12,-1z"/>
<path color="#78662d" d="M6067,950l12,-1 6,8 -11,-5zM6413,1053l12,8 6,2 -12,-2z"/>
<path color="#78692d" d="M6079,949l11,2 7,7 -12,-1zM6401,1048l12,5 6,8 -12,-6z"/>
<path color="#786c2d" d="M6090,951l12,3 7,5 -12,-1zM6389,1043l12,5 6,7 -12,-7z"/>
<path color="#786f2d" d="M6102,954l12,3 7,3 -12,-1zM6114,957l12,4 7,1 -12,-2zM6377,1039l12,4 6,5 -12,-6z"/>
<path color="#f3991e" d="M6990,1232l36,13 4,-1 -35,-12z"/>
<path color="#f39621" d="M7026,1245l35,12 5,-1 -36,-12z"/>
<path color="#f0bd1e" d="M5463,754l516,161 7,2 -515,-160zM5979,915l11,5 7,1 -11,-4zM6096,952l11,3 7,2 -12,-3zM6107,955l264,83 6,1 -263,-82zM6371,1038l12,3 6,2 -12,-4zM6494,1077l12,3 6,1 -13,-4zM6506,1080l409,127 5,2 -408,-128zM6915,1207l36,12 4,1 -35,-11z"/>
<path color="#f0b71e" d="M5990,920l12,8 7,-3 -12,-4zM6481,1078l13,-1 5,0 -12,-3z"/>
<path color="#f0ae1e" d="M6002,928l11,10 7,-8 -11,-5zM6468,1081l13,-3 6,-4 -12,-2zM7057,1257l35,12 5,0 -36,-12z"/>
<path color="#f3a21e" d="M6013,938l12,5 7,-5 -12,-8zM6456,1078l12,3 7,-9 -13,0z"/>
<path color="#f39f1e" d="M6025,943l12,-1 6,4 -11,-8zM6444,1069l12,9 6,-6 -13,1z"/>
<path color="#78722d" d="M6037,942l12,-2 6,10 -12,-4zM6432,1060l12,9 5,4 -12,-3z"/>
<path color="#78752d" d="M6049,940l11,1 7,9 -12,0zM6420,1053l12,7 5,10 -12,-9z"/>
<path color="#757b2d" d="M6060,941l12,3 7,5 -12,1zM6072,944l12,4 6,3 -11,-2zM6395,1045l13,4 5,4 -12,-5zM6408,1049l12,4 5,8 -12,-8z"/>
<path color="#757e2d" d="M6084,948l12,4 6,2 -12,-3zM6383,1041l12,4 6,3 -12,-5z"/>
<path color="#f0ba1e" d="M6951,1219l35,13 4,0 -35,-12z"/>
<path color="#f0b41e" d="M6986,1232l35,13 5,0 -36,-13z"/>
<path color="#f0b11e" d="M7021,1245l36,12 4,0 -35,-12z"/>
<path color="#758a2d" d="M5456,751l493,154 7,3 -493,-154zM5949,905l12,4 6,3 -11,-4zM6042,934l12,4 6,3 -11,-1zM6054,938l12,3 6,3 -12,-3zM6066,941l336,105 6,3 -336,-105zM6402,1046l12,4 6,3 -12,-4zM6414,1050l13,4 5,6 -12,-7zM6513,1081l13,4 5,2 -13,-3zM6526,1085l385,120 4,2 -384,-120zM6911,1205l35,12 5,2 -36,-12zM6946,1217l36,13 4,2 -35,-13z"/>
<path color="#edd81e" d="M5961,909l11,6 7,0 -12,-3zM6501,1080l12,1 5,3 -12,-4z"/>
<path color="#f0d21e" d="M5972,915l12,11 6,-6 -11,-5zM6488,1084l13,-4 5,0 -12,-3z"/>
<path color="#f0c31e" d="M5984,926l11,10 7,-8 -12,-8zM6475,1086l13,-2 6,-7 -13,1z"/>
<path color="#f0b71e" d="M5995,936l12,0 6,2 -11,-10zM6463,1078l12,8 6,-8 -13,3z"/>
<path color="#757b2d" d="M6007,936l12,-5 6,12 -12,-5zM6451,1066l12,12 5,3 -12,-3z"/>
<path color="#75812d" d="M6019,931l12,0 6,11 -12,1zM6439,1059l12,7 5,12 -12,-9z"/>
<path color="#75872d" d="M6031,931l11,3 7,6 -12,2zM6427,1054l12,5 5,10 -12,-9zM6982,1230l35,13 4,2 -35,-13z"/>
<path color="#f0cc1e" d="M7017,1243l36,13 4,1 -36,-12z"/>
<path color="#f0c91e" d="M7053,1256l36,12 3,1 -35,-12z"/>
<path color="#6c8d2d" d="M5449,747l482,151 6,3 -481,-150zM5931,898l12,4 6,3 -12,-4zM6025,927l11,3 6,4 -11,-3zM6036,930l386,120 5,4 -385,-120zM6422,1050l12,4 5,5 -12,-5zM6521,1082l12,3 5,4 -12,-4zM6533,1085l374,117 4,3 -373,-116zM6907,1202l36,12 3,3 -35,-12z"/>
<path color="#dede21" d="M5943,902l11,7 7,0 -12,-4z"/>
<path color="#e7e11e" d="M5954,909l12,14 6,-8 -11,-6zM6495,1088l13,-6 5,-1 -12,-1z"/>
<path color="#f0d81e" d="M5966,923l11,8 7,-5 -12,-11zM6482,1089l13,-1 6,-8 -13,4z"/>
<path color="#75872d" d="M5977,931l12,-5 6,10 -11,-10zM6470,1077l12,12 6,-5 -13,2z"/>
<path color="#758a2d" d="M5989,926l12,-4 6,14 -12,0zM6459,1065l11,12 5,9 -12,-8z"/>
<path color="#728d2d" d="M6001,922l12,1 6,8 -12,5zM6446,1058l13,7 4,13 -12,-12zM6978,1227l35,14 4,2 -35,-13zM7013,1241l36,13 4,2 -36,-13z"/>
<path color="#6f8d2d" d="M6013,923l12,4 6,4 -12,0zM6434,1054l12,4 5,8 -12,-7zM6508,1082l13,0 5,3 -13,-4zM6943,1214l35,13 4,3 -36,-13z"/>
<path color="#758d2d" d="M7049,1254l36,12 4,2 -36,-12z"/>
<path color="#638a30" d="M5442,742l472,147 6,5 -471,-147zM5914,889l11,4 6,5 -11,-4zM5995,915l12,3 6,5 -12,-1zM6007,918l12,4 6,5 -12,-4zM6019,922l410,128 5,4 -409,-127zM6429,1050l13,4 4,4 -12,-4zM6442,1054l12,4 5,7 -13,-7zM6529,1081l12,4 5,4 -13,-4zM6541,1085l363,113 3,4 -361,-113zM6904,1198l35,12 4,4 -36,-12z"/>
<path color="#c9db24" d="M5925,893l12,9 6,0 -12,-4z"/>
<path color="#d5db24" d="M5937,902l11,16 6,-9 -11,-7zM6502,1091l14,-9 5,0 -13,0z"/>
<path color="#e4de21" d="M5948,918l12,7 6,-2 -12,-14zM6490,1090l12,1 6,-9 -13,6z"/>
<path color="#728d2d" d="M5960,925l12,-8 5,14 -11,-8zM6478,1075l12,15 5,-2 -13,1z"/>
<path color="#6c8d2d" d="M5972,917l12,-4 5,13 -12,5zM6466,1063l12,12 4,14 -12,-12z"/>
<path color="#668a2d" d="M5984,913l11,2 6,7 -12,4zM6454,1058l12,5 4,14 -11,-12zM6975,1223l35,14 3,4 -35,-14z"/>
<path color="#668a30" d="M6516,1082l13,-1 4,4 -12,-3zM6939,1210l36,13 3,4 -35,-13z"/>
<path color="#698a2d" d="M7010,1237l36,14 3,3 -36,-13z"/>
<path color="#6c8a2d" d="M7046,1251l36,12 3,3 -36,-12z"/>
<path color="#5a8730" d="M5435,736l462,144 5,6 -460,-144zM5897,880l11,4 6,5 -12,-3zM5978,906l12,3 5,6 -11,-2zM5990,909l12,4 5,5 -12,-3zM6002,913l435,135 5,6 -435,-136zM6437,1048l13,4 4,6 -12,-4zM6450,1052l12,4 4,7 -12,-5zM6524,1081l13,-1 4,5 -12,-4zM6537,1080l13,4 4,5 -13,-4zM6550,1084l351,109 3,5 -350,-109zM6901,1193l35,12 3,5 -35,-12zM6936,1205l36,14 3,4 -36,-13z"/>
<path color="#b1d52a" d="M5908,884l12,8 5,1 -11,-4z"/>
<path color="#c0d827" d="M5920,892l11,18 6,-8 -12,-9zM6511,1091l13,-10 5,0 -13,1z"/>
<path color="#d2db24" d="M5931,910l12,8 5,0 -11,-16zM6498,1092l13,-1 5,-9 -14,9z"/>
<path color="#698a2d" d="M5943,918l12,-9 5,16 -12,-7zM6486,1075l12,17 4,-1 -12,-1z"/>
<path color="#638a30" d="M5955,909l12,-5 5,13 -12,8zM6475,1062l11,13 4,15 -12,-15z"/>
<path color="#5d8730" d="M5967,904l11,2 6,7 -12,4zM6462,1056l13,6 3,13 -12,-12zM6972,1219l35,14 3,4 -35,-14z"/>
<path color="#608a30" d="M7007,1233l36,14 3,4 -36,-14zM7043,1247l36,12 3,4 -36,-12z"/>
<path color="#4e8433" d="M5429,730l451,140 5,6 -450,-140zM5880,870l11,4 6,6 -12,-4zM5891,874l12,7 5,3 -11,-4zM5961,896l12,3 5,7 -11,-2zM5973,899l12,4 5,6 -12,-3zM5985,903l461,143 4,6 -460,-143zM6446,1046l12,4 4,6 -12,-4zM6458,1050l13,4 4,8 -13,-6zM6533,1078l13,0 4,6 -13,-4zM6546,1078l13,4 4,5 -13,-3zM6559,1082l339,105 3,6 -338,-106zM6898,1187l35,12 3,6 -35,-12z"/>
<path color="#a5d22d" d="M5903,881l11,19 6,-8 -12,-8zM6519,1089l14,-11 4,2 -13,1z"/>
<path color="#bad827" d="M5914,900l12,12 5,-2 -11,-18zM6506,1094l13,-5 5,-8 -13,10z"/>
<path color="#608a30" d="M5926,912l12,-10 5,16 -12,-8zM6495,1075l11,19 5,-3 -13,1z"/>
<path color="#5a8730" d="M5938,902l12,-8 5,15 -12,9zM6483,1060l12,15 3,17 -12,-17z"/>
<path color="#518733" d="M5950,894l11,2 6,8 -12,5zM6471,1054l12,6 3,15 -11,-13z"/>
<path color="#518433" d="M6933,1199l36,15 3,5 -36,-14z"/>
<path color="#548733" d="M6969,1214l35,14 3,5 -35,-14z"/>
<path color="#578733" d="M7004,1228l36,14 3,5 -36,-14zM7040,1242l36,13 3,4 -36,-12z"/>
<path color="#3f8136" d="M5423,723l451,141 6,6 -451,-140zM5874,864l12,5 5,5 -11,-4zM5945,886l11,3 5,7 -11,-2zM5956,889l12,4 5,6 -12,-3zM5968,893l486,151 4,6 -485,-151zM6454,1044l13,4 4,6 -13,-4zM6467,1048l13,4 3,8 -12,-6zM6542,1073l13,2 4,7 -13,-4zM6555,1075l340,106 3,6 -339,-105zM6895,1181l36,12 2,6 -35,-12z"/>
<path color="#84cc33" d="M5886,869l12,17 5,-5 -12,-7z"/>
<path color="#a2d22d" d="M5898,886l11,19 5,-5 -11,-19zM6515,1094l14,-11 4,-5 -14,11z"/>
<path color="#5a8730" d="M5909,905l12,-8 5,15 -12,-12zM6503,1078l12,16 4,-5 -13,5z"/>
<path color="#518733" d="M5921,897l12,-12 5,17 -12,10zM6492,1059l11,19 3,16 -11,-19z"/>
<path color="#458436" d="M5933,885l12,1 5,8 -12,8zM6480,1052l12,7 3,16 -12,-15zM6529,1083l13,-10 4,5 -13,0zM6966,1208l36,15 2,5 -35,-14z"/>
<path color="#428436" d="M6931,1193l35,15 3,6 -36,-15z"/>
<path color="#4b8433" d="M7002,1223l36,14 2,5 -36,-14zM7038,1237l36,13 2,5 -36,-13z"/>
<path color="#337e39" d="M5417,716l441,137 5,7 -440,-137zM5858,853l11,4 5,7 -11,-4zM5928,875l12,3 5,8 -12,-1zM5940,878l12,4 4,7 -11,-3zM5952,882l511,159 4,7 -511,-159zM6463,1041l13,4 4,7 -13,-4zM6476,1045l13,4 3,10 -12,-7zM6552,1069l13,3 3,7 -13,-4zM6565,1072l328,102 2,7 -327,-102zM6893,1174l35,13 3,6 -36,-12z"/>
<path color="#60c339" d="M5869,857l12,13 5,-1 -12,-5z"/>
<path color="#7ec933" d="M5881,870l12,24 5,-8 -12,-17zM6524,1092l14,-18 4,-1 -13,10z"/>
<path color="#99cf30" d="M5893,894l11,0 5,11 -11,-19z"/>
<path color="#488433" d="M5904,894l12,-16 5,19 -12,8zM6501,1059l11,24 3,11 -12,-16z"/>
<path color="#398136" d="M5916,878l12,-3 5,10 -12,12zM6489,1049l12,10 2,19 -11,-19zM6964,1202l36,15 2,6 -36,-15z"/>
<path color="#4e8433" d="M6512,1083l12,9 5,-9 -14,11z"/>
<path color="#368136" d="M6538,1074l14,-5 3,6 -13,-2zM6928,1187l36,15 2,6 -35,-15z"/>
<path color="#3c8136" d="M7000,1217l35,15 3,5 -36,-14z"/>
<path color="#3f8136" d="M7035,1232l37,13 2,5 -36,-13z"/>
<path color="#2a7e39" d="M5411,708l430,134 5,7 -429,-133zM5841,842l12,4 5,7 -12,-4zM5853,846l12,7 4,4 -11,-4zM5912,865l12,2 4,8 -12,3zM5924,867l11,4 5,7 -12,-3zM5935,871l538,166 3,8 -536,-167zM6473,1037l12,4 4,8 -13,-4zM6485,1041l13,6 3,12 -12,-10zM6548,1066l14,-1 3,7 -13,-3zM6562,1065l12,4 3,7 -12,-4zM6574,1069l316,98 3,7 -316,-98zM6890,1167l36,13 2,7 -35,-13zM6926,1180l36,15 2,7 -36,-15z"/>
<path color="#54c03c" d="M5865,853l11,25 5,-8 -12,-13z"/>
<path color="#78c933" d="M5876,878l12,14 5,2 -12,-24z"/>
<path color="#428136" d="M5888,892l12,-19 4,21 -11,0zM6509,1063l11,26 4,3 -12,-9z"/>
<path color="#307e39" d="M5900,873l12,-8 4,13 -12,16zM6498,1047l11,16 3,20 -11,-24zM6534,1082l14,-16 4,3 -14,5zM6997,1211l36,15 2,6 -35,-15z"/>
<path color="#3f8136" d="M6520,1089l14,-7 4,-8 -14,18z"/>
<path color="#2d7e39" d="M6962,1195l35,16 3,6 -36,-15z"/>
<path color="#337e39" d="M7033,1226l37,13 2,6 -37,-13z"/>
<path color="#2a7e39" d="M5405,700l432,134 4,8 -430,-134zM5837,834l11,5 5,7 -12,-4zM5895,856l12,0 5,9 -12,8zM5907,856l12,3 5,8 -12,-2zM5919,859l563,175 3,7 -561,-174zM6482,1034l13,4 3,9 -13,-6zM6495,1038l12,8 2,17 -11,-16zM6544,1068l14,-9 4,6 -14,1zM6558,1059l13,2 3,8 -12,-4zM6571,1061l317,98 2,8 -316,-98zM6888,1159l36,13 2,8 -36,-13zM6924,1172l36,16 2,7 -36,-15zM6960,1188l35,16 2,7 -35,-16zM6995,1204l36,16 2,6 -36,-15zM7031,1220l37,13 2,6 -37,-13z"/>
<path color="#48bd3c" d="M5848,839l12,17 5,-3 -12,-7z"/>
<path color="#4ec03c" d="M5860,856l12,28 4,-6 -11,-25z"/>
<path color="#398136" d="M5872,884l11,-10 5,18 -12,-14zM6518,1071l11,18 5,-7 -14,7z"/>
<path color="#2d7e39" d="M5883,874l12,-18 5,17 -12,19zM6507,1046l11,25 2,18 -11,-26zM6529,1089l15,-21 4,-2 -14,16z"/>
<path color="#277b39" d="M5400,692l420,130 5,8 -420,-130zM5820,822l12,4 5,8 -12,-4zM5832,826l12,9 4,4 -11,-5zM5891,845l12,2 4,9 -12,0zM5903,847l12,4 4,8 -12,-3zM5915,851l564,175 3,8 -563,-175zM6479,1026l13,4 3,8 -13,-4zM6492,1030l13,4 2,12 -12,-8zM6555,1055l14,-2 2,8 -13,-2zM6569,1053l12,4 3,8 -13,-4zM6581,1057l305,94 2,8 -304,-94zM6886,1151l36,14 2,7 -36,-13zM6922,1165l36,15 2,8 -36,-16z"/>
<path color="#45bd3f" d="M5844,835l11,29 5,-8 -12,-17z"/>
<path color="#4bbd3c" d="M5855,864l12,12 5,8 -12,-28z"/>
<path color="#2a7e39" d="M5867,876l12,-23 4,21 -11,10zM5879,853l12,-8 4,11 -12,18zM6505,1034l11,16 2,21 -11,-25zM6516,1050l11,32 2,7 -11,-18zM6540,1077l15,-22 3,4 -14,9zM6958,1180l36,17 1,7 -35,-16zM6994,1197l36,16 1,7 -36,-16zM7030,1213l36,13 2,7 -37,-13z"/>
<path color="#2d7e39" d="M6527,1082l13,-5 4,-9 -15,21z"/>
<path color="#277b3c" d="M5395,683l421,130 4,9 -420,-130zM5816,813l12,5 4,8 -12,-4zM5875,836l12,-1 4,10 -12,8zM5887,835l12,4 4,8 -12,-2zM5899,839l590,182 3,9 -589,-183zM6489,1021l13,4 3,9 -13,-4zM6502,1025l12,8 2,17 -11,-16zM6552,1057l14,-11 3,7 -14,2zM6566,1046l13,3 2,8 -12,-4zM6579,1049l305,94 2,8 -305,-94zM6884,1143l36,14 2,8 -36,-14zM6920,1157l36,16 2,7 -36,-15z"/>
<path color="#42ba3f" d="M5828,818l11,18 5,-1 -12,-9z"/>
<path color="#45bd3f" d="M5839,836l12,33 4,-5 -11,-29z"/>
<path color="#2a7e39" d="M5851,869l12,-12 4,19 -12,-12zM5863,857l12,-21 4,17 -12,23zM6514,1033l11,29 2,20 -11,-32zM6525,1062l11,21 4,-6 -13,5zM6536,1083l16,-26 3,-2 -15,22z"/>
<path color="#277b39" d="M6956,1173l36,17 2,7 -36,-17zM6992,1190l36,16 2,7 -36,-16zM7028,1206l36,14 2,6 -36,-13z"/>
<path color="#247b3c" d="M5389,674l411,127 4,9 -409,-127zM5800,801l12,4 4,8 -12,-3zM5812,805l11,8 5,5 -12,-5zM5871,824l12,2 4,9 -12,1zM5883,826l12,4 4,9 -12,-4zM5895,830l591,183 3,8 -590,-182zM6486,1013l13,4 3,8 -13,-4zM6499,1017l13,5 2,11 -12,-8zM6563,1041l13,-1 3,9 -13,-3zM6576,1040l13,4 3,9 -13,-4zM6589,1044l294,91 1,8 -292,-90zM6883,1135l36,13 1,9 -36,-14zM6919,1148l35,17 2,8 -36,-16z"/>
<path color="#3fba3f" d="M5823,813l12,31 4,-8 -11,-18z"/>
<path color="#45bd3f" d="M5835,844l12,19 4,6 -12,-33z"/>
<path color="#2a7e39" d="M5847,863l12,-29 4,23 -12,12zM6523,1040l10,37 3,6 -11,-21zM6533,1077l14,-12 5,-8 -16,26z"/>
<path color="#277b3c" d="M5859,834l12,-10 4,12 -12,21zM6512,1022l11,18 2,22 -11,-29zM6547,1065l16,-24 3,5 -14,11zM6954,1165l36,17 2,8 -36,-17zM6990,1182l36,17 2,7 -36,-16zM7026,1199l37,14 1,7 -36,-14z"/>
<path color="#247b45" d="M5384,665l412,127 4,9 -411,-127zM5796,792l11,4 5,9 -12,-4zM5867,814l12,3 4,9 -12,-2zM5879,817l617,191 3,9 -616,-191zM6496,1008l13,4 3,10 -13,-5zM6574,1032l13,4 2,8 -13,-4zM6587,1036l294,90 2,9 -294,-91zM6881,1126l36,14 2,8 -36,-13z"/>
<path color="#247b42" d="M5807,796l12,16 4,1 -11,-8zM5855,816l12,-2 4,10 -12,10zM6509,1012l13,10 1,18 -11,-18zM6560,1040l14,-8 2,8 -13,1zM6917,1140l36,17 1,8 -35,-17z"/>
<path color="#3fba3f" d="M5819,812l12,39 4,-7 -12,-31z"/>
<path color="#277b39" d="M5831,851l12,-7 4,19 -12,-19zM6532,1058l11,15 4,-8 -14,12z"/>
<path color="#277b3c" d="M5843,844l12,-28 4,18 -12,29zM6522,1022l10,36 1,19 -10,-37zM6543,1073l17,-33 3,1 -16,24zM7025,1192l36,14 2,7 -37,-14z"/>
<path color="#247b3f" d="M6953,1157l36,18 1,7 -36,-17z"/>
<path color="#247b3c" d="M6989,1175l36,17 1,7 -36,-17z"/>
<path color="#217b4e" d="M5379,656l412,127 5,9 -412,-127zM5791,783l12,6 4,7 -11,-4zM5851,803l12,2 4,9 -12,2zM5863,805l12,3 4,9 -12,-3zM5875,808l619,191 2,9 -617,-191zM6494,999l13,4 2,9 -13,-4zM6507,1003l12,6 3,13 -13,-10zM6571,1025l13,2 3,9 -13,-4zM6584,1027l295,90 2,9 -294,-90zM6879,1117l37,14 1,9 -36,-14z"/>
<path color="#39b75a" d="M5803,789l12,28 4,-5 -12,-16z"/>
<path color="#3fba3f" d="M5815,817l12,33 4,1 -12,-39z"/>
<path color="#277b3c" d="M5827,850l12,-29 4,23 -12,7zM6530,1034l10,38 3,1 -11,-15zM6540,1072l16,-26 4,-6 -17,33z"/>
<path color="#247b42" d="M5839,821l12,-18 4,13 -12,28zM6519,1009l11,25 2,24 -10,-36zM6987,1167l36,17 2,8 -36,-17z"/>
<path color="#247b48" d="M6556,1046l15,-21 3,7 -14,8z"/>
<path color="#247b4b" d="M6916,1131l35,17 2,9 -36,-17z"/>
<path color="#247b45" d="M6951,1148l36,19 2,8 -36,-18z"/>
<path color="#247b3f" d="M7023,1184l37,14 1,8 -36,-14z"/>
<path color="#217857" d="M5374,647l402,123 4,9 -401,-123zM5776,770l11,4 4,9 -11,-4zM5787,774l12,10 4,5 -12,-6zM5847,792l12,3 4,10 -12,-2zM5859,795l645,198 3,10 -644,-198zM6504,993l13,5 2,11 -12,-6zM6568,1020l14,-2 2,9 -13,-2zM6582,1018l13,3 2,9 -13,-3zM6595,1021l283,87 1,9 -282,-87zM6878,1108l36,14 2,9 -37,-14z"/>
<path color="#36b760" d="M5799,784l12,41 4,-8 -12,-28z"/>
<path color="#3cba42" d="M5811,825l12,12 4,13 -12,-33z"/>
<path color="#247b3f" d="M5823,837l12,-37 4,21 -12,29zM6529,1013l9,45 2,14 -10,-38z"/>
<path color="#217b51" d="M5835,800l12,-8 4,11 -12,18zM6517,998l12,15 1,21 -11,-25z"/>
<path color="#247b3c" d="M6538,1058l14,-4 4,-8 -16,26z"/>
<path color="#247b4b" d="M6552,1054l16,-34 3,5 -15,21zM6986,1159l36,17 1,8 -36,-17z"/>
<path color="#217854" d="M6914,1122l36,18 1,8 -35,-17z"/>
<path color="#217b4e" d="M6950,1140l36,19 1,8 -36,-19z"/>
<path color="#247b48" d="M7022,1176l37,15 1,7 -37,-14z"/>
<path color="#1e7563" d="M5369,637l402,123 5,10 -402,-123zM5771,760l12,5 4,9 -11,-4zM5843,782l12,4 4,9 -12,-3zM5855,786l647,198 2,9 -645,-198zM6502,984l13,4 2,10 -13,-5zM6580,1009l13,3 2,9 -13,-3zM6593,1012l283,87 2,9 -283,-87zM6876,1099l37,14 1,9 -36,-14z"/>
<path color="#30b190" d="M5783,765l12,19 4,0 -12,-10z"/>
<path color="#36b763" d="M5795,784l12,47 4,-6 -12,-41z"/>
<path color="#247b3f" d="M5807,831l12,-16 4,22 -12,-12zM6537,1036l11,25 4,-7 -14,4z"/>
<path color="#217b4e" d="M5819,815l12,-32 4,17 -12,37zM6527,997l10,39 1,22 -9,-45z"/>
<path color="#1e7860" d="M5831,783l12,-1 4,10 -12,8zM6515,988l12,9 2,16 -12,-15z"/>
<path color="#247b4b" d="M6548,1061l17,-41 3,0 -16,34z"/>
<path color="#21785d" d="M6565,1020l15,-11 2,9 -14,2z"/>
<path color="#217860" d="M6913,1113l36,18 1,9 -36,-18z"/>
<path color="#217857" d="M6949,1131l35,19 2,9 -36,-19z"/>
<path color="#217854" d="M6984,1150l37,18 1,8 -36,-17z"/>
<path color="#217b51" d="M7021,1168l37,15 1,8 -37,-15z"/>
<path color="#1e7272" d="M5364,627l403,124 4,9 -402,-123zM5767,751l12,6 4,8 -12,-5zM5839,773l12,3 4,10 -12,-4zM5851,776l648,199 3,9 -647,-198zM6499,975l13,4 3,9 -13,-4zM6577,1001l14,2 2,9 -13,-3zM6591,1003l284,86 1,10 -283,-87z"/>
<path color="#2dab9f" d="M5779,757l12,32 4,-5 -12,-19z"/>
<path color="#36b766" d="M5791,789l12,39 4,3 -12,-47z"/>
<path color="#247b48" d="M5803,828l12,-37 4,24 -12,16zM6536,1012l9,46 3,3 -11,-25z"/>
<path color="#1e7860" d="M5815,791l12,-20 4,12 -12,32zM6525,984l11,28 1,24 -10,-39z"/>
<path color="#1e726f" d="M5827,771l12,2 4,9 -12,1zM6512,979l13,5 2,13 -12,-9zM6875,1089l36,15 2,9 -37,-14z"/>
<path color="#217b4b" d="M6545,1058l17,-32 3,-6 -17,41z"/>
<path color="#1e7566" d="M6562,1026l15,-25 3,8 -15,11z"/>
<path color="#1e756c" d="M6911,1104l36,18 2,9 -36,-18z"/>
<path color="#1e7563" d="M6947,1122l36,20 1,8 -35,-19z"/>
<path color="#21785d" d="M6983,1142l36,18 2,8 -37,-18z"/>
<path color="#217857" d="M7019,1160l37,15 2,8 -37,-15z"/>
<path color="#1b6978" d="M5359,618l392,119 4,10 -391,-120zM5751,737l12,4 4,10 -12,-4zM5823,760l12,3 4,10 -12,-2zM5835,763l675,206 2,10 -673,-206zM6510,969l13,4 2,11 -13,-5zM6589,993l13,4 2,9 -13,-3zM6602,997l271,83 2,9 -271,-83z"/>
<path color="#1b6c78" d="M5763,741l12,10 4,6 -12,-6zM6575,995l14,-2 2,10 -14,-2zM6873,1080l37,14 1,10 -36,-15z"/>
<path color="#2da8a8" d="M5775,751l12,46 4,-8 -12,-32z"/>
<path color="#36b76f" d="M5787,797l12,17 4,14 -12,-39z"/>
<path color="#217857" d="M5799,814l12,-45 4,22 -12,37zM6535,991l8,54 2,13 -9,-46z"/>
<path color="#1b7275" d="M5811,769l12,-9 4,11 -12,20zM6523,973l12,18 1,21 -11,-28z"/>
<path color="#217b51" d="M6543,1045l15,-11 4,-8 -17,32z"/>
<path color="#1e7569" d="M6558,1034l17,-39 2,6 -15,25zM6982,1133l36,19 1,8 -36,-18z"/>
<path color="#1b6f78" d="M6910,1094l36,19 1,9 -36,-18z"/>
<path color="#1e7272" d="M6946,1113l36,20 1,9 -36,-20z"/>
<path color="#1e7563" d="M7018,1152l37,15 1,8 -37,-15z"/>
<path color="#1e6075" d="M5354,608l393,119 4,10 -392,-119zM5747,727l12,5 4,9 -12,-4zM5819,749l12,4 4,10 -12,-3zM5831,753l677,206 2,10 -675,-206zM6508,959l13,4 2,10 -13,-4zM6586,984l14,3 2,10 -13,-4zM6600,987l272,83 1,10 -271,-83zM6872,1070l36,15 2,9 -37,-14z"/>
<path color="#1e6375" d="M5759,732l12,17 4,2 -12,-10zM5807,752l12,-3 4,11 -12,9zM6521,963l12,11 2,17 -12,-18zM6572,993l14,-9 3,9 -14,2zM6908,1085l37,19 1,9 -36,-19z"/>
<path color="#2da8ab" d="M5771,749l12,55 4,-7 -12,-46z"/>
<path color="#217857" d="M5783,804l12,-11 4,21 -12,-17zM6542,1023l12,19 4,-8 -15,11z"/>
<path color="#1e756c" d="M5795,793l12,-41 4,17 -12,45zM6533,974l9,49 1,22 -8,-54zM6554,1042l18,-49 3,2 -17,39z"/>
<path color="#1b6c78" d="M6945,1104l36,21 1,8 -36,-20z"/>
<path color="#1b7275" d="M6981,1125l36,19 1,8 -36,-19z"/>
<path color="#1e7272" d="M7017,1144l37,15 1,8 -37,-15z"/>
<path color="#1e5475" d="M5349,598l394,120 4,9 -393,-119zM5743,718l12,5 4,9 -12,-5zM5803,739l12,0 4,10 -12,3zM5815,739l12,4 4,10 -12,-4zM5827,743l678,206 3,10 -677,-206zM6505,949l13,4 3,10 -13,-4zM6518,953l13,7 2,14 -12,-11zM6584,975l14,2 2,10 -14,-3zM6598,977l272,83 2,10 -272,-83zM6870,1060l37,15 1,10 -36,-15z"/>
<path color="#2a72c3" d="M5755,723l12,28 4,-2 -12,-17z"/>
<path color="#2aa8b1" d="M5767,751l12,54 4,-1 -12,-55z"/>
<path color="#1e7563" d="M5779,805l12,-37 4,25 -12,11zM6541,998l10,45 3,-1 -12,-19z"/>
<path color="#1e6678" d="M5791,768l12,-29 4,13 -12,41zM6531,960l10,38 1,25 -9,-49zM6979,1116l37,20 1,8 -36,-19z"/>
<path color="#1e726c" d="M6551,1043l18,-47 3,-3 -18,49z"/>
<path color="#1e5d75" d="M6569,996l15,-21 2,9 -14,9z"/>
<path color="#1e5a75" d="M6907,1075l36,20 2,9 -37,-19z"/>
<path color="#1e6075" d="M6943,1095l36,21 2,9 -36,-21z"/>
<path color="#1b6c78" d="M7016,1136l37,15 1,8 -37,-15z"/>
<path color="#1e4b72" d="M5344,588l395,120 4,10 -394,-120zM5799,727l12,2 4,10 -12,0zM5811,729l705,215 2,9 -703,-214zM6516,944l13,5 2,11 -13,-7zM6595,968l274,83 1,9 -272,-83z"/>
<path color="#1e4e72" d="M5739,708l12,7 4,8 -12,-5zM6582,967l13,1 3,9 -14,-2zM6869,1051l37,15 1,9 -37,-15zM6906,1066l36,20 1,9 -36,-20z"/>
<path color="#2d69c0" d="M5751,715l12,42 4,-6 -12,-28z"/>
<path color="#2aa5b7" d="M5763,757l12,40 4,8 -12,-54z"/>
<path color="#1e7272" d="M5775,797l12,-52 4,23 -12,37zM6540,975l8,61 3,7 -10,-45zM6548,1036l17,-33 4,-7 -18,47z"/>
<path color="#1e5475" d="M5787,745l12,-18 4,12 -12,29zM6529,949l11,26 1,23 -10,-38zM6942,1086l36,21 1,9 -36,-21z"/>
<path color="#1e5775" d="M6565,1003l17,-36 2,8 -15,21z"/>
<path color="#1e5d75" d="M6978,1107l36,20 2,9 -37,-20z"/>
<path color="#1e6375" d="M7014,1127l38,16 1,8 -37,-15z"/>
<path color="#21456f" d="M5339,578l384,116 4,10 -383,-116zM5723,694l12,4 4,10 -12,-4zM5795,716l12,3 4,10 -12,-2zM5807,719l707,215 2,10 -705,-215zM6514,934l13,4 2,11 -13,-5zM6593,958l14,4 2,10 -14,-4zM6607,962l261,79 1,10 -260,-79z"/>
<path color="#21486f" d="M5735,698l12,11 4,6 -12,-7zM6579,961l14,-3 2,10 -13,-1zM6868,1041l36,15 2,10 -37,-15z"/>
<path color="#2d60c0" d="M5747,709l12,57 4,-9 -12,-42z"/>
<path color="#27a2c6" d="M5759,766l12,14 4,17 -12,-40z"/>
<path color="#1e6375" d="M5771,780l12,-55 4,20 -12,52zM6539,955l8,64 1,17 -8,-61z"/>
<path color="#1e4b72" d="M5783,725l12,-9 4,11 -12,18zM6527,938l12,17 1,20 -11,-26zM6904,1056l37,20 1,10 -36,-20z"/>
<path color="#1b6f78" d="M6547,1019l14,-7 4,-9 -17,33z"/>
<path color="#1e5475" d="M6561,1012l18,-51 3,6 -17,36z"/>
<path color="#1e4e72" d="M6941,1076l36,23 1,8 -36,-21z"/>
<path color="#1e5175" d="M6977,1099l36,20 1,8 -36,-20z"/>
<path color="#1e5775" d="M7013,1119l37,15 2,9 -38,-16z"/>
<path color="#21426f" d="M5334,568l385,116 4,10 -384,-116zM5719,684l12,4 4,10 -12,-4zM5731,688l12,18 4,3 -12,-11zM5779,709l12,-3 4,10 -12,9zM5791,706l12,3 4,10 -12,-3zM5803,709l709,215 2,10 -707,-215zM6512,924l13,4 2,10 -13,-4zM6525,928l12,11 2,16 -12,-17zM6576,959l15,-11 2,10 -14,3zM6591,948l13,4 3,10 -14,-4zM6604,952l262,79 2,10 -261,-79zM6866,1031l37,15 1,10 -36,-15z"/>
<path color="#2d5dbd" d="M5743,706l12,67 4,-7 -12,-57z"/>
<path color="#1e6978" d="M5755,773l12,-15 4,22 -12,-14zM6546,996l11,23 4,-7 -14,7z"/>
<path color="#1e5172" d="M5767,758l12,-49 4,16 -12,55zM6537,939l9,57 1,23 -8,-64z"/>
<path color="#1e5175" d="M6557,1019l19,-60 3,2 -18,51z"/>
<path color="#21456f" d="M6903,1046l36,21 2,9 -37,-20z"/>
<path color="#1e4872" d="M6939,1067l36,23 2,9 -36,-23z"/>
<path color="#1e4b72" d="M6975,1090l37,21 1,8 -36,-20z"/>
<path color="#1e4e72" d="M7012,1111l37,15 1,8 -37,-15z"/>
<path color="#273f6c" d="M5329,558l385,116 5,10 -385,-116zM5714,674l12,5 5,9 -12,-4zM5775,695l12,1 4,10 -12,3zM5787,696l735,222 3,10 -734,-222zM6522,918l13,7 2,14 -12,-11zM6589,939l13,3 2,10 -13,-4zM6602,942l263,79 1,10 -262,-79zM6865,1021l37,16 1,9 -37,-15z"/>
<path color="#3636b1" d="M5726,679l13,28 4,-1 -12,-18z"/>
<path color="#2d5abd" d="M5739,707l12,68 4,-2 -12,-67z"/>
<path color="#1e5d75" d="M5751,775l12,-42 4,25 -12,15zM6545,971l9,51 3,-3 -11,-23z"/>
<path color="#21456f" d="M5763,733l12,-38 4,14 -12,49zM6535,925l10,46 1,25 -9,-57z"/>
<path color="#1e5172" d="M6554,1022l19,-61 3,-2 -19,60z"/>
<path color="#213f6f" d="M6573,961l16,-22 2,9 -15,11z"/>
<path color="#243f6f" d="M6902,1037l36,21 1,9 -36,-21z"/>
<path color="#21426f" d="M6938,1058l36,23 1,9 -36,-23z"/>
<path color="#21486f" d="M6974,1081l37,21 1,9 -37,-21z"/>
<path color="#1e4872" d="M7011,1102l37,16 1,8 -37,-15z"/>
<path color="#2d3c6c" d="M5324,547l386,117 4,10 -385,-116zM5710,664l12,6 4,9 -12,-5zM5771,683l12,3 4,10 -12,-1zM5783,686l737,222 2,10 -735,-222zM6520,908l13,5 2,12 -13,-7zM6586,931l14,1 2,10 -13,-3zM6600,932l263,79 2,10 -263,-79zM6863,1011l37,16 2,10 -37,-16z"/>
<path color="#3f33b1" d="M5722,670l13,42 4,-5 -13,-28z"/>
<path color="#2d57bd" d="M5735,712l12,57 4,6 -12,-68z"/>
<path color="#1e5172" d="M5747,769l12,-60 4,24 -12,42zM6544,947l7,69 3,6 -9,-51z"/>
<path color="#243f6c" d="M5759,709l12,-26 4,12 -12,38zM6533,913l11,34 1,24 -10,-46zM6937,1049l36,23 1,9 -36,-23z"/>
<path color="#1e4e72" d="M6551,1016l18,-50 4,-5 -19,61z"/>
<path color="#273f6c" d="M6569,966l17,-35 3,8 -16,22z"/>
<path color="#2a3f6c" d="M6900,1027l37,22 1,9 -36,-21z"/>
<path color="#21426f" d="M6973,1072l36,22 2,8 -37,-21z"/>
<path color="#21456f" d="M7009,1094l38,16 1,8 -37,-16z"/>
<path color="#363c6c" d="M5319,537l387,117 4,10 -386,-117zM5706,654l12,9 4,7 -12,-6zM5766,673l12,3 5,10 -12,-3zM5778,676l323,97 4,10 -322,-97zM6101,773l13,4 4,10 -13,-4zM6114,777l13,4 3,10 -12,-4zM6127,781l25,8 4,9 -26,-7zM6152,789l13,3 3,10 -12,-4zM6165,792l13,4 3,10 -13,-4zM6178,796l339,102 3,10 -339,-102zM6517,898l14,5 2,10 -13,-5zM6584,924l14,-2 2,10 -14,-1zM6598,922l263,80 2,9 -263,-79zM6861,1002l38,16 1,9 -37,-16z"/>
<path color="#4233ae" d="M5718,663l12,57 5,-8 -13,-42z"/>
<path color="#2d51ba" d="M5730,720l13,36 4,13 -12,-57z"/>
<path color="#21486f" d="M5743,756l11,-68 5,21 -12,60z"/>
<path color="#303c6c" d="M5754,688l12,-15 5,10 -12,26zM6531,903l11,23 2,21 -11,-34zM6899,1018l36,22 2,9 -37,-22z"/>
<path color="#3045b7" d="M6542,926l7,77 2,13 -7,-69z"/>
<path color="#1e4e72" d="M6549,1003l16,-29 4,-8 -18,50z"/>
<path color="#273f6c" d="M6565,974l19,-50 2,7 -17,35zM6971,1064l37,22 1,8 -36,-22z"/>
<path color="#2a3f6c" d="M6935,1040l36,24 2,8 -36,-23z"/>
<path color="#213f6f" d="M7008,1086l37,16 2,8 -38,-16z"/>
<path color="#3f396c" d="M5313,528l376,112 5,10 -375,-113zM5689,640l12,4 5,10 -12,-4zM5762,663l12,3 4,10 -12,-3zM5774,666l298,90 4,9 -298,-89zM6072,756l13,4 4,9 -13,-4zM6085,760l13,4 3,9 -12,-4zM6098,764l12,5 4,8 -13,-4zM6110,769l13,5 4,7 -13,-4zM6123,774l13,4 4,7 -13,-4zM6136,778l13,4 3,7 -12,-4zM6149,782l13,2 3,8 -13,-3zM6162,784l12,3 4,9 -13,-4zM6174,787l13,3 4,10 -13,-4zM6187,790l13,4 3,10 -12,-4zM6200,794l315,95 2,9 -314,-94zM6515,889l13,4 3,10 -14,-5zM6595,913l14,4 2,9 -13,-4zM6609,917l251,75 1,10 -250,-76zM6860,992l37,16 2,10 -38,-16z"/>
<path color="#3c396c" d="M5701,644l12,13 5,6 -12,-9zM6581,919l14,-6 3,9 -14,2z"/>
<path color="#4530ae" d="M5713,657l13,72 4,-9 -12,-57z"/>
<path color="#304bba" d="M5726,729l12,8 5,19 -13,-36z"/>
<path color="#243f6f" d="M5738,737l12,-67 4,18 -11,68z"/>
<path color="#39396c" d="M5750,670l12,-7 4,10 -12,15zM6528,893l13,15 1,18 -11,-23z"/>
<path color="#3936b1" d="M6541,908l6,76 2,19 -7,-77z"/>
<path color="#1e4872" d="M6547,984l14,0 4,-10 -16,29z"/>
<path color="#2a3f6c" d="M6561,984l20,-65 3,5 -19,50z"/>
<path color="#393c6c" d="M6897,1008l36,23 2,9 -36,-22z"/>
<path color="#333c6c" d="M6933,1031l37,24 1,9 -36,-24z"/>
<path color="#2d3c6c" d="M6970,1055l36,23 2,8 -37,-22z"/>
<path color="#273f6c" d="M7006,1078l38,16 1,8 -37,-16z"/>
<path color="#4b3969" d="M5308,518l376,113 5,9 -376,-112zM5684,631l12,4 5,9 -12,-4zM5757,653l12,3 5,10 -12,-3zM5769,656l287,86 4,10 -286,-86zM6056,742l13,5 3,9 -12,-4zM6069,747l12,5 4,8 -13,-4zM6184,783l13,2 3,9 -13,-4zM6197,785l13,3 3,10 -13,-4zM6210,788l302,91 3,10 -302,-91zM6512,879l13,4 3,10 -13,-4zM6593,904l13,3 3,10 -14,-4zM6606,907l252,76 2,9 -251,-75z"/>
<path color="#8424a8" d="M5696,635l13,20 4,2 -12,-13z"/>
<path color="#4830ae" d="M5709,655l13,81 4,-7 -13,-72z"/>
<path color="#21456f" d="M5722,736l11,-22 5,23 -12,-8zM6546,961l11,30 4,-7 -14,0z"/>
<path color="#2d3c6c" d="M5733,714l12,-59 5,15 -12,67zM6538,894l8,67 1,23 -6,-76zM7005,1070l37,16 2,8 -38,-16z"/>
<path color="#483969" d="M5745,655l12,-2 5,10 -12,7zM6081,752l13,8 4,4 -13,-4zM6171,783l13,0 3,7 -13,-3zM6525,883l13,11 3,14 -13,-15zM6858,983l37,16 2,9 -37,-16z"/>
<path color="#453969" d="M6094,760l12,8 4,1 -12,-5zM6158,784l13,-1 3,4 -12,-3zM6578,916l15,-12 2,9 -14,6z"/>
<path color="#8124a8" d="M6106,768l13,9 4,-3 -13,-5zM6145,785l13,-1 4,0 -13,-2z"/>
<path color="#7e27ab" d="M6119,777l13,5 4,-4 -13,-4zM6132,782l13,3 4,-3 -13,-4z"/>
<path color="#2a3f6c" d="M6557,991l21,-75 3,3 -20,65z"/>
<path color="#42396c" d="M6895,999l37,23 1,9 -36,-23z"/>
<path color="#39396c" d="M6932,1022l36,25 2,8 -37,-24z"/>
<path color="#333c6c" d="M6968,1047l37,23 1,8 -36,-23z"/>
<path color="#543666" d="M5302,508l377,113 5,10 -376,-113zM5679,621l13,5 4,9 -12,-4zM5740,643l13,0 4,10 -12,2zM5753,643l286,86 4,9 -286,-85zM6039,729l13,4 4,9 -13,-4zM6052,733l13,7 4,7 -13,-5zM6193,778l13,1 4,9 -13,-3zM6206,779l13,4 3,9 -12,-4zM6219,783l304,91 2,9 -303,-91zM6523,874l13,7 2,13 -13,-11zM6590,895l14,3 2,9 -13,-3zM6604,898l252,75 2,10 -252,-76zM6856,973l37,17 2,9 -37,-16z"/>
<path color="#9321a5" d="M5692,626l12,30 5,-1 -13,-20z"/>
<path color="#4b30ae" d="M5704,656l13,83 5,-3 -13,-81z"/>
<path color="#213f6f" d="M5717,739l12,-50 4,25 -11,22z"/>
<path color="#3c396c" d="M5729,689l11,-46 5,12 -12,59zM6536,881l9,55 1,25 -8,-67zM6966,1039l37,23 2,8 -37,-23z"/>
<path color="#513666" d="M6065,740l12,11 4,1 -12,-5zM6180,782l13,-4 4,7 -13,-2z"/>
<path color="#9621a5" d="M6077,751l12,17 5,-8 -13,-8zM6166,791l14,-9 4,1 -13,0z"/>
<path color="#8724a8" d="M6089,768l13,16 4,-16 -12,-8zM6153,800l13,-9 5,-8 -13,1z"/>
<path color="#7827ab" d="M6102,784l12,13 5,-20 -13,-9zM6140,805l13,-5 5,-16 -13,1z"/>
<path color="#7227ab" d="M6114,797l13,7 5,-22 -13,-5zM6127,804l13,1 5,-20 -13,-3z"/>
<path color="#3636b1" d="M6545,936l8,59 4,-4 -11,-30z"/>
<path color="#2d3f6c" d="M6553,995l21,-77 4,-2 -21,75z"/>
<path color="#4b3669" d="M6574,918l16,-23 3,9 -15,12z"/>
<path color="#4e3669" d="M6893,990l37,23 2,9 -37,-23z"/>
<path color="#423969" d="M6930,1013l36,26 2,8 -36,-25z"/>
<path color="#363c6c" d="M7003,1062l38,16 1,8 -37,-16z"/>
<path color="#603363" d="M5296,499l378,113 5,9 -377,-113zM5674,612l13,5 5,9 -13,-5zM5735,632l13,2 5,9 -13,0zM5748,634l274,82 5,9 -274,-82zM6022,716l13,4 4,9 -12,-4zM6035,720l13,7 4,6 -13,-4zM6202,773l13,1 4,9 -13,-4zM6215,774l13,4 4,9 -13,-4zM6228,778l292,87 3,9 -291,-87zM6520,865l13,5 3,11 -13,-7zM6587,887l14,2 3,9 -14,-3zM6601,889l253,76 2,8 -252,-75zM6854,965l37,16 2,9 -37,-17z"/>
<path color="#a221a2" d="M5687,617l12,43 5,-4 -12,-30z"/>
<path color="#4e30ae" d="M5699,660l13,76 5,3 -13,-83z"/>
<path color="#2a3f6c" d="M5712,736l11,-70 6,23 -12,50z"/>
<path color="#4e3669" d="M5723,666l12,-34 5,11 -11,46zM6533,870l10,43 2,23 -9,-55zM6928,1005l36,26 2,8 -36,-26z"/>
<path color="#b71e9c" d="M6048,727l12,15 5,-2 -13,-7z"/>
<path color="#a5219f" d="M6060,742l12,24 5,-15 -12,-11zM6175,797l13,-17 5,-2 -13,4z"/>
<path color="#8a24a8" d="M6072,766l12,26 5,-24 -12,-17zM6161,815l14,-18 5,-15 -14,9z"/>
<path color="#7227ab" d="M6084,792l12,17 6,-25 -13,-16zM6147,824l14,-9 5,-24 -13,9z"/>
<path color="#632aab" d="M6096,809l13,9 5,-21 -12,-13zM6134,825l13,-1 6,-24 -13,5z"/>
<path color="#5d2dab" d="M6109,818l13,4 5,-18 -13,-7zM6122,822l12,3 6,-20 -13,-1z"/>
<path color="#5d3663" d="M6188,780l14,-7 4,6 -13,-1z"/>
<path color="#4830ae" d="M6543,913l7,79 3,3 -8,-59z"/>
<path color="#2d3c6c" d="M6550,992l20,-70 4,-4 -21,77z"/>
<path color="#543666" d="M6570,922l17,-35 3,8 -16,23z"/>
<path color="#573666" d="M6891,981l37,24 2,8 -37,-23z"/>
<path color="#453969" d="M6964,1031l37,23 2,8 -37,-23z"/>
<path color="#3f396c" d="M7001,1054l38,17 2,7 -38,-16z"/>
<path color="#69335d" d="M5290,490l379,113 5,9 -378,-113zM5669,603l12,7 6,7 -13,-5zM5730,622l12,3 6,9 -13,-2zM5742,625l263,78 5,9 -262,-78zM6005,703l13,4 4,9 -12,-4zM6018,707l12,7 5,6 -13,-4zM6211,767l13,2 4,9 -13,-4zM6224,769l13,4 4,8 -13,-3zM6237,773l279,83 4,9 -279,-84zM6516,856l14,5 3,9 -13,-5zM6584,880l14,0 3,9 -14,-2zM6598,880l253,76 3,9 -253,-76z"/>
<path color="#ab1e9f" d="M5681,610l13,57 5,-7 -12,-43z"/>
<path color="#542dab" d="M5694,667l13,61 5,8 -13,-76z"/>
<path color="#333c6c" d="M5707,728l11,-82 5,20 -11,70z"/>
<path color="#5d3663" d="M5718,646l12,-24 5,10 -12,34zM6530,861l11,32 2,20 -10,-43z"/>
<path color="#cf1893" d="M6030,714l13,15 5,-2 -13,-7z"/>
<path color="#b71b9c" d="M6043,729l12,31 5,-18 -12,-15zM6183,799l14,-23 5,-3 -14,7z"/>
<path color="#9324a5" d="M6055,760l12,31 5,-25 -12,-24zM6169,822l14,-23 5,-19 -13,17z"/>
<path color="#7227ab" d="M6067,791l12,14 5,-13 -12,-26zM6156,829l13,-7 6,-25 -14,18z"/>
<path color="#632aab" d="M6079,805l13,-1 4,5 -12,-17zM6143,820l13,9 5,-14 -14,9z"/>
<path color="#363c6c" d="M6092,804l13,-4 4,18 -13,-9zM6105,800l13,0 4,22 -13,-4zM6118,800l13,8 3,17 -12,-3zM6131,808l12,12 4,4 -13,1z"/>
<path color="#663360" d="M6197,776l14,-9 4,7 -13,-1z"/>
<path color="#5d2dab" d="M6541,893l5,91 4,8 -7,-79z"/>
<path color="#303c6c" d="M6546,984l19,-54 5,-8 -20,70z"/>
<path color="#573666" d="M6565,930l19,-50 3,7 -17,35zM6926,997l36,26 2,8 -36,-26z"/>
<path color="#693360" d="M6851,956l38,17 2,8 -37,-16z"/>
<path color="#633363" d="M6889,973l37,24 2,8 -37,-24z"/>
<path color="#4e3669" d="M6962,1023l37,24 2,7 -37,-23z"/>
<path color="#483969" d="M6999,1047l38,17 2,7 -38,-17z"/>
<path color="#6c3357" d="M5283,481l380,114 6,8 -379,-113zM5663,595l13,9 5,6 -12,-7zM5725,613l12,4 5,8 -12,-3zM5737,617l263,78 5,8 -263,-78zM6000,695l13,5 5,7 -13,-4zM6206,767l14,-5 4,7 -13,-2zM6220,762l13,2 4,9 -13,-4zM6233,764l280,84 3,8 -279,-83zM6513,848l13,4 4,9 -14,-5zM6580,874l15,-2 3,8 -14,0zM6595,872l254,76 2,8 -253,-76zM6849,948l37,17 3,8 -38,-17z"/>
<path color="#b41e9c" d="M5676,604l13,72 5,-9 -13,-57z"/>
<path color="#5d2dab" d="M5689,676l12,38 6,14 -13,-61z"/>
<path color="#42396c" d="M5701,714l11,-86 6,18 -11,82z"/>
<path color="#69335d" d="M5712,628l13,-15 5,9 -12,24zM6526,852l12,23 3,18 -11,-32zM6886,965l37,24 3,8 -37,-24z"/>
<path color="#d81881" d="M6013,700l12,13 5,1 -12,-7z"/>
<path color="#cf1893" d="M6025,713l12,34 6,-18 -13,-15zM6192,793l14,-26 5,0 -14,9z"/>
<path color="#a51e9f" d="M6037,747l12,37 6,-24 -12,-31zM6177,823l15,-30 5,-17 -14,23z"/>
<path color="#7e27ab" d="M6049,784l13,9 5,-2 -12,-31zM6164,824l13,-1 6,-24 -14,23z"/>
<path color="#3f396c" d="M6062,793l13,-15 4,27 -12,-14zM6152,801l12,23 5,-2 -13,7z"/>
<path color="#453969" d="M6075,778l13,-17 4,43 -13,1zM6140,777l12,24 4,28 -13,-9z"/>
<path color="#4e3669" d="M6088,761l14,-8 3,47 -13,4zM6127,761l13,16 3,43 -12,-12z"/>
<path color="#543666" d="M6102,753l13,1 3,46 -13,0zM6115,754l12,7 4,47 -13,-8z"/>
<path color="#7b27ab" d="M6538,875l6,95 2,14 -5,-91z"/>
<path color="#333c6c" d="M6544,970l16,-30 5,-10 -19,54z"/>
<path color="#5a3663" d="M6560,940l20,-66 4,6 -19,50z"/>
<path color="#633363" d="M6923,989l36,27 3,7 -36,-26z"/>
<path color="#573666" d="M6959,1016l37,25 3,6 -37,-24z"/>
<path color="#513666" d="M6996,1041l38,17 3,6 -38,-17z"/>
<path color="#6f334e" d="M5276,474l381,113 6,8 -380,-114zM5719,605l12,4 6,8 -12,-4zM5731,609l251,75 5,7 -250,-74zM5982,684l13,4 5,7 -13,-4zM5995,688l13,9 5,3 -13,-5zM6215,759l13,-2 5,7 -13,-2zM6228,757l13,4 5,7 -13,-4zM6241,761l268,79 4,8 -267,-80zM6509,840l13,5 4,7 -13,-4zM6591,865l255,76 3,7 -254,-76z"/>
<path color="#6f3351" d="M5657,587l13,14 6,3 -13,-9zM6576,871l15,-6 4,7 -15,2zM6846,941l37,17 3,7 -37,-17z"/>
<path color="#b71b9c" d="M5670,601l13,85 6,-10 -13,-72z"/>
<path color="#692aab" d="M5683,686l12,10 6,18 -12,-38z"/>
<path color="#513666" d="M5695,696l11,-82 6,14 -11,86z"/>
<path color="#6f3354" d="M5706,614l13,-9 6,8 -13,15zM6522,845l13,16 3,14 -12,-23zM6883,958l37,25 3,6 -37,-24z"/>
<path color="#de187b" d="M6008,697l12,30 5,-14 -12,-13z"/>
<path color="#c31b99" d="M6020,727l11,45 6,-25 -12,-34zM6185,819l15,-38 6,-14 -14,26z"/>
<path color="#9321a5" d="M6031,772l13,11 5,1 -12,-37zM6172,822l13,-3 7,-26 -15,30z"/>
<path color="#483969" d="M6044,783l13,-26 5,36 -13,-9zM6160,788l12,34 5,1 -13,1z"/>
<path color="#573666" d="M6057,757l14,-24 4,45 -13,15zM6149,756l11,32 4,36 -12,-23z"/>
<path color="#663360" d="M6071,733l13,-9 4,37 -13,17zM6136,739l13,17 3,45 -12,-24z"/>
<path color="#6c335a" d="M6084,724l14,-1 4,30 -14,8zM6123,731l13,8 4,38 -13,-16z"/>
<path color="#6c3357" d="M6098,723l13,3 4,28 -13,-1zM6111,726l12,5 4,30 -12,-7z"/>
<path color="#6c3354" d="M6200,781l15,-22 5,3 -14,5z"/>
<path color="#9f21a2" d="M6535,861l6,92 3,17 -6,-95z"/>
<path color="#393c6c" d="M6541,953l14,-3 5,-10 -16,30z"/>
<path color="#5d3663" d="M6555,950l21,-79 4,3 -20,66z"/>
<path color="#69335d" d="M6920,983l37,27 2,6 -36,-27z"/>
<path color="#633363" d="M6957,1010l36,25 3,6 -37,-25z"/>
<path color="#5a3663" d="M6993,1035l39,17 2,6 -38,-17z"/>
<path color="#723342" d="M5269,467l369,110 7,6 -369,-109zM5638,577l12,3 7,7 -12,-4zM5712,599l12,3 7,7 -12,-4zM5724,602l252,75 6,7 -251,-75zM6236,754l268,80 5,6 -268,-79zM6504,834l14,4 4,7 -13,-5zM6586,859l14,4 4,6 -13,-4zM6600,863l242,71 4,7 -242,-72z"/>
<path color="#e4185d" d="M5650,580l13,19 7,2 -13,-14zM5989,683l12,19 7,-5 -13,-9z"/>
<path color="#bd1b99" d="M5663,599l14,96 6,-9 -13,-85z"/>
<path color="#3f396c" d="M5677,695l12,-18 6,19 -12,-10zM6537,934l12,26 6,-10 -14,3z"/>
<path color="#633363" d="M5689,677l11,-74 6,11 -11,82zM6039,748l14,-31 4,40 -13,26zM6156,747l12,39 4,36 -12,-34zM6990,1030l38,18 4,4 -39,-17z"/>
<path color="#723348" d="M5700,603l12,-4 7,6 -13,9zM6209,764l14,-12 5,5 -13,2zM6518,838l13,12 4,11 -13,-16zM6571,870l15,-11 5,6 -15,6z"/>
<path color="#723345" d="M5976,677l13,6 6,5 -13,-4zM6079,708l13,4 6,11 -14,1zM6092,712l13,4 6,10 -13,-3zM6105,716l13,3 5,12 -12,-5zM6118,719l13,5 5,15 -13,-8zM6223,752l13,2 5,7 -13,-4zM6842,934l38,18 3,6 -37,-17z"/>
<path color="#db1881" d="M6001,702l12,49 7,-24 -12,-30zM6194,806l15,-42 6,-5 -15,22z"/>
<path color="#b11e9c" d="M6013,751l12,27 6,-6 -11,-45zM6179,824l15,-18 6,-25 -15,38z"/>
<path color="#513666" d="M6025,778l14,-30 5,35 -13,-11zM6168,786l11,38 6,-5 -13,3z"/>
<path color="#6f3354" d="M6053,717l13,-9 5,25 -14,24zM6144,731l12,16 4,41 -11,-32z"/>
<path color="#72334b" d="M6066,708l13,0 5,16 -13,9zM6131,724l13,7 5,25 -13,-17z"/>
<path color="#c61b99" d="M6531,850l6,84 4,19 -6,-92z"/>
<path color="#603363" d="M6549,960l22,-90 5,1 -21,79z"/>
<path color="#72334e" d="M6880,952l37,25 3,6 -37,-25z"/>
<path color="#6c3357" d="M6917,977l36,28 4,5 -37,-27z"/>
<path color="#69335d" d="M6953,1005l37,25 3,5 -36,-25z"/>
<path color="#723339" d="M5260,461l371,110 7,6 -369,-110zM5631,571l12,4 7,5 -12,-3zM5705,593l252,75 6,5 -251,-74zM5957,668l13,4 6,5 -13,-4zM6060,699l13,4 6,5 -13,0zM6073,703l13,4 6,5 -13,-4zM6086,707l26,7 6,5 -26,-7zM6112,714l13,4 6,6 -13,-5zM6125,718l13,4 6,9 -13,-7zM6230,750l13,3 6,5 -13,-4zM6243,753l270,80 5,5 -269,-80zM6581,854l14,4 5,5 -14,-4zM6595,858l243,72 4,4 -242,-71z"/>
<path color="#e7184e" d="M5643,575l13,26 7,-2 -13,-19z"/>
<path color="#c01b99" d="M5656,601l14,102 7,-8 -14,-96z"/>
<path color="#483969" d="M5670,703l11,-43 8,17 -12,18z"/>
<path color="#6c335a" d="M5681,660l11,-65 8,8 -11,74z"/>
<path color="#72333c" d="M5692,595l13,-2 7,6 -12,4zM6216,752l14,-2 6,4 -13,-2zM6513,833l13,10 5,7 -13,-12zM6838,930l38,17 4,5 -38,-18z"/>
<path color="#ea1842" d="M5970,672l12,10 7,1 -13,-6z"/>
<path color="#e7185a" d="M5982,682l12,38 7,-18 -12,-19z"/>
<path color="#d2188d" d="M5994,720l12,50 7,-19 -12,-49z"/>
<path color="#5a3663" d="M6006,770l13,-18 6,26 -12,-27zM6174,799l12,25 8,-18 -15,18z"/>
<path color="#693360" d="M6019,752l14,-42 6,38 -14,30zM6163,749l11,50 5,25 -11,-38z"/>
<path color="#72334b" d="M6033,710l14,-12 6,19 -14,31zM6151,729l12,20 5,37 -12,-39z"/>
<path color="#72333f" d="M6047,698l13,1 6,9 -13,9zM6138,722l13,7 5,18 -12,-16z"/>
<path color="#69335d" d="M6186,824l16,-42 7,-18 -15,42zM6986,1027l38,18 4,3 -38,-18z"/>
<path color="#723345" d="M6202,782l14,-30 7,0 -14,12z"/>
<path color="#d81884" d="M6526,843l7,74 4,17 -6,-84z"/>
<path color="#8a24a8" d="M6533,917l10,52 6,-9 -12,-26z"/>
<path color="#603363" d="M6543,969l22,-96 6,-3 -22,90z"/>
<path color="#723342" d="M6565,873l16,-19 5,5 -15,11zM6876,947l36,26 5,4 -37,-25z"/>
<path color="#6f334e" d="M6912,973l37,28 4,4 -36,-28z"/>
<path color="#6c3357" d="M6949,1001l37,26 4,3 -37,-25z"/>
<path color="#753333" d="M5251,458l371,111 9,2 -371,-110zM5684,590l12,1 9,2 -13,2zM5696,591l253,75 8,2 -252,-75zM6039,693l13,3 8,3 -13,-1zM6052,696l13,4 8,3 -13,-4zM6065,700l53,16 7,2 -52,-15zM6118,716l13,4 7,2 -13,-4zM6131,720l13,4 7,5 -13,-7zM6223,748l13,3 7,2 -13,-3zM6236,751l270,80 7,2 -270,-80zM6575,852l14,4 6,2 -14,-4zM6589,856l243,72 6,2 -243,-72z"/>
<path color="#ed1b2d" d="M5622,569l13,4 8,2 -12,-4zM5949,666l13,4 8,2 -13,-4z"/>
<path color="#ea1842" d="M5635,573l12,33 9,-5 -13,-26z"/>
<path color="#c31b99" d="M5647,606l14,103 9,-6 -14,-102z"/>
<path color="#513666" d="M5661,709l12,-63 8,14 -11,43z"/>
<path color="#6f334e" d="M5673,646l11,-56 8,5 -11,65z"/>
<path color="#ea1b36" d="M5962,670l12,19 8,-7 -12,-10z"/>
<path color="#e41863" d="M5974,689l12,55 8,-24 -12,-38z"/>
<path color="#cf1896" d="M5986,744l12,23 8,3 -12,-50z"/>
<path color="#663360" d="M5998,767l15,-48 6,33 -13,18zM6179,821l14,-14 9,-25 -16,42z"/>
<path color="#723348" d="M6013,719l13,-26 7,17 -14,42zM6157,732l12,34 5,33 -11,-50z"/>
<path color="#753336" d="M6026,693l13,0 8,5 -14,12zM6144,724l13,8 6,17 -12,-20zM6209,759l14,-11 7,2 -14,2z"/>
<path color="#cf1893" d="M6169,766l10,55 7,3 -12,-25z"/>
<path color="#72334b" d="M6193,807l16,-48 7,-7 -14,30z"/>
<path color="#ed1b30" d="M6506,831l14,8 6,4 -13,-10z"/>
<path color="#e41869" d="M6520,839l8,65 5,13 -7,-74z"/>
<path color="#9f21a2" d="M6528,904l8,72 7,-7 -10,-52z"/>
<path color="#633363" d="M6536,976l23,-98 6,-5 -22,96z"/>
<path color="#72333c" d="M6559,878l16,-26 6,2 -16,19z"/>
<path color="#ed1b33" d="M6832,928l38,18 6,1 -38,-17z"/>
<path color="#ea183f" d="M6870,946l37,26 5,1 -36,-26z"/>
<path color="#e7185a" d="M6907,972l37,28 5,1 -37,-28z"/>
<path color="#e11575" d="M6944,1000l37,26 5,1 -37,-26z"/>
<path color="#db1881" d="M6981,1026l38,18 5,1 -38,-18z"/>
<path color="#ed1b27" d="M5240,459l372,111 10,-1 -371,-111zM5612,570l13,5 10,-2 -13,-4zM5674,591l13,1 9,-1 -12,-1zM5687,592l253,75 9,-1 -253,-75zM5940,667l13,7 9,-4 -13,-4zM6017,691l13,3 9,-1 -13,0zM6030,694l13,4 9,-2 -13,-3zM6043,698l79,23 9,-1 -79,-24zM6122,721l13,4 9,-1 -13,-4zM6135,725l13,5 9,2 -13,-8zM6214,751l14,2 8,-2 -13,-3zM6228,753l271,81 7,-3 -270,-80zM6499,834l13,6 8,-1 -14,-8zM6568,855l14,3 7,-2 -14,-4zM6582,858l243,73 7,-3 -243,-72zM6825,931l38,17 7,-2 -38,-18z"/>
<path color="#ea1b39" d="M5625,575l13,39 9,-8 -12,-33z"/>
<path color="#c61b96" d="M5638,614l14,101 9,-6 -14,-103z"/>
<path color="#5a3666" d="M5652,715l11,-75 10,6 -12,63z"/>
<path color="#723342" d="M5663,640l11,-49 10,-1 -11,56z"/>
<path color="#ed1b30" d="M5953,674l12,28 9,-13 -12,-19z"/>
<path color="#e4156f" d="M5965,702l12,61 9,-19 -12,-55z"/>
<path color="#cf1893" d="M5977,763l13,-10 8,14 -12,-23zM6171,808l13,18 9,-19 -14,14z"/>
<path color="#6f3351" d="M5990,753l14,-50 9,16 -15,48z"/>
<path color="#753336" d="M6004,703l13,-12 9,2 -13,26z"/>
<path color="#ed1b33" d="M6148,730l13,20 8,16 -12,-34zM6863,948l37,27 7,-3 -37,-26z"/>
<path color="#e11572" d="M6161,750l10,58 8,13 -10,-55z"/>
<path color="#6f334e" d="M6184,826l16,-54 9,-13 -16,48z"/>
<path color="#753333" d="M6200,772l14,-21 9,-3 -14,11z"/>
<path color="#e71851" d="M6512,840l9,58 7,6 -8,-65z"/>
<path color="#b11e9c" d="M6521,898l7,85 8,-7 -8,-72z"/>
<path color="#633363" d="M6528,983l22,-96 9,-9 -23,98z"/>
<path color="#753339" d="M6550,887l18,-32 7,-3 -16,26z"/>
<path color="#e7184b" d="M6900,975l37,29 7,-4 -37,-28z"/>
<path color="#e41866" d="M6937,1004l37,26 7,-4 -37,-26z"/>
<path color="#e11575" d="M6974,1030l39,18 6,-4 -38,-18z"/>
<path color="#ed1b27" d="M5229,467l372,111 11,-8 -372,-111zM5601,578l13,5 11,-8 -13,-5zM5663,598l13,2 11,-8 -13,-1zM5676,600l253,76 11,-9 -253,-75zM5929,676l13,6 11,-8 -13,-7zM6007,699l13,4 10,-9 -13,-3zM6020,703l105,31 10,-9 -105,-31zM6125,734l13,4 10,-8 -13,-5zM6138,738l13,16 10,-4 -13,-20zM6204,761l14,1 10,-9 -14,-2zM6218,762l271,80 10,-8 -271,-81zM6489,842l14,7 9,-9 -13,-6zM6558,864l14,3 10,-9 -14,-3zM6572,867l245,73 8,-9 -243,-73zM6817,940l38,18 8,-10 -38,-17z"/>
<path color="#ea1b36" d="M5614,583l13,41 11,-10 -13,-39z"/>
<path color="#c91b96" d="M5627,624l14,100 11,-9 -14,-101z"/>
<path color="#5d3663" d="M5641,724l11,-78 11,-6 -11,75z"/>
<path color="#72333c" d="M5652,646l11,-48 11,-7 -11,49z"/>
<path color="#ed1b30" d="M5942,682l13,33 10,-13 -12,-28z"/>
<path color="#e11575" d="M5955,715l11,60 11,-12 -12,-61z"/>
<path color="#69335d" d="M5966,775l14,-20 10,-2 -13,10z"/>
<path color="#723345" d="M5980,755l14,-48 10,-4 -14,50z"/>
<path color="#753630" d="M5994,707l13,-8 10,-8 -13,12z"/>
<path color="#e71857" d="M6151,754l11,57 9,-3 -10,-58z"/>
<path color="#d2188d" d="M6162,811l12,27 10,-12 -13,-18z"/>
<path color="#6f3351" d="M6174,838l16,-53 10,-13 -16,54z"/>
<path color="#753333" d="M6190,785l14,-24 10,-10 -14,21z"/>
<path color="#ea1842" d="M6503,849l9,56 9,-7 -9,-58zM6892,984l37,29 8,-9 -37,-29z"/>
<path color="#ba1b9c" d="M6512,905l6,88 10,-10 -7,-85z"/>
<path color="#663363" d="M6518,993l23,-95 9,-11 -22,96z"/>
<path color="#753336" d="M6541,898l17,-34 10,-9 -18,32z"/>
<path color="#ed1b2d" d="M6855,958l37,26 8,-9 -37,-27z"/>
<path color="#e4185d" d="M6929,1013l37,27 8,-10 -37,-26z"/>
<path color="#e4156f" d="M6966,1040l39,18 8,-10 -39,-18z"/>
<path color="#ed1b27" d="M5218,480l373,112 10,-14 -372,-111zM5591,592l12,4 11,-13 -13,-5zM5653,613l12,1 11,-14 -13,-2zM5665,614l254,76 10,-14 -253,-76zM5919,690l13,6 10,-14 -13,-6zM5983,729l14,-14 10,-16 -13,8zM5997,715l13,2 10,-14 -13,-4zM6010,717l105,32 10,-15 -105,-31zM6115,749l13,5 10,-16 -13,-4zM6128,754l12,23 11,-23 -13,-16zM6194,774l14,2 10,-14 -14,-1zM6208,776l271,82 10,-16 -271,-80zM6479,858l14,7 10,-16 -14,-7zM6549,879l14,4 9,-16 -14,-3zM6563,883l244,73 10,-16 -245,-73zM6807,956l39,18 9,-16 -38,-18z"/>
<path color="#ea1b36" d="M5603,596l13,38 11,-10 -13,-41z"/>
<path color="#c91b96" d="M5616,634l14,102 11,-12 -14,-100z"/>
<path color="#5d3663" d="M5630,736l11,-72 11,-18 -11,78z"/>
<path color="#72333c" d="M5641,664l12,-51 10,-15 -11,48z"/>
<path color="#ed1b30" d="M5932,696l12,26 11,-7 -13,-33z"/>
<path color="#e11575" d="M5944,722l12,60 10,-7 -11,-60z"/>
<path color="#d2188d" d="M5956,782l13,-1 11,-26 -14,20zM6151,836l13,9 10,-7 -12,-27z"/>
<path color="#723348" d="M5969,781l14,-52 11,-22 -14,48z"/>
<path color="#e4185d" d="M6140,777l11,59 11,-25 -11,-57z"/>
<path color="#6f3351" d="M6164,845l16,-52 10,-8 -16,53z"/>
<path color="#753333" d="M6180,793l14,-19 10,-13 -14,24z"/>
<path color="#ea1845" d="M6493,865l9,59 10,-19 -9,-56zM6883,1000l37,29 9,-16 -37,-29z"/>
<path color="#ba1b9c" d="M6502,924l7,83 9,-14 -6,-88z"/>
<path color="#633363" d="M6509,1007l23,-97 9,-12 -23,95z"/>
<path color="#753336" d="M6532,910l17,-31 9,-15 -17,34z"/>
<path color="#ed1b2d" d="M6846,974l37,26 9,-16 -37,-26z"/>
<path color="#e41860" d="M6920,1029l37,27 9,-16 -37,-27z"/>
<path color="#e11572" d="M6957,1056l39,18 9,-16 -39,-18z"/>
<path color="#ed1b27" d="M5208,497l373,112 10,-17 -373,-112zM5581,609l13,4 9,-17 -12,-4zM5644,631l12,0 9,-17 -12,-1zM5656,631l254,77 9,-18 -254,-76zM5910,708l13,4 9,-16 -13,-6zM5988,738l13,-2 9,-19 -13,-2zM6001,736l13,3 9,-18 -13,-4zM6014,739l79,24 9,-18 -79,-24zM6093,763l13,4 9,-18 -13,-4zM6106,767l13,11 9,-24 -13,-5zM6185,791l14,4 9,-19 -14,-2zM6199,795l272,81 8,-18 -271,-82zM6471,876l13,8 9,-19 -14,-7zM6540,898l14,3 9,-18 -14,-4zM6554,901l245,74 8,-19 -244,-73zM6799,975l38,17 9,-18 -39,-18z"/>
<path color="#ea1b3c" d="M5594,613l13,31 9,-10 -13,-38zM6524,921l16,-23 9,-19 -17,31z"/>
<path color="#c61b99" d="M5607,644l14,104 9,-12 -14,-102z"/>
<path color="#573666" d="M5621,748l11,-58 9,-26 -11,72z"/>
<path color="#723345" d="M5632,690l12,-59 9,-18 -12,51z"/>
<path color="#ed1b33" d="M5923,712l13,16 8,-6 -12,-26zM6172,799l13,-8 9,-17 -14,19z"/>
<path color="#e41869" d="M5936,728l12,51 8,3 -12,-60zM6911,1048l37,26 9,-18 -37,-27z"/>
<path color="#cf1893" d="M5948,779l12,33 9,-31 -13,1zM6142,868l14,-25 8,2 -13,-9z"/>
<path color="#db187b" d="M5960,812l14,-42 9,-41 -14,52zM6131,817l11,51 9,-32 -11,-59z"/>
<path color="#ea183c" d="M5974,770l14,-32 9,-23 -14,14zM6119,778l12,39 9,-40 -12,-23z"/>
<path color="#6f334e" d="M6156,843l16,-44 8,-6 -16,52z"/>
<path color="#e71857" d="M6484,884l9,68 9,-28 -9,-59z"/>
<path color="#ab1e9f" d="M6493,952l8,67 8,-12 -7,-83z"/>
<path color="#633363" d="M6501,1019l23,-98 8,-11 -23,97z"/>
<path color="#ea1b36" d="M6837,992l37,27 9,-19 -37,-26z"/>
<path color="#e7184e" d="M6874,1019l37,29 9,-19 -37,-29z"/>
<path color="#de1578" d="M6948,1074l39,18 9,-18 -39,-18z"/>
<path color="#ed1b33" d="M5201,515l373,113 7,-19 -373,-112zM5574,628l12,4 8,-19 -13,-4zM5648,650l254,77 8,-19 -254,-77zM5902,727l13,4 8,-19 -13,-4zM5993,759l13,0 8,-20 -13,-3zM6006,759l13,3 8,-19 -13,-4zM6019,762l52,16 8,-19 -52,-16zM6071,778l14,4 8,-19 -14,-4zM6085,782l13,9 8,-24 -13,-4zM6178,810l13,4 8,-19 -14,-4zM6191,814l272,82 8,-20 -272,-81zM6532,917l14,4 8,-20 -14,-3zM6546,921l244,74 9,-20 -245,-74z"/>
<path color="#ea1845" d="M5586,632l13,23 8,-11 -13,-31zM6516,933l16,-16 8,-19 -16,23zM6829,1012l37,26 8,-19 -37,-27z"/>
<path color="#c31b99" d="M5599,655l14,101 8,-8 -14,-104z"/>
<path color="#4e3666" d="M5613,756l12,-36 7,-30 -11,58z"/>
<path color="#6f3351" d="M5625,720l11,-68 8,-21 -12,59z"/>
<path color="#ea1b36" d="M5636,652l12,-2 8,-19 -12,0zM6463,896l13,10 8,-22 -13,-8zM6790,995l39,17 8,-20 -38,-17z"/>
<path color="#ea1b39" d="M5915,731l13,8 8,-11 -13,-16zM6164,810l14,0 7,-19 -13,8z"/>
<path color="#e4185d" d="M5928,739l12,32 8,8 -12,-51z"/>
<path color="#cf1893" d="M5940,771l12,53 8,-12 -12,-33z"/>
<path color="#c61b99" d="M5952,824l13,-4 9,-50 -14,42zM6121,868l13,12 8,-12 -11,-51z"/>
<path color="#e1156f" d="M5965,820l14,-43 9,-39 -14,32zM6110,817l11,51 10,-51 -12,-39z"/>
<path color="#ea183f" d="M5979,777l14,-18 8,-23 -13,2zM6098,791l12,26 9,-39 -13,-11z"/>
<path color="#663360" d="M6134,880l15,-45 7,8 -14,25z"/>
<path color="#723348" d="M6149,835l15,-25 8,-11 -16,44z"/>
<path color="#e11572" d="M6476,906l8,78 9,-32 -9,-68z"/>
<path color="#9921a2" d="M6484,984l10,45 7,-10 -8,-67z"/>
<path color="#603363" d="M6494,1029l22,-96 8,-12 -23,98z"/>
<path color="#e41860" d="M6866,1038l37,29 8,-19 -37,-29z"/>
<path color="#de1578" d="M6903,1067l38,26 7,-19 -37,-26z"/>
<path color="#d81884" d="M6941,1093l38,18 8,-19 -39,-18z"/>
<path color="#ea1842" d="M5194,533l373,113 7,-18 -373,-113zM5567,646l12,4 7,-18 -12,-4zM5641,669l254,77 7,-19 -254,-77zM5895,746l13,4 7,-19 -13,-4zM6170,829l14,4 7,-19 -13,-4zM6184,833l271,83 8,-20 -272,-82zM6525,937l14,4 7,-20 -14,-4zM6539,941l244,74 7,-20 -244,-74z"/>
<path color="#e71851" d="M5579,650l13,18 7,-13 -13,-23zM6510,947l15,-10 7,-20 -16,16z"/>
<path color="#bd1b99" d="M5592,668l14,93 7,-5 -14,-101z"/>
<path color="#8424a8" d="M5606,761l12,-9 7,-32 -12,36zM6475,1017l13,17 6,-5 -10,-45z"/>
<path color="#69335d" d="M5618,752l11,-78 7,-22 -11,68zM6128,871l15,-37 6,1 -15,45z"/>
<path color="#ea184b" d="M5629,674l12,-5 7,-19 -12,2zM6455,916l13,13 8,-23 -13,-10z"/>
<path color="#ea1845" d="M5908,750l13,5 7,-16 -13,-8zM6012,783l13,3 7,-20 -13,-4zM6025,786l13,4 7,-20 -13,-4zM6038,790l13,4 7,-20 -13,-4zM6051,794l13,5 7,-21 -13,-4zM6157,827l13,2 8,-19 -14,0z"/>
<path color="#e7185a" d="M5921,755l13,16 6,0 -12,-32zM6143,834l14,-7 7,-17 -15,25zM6821,1033l38,25 7,-20 -37,-26z"/>
<path color="#d5188a" d="M5934,771l12,44 6,9 -12,-53zM6468,929l7,88 9,-33 -8,-78z"/>
<path color="#ae1e9f" d="M5946,815l12,36 7,-31 -13,4zM6114,899l14,-28 6,9 -13,-12z"/>
<path color="#c31b99" d="M5958,851l13,-19 8,-55 -14,43zM6102,872l12,27 7,-31 -11,-51z"/>
<path color="#e11575" d="M5971,832l14,-33 8,-40 -14,18zM6090,830l12,42 8,-55 -12,-26z"/>
<path color="#e71854" d="M5985,799l14,-15 7,-25 -13,0zM6077,808l13,22 8,-39 -13,-9z"/>
<path color="#ea1848" d="M5999,784l13,-1 7,-21 -13,-3zM6064,799l13,9 8,-26 -14,-4zM6783,1015l38,18 8,-21 -39,-17z"/>
<path color="#603363" d="M6488,1034l22,-87 6,-14 -22,96z"/>
<path color="#e11572" d="M6859,1058l37,29 7,-20 -37,-29z"/>
<path color="#d81884" d="M6896,1087l37,25 8,-19 -38,-26z"/>
<path color="#cf1890" d="M6933,1112l39,18 7,-19 -38,-18z"/>
<path color="#e7185a" d="M5188,552l373,113 6,-19 -373,-113zM5561,665l12,4 6,-19 -12,-4zM5635,688l13,4 6,-19 -13,-4zM5648,692l254,77 6,-19 -254,-77zM5902,769l13,4 6,-18 -13,-5zM6151,845l13,4 6,-20 -13,-2zM6164,849l271,83 7,-20 -272,-83zM6435,932l14,4 6,-20 -13,-4zM6518,957l14,4 7,-20 -14,-4zM6532,961l244,74 7,-20 -244,-74z"/>
<path color="#e41863" d="M5573,669l13,13 6,-14 -13,-18zM5623,698l12,-10 6,-19 -12,5zM6449,936l12,18 7,-25 -13,-13zM6503,961l15,-4 7,-20 -15,10z"/>
<path color="#ba1b9c" d="M5586,682l14,82 6,-3 -14,-93zM6461,954l7,95 7,-32 -7,-88z"/>
<path color="#7227ab" d="M5600,764l12,19 6,-31 -12,9zM6468,1049l15,-12 5,-3 -13,-17z"/>
<path color="#5d3663" d="M5612,783l11,-85 6,-24 -11,78zM6108,898l15,-37 5,10 -14,28zM6483,1037l20,-76 7,-14 -22,87z"/>
<path color="#e41860" d="M5915,773l12,8 7,-10 -13,-16zM6018,814l14,2 6,-26 -13,-4zM6032,816l13,6 6,-28 -13,-4zM6137,845l14,0 6,-18 -14,7z"/>
<path color="#db187e" d="M5927,781l13,24 6,10 -12,-44z"/>
<path color="#b71e9c" d="M5940,805l12,44 6,2 -12,-36z"/>
<path color="#9921a2" d="M5952,849l13,24 6,-41 -13,19zM6095,913l13,-15 6,1 -12,-27z"/>
<path color="#b41e9c" d="M5965,873l13,-18 7,-56 -14,33zM6082,887l13,26 7,-41 -12,-42z"/>
<path color="#d51887" d="M5978,855l14,-25 7,-46 -14,15zM6070,854l12,33 8,-57 -13,-22z"/>
<path color="#e11572" d="M5992,830l13,-13 7,-34 -13,1zM6057,833l13,21 7,-46 -13,-9z"/>
<path color="#e41866" d="M6005,817l13,-3 7,-28 -13,-3zM6045,822l12,11 7,-34 -13,-5z"/>
<path color="#6c3357" d="M6123,861l14,-16 6,-11 -15,37z"/>
<path color="#e4185d" d="M6776,1035l39,18 6,-20 -38,-18z"/>
<path color="#e4156f" d="M6815,1053l37,25 7,-20 -38,-25z"/>
<path color="#d81881" d="M6852,1078l37,28 7,-19 -37,-29z"/>
<path color="#cf1893" d="M6889,1106l38,25 6,-19 -37,-25z"/>
<path color="#c01b99" d="M6927,1131l38,18 7,-19 -39,-18z"/>
<path color="#e1156f" d="M5183,571l384,117 6,-19 -385,-117zM5642,711l254,78 6,-20 -254,-77zM5896,789l13,4 6,-20 -13,-4zM6145,865l13,4 6,-20 -13,-4zM6158,869l271,82 6,-19 -271,-83zM6512,977l258,79 6,-21 -258,-78z"/>
<path color="#e11575" d="M5567,688l13,9 6,-15 -13,-13zM6497,978l15,-1 6,-20 -15,4zM6770,1056l38,17 7,-20 -39,-18z"/>
<path color="#b71e9c" d="M5580,697l14,68 6,-1 -14,-82zM5985,887l13,-15 7,-55 -13,13zM6050,888l13,23 7,-57 -13,-21z"/>
<path color="#632aab" d="M5594,765l13,46 5,-28 -12,-19zM6461,1078l17,-39 5,-2 -15,12z"/>
<path color="#4b3669" d="M5607,811l10,-86 6,-27 -11,85z"/>
<path color="#db187b" d="M5617,725l12,-17 6,-20 -12,10zM6442,956l12,26 7,-28 -12,-18z"/>
<path color="#e11572" d="M5629,708l13,3 6,-19 -13,-4zM5909,793l13,4 5,-16 -12,-8zM6131,861l14,4 6,-20 -14,0zM6429,951l13,5 7,-20 -14,-4z"/>
<path color="#de187b" d="M5922,797l12,11 6,-3 -13,-24zM6118,864l13,-3 6,-16 -14,16z"/>
<path color="#c91896" d="M5934,808l13,28 5,13 -12,-44z"/>
<path color="#9621a5" d="M5947,836l12,38 6,-1 -13,-24zM5972,894l13,-7 7,-57 -14,25zM6063,911l13,15 6,-39 -12,-33z"/>
<path color="#8124a8" d="M5959,874l13,20 6,-39 -13,18zM6076,926l13,-11 6,-2 -13,-26z"/>
<path color="#cf1896" d="M5998,872l14,-8 6,-50 -13,3zM6038,872l12,16 7,-55 -12,-11z"/>
<path color="#d2188d" d="M6012,864l13,0 7,-48 -14,-2zM6025,864l13,8 7,-50 -13,-6z"/>
<path color="#4e3669" d="M6089,915l15,-31 4,14 -13,15z"/>
<path color="#663363" d="M6104,884l14,-20 5,-3 -15,37z"/>
<path color="#9321a5" d="M6454,982l7,96 7,-29 -7,-95z"/>
<path color="#5d3663" d="M6478,1039l19,-61 6,-17 -20,76z"/>
<path color="#db1881" d="M6808,1073l37,25 7,-20 -37,-25z"/>
<path color="#cf1890" d="M6845,1098l38,28 6,-20 -37,-28z"/>
<path color="#bd1b99" d="M6883,1126l37,25 7,-20 -38,-25z"/>
<path color="#ab1e9f" d="M6920,1151l39,17 6,-19 -38,-18z"/>
<path color="#d81881" d="M5178,589l384,118 5,-19 -384,-117zM5624,727l13,3 5,-19 -13,-3zM5637,730l266,82 6,-19 -267,-82zM5903,812l13,4 6,-19 -13,-4zM6126,880l13,4 6,-19 -14,-4zM6139,884l284,87 6,-20 -284,-86zM6423,971l13,6 6,-21 -13,-5zM6506,997l257,79 7,-20 -258,-79z"/>
<path color="#d81884" d="M5562,707l13,7 5,-17 -13,-9zM5916,816l13,5 5,-13 -12,-11zM6112,878l14,2 5,-19 -13,3zM6491,995l15,2 6,-20 -15,1zM6763,1076l39,17 6,-20 -38,-17z"/>
<path color="#b11e9c" d="M5575,714l13,53 6,-2 -14,-68z"/>
<path color="#5a2dab" d="M5588,767l14,67 5,-23 -13,-46z"/>
<path color="#3c396c" d="M5602,834l10,-80 5,-29 -10,86z"/>
<path color="#cf1893" d="M5612,754l12,-27 5,-19 -12,17zM6436,977l12,35 6,-30 -12,-26z"/>
<path color="#cf1890" d="M5929,821l13,13 5,2 -13,-28zM6099,882l13,-4 6,-14 -14,20z"/>
<path color="#ae1e9f" d="M5942,834l12,26 5,14 -12,-38z"/>
<path color="#8124a8" d="M5954,860l13,32 5,2 -13,-20z"/>
<path color="#6f27ab" d="M5967,892l12,20 6,-25 -13,7zM6057,937l14,-13 5,2 -13,-15z"/>
<path color="#7227ab" d="M5979,912l13,6 6,-46 -13,15zM6044,934l13,3 6,-26 -13,-23zM6448,1012l6,90 7,-24 -7,-96z"/>
<path color="#7e27ab" d="M5992,918l13,0 7,-54 -14,8zM6031,926l13,8 6,-46 -12,-16z"/>
<path color="#8a24a8" d="M6005,918l13,2 7,-56 -13,0zM6018,920l13,6 7,-54 -13,-8z"/>
<path color="#453969" d="M6071,924l14,-24 4,15 -13,11z"/>
<path color="#573666" d="M6085,900l14,-18 5,2 -15,31z"/>
<path color="#333c6c" d="M6454,1102l19,-61 5,-2 -17,39z"/>
<path color="#5a3666" d="M6473,1041l18,-46 6,-17 -19,61z"/>
<path color="#d21890" d="M6802,1093l37,25 6,-20 -37,-25z"/>
<path color="#bd1b99" d="M6839,1118l37,27 7,-19 -38,-28z"/>
<path color="#a51e9f" d="M6876,1145l38,24 6,-18 -37,-25z"/>
<path color="#9621a5" d="M6914,1169l39,18 6,-19 -39,-17z"/>
<path color="#cf1893" d="M5173,608l384,118 5,-19 -384,-118zM5557,726l13,5 5,-17 -13,-7zM5619,747l13,2 5,-19 -13,-3zM5632,749l279,86 5,-19 -279,-86zM5911,835l13,4 5,-18 -13,-5zM6107,896l13,4 6,-20 -14,-2zM6120,900l297,91 6,-20 -297,-91zM6417,991l14,6 5,-20 -13,-6zM6486,1014l14,3 6,-20 -15,-2zM6500,1017l257,79 6,-20 -257,-79z"/>
<path color="#a81e9f" d="M5570,731l13,39 5,-3 -13,-53zM6833,1137l37,27 6,-19 -37,-27z"/>
<path color="#512dae" d="M5583,770l14,80 5,-16 -14,-67z"/>
<path color="#303c6c" d="M5597,850l11,-65 4,-31 -10,80zM6449,1119l20,-74 4,-4 -19,61z"/>
<path color="#ae1e9f" d="M5608,785l11,-38 5,-20 -12,27zM6431,997l10,47 7,-32 -12,-35z"/>
<path color="#cc1896" d="M5924,839l13,6 5,-11 -13,-13zM6094,893l13,3 5,-18 -13,4zM6757,1096l39,17 6,-20 -39,-17z"/>
<path color="#ba1b9c" d="M5937,845l13,12 4,3 -12,-26zM6080,897l14,-4 5,-11 -14,18z"/>
<path color="#9921a2" d="M5950,857l12,20 5,15 -13,-32z"/>
<path color="#3f396c" d="M5962,877l13,24 4,11 -12,-20zM6053,926l13,-16 5,14 -14,13z"/>
<path color="#632aab" d="M5975,901l12,19 5,-2 -13,-6z"/>
<path color="#5d2dab" d="M5987,920l13,12 5,-14 -13,0zM6000,932l13,6 5,-18 -13,-2zM6013,938l13,2 5,-14 -13,-6zM6026,940l13,-3 5,-3 -13,-8z"/>
<path color="#363c6c" d="M6039,937l14,-11 4,11 -13,-3z"/>
<path color="#4e3666" d="M6066,910l14,-13 5,3 -14,24z"/>
<path color="#542dab" d="M6441,1044l8,75 5,-17 -6,-90z"/>
<path color="#573666" d="M6469,1045l17,-31 5,-19 -18,46z"/>
<path color="#bd1b99" d="M6796,1113l37,24 6,-19 -37,-25z"/>
<path color="#9024a5" d="M6870,1164l38,24 6,-19 -38,-24z"/>
<path color="#8124a8" d="M6908,1188l39,18 6,-19 -39,-18z"/>
<path color="#ba1b9c" d="M5169,626l384,119 4,-19 -384,-118zM5627,768l279,86 5,-19 -279,-86zM5906,854l13,4 5,-19 -13,-4zM6102,915l13,4 5,-19 -13,-4zM6115,919l296,92 6,-20 -297,-91zM6494,1036l257,80 6,-20 -257,-79z"/>
<path color="#b71b9c" d="M5553,745l12,4 5,-18 -13,-5zM5919,858l13,4 5,-17 -13,-6zM6088,911l14,4 5,-19 -13,-3zM6480,1033l14,3 6,-19 -14,-3z"/>
<path color="#9c21a2" d="M5565,749l13,27 5,-6 -13,-39zM6464,1052l16,-19 6,-19 -17,31z"/>
<path color="#4e30ae" d="M5578,776l14,85 5,-11 -14,-80z"/>
<path color="#273f6c" d="M5592,861l11,-42 5,-34 -11,65z"/>
<path color="#8a24a8" d="M5603,819l12,-51 4,-21 -11,38zM6425,1019l9,60 7,-35 -10,-47z"/>
<path color="#b71e9c" d="M5615,768l12,0 5,-19 -13,-2zM6411,1011l14,8 6,-22 -14,-6z"/>
<path color="#b41e9c" d="M5932,862l13,6 5,-11 -13,-12zM6075,909l13,2 6,-18 -14,4zM6751,1116l39,17 6,-20 -39,-17z"/>
<path color="#a51e9f" d="M5945,868l12,9 5,0 -12,-20zM6062,910l13,-1 5,-12 -14,13zM6790,1133l37,24 6,-20 -37,-24z"/>
<path color="#9024a5" d="M5957,877l13,14 5,10 -13,-24zM6827,1157l38,26 5,-19 -37,-27z"/>
<path color="#3f396c" d="M5970,891l13,14 4,15 -12,-19zM6035,921l14,-6 4,11 -14,11z"/>
<path color="#393c6c" d="M5983,905l13,12 4,15 -13,-12zM6022,925l13,-4 4,16 -13,3z"/>
<path color="#363c6c" d="M5996,917l13,7 4,14 -13,-6zM6009,924l13,1 4,15 -13,-2z"/>
<path color="#4b3969" d="M6049,915l13,-5 4,0 -13,16z"/>
<path color="#4233ae" d="M6434,1079l10,51 5,-11 -8,-75z"/>
<path color="#2d3c6c" d="M6444,1130l20,-78 5,-7 -20,74z"/>
<path color="#7b27ab" d="M6865,1183l37,24 6,-19 -38,-24z"/>
<path color="#6f2aab" d="M6902,1207l39,17 6,-18 -39,-18z"/>
<path color="#9f21a2" d="M5165,644l383,119 5,-18 -384,-119zM5548,763l12,5 5,-19 -12,-4zM5622,787l292,90 5,-19 -292,-90zM5914,877l13,4 5,-19 -13,-4zM5927,881l13,4 5,-17 -13,-6zM6070,926l13,4 5,-19 -13,-2zM6083,930l14,4 5,-19 -14,-4zM6097,934l309,96 5,-19 -309,-96zM6475,1052l14,4 5,-20 -14,-3zM6489,1056l257,80 5,-20 -257,-80z"/>
<path color="#9024a5" d="M5560,768l13,18 5,-10 -13,-27zM6460,1062l15,-10 5,-19 -16,19z"/>
<path color="#4b30ae" d="M5573,786l14,79 5,-4 -14,-85z"/>
<path color="#3336b1" d="M5587,865l12,-13 4,-33 -11,42zM6428,1114l12,21 4,-5 -10,-51z"/>
<path color="#662aab" d="M5599,852l11,-62 5,-22 -12,51zM6419,1042l9,72 6,-35 -9,-60zM6859,1202l37,24 6,-19 -37,-24z"/>
<path color="#9c21a2" d="M5610,790l12,-3 5,-19 -12,0zM5940,885l13,5 4,-13 -12,-9zM6057,923l13,3 5,-17 -13,1zM6406,1030l13,12 6,-23 -14,-8zM6746,1136l38,17 6,-20 -39,-17z"/>
<path color="#9321a5" d="M5953,890l13,7 4,-6 -13,-14zM6044,921l13,2 5,-13 -13,5z"/>
<path color="#8724a8" d="M5966,897l13,7 4,1 -13,-14zM6031,921l13,0 5,-6 -14,6z"/>
<path color="#7e27ab" d="M5979,904l12,8 5,5 -13,-12z"/>
<path color="#3f396c" d="M5991,912l13,5 5,7 -13,-7zM6004,917l14,3 4,5 -13,-1z"/>
<path color="#423969" d="M6018,920l13,1 4,0 -13,4z"/>
<path color="#2a3f6c" d="M6440,1135l20,-73 4,-10 -20,78z"/>
<path color="#8d24a5" d="M6784,1153l38,23 5,-19 -37,-24z"/>
<path color="#7827ab" d="M6822,1176l37,26 6,-19 -38,-26z"/>
<path color="#5d2dab" d="M6896,1226l39,17 6,-19 -39,-17z"/>
<path color="#8724a8" d="M5161,663l383,119 4,-19 -383,-119zM5544,782l12,4 4,-18 -12,-5zM5618,806l12,3 5,-19 -13,-3zM5630,809l292,91 5,-19 -292,-91zM5922,900l13,4 5,-19 -13,-4zM5935,904l13,4 5,-18 -13,-5zM6052,941l13,4 5,-19 -13,-3zM6065,945l14,4 4,-19 -13,-4zM6079,949l308,96 5,-19 -309,-96zM6387,1045l14,5 5,-20 -14,-4zM6470,1071l13,4 6,-19 -14,-4zM6483,1075l257,81 6,-20 -257,-80z"/>
<path color="#7e27ab" d="M5556,786l13,12 4,-12 -13,-18zM5606,815l12,-9 4,-19 -12,3zM5974,917l13,5 4,-10 -12,-8zM6013,930l13,4 5,-13 -13,-1zM6401,1050l12,18 6,-26 -13,-12zM6455,1075l15,-4 5,-19 -15,10z"/>
<path color="#4830ae" d="M5569,798l14,68 4,-1 -14,-79zM5595,884l11,-69 4,-25 -11,62zM6413,1068l8,78 7,-32 -9,-72z"/>
<path color="#3042b7" d="M5583,866l12,18 4,-32 -12,13zM6421,1146l15,-9 4,-2 -12,-21z"/>
<path color="#8424a8" d="M5948,908l13,5 5,-16 -13,-7zM6039,937l13,4 5,-18 -13,-2zM6740,1156l38,16 6,-19 -38,-17z"/>
<path color="#8124a8" d="M5961,913l13,4 5,-13 -13,-7zM6026,934l13,3 5,-16 -13,0z"/>
<path color="#7b27ab" d="M5987,922l13,5 4,-10 -13,-5zM6000,927l13,3 5,-10 -14,-3z"/>
<path color="#2a3f6c" d="M6436,1137l19,-62 5,-13 -20,73z"/>
<path color="#7827ab" d="M6778,1172l38,23 6,-19 -38,-23z"/>
<path color="#662aab" d="M6816,1195l37,26 6,-19 -37,-26z"/>
<path color="#542dab" d="M6853,1221l38,23 5,-18 -37,-24z"/>
<path color="#4e30ae" d="M6891,1244l38,17 6,-18 -39,-17z"/>
<path color="#7227ab" d="M5157,681l395,124 4,-19 -395,-123zM5614,825l12,3 4,-19 -12,-3zM5626,828l317,99 5,-19 -318,-99zM5943,927l13,4 5,-18 -13,-5zM6034,956l14,4 4,-19 -13,-4zM6048,960l334,105 5,-20 -335,-104zM6382,1065l14,5 5,-20 -14,-5zM6464,1091l271,84 5,-19 -270,-85z"/>
<path color="#6c2aab" d="M5552,805l12,8 5,-15 -13,-12zM6450,1090l14,1 6,-20 -15,4z"/>
<path color="#4533ae" d="M5564,813l14,53 5,0 -14,-68z"/>
<path color="#304bba" d="M5578,866l13,44 4,-26 -12,-18zM6416,1174l16,-37 4,0 -15,9z"/>
<path color="#3339b1" d="M5591,910l11,-67 4,-28 -11,69zM6408,1096l8,78 5,-28 -8,-78z"/>
<path color="#632aab" d="M5602,843l12,-18 4,-19 -12,9zM6396,1070l12,26 5,-28 -12,-18zM6773,1192l37,23 6,-20 -38,-23z"/>
<path color="#6f27ab" d="M5956,931l13,4 5,-18 -13,-4zM5969,935l13,5 5,-18 -13,-5zM5982,940l13,4 5,-17 -13,-5zM5995,944l13,4 5,-18 -13,-3zM6008,948l13,4 5,-18 -13,-4zM6021,952l13,4 5,-19 -13,-3z"/>
<path color="#2a3f6c" d="M6432,1137l18,-47 5,-15 -19,62z"/>
<path color="#6f2aab" d="M6735,1175l38,17 5,-20 -38,-16z"/>
<path color="#542dab" d="M6810,1215l38,24 5,-18 -37,-26z"/>
<path color="#4830ae" d="M6848,1239l37,23 6,-18 -38,-23z"/>
<path color="#3f33b1" d="M6885,1262l39,17 5,-18 -38,-17z"/>
<path color="#5d2dab" d="M5153,699l395,124 4,-18 -395,-124zM5610,844l12,2 4,-18 -12,-3zM5622,846l755,238 5,-19 -756,-237zM6377,1084l14,6 5,-20 -14,-5zM6459,1110l270,85 6,-20 -271,-84z"/>
<path color="#5a2dab" d="M5548,823l12,6 4,-16 -12,-8zM6445,1107l14,3 5,-19 -14,-1zM6729,1195l38,16 6,-19 -38,-17z"/>
<path color="#4233ae" d="M5560,829l13,38 5,-1 -14,-53z"/>
<path color="#2d54bd" d="M5573,867l14,63 4,-20 -13,-44z"/>
<path color="#304bba" d="M5587,930l11,-56 4,-31 -11,67zM6402,1128l9,66 5,-20 -8,-78z"/>
<path color="#4b30ae" d="M5598,874l12,-30 4,-19 -12,18zM6391,1090l11,38 6,-32 -12,-26z"/>
<path color="#1e4e72" d="M6411,1194l18,-55 3,-2 -16,37z"/>
<path color="#273f6c" d="M6429,1139l16,-32 5,-17 -18,47z"/>
<path color="#512dae" d="M6767,1211l38,23 5,-19 -37,-23z"/>
<path color="#4530ae" d="M6805,1234l37,24 6,-19 -38,-24z"/>
<path color="#3936b1" d="M6842,1258l38,23 5,-19 -37,-23z"/>
<path color="#3336b1" d="M6880,1281l39,16 5,-18 -39,-17z"/>
<path color="#4b30ae" d="M5150,717l394,125 4,-19 -395,-124zM5544,842l12,4 4,-17 -12,-6zM5606,865l12,0 4,-19 -12,-2zM5618,865l754,238 5,-19 -755,-238zM6372,1103l13,9 6,-22 -14,-6zM6440,1126l14,3 5,-19 -14,-3zM6454,1129l270,85 5,-19 -270,-85zM6724,1214l38,17 5,-20 -38,-16z"/>
<path color="#3c33b1" d="M5556,846l13,26 4,-5 -13,-38zM6425,1143l15,-17 5,-19 -16,32z"/>
<path color="#2d57bd" d="M5569,872l14,69 4,-11 -14,-63z"/>
<path color="#2d60c0" d="M5583,941l11,-34 4,-33 -11,56zM6396,1162l10,44 5,-12 -9,-66z"/>
<path color="#3336b1" d="M5594,907l12,-42 4,-21 -12,30zM6385,1112l11,50 6,-34 -11,-38z"/>
<path color="#1e4e72" d="M6406,1206l19,-63 4,-4 -18,55z"/>
<path color="#4233ae" d="M6762,1231l38,22 5,-19 -38,-23z"/>
<path color="#3636b1" d="M6800,1253l37,24 5,-19 -37,-24z"/>
<path color="#303cb4" d="M6837,1277l38,22 5,-18 -38,-23z"/>
<path color="#3042b7" d="M6875,1299l38,16 6,-18 -39,-16z"/>
<path color="#3c33b1" d="M5146,735l394,125 4,-18 -394,-125zM5540,860l12,4 4,-18 -12,-4zM5614,884l12,3 4,-18 -12,-4zM5626,887l728,231 4,-19 -728,-230zM6354,1118l13,5 5,-20 -14,-4zM6435,1144l14,4 5,-19 -14,-3zM6449,1148l269,86 6,-20 -270,-85zM6718,1234l39,16 5,-19 -38,-17z"/>
<path color="#3336b1" d="M5552,864l13,16 4,-8 -13,-26zM6421,1152l14,-8 5,-18 -15,17zM6757,1250l37,22 6,-19 -38,-22z"/>
<path color="#2d5abd" d="M5565,880l14,66 4,-5 -14,-69z"/>
<path color="#2a7ec3" d="M5579,946l12,-6 3,-33 -11,34zM6390,1197l12,14 4,-5 -10,-44z"/>
<path color="#304bba" d="M5591,940l11,-52 4,-23 -12,42zM6380,1135l10,62 6,-35 -11,-50z"/>
<path color="#3936b1" d="M5602,888l12,-4 4,-19 -12,0zM6367,1123l13,12 5,-23 -13,-9z"/>
<path color="#1e5175" d="M6402,1211l19,-59 4,-9 -19,63z"/>
<path color="#303fb4" d="M6794,1272l38,23 5,-18 -37,-24z"/>
<path color="#3048b7" d="M6832,1295l37,22 6,-18 -38,-22z"/>
<path color="#304eba" d="M6869,1317l39,17 5,-19 -38,-16z"/>
<path color="#3339b4" d="M5143,753l393,125 4,-18 -394,-125zM5536,878l12,4 4,-18 -12,-4zM5622,906l727,231 5,-19 -728,-231zM6430,1163l14,5 5,-20 -14,-4zM6444,1168l269,85 5,-19 -269,-86z"/>
<path color="#303fb4" d="M5548,882l13,10 4,-12 -13,-16zM5598,914l12,-12 4,-18 -12,4zM6362,1142l13,20 5,-27 -13,-12zM6416,1165l14,-2 5,-19 -14,8z"/>
<path color="#2d5dc0" d="M5561,892l13,54 5,0 -14,-66z"/>
<path color="#2a96c6" d="M5574,946l13,24 4,-30 -12,6zM6384,1227l15,-15 3,-1 -12,-14z"/>
<path color="#2d66c0" d="M5587,970l11,-56 4,-26 -11,52zM6375,1162l9,65 6,-30 -10,-62z"/>
<path color="#303cb4" d="M5610,902l12,4 4,-19 -12,-3zM6349,1137l13,5 5,-19 -13,-5zM6713,1253l38,16 6,-19 -39,-16z"/>
<path color="#1e5175" d="M6399,1212l17,-47 5,-13 -19,59z"/>
<path color="#3042b7" d="M6751,1269l38,22 5,-19 -37,-22z"/>
<path color="#304bba" d="M6789,1291l37,23 6,-19 -38,-23z"/>
<path color="#2d54bd" d="M6826,1314l38,21 5,-18 -37,-22z"/>
<path color="#2d5abd" d="M6864,1335l39,17 5,-18 -39,-17z"/>
<path color="#3048b7" d="M5139,771l405,130 4,-19 -405,-129zM5544,901l12,6 5,-15 -13,-10zM5606,922l12,2 4,-18 -12,-4zM5618,924l726,232 5,-19 -727,-231zM6344,1156l13,6 5,-20 -13,-5zM6412,1181l14,1 4,-19 -14,2zM6426,1182l282,91 5,-20 -283,-90zM6708,1273l38,16 5,-20 -38,-16z"/>
<path color="#2d63c0" d="M5556,907l14,39 4,0 -13,-54z"/>
<path color="#2aa2c0" d="M5570,946l13,47 4,-23 -13,-24zM6379,1251l16,-39 4,0 -15,15z"/>
<path color="#2a90c6" d="M5583,993l11,-50 4,-29 -11,56zM6369,1192l10,59 5,-24 -9,-65z"/>
<path color="#2d51ba" d="M5594,943l12,-21 4,-20 -12,12zM6357,1162l12,30 6,-30 -13,-20z"/>
<path color="#1e5475" d="M6395,1212l17,-31 4,-16 -17,47z"/>
<path color="#304eba" d="M6746,1289l38,21 5,-19 -38,-22z"/>
<path color="#2d57bd" d="M6784,1310l37,22 5,-18 -37,-23z"/>
<path color="#2d66c0" d="M6821,1332l38,21 5,-18 -38,-21z"/>
<path color="#2a6fc0" d="M6859,1353l38,17 6,-18 -39,-17z"/>
<path color="#2d54bd" d="M5136,789l404,130 4,-18 -405,-130zM5540,919l13,5 3,-17 -12,-6zM5602,942l12,1 4,-19 -12,-2zM5614,943l725,232 5,-19 -726,-232zM6339,1175l13,8 5,-21 -13,-6zM6407,1198l14,3 5,-19 -14,-1zM6421,1201l282,91 5,-19 -282,-91zM6703,1292l38,16 5,-19 -38,-16z"/>
<path color="#2d6cc0" d="M5553,924l12,25 5,-3 -14,-39zM6392,1215l15,-17 5,-17 -17,31zM6778,1328l38,23 5,-19 -37,-22z"/>
<path color="#2aa5b4" d="M5565,949l14,57 4,-13 -13,-47z"/>
<path color="#2aa8b1" d="M5579,1006l11,-30 4,-33 -11,50zM6363,1226l11,39 5,-14 -10,-59z"/>
<path color="#2a6fc0" d="M5590,976l12,-34 4,-20 -12,21zM6352,1183l11,43 6,-34 -12,-30z"/>
<path color="#1e726f" d="M6374,1265l18,-50 3,-3 -16,39z"/>
<path color="#2d5abd" d="M6741,1308l37,20 6,-18 -38,-21z"/>
<path color="#2a7bc3" d="M6816,1351l37,20 6,-18 -38,-21z"/>
<path color="#2a87c3" d="M6853,1371l39,16 5,-17 -38,-17z"/>
<path color="#2d66c0" d="M5132,807l404,130 4,-18 -404,-130zM5610,961l13,4 4,-18 -13,-4zM5623,965l698,225 4,-19 -698,-224zM6321,1190l13,4 5,-19 -14,-4zM6416,1220l281,91 6,-19 -282,-91z"/>
<path color="#2d69c0" d="M5536,937l13,4 4,-17 -13,-5zM6402,1216l14,4 5,-19 -14,-3zM6697,1311l38,16 6,-19 -38,-16z"/>
<path color="#2a78c3" d="M5549,941l12,15 4,-7 -12,-25zM6388,1223l14,-7 5,-18 -15,17z"/>
<path color="#2da8ae" d="M5561,956l14,55 4,-5 -14,-57z"/>
<path color="#30b18d" d="M5575,1011l12,-2 3,-33 -11,30zM6357,1260l13,10 4,-5 -11,-39z"/>
<path color="#2799c6" d="M5587,1009l11,-43 4,-24 -12,34zM6347,1207l10,53 6,-34 -11,-43z"/>
<path color="#2d6cc0" d="M5598,966l12,-5 4,-18 -12,-1zM6334,1194l13,13 5,-24 -13,-8z"/>
<path color="#1e726c" d="M6370,1270l18,-47 4,-8 -18,50z"/>
<path color="#2a75c3" d="M6735,1327l38,20 5,-19 -37,-20z"/>
<path color="#2a84c3" d="M6773,1347l37,22 6,-18 -38,-23z"/>
<path color="#2a93c6" d="M6810,1369l38,20 5,-18 -37,-20z"/>
<path color="#279fc9" d="M6848,1389l39,16 5,-18 -39,-16z"/>
<path color="#2a81c3" d="M5129,825l403,130 4,-18 -404,-130zM5532,955l13,5 4,-19 -13,-4zM5606,980l12,3 5,-18 -13,-4zM5618,983l698,226 5,-19 -698,-225zM6316,1209l13,5 5,-20 -13,-4zM6397,1235l14,5 5,-20 -14,-4zM6411,1240l281,90 5,-19 -281,-91z"/>
<path color="#2a87c6" d="M5545,960l12,8 4,-12 -12,-15zM6383,1236l14,-1 5,-19 -14,7z"/>
<path color="#2da8ab" d="M5557,968l13,43 5,0 -14,-55z"/>
<path color="#33b478" d="M5570,1011l13,26 4,-28 -12,2zM6352,1289l15,-18 3,-1 -13,-10z"/>
<path color="#2dab9c" d="M5583,1037l11,-44 4,-27 -11,43zM6342,1235l10,54 5,-29 -10,-53z"/>
<path color="#2a8dc6" d="M5594,993l12,-13 4,-19 -12,5zM6329,1214l13,21 5,-28 -13,-13zM6730,1346l38,20 5,-19 -38,-20z"/>
<path color="#1e756c" d="M6367,1271l16,-35 5,-13 -18,47z"/>
<path color="#2a84c3" d="M6692,1330l38,16 5,-19 -38,-16z"/>
<path color="#279cc6" d="M6768,1366l37,21 5,-18 -37,-22z"/>
<path color="#2aa5ba" d="M6805,1387l38,21 5,-19 -38,-20z"/>
<path color="#2da8ae" d="M6843,1408l38,15 6,-18 -39,-16z"/>
<path color="#2799c6" d="M5125,843l416,135 4,-18 -416,-135zM5614,1002l697,226 5,-19 -698,-226zM6392,1254l295,96 5,-20 -295,-95z"/>
<path color="#279cc9" d="M5541,978l12,5 4,-15 -12,-8zM6379,1252l13,2 5,-19 -14,1zM6687,1350l38,15 5,-19 -38,-16z"/>
<path color="#2daba5" d="M5553,983l13,29 4,-1 -13,-43zM6363,1272l16,-20 4,-16 -16,35z"/>
<path color="#36b76c" d="M5566,1012l13,44 4,-19 -13,-26zM6347,1309l16,-37 4,-1 -15,18z"/>
<path color="#33b475" d="M5579,1056l12,-32 3,-31 -11,44zM6336,1267l11,42 5,-20 -10,-54z"/>
<path color="#2aa5b4" d="M5591,1024l11,-24 4,-20 -12,13zM6324,1235l12,32 6,-32 -13,-21z"/>
<path color="#279cc6" d="M5602,1000l12,2 4,-19 -12,-3zM6311,1228l13,7 5,-21 -13,-5z"/>
<path color="#2aa2c0" d="M6725,1365l37,20 6,-19 -38,-20z"/>
<path color="#2aa8b1" d="M6762,1385l38,21 5,-19 -37,-21z"/>
<path color="#2dab9f" d="M6800,1406l38,20 5,-18 -38,-21z"/>
<path color="#30ae96" d="M6838,1426l38,15 5,-18 -38,-15z"/>
<path color="#2aa8b1" d="M5122,861l415,135 4,-18 -416,-135zM5537,996l12,4 4,-17 -12,-5zM5610,1020l13,4 4,-18 -13,-4zM5623,1024l670,218 5,-19 -671,-217zM6293,1242l13,5 5,-19 -13,-5zM6374,1269l13,4 5,-19 -13,-2zM6387,1273l295,96 5,-19 -295,-96z"/>
<path color="#2dae9c" d="M5549,1000l12,17 5,-5 -13,-29zM6359,1278l15,-9 5,-17 -16,20z"/>
<path color="#36b766" d="M5561,1017l14,48 4,-9 -13,-44z"/>
<path color="#39b757" d="M5575,1065l12,-8 4,-33 -12,32zM6330,1301l13,17 4,-9 -11,-42z"/>
<path color="#33b484" d="M5587,1057l11,-34 4,-23 -11,24zM6319,1258l11,43 6,-34 -12,-32zM6795,1424l37,20 6,-18 -38,-20z"/>
<path color="#2da8ab" d="M5598,1023l12,-3 4,-18 -12,-2zM6306,1247l13,11 5,-23 -13,-7z"/>
<path color="#217b4b" d="M6343,1318l16,-40 4,-6 -16,37z"/>
<path color="#2da8ae" d="M6682,1369l37,15 6,-19 -38,-15z"/>
<path color="#2daba5" d="M6719,1384l38,20 5,-19 -37,-20z"/>
<path color="#30ae93" d="M6757,1404l38,20 5,-18 -38,-21z"/>
<path color="#33b47b" d="M6832,1444l39,15 5,-18 -38,-15z"/>
<path color="#30ae93" d="M5118,879l415,135 4,-18 -415,-135zM5533,1014l12,4 4,-18 -12,-4zM5606,1039l13,3 4,-18 -13,-4zM5619,1042l669,219 5,-19 -670,-218zM6288,1261l13,5 5,-19 -13,-5zM6369,1288l13,4 5,-19 -13,-4zM6382,1292l294,96 6,-19 -295,-96z"/>
<path color="#30b18a" d="M5545,1018l12,10 4,-11 -12,-17zM6355,1289l14,-1 5,-19 -15,9z"/>
<path color="#36b763" d="M5557,1028l13,38 5,-1 -14,-48z"/>
<path color="#3cba45" d="M5570,1066l13,20 4,-29 -12,8zM6324,1331l15,-12 4,-1 -13,-17z"/>
<path color="#36b760" d="M5583,1086l11,-37 4,-26 -11,34zM6314,1285l10,46 6,-30 -11,-43z"/>
<path color="#30b487" d="M5594,1049l12,-10 4,-19 -12,3zM6301,1266l13,19 5,-27 -13,-11zM6714,1403l38,19 5,-18 -38,-20z"/>
<path color="#247b4b" d="M6339,1319l16,-30 4,-11 -16,40z"/>
<path color="#30b190" d="M6676,1388l38,15 5,-19 -37,-15z"/>
<path color="#33b47b" d="M6752,1422l37,21 6,-19 -38,-20z"/>
<path color="#36b46f" d="M6789,1443l38,19 5,-18 -37,-20z"/>
<path color="#36b769" d="M6827,1462l38,15 6,-18 -39,-15z"/>
<path color="#33b47b" d="M5114,896l414,136 5,-18 -415,-135zM6377,1311l294,97 5,-20 -294,-96z"/>
<path color="#33b478" d="M5528,1032l13,4 4,-18 -12,-4zM5541,1036l12,6 4,-14 -12,-10zM5602,1060l12,1 5,-19 -13,-3zM5614,1061l669,219 5,-19 -669,-219zM6283,1280l13,8 5,-22 -13,-5zM6350,1304l14,3 5,-19 -14,1zM6364,1307l13,4 5,-19 -13,-4zM6671,1408l38,15 5,-20 -38,-15z"/>
<path color="#36b760" d="M5553,1042l13,25 4,-1 -13,-38zM6335,1321l15,-17 5,-15 -16,30z"/>
<path color="#3fba3f" d="M5566,1067l13,38 4,-19 -13,-20zM6319,1350l16,-29 4,-2 -15,12z"/>
<path color="#3cba42" d="M5579,1105l11,-24 4,-32 -11,37zM6308,1318l11,32 5,-19 -10,-46z"/>
<path color="#36b769" d="M5590,1081l12,-21 4,-21 -12,10zM6296,1288l12,30 6,-33 -13,-19z"/>
<path color="#36b472" d="M6709,1423l37,18 6,-19 -38,-19z"/>
<path color="#36b766" d="M6746,1441l38,20 5,-18 -37,-21z"/>
<path color="#39b75d" d="M6784,1461l38,19 5,-18 -38,-19z"/>
<path color="#39b757" d="M6822,1480l38,15 5,-18 -38,-15z"/>
<path color="#36b766" d="M5110,914l426,141 5,-19 -427,-140zM5610,1079l12,4 5,-18 -13,-4zM5622,1083l642,212 5,-19 -642,-211zM6264,1295l14,5 5,-20 -14,-4zM6359,1326l306,101 6,-19 -307,-101z"/>
<path color="#36b763" d="M5536,1055l13,4 4,-17 -12,-6zM6345,1322l14,4 5,-19 -14,-3zM6665,1427l38,15 6,-19 -38,-15z"/>
<path color="#39b757" d="M5549,1059l12,14 5,-6 -13,-25zM6331,1327l14,-5 5,-18 -15,17z"/>
<path color="#3fba3f" d="M5561,1073l13,39 5,-7 -13,-38z"/>
<path color="#42ba3f" d="M5574,1112l12,1 4,-32 -11,24zM6302,1351l13,7 4,-8 -11,-32z"/>
<path color="#3cba45" d="M5586,1113l12,-29 4,-24 -12,21zM6291,1312l11,39 6,-33 -12,-30zM6816,1498l39,15 5,-18 -38,-15z"/>
<path color="#36b760" d="M5598,1084l12,-5 4,-18 -12,-1zM6278,1300l13,12 5,-24 -13,-8z"/>
<path color="#277b3c" d="M6315,1358l16,-31 4,-6 -16,29z"/>
<path color="#39b75d" d="M6703,1442l38,18 5,-19 -37,-18z"/>
<path color="#39b754" d="M6741,1460l37,19 6,-18 -38,-20z"/>
<path color="#3cb74b" d="M6778,1479l38,19 6,-18 -38,-19z"/>
<path color="#39b751" d="M5106,932l426,141 4,-18 -426,-141zM5532,1073l12,4 5,-18 -13,-4zM5606,1099l12,2 4,-18 -12,-4zM5618,1101l641,213 5,-19 -642,-212zM6259,1314l14,6 5,-20 -14,-5zM6340,1340l13,5 6,-19 -14,-4zM6353,1345l307,101 5,-19 -306,-101z"/>
<path color="#39b74b" d="M5544,1077l13,7 4,-11 -12,-14zM6326,1339l14,1 5,-18 -14,5z"/>
<path color="#3fba3f" d="M5557,1084l13,29 4,-1 -13,-39zM6773,1498l38,18 5,-18 -38,-19zM6811,1516l38,15 6,-18 -39,-15z"/>
<path color="#45bd3f" d="M5570,1113l12,25 4,-25 -12,-1zM6296,1377l15,-18 4,-1 -13,-7z"/>
<path color="#42ba3f" d="M5582,1138l12,-25 4,-29 -12,29zM6285,1342l11,35 6,-26 -11,-39z"/>
<path color="#3cba45" d="M5594,1113l12,-14 4,-20 -12,5zM6273,1320l12,22 6,-30 -13,-12z"/>
<path color="#277b3c" d="M6311,1359l15,-20 5,-12 -16,31z"/>
<path color="#39b74e" d="M6660,1446l38,15 5,-19 -38,-15z"/>
<path color="#3cb748" d="M6698,1461l37,18 6,-19 -38,-18z"/>
<path color="#3cba42" d="M6735,1479l38,19 5,-19 -37,-19z"/>
<path color="#3cba42" d="M5102,950l438,145 4,-18 -438,-145zM5540,1095l12,5 5,-16 -13,-7zM5601,1122l12,-2 5,-19 -12,-2zM5613,1120l13,4 4,-19 -12,-4zM5626,1124l615,204 5,-19 -616,-204zM6241,1328l13,5 5,-19 -13,-5zM6254,1333l13,10 6,-23 -14,-6zM6321,1356l14,3 5,-19 -14,-1zM6335,1359l319,106 6,-19 -320,-106zM6654,1465l38,15 6,-19 -38,-15z"/>
<path color="#3fba3f" d="M5552,1100l13,16 5,-3 -13,-29zM6307,1363l14,-7 5,-17 -15,20zM6692,1480l38,18 5,-19 -37,-18zM6730,1498l37,18 6,-18 -38,-19z"/>
<path color="#45bd3f" d="M5565,1116l13,34 4,-12 -12,-25zM5578,1150l12,-5 4,-32 -12,25zM6279,1376l13,13 4,-12 -11,-35zM6292,1389l15,-26 4,-4 -15,18z"/>
<path color="#42ba3f" d="M5590,1145l11,-23 5,-23 -12,14zM6267,1343l12,33 6,-34 -12,-22zM6767,1516l38,18 6,-18 -38,-18zM6805,1534l39,15 5,-18 -38,-15z"/>
<path color="#3fba3f" d="M5098,968l437,146 5,-19 -438,-145zM5535,1114l12,4 5,-18 -12,-5zM5609,1140l12,2 5,-18 -13,-4zM5621,1142l615,205 5,-19 -615,-204zM6236,1347l13,6 5,-20 -13,-5zM6316,1374l13,4 6,-19 -14,-3zM6329,1378l320,107 5,-20 -319,-106zM6649,1485l37,14 6,-19 -38,-15z"/>
<path color="#42ba3f" d="M5547,1118l13,8 5,-10 -13,-16zM5597,1151l12,-11 4,-20 -12,2zM6249,1353l12,20 6,-30 -13,-10zM6302,1373l14,1 5,-18 -14,7zM6686,1499l38,18 6,-19 -38,-18zM6724,1517l38,18 5,-19 -37,-18z"/>
<path color="#45bd3f" d="M5560,1126l13,26 5,-2 -13,-34zM5585,1172l12,-21 4,-29 -11,23zM6261,1373l12,30 6,-27 -12,-33zM6762,1535l37,17 6,-18 -38,-18zM6799,1552l39,15 6,-18 -39,-15z"/>
<path color="#48bd3c" d="M5573,1152l12,20 5,-27 -12,5zM6273,1403l14,-11 5,-3 -13,-13z"/>
<path color="#2a7e39" d="M6287,1392l15,-19 5,-10 -15,26z"/>
<path color="#45bd3f" d="M5094,986l436,146 5,-18 -437,-146zM5530,1132l13,4 4,-18 -12,-4zM5543,1136l12,5 5,-15 -13,-8zM5555,1141l12,14 6,-3 -13,-26zM5604,1163l12,-2 5,-19 -12,-2zM5616,1161l12,4 5,-19 -12,-4zM5628,1165l589,197 5,-19 -589,-197zM6217,1362l13,5 6,-20 -14,-4zM6230,1367l13,10 6,-24 -13,-6zM6283,1395l14,-6 5,-16 -15,19zM6297,1389l13,4 6,-19 -14,-1zM6310,1393l14,5 5,-20 -13,-4zM6324,1398l319,106 6,-19 -320,-107zM6643,1504l37,15 6,-20 -37,-14zM6680,1519l38,17 6,-19 -38,-18zM6718,1536l38,18 6,-19 -38,-18z"/>
<path color="#4bbd3c" d="M5567,1155l13,30 5,-13 -12,-20zM6268,1417l15,-22 4,-3 -14,11z"/>
<path color="#51c03c" d="M5580,1185l12,-2 5,-32 -12,21zM6255,1406l13,11 5,-14 -12,-30z"/>
<path color="#48bd3c" d="M5592,1183l12,-20 5,-23 -12,11zM6243,1377l12,29 6,-33 -12,-20zM6756,1554l38,17 5,-19 -37,-17zM6794,1571l38,14 6,-18 -39,-15z"/>
<path color="#48bd3c" d="M5089,1004l449,151 5,-19 -449,-150zM5538,1155l12,4 5,-18 -12,-5zM5550,1159l12,7 5,-11 -12,-14zM5599,1193l12,-11 5,-21 -12,2zM5611,1182l12,1 5,-18 -12,-4zM5623,1183l588,198 6,-19 -589,-197zM6211,1381l13,7 6,-21 -13,-5zM6224,1388l13,20 6,-31 -13,-10zM6278,1406l13,2 6,-19 -14,6zM6291,1408l14,4 5,-19 -13,-4zM6305,1412l332,112 6,-20 -333,-111zM6637,1524l38,14 5,-19 -37,-15zM6675,1538l37,17 6,-19 -38,-17zM6712,1555l38,17 6,-18 -38,-18z"/>
<path color="#4ec03c" d="M5562,1166l13,21 5,-2 -13,-30zM6263,1419l15,-13 5,-11 -15,22z"/>
<path color="#6fc636" d="M5575,1187l13,21 4,-25 -12,2zM6249,1431l14,-12 5,-2 -13,-11z"/>
<path color="#5ac339" d="M5588,1208l11,-15 5,-30 -12,20zM6237,1408l12,23 6,-25 -12,-29z"/>
<path color="#4bbd3c" d="M6750,1572l38,17 6,-18 -38,-17zM6788,1589l38,15 6,-19 -38,-14z"/>
<path color="#4bbd3c" d="M5085,1022l460,155 5,-18 -461,-155zM5545,1177l12,5 5,-16 -12,-7zM5606,1208l12,-5 5,-20 -12,-1zM5618,1203l13,3 5,-18 -13,-5zM5631,1206l561,190 6,-20 -562,-188zM6192,1396l14,5 5,-20 -13,-5zM6206,1401l12,14 6,-27 -13,-7zM6272,1423l13,4 6,-19 -13,-2zM6285,1427l346,116 6,-19 -346,-116zM6631,1543l37,15 7,-20 -38,-14zM6668,1558l38,16 6,-19 -37,-17z"/>
<path color="#57c039" d="M5557,1182l12,10 6,-5 -13,-21zM6258,1425l14,-2 6,-17 -15,13z"/>
<path color="#7bc933" d="M5569,1192l13,25 6,-9 -13,-21zM6244,1441l14,-16 5,-6 -14,12z"/>
<path color="#87cc33" d="M5582,1217l12,7 5,-31 -11,15zM6230,1439l14,2 5,-10 -12,-23z"/>
<path color="#69c336" d="M5594,1224l12,-16 5,-26 -12,11zM6218,1415l12,24 7,-31 -13,-20z"/>
<path color="#54c039" d="M6706,1574l38,17 6,-19 -38,-17z"/>
<path color="#5dc339" d="M6744,1591l38,17 6,-19 -38,-17z"/>
<path color="#66c339" d="M6782,1608l38,14 6,-18 -38,-15z"/>
<path color="#63c339" d="M5079,1040l460,156 6,-19 -460,-155zM5539,1196l12,4 6,-18 -12,-5zM5625,1225l12,4 6,-19 -12,-4zM5637,1229l536,181 6,-19 -536,-181zM6173,1410l13,5 6,-19 -13,-5zM6266,1442l13,4 6,-19 -13,-4zM6279,1446l345,117 7,-20 -346,-116zM6624,1563l38,14 6,-19 -37,-15z"/>
<path color="#66c336" d="M5551,1200l13,5 5,-13 -12,-10zM5613,1226l12,-1 6,-19 -13,-3zM6186,1415l13,10 7,-24 -14,-5zM6253,1438l13,4 6,-19 -14,2z"/>
<path color="#7ec933" d="M5564,1205l12,14 6,-2 -13,-25zM6239,1444l14,-6 5,-13 -14,16z"/>
<path color="#9ccf2d" d="M5576,1219l13,22 5,-17 -12,-7zM6225,1457l14,-13 5,-3 -14,-2z"/>
<path color="#99cf30" d="M5589,1241l12,-2 5,-31 -12,16zM6212,1447l13,10 5,-18 -12,-24z"/>
<path color="#7bc933" d="M5601,1239l12,-13 5,-23 -12,5zM6199,1425l13,22 6,-32 -12,-14zM6737,1610l38,16 7,-18 -38,-17z"/>
<path color="#69c636" d="M6662,1577l38,16 6,-19 -38,-16z"/>
<path color="#72c636" d="M6700,1593l37,17 7,-19 -38,-17z"/>
<path color="#81c933" d="M6775,1626l39,15 6,-19 -38,-14z"/>
<path color="#81c933" d="M5074,1058l472,160 5,-18 -472,-160zM5546,1218l12,5 6,-18 -13,-5zM5632,1248l12,4 6,-19 -13,-4zM5644,1252l510,173 6,-19 -510,-173zM6154,1425l13,5 6,-20 -13,-4zM6247,1457l13,4 6,-19 -13,-4zM6260,1461l358,122 6,-20 -358,-121zM6618,1583l38,14 6,-20 -38,-14z"/>
<path color="#8acc33" d="M5558,1223l12,6 6,-10 -12,-14zM6233,1454l14,3 6,-19 -14,6z"/>
<path color="#a2d22d" d="M5570,1229l13,16 6,-4 -13,-22zM6219,1462l14,-8 6,-10 -14,13z"/>
<path color="#b4d52a" d="M5583,1245l12,17 6,-23 -12,2zM6205,1471l14,-9 6,-5 -13,-10z"/>
<path color="#abd22d" d="M5595,1262l12,-5 6,-31 -12,13zM6193,1456l12,15 7,-24 -13,-22z"/>
<path color="#90cf30" d="M5607,1257l12,-10 6,-22 -12,1zM6180,1438l13,18 6,-31 -13,-10z"/>
<path color="#84c933" d="M5619,1247l13,1 5,-19 -12,-4zM6167,1430l13,8 6,-23 -13,-5z"/>
<path color="#87cc33" d="M6656,1597l37,15 7,-19 -38,-16z"/>
<path color="#90cc30" d="M6693,1612l38,17 6,-19 -37,-17z"/>
<path color="#96cf30" d="M6731,1629l38,16 6,-19 -38,-16z"/>
<path color="#9ccf30" d="M6769,1645l38,14 7,-18 -39,-15z"/>
<path color="#9fcf2d" d="M5068,1076l484,165 6,-18 -484,-165zM5638,1271l12,4 6,-19 -12,-4zM6134,1440l14,5 6,-20 -13,-4zM6240,1476l371,126 7,-19 -371,-126z"/>
<path color="#9fd22d" d="M5552,1241l12,4 6,-16 -12,-6zM5626,1270l12,1 6,-19 -12,-4zM6148,1445l13,7 6,-22 -13,-5zM6227,1471l13,5 7,-19 -14,-3zM6611,1602l38,14 7,-19 -38,-14z"/>
<path color="#a8d22d" d="M5564,1245l13,8 6,-8 -13,-16zM6213,1470l14,1 6,-17 -14,8z"/>
<path color="#bdd827" d="M5577,1253l12,16 6,-7 -12,-17zM5602,1282l12,-5 5,-30 -12,10zM6173,1468l13,15 7,-27 -13,-18zM6200,1477l13,-7 6,-8 -14,9z"/>
<path color="#c9d827" d="M5589,1269l13,13 5,-25 -12,5zM6186,1483l14,-6 5,-6 -12,-15z"/>
<path color="#abd22d" d="M5614,1277l12,-7 6,-22 -13,-1zM6161,1452l12,16 7,-30 -13,-8zM6687,1632l37,16 7,-19 -38,-17z"/>
<path color="#9ccf2d" d="M5650,1275l484,165 7,-19 -485,-165z"/>
<path color="#a2d22d" d="M6649,1616l38,16 6,-20 -37,-15z"/>
<path color="#aed52a" d="M6724,1648l38,16 7,-19 -38,-16z"/>
<path color="#b4d52a" d="M6762,1664l39,14 6,-19 -38,-14z"/>
<path color="#b7d52a" d="M5062,1094l484,166 6,-19 -484,-165zM5546,1260l12,4 6,-19 -12,-4zM5558,1264l12,4 7,-15 -13,-8zM5644,1294l12,4 7,-19 -13,-4zM5656,1298l459,157 6,-20 -458,-156zM6115,1455l13,5 6,-20 -13,-5zM6207,1486l13,5 7,-20 -14,-1zM6220,1491l13,4 7,-19 -13,-5zM6233,1495l371,127 7,-20 -371,-126zM6604,1622l38,14 7,-20 -38,-14z"/>
<path color="#c0d827" d="M5570,1268l12,7 7,-6 -12,-16zM5620,1299l12,-6 6,-22 -12,-1zM6141,1467l12,15 8,-30 -13,-7zM6193,1485l14,1 6,-16 -13,7zM6680,1651l37,16 7,-19 -37,-16z"/>
<path color="#d2db24" d="M5582,1275l13,15 7,-8 -13,-13zM5607,1302l13,-3 6,-29 -12,7zM6153,1482l13,13 7,-27 -12,-16zM6180,1491l13,-6 7,-8 -14,6z"/>
<path color="#dbde21" d="M5595,1290l12,12 7,-25 -12,5zM6166,1495l14,-4 6,-8 -13,-15z"/>
<path color="#bad52a" d="M5632,1293l12,1 6,-19 -12,-4zM6128,1460l13,7 7,-22 -14,-5zM6642,1636l38,15 7,-19 -38,-16z"/>
<path color="#c6d827" d="M6717,1667l38,16 7,-19 -38,-16z"/>
<path color="#c9d827" d="M6755,1683l39,14 7,-19 -39,-14z"/>
<path color="#ccdb24" d="M5056,1112l495,171 7,-19 -496,-170zM5551,1283l12,4 7,-19 -12,-4zM5649,1317l13,4 7,-19 -13,-4zM5662,1321l433,149 7,-20 -433,-148zM6095,1470l13,5 7,-20 -13,-5zM6200,1506l13,4 7,-19 -13,-5zM6213,1510l384,132 7,-20 -384,-131z"/>
<path color="#cfdb24" d="M5563,1287l13,4 6,-16 -12,-7zM5637,1317l12,0 7,-19 -12,-4zM6108,1475l13,9 7,-24 -13,-5zM6187,1501l13,5 7,-20 -14,-1zM6597,1642l38,14 7,-20 -38,-14z"/>
<path color="#d5db24" d="M5576,1291l12,7 7,-8 -13,-15zM6173,1499l14,2 6,-16 -13,6zM6672,1671l38,15 7,-19 -37,-16z"/>
<path color="#e4de21" d="M5588,1298l12,12 7,-8 -12,-12zM6160,1503l13,-4 7,-8 -14,4z"/>
<path color="#ede11e" d="M5600,1310l13,12 7,-23 -13,3zM6146,1506l14,-3 6,-8 -13,-13z"/>
<path color="#e7de21" d="M5613,1322l12,0 7,-29 -12,6zM6133,1497l13,9 7,-24 -12,-15z"/>
<path color="#d8de21" d="M5625,1322l12,-5 7,-23 -12,-1zM6121,1484l12,13 8,-30 -13,-7z"/>
<path color="#d2db24" d="M6635,1656l37,15 8,-20 -38,-15z"/>
<path color="#dbde21" d="M6710,1686l38,16 7,-19 -38,-16z"/>
<path color="#dede21" d="M6748,1702l39,14 7,-19 -39,-14z"/>
<path color="#e4de21" d="M5049,1130l507,175 7,-18 -507,-175zM5556,1305l12,5 8,-19 -13,-4zM5568,1310l13,4 7,-16 -12,-7zM5655,1342l12,2 7,-19 -12,-4zM5667,1344l12,4 8,-19 -13,-4zM5679,1348l382,132 7,-20 -381,-131zM6061,1480l13,5 7,-20 -13,-5zM6074,1485l13,6 8,-21 -14,-5zM6166,1516l13,4 8,-19 -14,-2zM6179,1520l13,5 8,-19 -13,-5zM6192,1525l397,137 8,-20 -397,-136zM6589,1662l38,14 8,-20 -38,-14z"/>
<path color="#eae11e" d="M5581,1314l12,5 7,-9 -12,-12zM6153,1513l13,3 7,-17 -13,4zM6665,1691l38,15 7,-20 -38,-15z"/>
<path color="#f0d51e" d="M5593,1319l12,10 8,-7 -13,-12zM6139,1513l14,0 7,-10 -14,3z"/>
<path color="#f0c91e" d="M5605,1329l13,12 7,-19 -12,0zM6126,1517l13,-4 7,-7 -13,-9z"/>
<path color="#f0cc1e" d="M5618,1341l12,5 7,-29 -12,5zM6113,1513l13,4 7,-20 -12,-13z"/>
<path color="#eddb1e" d="M5630,1346l12,-3 7,-26 -12,0zM6100,1501l13,12 8,-29 -13,-9z"/>
<path color="#e7e11e" d="M5642,1343l13,-1 7,-21 -13,-4zM6087,1491l13,10 8,-26 -13,-5z"/>
<path color="#e7de21" d="M6627,1676l38,15 7,-20 -37,-15z"/>
<path color="#ede11e" d="M6703,1706l38,15 7,-19 -38,-16z"/>
<path color="#edde1e" d="M6741,1721l38,14 8,-19 -39,-14z"/>
<path color="#f0d21e" d="M5041,1148l532,185 8,-19 -532,-184zM5573,1333l12,4 8,-18 -12,-5zM5672,1368l12,3 8,-19 -13,-4zM5684,1371l13,4 7,-18 -12,-5zM5697,1375l330,115 8,-19 -331,-114zM6027,1490l13,5 8,-20 -13,-4zM6040,1495l13,6 8,-21 -13,-5zM6145,1531l13,4 8,-19 -13,-3zM6158,1535l424,147 7,-20 -423,-146zM6582,1682l37,14 8,-20 -38,-14z"/>
<path color="#f0cc1e" d="M5585,1337l12,4 8,-12 -12,-10zM5659,1368l13,0 7,-20 -12,-4zM6053,1501l13,8 8,-24 -13,-5zM6132,1527l13,4 8,-18 -14,0z"/>
<path color="#f0c01e" d="M5597,1341l13,7 8,-7 -13,-12zM6119,1525l13,2 7,-14 -13,4zM6733,1740l38,14 8,-19 -38,-14z"/>
<path color="#f0b41e" d="M5610,1348l12,11 8,-13 -12,-5zM6105,1526l14,-1 7,-8 -13,-4z"/>
<path color="#f0b11e" d="M5622,1359l13,9 7,-25 -12,3zM6092,1526l13,0 8,-13 -13,-12z"/>
<path color="#f0b71e" d="M5635,1368l12,2 8,-28 -13,1zM6079,1519l13,7 8,-25 -13,-10z"/>
<path color="#f0c31e" d="M5647,1370l12,-2 8,-24 -12,-2zM6066,1509l13,10 8,-28 -13,-6zM6695,1725l38,15 8,-19 -38,-15z"/>
<path color="#f0cf1e" d="M6619,1696l38,14 8,-19 -38,-15z"/>
<path color="#f0c91e" d="M6657,1710l38,15 8,-19 -38,-15z"/>
<path color="#f0b41e" d="M5033,1166l544,189 8,-18 -544,-189zM5577,1355l12,5 8,-19 -12,-4zM5688,1396l13,3 8,-19 -12,-5zM5701,1399l12,4 8,-19 -12,-4zM5713,1403l13,4 8,-19 -13,-4zM5726,1407l254,89 8,-20 -254,-88zM5980,1496l13,4 8,-19 -13,-5zM5993,1500l13,5 8,-20 -13,-4zM6006,1505l13,6 8,-21 -13,-5zM6124,1545l13,5 8,-19 -13,-4zM6137,1550l436,152 9,-20 -437,-151zM6573,1702l38,13 8,-19 -37,-14z"/>
<path color="#f0b11e" d="M5589,1360l13,4 8,-16 -13,-7zM6110,1541l14,4 8,-18 -13,-2zM6611,1715l38,15 8,-20 -38,-14z"/>
<path color="#f0ab1e" d="M5602,1364l12,5 8,-10 -12,-11zM6097,1537l13,4 9,-16 -14,1z"/>
<path color="#f3a21e" d="M5614,1369l12,7 9,-8 -13,-9zM6084,1535l13,2 8,-11 -13,0z"/>
<path color="#f39921" d="M5626,1376l13,9 8,-15 -12,-2zM5639,1385l12,8 8,-25 -12,2zM6058,1534l13,1 8,-16 -13,-10zM6071,1535l13,0 8,-9 -13,-7z"/>
<path color="#f39f1e" d="M5651,1393l13,2 8,-27 -13,0zM6045,1528l13,6 8,-25 -13,-8z"/>
<path color="#f3a81e" d="M5664,1395l12,0 8,-24 -12,-3zM6032,1519l13,9 8,-27 -13,-6zM6687,1745l38,14 8,-19 -38,-15z"/>
<path color="#f0ae1e" d="M5676,1395l12,1 9,-21 -13,-4zM6019,1511l13,8 8,-24 -13,-5zM6649,1730l38,15 8,-20 -38,-15z"/>
<path color="#f3a51e" d="M6725,1759l38,14 8,-19 -38,-14z"/>
<path color="#f39921" d="M5024,1184l569,198 9,-18 -569,-198zM5593,1382l12,4 9,-17 -12,-5zM5730,1431l12,4 9,-19 -13,-5zM5742,1435l13,4 8,-19 -12,-4zM5755,1439l178,62 8,-19 -178,-62zM5933,1501l13,5 8,-19 -13,-5zM5946,1506l13,5 8,-20 -13,-4zM6089,1555l13,5 8,-19 -13,-4zM6102,1560l463,161 8,-19 -463,-161zM6565,1721l38,14 8,-20 -38,-13z"/>
<path color="#f39621" d="M5605,1386l12,5 9,-15 -12,-7zM5717,1428l13,3 8,-20 -12,-4zM5959,1511l12,5 9,-20 -13,-5zM6076,1551l13,4 8,-18 -13,-2zM6603,1735l37,14 9,-19 -38,-15z"/>
<path color="#f39021" d="M5617,1391l13,5 9,-11 -13,-9zM5692,1424l13,2 8,-23 -12,-4zM5984,1523l13,8 9,-26 -13,-5zM6062,1547l14,4 8,-16 -13,0zM6678,1764l38,14 9,-19 -38,-14z"/>
<path color="#f38721" d="M5630,1396l12,6 9,-9 -12,-8zM5667,1417l13,5 8,-26 -12,-1zM6010,1537l13,4 9,-22 -13,-8zM6049,1544l13,3 9,-12 -13,-1z"/>
<path color="#f38421" d="M5642,1402l13,7 9,-14 -13,-2zM5655,1409l12,8 9,-22 -12,0zM6023,1541l13,1 9,-14 -13,-9zM6036,1542l13,2 9,-10 -13,-6z"/>
<path color="#f38a21" d="M5680,1422l12,2 9,-25 -13,-3zM5997,1531l13,6 9,-26 -13,-6z"/>
<path color="#f39321" d="M5705,1426l12,2 9,-21 -13,-4zM5971,1516l13,7 9,-23 -13,-4zM6640,1749l38,15 9,-19 -38,-15z"/>
<path color="#f38d21" d="M6716,1778l39,14 8,-19 -38,-14z"/>
<path color="#f38121" d="M5015,1201l593,208 9,-18 -593,-207zM5608,1409l13,4 9,-17 -13,-5zM6053,1565l13,4 10,-18 -14,-4zM6066,1569l490,172 9,-20 -489,-170zM6556,1741l38,13 9,-19 -38,-14z"/>
<path color="#f37e21" d="M5621,1413l12,4 9,-15 -12,-6zM5771,1468l12,4 10,-20 -13,-5zM5783,1472l13,4 9,-20 -12,-4zM5796,1476l13,4 9,-19 -13,-5zM5809,1480l12,4 10,-19 -13,-4zM5821,1484l26,9 9,-19 -25,-9zM5847,1493l13,5 9,-20 -13,-4zM5860,1498l12,4 9,-19 -12,-5zM5872,1502l13,5 9,-20 -13,-4zM5885,1507l13,5 9,-20 -13,-5zM6040,1560l13,5 9,-18 -13,-3zM6594,1754l38,14 8,-19 -37,-14z"/>
<path color="#f37b21" d="M5633,1417l12,5 10,-13 -13,-7zM5745,1461l13,3 9,-21 -12,-4zM5758,1464l13,4 9,-21 -13,-4zM5898,1512l13,6 9,-22 -13,-4zM5911,1518l13,6 9,-23 -13,-5zM6027,1556l13,4 9,-16 -13,-2zM6632,1768l38,15 8,-19 -38,-15z"/>
<path color="#f37521" d="M5645,1422l13,5 9,-10 -12,-8zM5720,1455l13,3 9,-23 -12,-4zM5936,1530l13,6 10,-25 -13,-5zM6014,1552l13,4 9,-14 -13,-1zM6708,1797l38,14 9,-19 -39,-14z"/>
<path color="#f36f21" d="M5658,1427l12,6 10,-11 -13,-5zM5695,1446l13,5 9,-23 -12,-2zM5962,1540l13,4 9,-21 -13,-7zM6001,1549l13,3 9,-11 -13,-4z"/>
<path color="#f36c21" d="M5670,1433l13,6 9,-15 -12,-2zM5683,1439l12,7 10,-20 -13,-2zM5975,1544l13,2 9,-15 -13,-8zM5988,1546l13,3 9,-12 -13,-6z"/>
<path color="#f37221" d="M5708,1451l12,4 10,-24 -13,-3zM5949,1536l13,4 9,-24 -12,-5z"/>
<path color="#f37821" d="M5733,1458l12,3 10,-22 -13,-4zM5924,1524l12,6 10,-24 -13,-5zM6670,1783l38,14 8,-19 -38,-14z"/>
<path color="#f36921" d="M5005,1217l618,218 10,-18 -618,-216zM5623,1435l13,4 9,-17 -12,-5zM5636,1439l12,5 10,-17 -13,-5zM6005,1569l13,5 9,-18 -13,-4zM6018,1574l13,4 9,-18 -13,-4zM6031,1578l516,182 9,-19 -516,-181zM6547,1760l37,13 10,-19 -38,-13z"/>
<path color="#f36624" d="M5648,1444l13,4 9,-15 -12,-6zM5992,1564l13,5 9,-17 -13,-3zM6584,1773l38,14 10,-19 -38,-14z"/>
<path color="#f36324" d="M5661,1448l12,4 10,-13 -13,-6zM5979,1560l13,4 9,-15 -13,-3zM6622,1787l38,14 10,-18 -38,-15z"/>
<path color="#f36024" d="M5673,1452l13,5 9,-11 -12,-7zM5966,1556l13,4 9,-14 -13,-2zM6660,1801l39,14 9,-18 -38,-14zM6699,1815l38,14 9,-18 -38,-14z"/>
<path color="#f05a24" d="M5686,1457l12,5 10,-11 -13,-5zM5698,1462l13,5 9,-12 -12,-4zM5711,1467l12,6 10,-15 -13,-3zM5723,1473l13,5 9,-17 -12,-3zM5736,1478l12,6 10,-20 -13,-3zM5748,1484l13,5 10,-21 -13,-4zM5761,1489l13,5 9,-22 -12,-4zM5875,1530l13,4 10,-22 -13,-5zM5888,1534l13,4 10,-20 -13,-6zM5901,1538l13,3 10,-17 -13,-6zM5914,1541l13,3 9,-14 -12,-6zM5927,1544l13,4 9,-12 -13,-6zM5940,1548l13,4 9,-12 -13,-4zM5953,1552l13,4 9,-12 -13,-4z"/>
<path color="#f05d24" d="M5774,1494l12,4 10,-22 -13,-4zM5786,1498l13,5 10,-23 -13,-4zM5799,1503l13,4 9,-23 -12,-4zM5812,1507l25,9 10,-23 -26,-9zM5837,1516l13,5 10,-23 -13,-5zM5850,1521l13,4 9,-23 -12,-4zM5863,1525l12,5 10,-23 -13,-5z"/>
<path color="#f05424" d="M4994,1233l669,236 10,-17 -668,-235zM5663,1469l12,5 11,-17 -13,-5zM5675,1474l13,4 10,-16 -12,-5zM5943,1568l13,5 10,-17 -13,-4zM5956,1573l13,4 10,-17 -13,-4zM5969,1577l568,201 10,-18 -568,-200zM6537,1778l38,14 9,-19 -37,-13z"/>
<path color="#f05124" d="M5688,1478l13,5 10,-16 -13,-5zM5701,1483l12,4 10,-14 -12,-6zM5917,1559l13,5 10,-16 -13,-4zM5930,1564l13,4 10,-16 -13,-4zM6575,1792l38,13 9,-18 -38,-14zM6613,1805l38,15 9,-19 -38,-14z"/>
<path color="#f04e24" d="M5713,1487l13,5 10,-14 -13,-5zM5904,1554l13,5 10,-15 -13,-3zM6651,1820l38,14 10,-19 -39,-14z"/>
<path color="#f04b24" d="M5726,1492l12,4 10,-12 -12,-6zM5738,1496l13,5 10,-12 -13,-5zM5878,1546l13,4 10,-12 -13,-4zM5891,1550l13,4 10,-13 -13,-3zM6689,1834l39,13 9,-18 -38,-14z"/>
<path color="#f04824" d="M5751,1501l13,4 10,-11 -13,-5zM5764,1505l12,5 10,-12 -12,-4zM5776,1510l13,4 10,-11 -13,-5zM5789,1514l51,18 10,-11 -51,-18zM5840,1532l13,5 10,-12 -13,-4zM5853,1537l12,4 10,-11 -12,-5zM5865,1541l13,5 10,-12 -13,-4z"/>
<path color="#f04227" d="M4983,1248l758,269 10,-16 -757,-268zM5741,1517l12,4 11,-16 -13,-4zM5753,1521l13,5 10,-16 -12,-5zM5766,1526l13,4 10,-16 -13,-4zM5779,1530l51,18 10,-16 -51,-18zM5830,1548l12,5 11,-16 -13,-5zM5842,1553l13,5 10,-17 -12,-4zM5855,1558l13,4 10,-16 -13,-5zM5868,1562l660,234 9,-18 -659,-232zM6528,1796l37,13 10,-17 -38,-14zM6565,1809l38,14 10,-18 -38,-13z"/>
<path color="#f03f27" d="M6603,1823l39,14 9,-17 -38,-15z"/>
<path color="#f03c27" d="M6642,1837l38,14 9,-17 -38,-14zM6680,1851l39,14 9,-18 -39,-13z"/>
<path color="#f03327" d="M4972,1263l1546,550 10,-17 -1545,-548zM6518,1813l38,14 9,-18 -37,-13zM6556,1827l38,13 9,-17 -38,-14z"/>
<path color="#f03027" d="M6594,1840l38,14 10,-17 -39,-14z"/>
<path color="#ed3027" d="M6632,1854l38,14 10,-17 -38,-14zM6670,1868l39,14 10,-17 -39,-14z"/>
<path color="#ed2a27" d="M4960,1277l1548,553 10,-17 -1546,-550zM6508,1830l38,13 10,-16 -38,-14zM6546,1843l38,14 10,-17 -38,-13zM6584,1857l38,14 10,-17 -38,-14z"/>
<path color="#ed2a2a" d="M6622,1871l39,14 9,-17 -38,-14zM6661,1885l39,14 9,-17 -39,-14z"/>
<path color="#ed272a" d="M4948,1291l1588,568 10,-16 -1586,-566zM6536,1859l38,14 10,-16 -38,-14zM6574,1873l39,14 9,-16 -38,-14zM6613,1887l38,14 10,-16 -39,-14zM6651,1901l39,14 10,-16 -39,-14z"/>
<path color="#ed242a" d="M4936,1304l1590,571 10,-16 -1588,-568zM6526,1875l38,14 10,-16 -38,-14zM6564,1889l39,14 10,-16 -39,-14zM6603,1903l39,14 9,-16 -38,-14zM6642,1917l38,14 10,-16 -39,-14zM4924,1317l1631,587 9,-15 -1628,-585zM6555,1904l38,14 10,-15 -39,-14zM6593,1918l78,28 9,-15 -77,-28z"/>
<path color="#ed212d" d="M4911,1329l1750,633 10,-16 -1747,-629zM4899,1342l1752,635 10,-15 -1750,-633zM4886,1354l1756,638 9,-15 -1752,-635zM4874,1366l1758,641 10,-15 -1756,-638zM4861,1378l1761,644 10,-15 -1758,-641zM4849,1390l1763,647 10,-15 -1761,-644zM4836,1402l1766,650 10,-15 -1763,-647zM4823,1415l1769,653 10,-16 -1766,-650zM4810,1427l1772,656 10,-15 -1769,-653zM4797,1439l1775,659 10,-15 -1772,-656zM4784,1451l1778,662 10,-15 -1775,-659zM4771,1463l1781,666 10,-16 -1778,-662zM4758,1476l1784,668 10,-15 -1781,-666zM4745,1488l1787,672 10,-16 -1784,-668zM4732,1500l1789,675 11,-15 -1787,-672zM4718,1513l1793,678 10,-16 -1789,-675zM4705,1525l1796,682 10,-16 -1793,-678zM4691,1538l1799,684 11,-15 -1796,-682zM4678,1551l1802,687 10,-16 -1799,-684zM4664,1563l1805,691 11,-16 -1802,-687z"/>
</g>
<line x1="453.1" y1="92.9" x2="652.0" y2="161.3" stroke="#a4b2b8" stroke-width="0.7"/>
<line x1="652.0" y1="161.3" x2="735.4" y2="46.5" stroke="#a4b2b8" stroke-width="0.7"/>
<line x1="645.6" y1="229.0" x2="652.0" y2="161.3" stroke="#a4b2b8" stroke-width="0.7"/>
<line x1="463.3" y1="158.7" x2="453.1" y2="92.9" stroke="#8a8484" stroke-width="0.8"/>
<line x1="463.3" y1="158.7" x2="645.6" y2="229.0" stroke="#a09a9a" stroke-width="0.8"/>
<line x1="645.6" y1="229.0" x2="724.1" y2="109.7" stroke="#a09a9a" stroke-width="0.8"/>
<line x1="465.2" y1="159.5" x2="468.7" y2="156.2" stroke="#8a4a40" stroke-width="0.7"/>
<line x1="481.5" y1="165.7" x2="483.4" y2="163.8" stroke="#8a4a40" stroke-width="0.7"/>
<line x1="498.1" y1="172.1" x2="500.0" y2="170.2" stroke="#8a4a40" stroke-width="0.7"/>
<line x1="515.1" y1="178.7" x2="517.0" y2="176.7" stroke="#8a4a40" stroke-width="0.7"/>
<line x1="532.5" y1="185.4" x2="534.3" y2="183.4" stroke="#8a4a40" stroke-width="0.7"/>
<line x1="550.2" y1="192.2" x2="553.4" y2="188.6" stroke="#8a4a40" stroke-width="0.7"/>
<line x1="568.4" y1="199.3" x2="570.2" y2="197.1" stroke="#8a4a40" stroke-width="0.7"/>
<line x1="587.0" y1="206.4" x2="588.7" y2="204.2" stroke="#8a4a40" stroke-width="0.7"/>
<line x1="606.1" y1="213.8" x2="607.7" y2="211.5" stroke="#8a4a40" stroke-width="0.7"/>
<line x1="625.6" y1="221.3" x2="627.2" y2="219.0" stroke="#8a4a40" stroke-width="0.7"/>
<line x1="645.6" y1="229.0" x2="648.3" y2="224.9" stroke="#8a4a40" stroke-width="0.7"/>
<line x1="646.7" y1="227.2" x2="642.2" y2="225.5" stroke="#8a4a40" stroke-width="0.7"/>
<line x1="656.0" y1="213.1" x2="653.4" y2="212.1" stroke="#8a4a40" stroke-width="0.7"/>
<line x1="664.9" y1="199.6" x2="662.4" y2="198.6" stroke="#8a4a40" stroke-width="0.7"/>
<line x1="673.5" y1="186.6" x2="670.9" y2="185.7" stroke="#8a4a40" stroke-width="0.7"/>
<line x1="681.6" y1="174.2" x2="679.1" y2="173.4" stroke="#8a4a40" stroke-width="0.7"/>
<line x1="689.4" y1="162.3" x2="685.3" y2="161.0" stroke="#8a4a40" stroke-width="0.7"/>
<line x1="696.9" y1="151.0" x2="694.5" y2="150.2" stroke="#8a4a40" stroke-width="0.7"/>
<line x1="704.1" y1="140.0" x2="701.8" y2="139.3" stroke="#8a4a40" stroke-width="0.7"/>
<line x1="711.1" y1="129.5" x2="708.7" y2="128.8" stroke="#8a4a40" stroke-width="0.7"/>
<line x1="717.7" y1="119.4" x2="715.4" y2="118.7" stroke="#8a4a40" stroke-width="0.7"/>
<line x1="724.1" y1="109.7" x2="720.3" y2="108.5" stroke="#8a4a40" stroke-width="0.7"/>
<line x1="463.0" y1="157.0" x2="466.6" y2="158.3" stroke="#5a4040" stroke-width="0.7"/>
<line x1="462.1" y1="151.1" x2="463.9" y2="151.8" stroke="#5a4040" stroke-width="0.7"/>
<line x1="461.2" y1="145.1" x2="463.0" y2="145.8" stroke="#5a4040" stroke-width="0.7"/>
<line x1="460.2" y1="139.0" x2="462.1" y2="139.7" stroke="#5a4040" stroke-width="0.7"/>
<line x1="459.3" y1="132.8" x2="463.0" y2="134.2" stroke="#5a4040" stroke-width="0.7"/>
<line x1="458.3" y1="126.6" x2="460.2" y2="127.2" stroke="#5a4040" stroke-width="0.7"/>
<line x1="457.3" y1="120.2" x2="459.2" y2="120.9" stroke="#5a4040" stroke-width="0.7"/>
<line x1="456.3" y1="113.7" x2="458.2" y2="114.4" stroke="#5a4040" stroke-width="0.7"/>
<line x1="455.3" y1="107.1" x2="459.1" y2="108.5" stroke="#5a4040" stroke-width="0.7"/>
<line x1="454.3" y1="100.4" x2="456.2" y2="101.1" stroke="#5a4040" stroke-width="0.7"/>
<line x1="453.2" y1="93.6" x2="455.2" y2="94.3" stroke="#5a4040" stroke-width="0.7"/>
</g>
<g id="pcd">
<ellipse cx="203.7" cy="403.2" rx="129.0" ry="131.6" fill="url(#gc0)"/>
<g clip-path="url(#clc)"><circle cx="204.5" cy="401.7" r="65.8" fill="url(#gc1)" filter="url(#b1)"/>
<circle cx="204.5" cy="401.7" r="65.8" fill="none" stroke="url(#gc3)" stroke-opacity="0.65" stroke-width="2.3" filter="url(#b1)" mask="url(#mk)"/>
<circle cx="204.0" cy="403.2" r="15.0" fill="url(#gc2)" filter="url(#b1)"/></g>
<rect x="336.8" y="271.5" width="10.5" height="273.7" fill="url(#gcb)" stroke="#cfcfcf" stroke-width="0.6"/>
<path d="M68.4,266.6V539.8H332" fill="none" stroke="#4f2a2a" stroke-width="1"/>
<path d="M68.4,534.4h2.0M68.4,521.2h2.0M68.4,508.1h3.6M68.4,494.9h2.0M68.4,481.8h2.0M68.4,468.7h2.0M68.4,455.5h3.6M68.4,442.4h2.0M68.4,429.3h2.0M68.4,416.1h2.0M68.4,403.0h3.6M68.4,389.9h2.0M68.4,376.7h2.0M68.4,363.6h2.0M68.4,350.5h3.6M68.4,337.3h2.0M68.4,324.2h2.0M68.4,311.1h2.0M68.4,297.9h3.6M68.4,284.8h2.0M68.4,271.6h2.0M73.9,539.8v-2.0M86.9,539.8v-2.0M99.9,539.8v-3.6M112.9,539.8v-2.0M125.8,539.8v-2.0M138.8,539.8v-2.0M151.8,539.8v-3.6M164.8,539.8v-2.0M177.8,539.8v-2.0M190.7,539.8v-2.0M203.7,539.8v-3.6M216.7,539.8v-2.0M229.6,539.8v-2.0M242.6,539.8v-2.0M255.6,539.8v-3.6M268.6,539.8v-2.0M281.5,539.8v-2.0M294.5,539.8v-2.0M307.5,539.8v-3.6M320.5,539.8v-2.0" fill="none" stroke="#4f2a2a" stroke-width="0.9"/>
<text x="65.0" y="303.5" font-size="15.8" text-anchor="end" fill="#1c1718" stroke="#1c1718" stroke-width="0.3">4</text>
<text x="307.5" y="559.4" font-size="15.8" text-anchor="middle" fill="#1c1718" stroke="#1c1718" stroke-width="0.3">4</text>
<text x="65.0" y="356.1" font-size="15.8" text-anchor="end" fill="#1c1718" stroke="#1c1718" stroke-width="0.3">2</text>
<text x="255.6" y="559.4" font-size="15.8" text-anchor="middle" fill="#1c1718" stroke="#1c1718" stroke-width="0.3">2</text>
<text x="65.0" y="408.6" font-size="15.8" text-anchor="end" fill="#1c1718" stroke="#1c1718" stroke-width="0.3">0</text>
<text x="203.7" y="559.4" font-size="15.8" text-anchor="middle" fill="#1c1718" stroke="#1c1718" stroke-width="0.3">0</text>
<text x="65.0" y="461.1" font-size="15.8" text-anchor="end" fill="#1c1718" stroke="#1c1718" stroke-width="0.3"><tspan font−size="19.5">−</tspan><tspan dx="0.5">2</tspan></text>
<text x="151.8" y="559.4" font-size="15.8" text-anchor="middle" fill="#1c1718" stroke="#1c1718" stroke-width="0.3"><tspan font−size="19.5">−</tspan><tspan dx="0.5">2</tspan></text>
<text x="65.0" y="513.7" font-size="15.8" text-anchor="end" fill="#1c1718" stroke="#1c1718" stroke-width="0.3"><tspan font−size="19.5">−</tspan><tspan dx="0.5">4</tspan></text>
<text x="99.9" y="559.4" font-size="15.8" text-anchor="middle" fill="#1c1718" stroke="#1c1718" stroke-width="0.3"><tspan font−size="19.5">−</tspan><tspan dx="0.5">4</tspan></text>
<text transform="translate(18.3,409.3) scale(1.08,1)" font-size="21" fill="#231f20">y/λ</text>
<text transform="translate(192.5,585.8) scale(1.08,1)" font-size="21" fill="#231f20">x/λ</text>
<text x="353.6" y="315.8" font-size="17.3" text-anchor="start" fill="#231f20" >0.50</text>
<text x="353.6" y="367.5" font-size="17.3" text-anchor="start" fill="#231f20" >0.25</text>
<text x="353.6" y="419.2" font-size="17.3" text-anchor="start" fill="#231f20" >0</text>
<text x="353.6" y="470.9" font-size="17.3" text-anchor="start" fill="#231f20" >−0.25</text>
<text x="353.6" y="522.6" font-size="17.3" text-anchor="start" fill="#231f20" >−0.50</text>
<text transform="translate(287.7,288.9) scale(1.08,1)" font-size="18.5" fill="#231f20">E<tspan font-size="8" dx="-5.5" dy="1">t</tspan><tspan dy="-1" dx="0.5">(x,y)</tspan></text>
<text x="198.6" y="263.6" font-size="20.5" text-anchor="start" fill="#231f20" >(c)</text>
<circle cx="591.8" cy="402.5" r="133.0" fill="url(#gd0)"/>
<g clip-path="url(#cld)"><circle cx="591.8" cy="402.5" r="68" fill="none" stroke="url(#gd1)" stroke-opacity="0.8" stroke-width="1.6" filter="url(#b1)"/></g>
<circle cx="591.5" cy="402.5" r="13.2" fill="none" stroke="#fbd36a" stroke-opacity="0.55" stroke-width="2.4" filter="url(#b1)"/>
<circle cx="591.5" cy="402.5" r="10.8" fill="#fffefa" filter="url(#b1)"/>
<rect x="737.6" y="273.7" width="12.4" height="273.5" fill="url(#gdb)" stroke="#cfcfcf" stroke-width="0.6"/>
<path d="M452,264V541.2H729.6" fill="none" stroke="#505050" stroke-width="1.15"/>
<path d="M452,535.6h2.0M458.4,541.2v-2.0M452,522.3h2.0M471.7,541.2v-2.0M452,509.0h3.7M485.0,541.2v-3.7M452,495.7h2.0M498.3,541.2v-2.0M452,482.4h2.0M511.6,541.2v-2.0M452,469.1h2.0M524.9,541.2v-2.0M452,455.8h3.7M538.2,541.2v-3.7M452,442.5h2.0M551.5,541.2v-2.0M452,429.2h2.0M564.8,541.2v-2.0M452,415.9h2.0M578.1,541.2v-2.0M452,402.6h3.7M591.4,541.2v-3.7M452,389.3h2.0M604.7,541.2v-2.0M452,376.0h2.0M618.0,541.2v-2.0M452,362.7h2.0M631.3,541.2v-2.0M452,349.4h3.7M644.6,541.2v-3.7M452,336.1h2.0M657.9,541.2v-2.0M452,322.8h2.0M671.2,541.2v-2.0M452,309.5h2.0M684.5,541.2v-2.0M452,296.2h3.7M697.8,541.2v-3.7M452,282.9h2.0M711.1,541.2v-2.0M452,269.6h2.0M724.4,541.2v-2.0" fill="none" stroke="#505050" stroke-width="0.9"/>
<text x="448.6" y="301.7" font-size="15.8" text-anchor="end" fill="#1f1f1f" stroke="#1f1f1f" stroke-width="0.2">4</text>
<text x="697.8" y="561.2" font-size="15.8" text-anchor="middle" fill="#1f1f1f" stroke="#1f1f1f" stroke-width="0.2">4</text>
<text x="448.6" y="354.9" font-size="15.8" text-anchor="end" fill="#1f1f1f" stroke="#1f1f1f" stroke-width="0.2">2</text>
<text x="644.6" y="561.2" font-size="15.8" text-anchor="middle" fill="#1f1f1f" stroke="#1f1f1f" stroke-width="0.2">2</text>
<text x="448.6" y="408.1" font-size="15.8" text-anchor="end" fill="#1f1f1f" stroke="#1f1f1f" stroke-width="0.2">0</text>
<text x="591.4" y="561.2" font-size="15.8" text-anchor="middle" fill="#1f1f1f" stroke="#1f1f1f" stroke-width="0.2">0</text>
<text x="448.6" y="461.3" font-size="15.8" text-anchor="end" fill="#1f1f1f" stroke="#1f1f1f" stroke-width="0.2"><tspan font−size="19.5">−</tspan><tspan dx="0.5">2</tspan></text>
<text x="538.2" y="561.2" font-size="15.8" text-anchor="middle" fill="#1f1f1f" stroke="#1f1f1f" stroke-width="0.2"><tspan font−size="19.5">−</tspan><tspan dx="0.5">2</tspan></text>
<text x="448.6" y="514.5" font-size="15.8" text-anchor="end" fill="#1f1f1f" stroke="#1f1f1f" stroke-width="0.2"><tspan font−size="19.5">−</tspan><tspan dx="0.5">4</tspan></text>
<text x="485.0" y="561.2" font-size="15.8" text-anchor="middle" fill="#1f1f1f" stroke="#1f1f1f" stroke-width="0.2"><tspan font−size="19.5">−</tspan><tspan dx="0.5">4</tspan></text>
<text transform="translate(408.3,409.3) scale(1.07,1)" font-size="21" fill="#231f20">y/λ</text>
<text transform="translate(572,583) scale(1.07,1)" font-size="21" fill="#231f20">x/λ</text>
<text x="755.8" y="552.4" font-size="16.3" text-anchor="start" fill="#231f20" >0</text>
<text x="755.8" y="497.7" font-size="16.3" text-anchor="start" fill="#231f20" >0.1</text>
<text x="755.8" y="443.0" font-size="16.3" text-anchor="start" fill="#231f20" >0.2</text>
<text x="755.8" y="388.3" font-size="16.3" text-anchor="start" fill="#231f20" >0.3</text>
<text x="755.8" y="333.6" font-size="16.3" text-anchor="start" fill="#231f20" >0.4</text>
<text x="755.8" y="278.9" font-size="16.3" text-anchor="start" fill="#231f20" >0.5</text>
<text transform="translate(678.8,288.9) scale(1.0,1)" font-size="18.5" fill="#231f20">I<tspan font-size="11" dx="0" dy="0.5">t</tspan><tspan dy="-0.5" dx="0">(x,y)</tspan></text>
<text x="582.3" y="264.5" font-size="20.5" text-anchor="start" fill="#231f20" >(d)</text>
</g>
<g id="labels3d">
<text x="72.8" y="104.4" font-size="12.6" text-anchor="end" fill="#2a1a16" stroke="#2a1a16" stroke-width="0.25">0.5</text>
<text x="76.0" y="128.5" font-size="12.6" text-anchor="end" fill="#2a1a16" stroke="#2a1a16" stroke-width="0.25">0.0</text>
<text x="79.3" y="151.8" font-size="12.6" text-anchor="end" fill="#2a1a16" stroke="#2a1a16" stroke-width="0.25">−0.5</text>
<text x="77.5" y="174.0" font-size="12.6" text-anchor="middle" fill="#2a1a16" stroke="#2a1a16" stroke-width="0.25">−5</text>
<text x="165.0" y="207.5" font-size="12.6" text-anchor="middle" fill="#2a1a16" stroke="#2a1a16" stroke-width="0.25">0</text>
<text x="259.5" y="245.1" font-size="12.6" text-anchor="middle" fill="#2a1a16" stroke="#2a1a16" stroke-width="0.25">5</text>
<text x="283.0" y="237.1" font-size="12.6" text-anchor="middle" fill="#2a1a16" stroke="#2a1a16" stroke-width="0.25">−5</text>
<text x="318.5" y="172.0" font-size="12.6" text-anchor="middle" fill="#2a1a16" stroke="#2a1a16" stroke-width="0.25">0</text>
<text x="353.0" y="119.5" font-size="12.6" text-anchor="middle" fill="#2a1a16" stroke="#2a1a16" stroke-width="0.25">5</text>
<text x="451.6" y="108.6" font-size="12.6" text-anchor="end" fill="#2a1a16" stroke="#2a1a16" stroke-width="0.25">0.4</text>
<text x="454.4" y="134.7" font-size="12.6" text-anchor="end" fill="#2a1a16" stroke="#2a1a16" stroke-width="0.25">0.2</text>
<text x="458.5" y="158.5" font-size="12.6" text-anchor="end" fill="#2a1a16" stroke="#2a1a16" stroke-width="0.25">0.0</text>
<text x="456.6" y="174.5" font-size="12.6" text-anchor="middle" fill="#2a1a16" stroke="#2a1a16" stroke-width="0.25">−5</text>
<text x="543.6" y="207.2" font-size="12.6" text-anchor="middle" fill="#2a1a16" stroke="#2a1a16" stroke-width="0.25">0</text>
<text x="638.9" y="245.3" font-size="12.6" text-anchor="middle" fill="#2a1a16" stroke="#2a1a16" stroke-width="0.25">5</text>
<text x="662.6" y="236.7" font-size="12.6" text-anchor="middle" fill="#2a1a16" stroke="#2a1a16" stroke-width="0.25">−5</text>
<text x="698.4" y="171.4" font-size="12.6" text-anchor="middle" fill="#2a1a16" stroke="#2a1a16" stroke-width="0.25">0</text>
<text x="731.6" y="119.3" font-size="12.6" text-anchor="middle" fill="#2a1a16" stroke="#2a1a16" stroke-width="0.25">5</text>
<text transform="translate(0.5,137.3) scale(1.1,1)" font-size="18.5" fill="#231f20">E<tspan font-size="8" dx="-5.5" dy="1">t</tspan><tspan dy="-1" dx="0.5">(x,y)</tspan></text>
<text transform="translate(384.8,139) scale(1.0,1)" font-size="18.5" fill="#231f20">I<tspan font-size="11" dy="0.5">t</tspan><tspan dy="-0.5">(x,y)</tspan></text>
<text x="133.6" y="19.4" font-size="20.5" text-anchor="start" fill="#231f20" >(a)</text>
<text x="509.1" y="23.5" font-size="20.5" text-anchor="start" fill="#231f20" >(b)</text>
<text transform="matrix(0.94,0.34,-0.4,0.9,147.0,223.2)" font-size="21.5" fill="#231f20" stroke="#231f20" stroke-width="0.35">y/λ</text>
<text transform="matrix(0.94,0.34,-0.4,0.9,524.3,222.2)" font-size="21.5" fill="#231f20" stroke="#231f20" stroke-width="0.35">y/λ</text>
<text transform="translate(332.5,184.5) rotate(-54)" font-size="21.5" fill="#231f20" stroke="#231f20" stroke-width="0.35">x/λ</text>
<text transform="translate(708.3,185.5) rotate(-54)" font-size="21.5" fill="#231f20" stroke="#231f20" stroke-width="0.35">x/λ</text>
</g>
</svg>
</body></html>
